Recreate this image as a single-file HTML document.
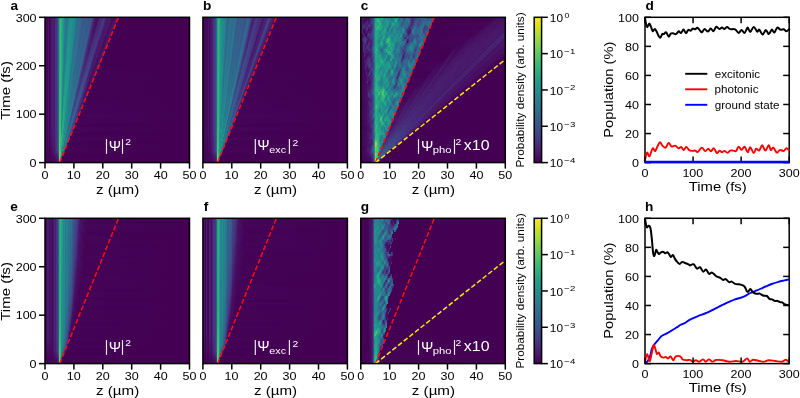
<!DOCTYPE html>
<html><head><meta charset="utf-8"><style>
html,body{margin:0;padding:0;background:#fff;width:800px;height:398px;overflow:hidden}
body{position:relative;font-family:"Liberation Sans",sans-serif}
.hm{position:absolute;overflow:hidden;background:#440154}
.hm i{position:absolute;left:0;width:100%;height:2px;display:block}
svg{position:absolute;left:0;top:0;will-change:transform}
text{font-family:"Liberation Sans",sans-serif}
</style></head><body>

<div class="hm" style="left:45px;top:17.3px;width:144.5px;height:145.3px"><i style="top:0px;background:linear-gradient(90deg,#481567 0.5px,#46075b 1.5px,#450559 2.5px,#481366 3.5px,#440154 4.5px,#471063 5.5px,#482071 7.5px,#481b6d 9.5px,#46317e 10.5px,#453581 11.5px,#414487 12.5px,#32648e 13.5px,#24aa83 14.5px,#33b67a 15.5px,#2db27d 16.5px,#1fa188 17.5px,#2e6e8e 21.5px,#25858e 23.5px,#20918c 25.5px,#24888e 29.5px,#27808e 30.5px,#31678e 32.5px,#306a8e 35.5px,#39558c 38.5px,#375b8d 40.5px,#3b528b 44.5px,#39558c 46.5px,#3f4989 47.5px,#481d6f 49.5px,#460a5d 52.5px,#482374 54.5px,#482a79 57.5px,#453681 58.5px,#443983 59.5px,#481769 62.5px,#481567 63.5px,#481d6f 64.5px,#481467 66.5px,#460b5e 68.5px,#48196b 71.5px,#481c6e 72.5px,#440154 73.5px,#440154 144.5px)"></i><i style="top:2px;background:linear-gradient(90deg,#481567 0.5px,#46075b 1.5px,#450559 2.5px,#481366 3.5px,#440154 4.5px,#471063 5.5px,#482071 7.5px,#481b6d 9.5px,#46317e 10.5px,#453581 11.5px,#414487 12.5px,#32648e 13.5px,#24ab82 14.5px,#34b679 15.5px,#2cb27d 16.5px,#1fa088 17.5px,#2e6e8e 21.5px,#228d8d 24.5px,#20938c 25.5px,#23898e 28.5px,#24878e 29.5px,#31678e 32.5px,#2e6d8e 34.5px,#365c8d 37.5px,#3a548b 38.5px,#375b8d 40.5px,#3a538b 43.5px,#38588c 45.5px,#3c508b 46.5px,#481a6c 49.5px,#460b5f 51.5px,#470c5f 52.5px,#482575 54.5px,#482777 56.5px,#443b83 58.5px,#481a6c 61.5px,#481466 62.5px,#481d6e 64.5px,#460b5e 67.5px,#48196c 71.5px,#440154 72.5px,#440154 144.5px)"></i><i style="top:4px;background:linear-gradient(90deg,#481567 0.5px,#46075b 1.5px,#450559 2.5px,#481366 3.5px,#440154 4.5px,#471063 5.5px,#482071 7.5px,#481b6d 9.5px,#46317e 10.5px,#453581 11.5px,#414487 12.5px,#32648e 13.5px,#25ab82 14.5px,#34b779 15.5px,#2cb17e 16.5px,#1fa088 17.5px,#2e6e8e 21.5px,#228d8d 24.5px,#20938c 25.5px,#23898e 28.5px,#24878e 29.5px,#2f6c8e 31.5px,#31688e 32.5px,#2f6d8e 34.5px,#3a548c 38.5px,#375a8c 40.5px,#3a548b 43.5px,#38578c 45.5px,#3e4b89 46.5px,#481f70 48.5px,#460b5f 51.5px,#482475 53.5px,#482676 55.5px,#443a83 57.5px,#453681 58.5px,#481d6f 60.5px,#481567 61.5px,#481e70 63.5px,#460b5e 66.5px,#48196c 70.5px,#440154 71.5px,#440154 144.5px)"></i><i style="top:6px;background:linear-gradient(90deg,#481567 0.5px,#46075b 1.5px,#450559 2.5px,#481366 3.5px,#440154 4.5px,#471063 5.5px,#482071 7.5px,#481b6d 9.5px,#46317e 10.5px,#453581 11.5px,#414487 12.5px,#32648e 13.5px,#25ab82 14.5px,#34b779 15.5px,#2cb17e 16.5px,#1fa088 17.5px,#2b758e 20.5px,#2d708e 21.5px,#21908c 24.5px,#20948c 25.5px,#23898e 27.5px,#25858e 29.5px,#306a8e 31.5px,#2f6c8e 34.5px,#39568c 37.5px,#37598c 40.5px,#39558c 43.5px,#3a548c 45.5px,#414487 46.5px,#472b7a 47.5px,#481b6d 48.5px,#470d60 50.5px,#470e61 51.5px,#482676 53.5px,#482a79 55.5px,#453681 56.5px,#443983 57.5px,#481769 60.5px,#481567 61.5px,#481d6f 62.5px,#460b5e 66.5px,#48196b 68.5px,#48196b 69.5px,#482072 70.5px,#440154 71.5px,#440154 144.5px)"></i><i style="top:8px;background:linear-gradient(90deg,#481567 0.5px,#46075b 1.5px,#450559 2.5px,#481366 3.5px,#440154 4.5px,#471063 5.5px,#482071 7.5px,#481b6d 9.5px,#46317e 10.5px,#453581 11.5px,#414487 12.5px,#32648e 13.5px,#25ab82 14.5px,#34b779 15.5px,#2cb17e 16.5px,#1fa088 17.5px,#2b758e 20.5px,#2d708e 21.5px,#21908c 24.5px,#20948c 25.5px,#23898e 27.5px,#25858e 29.5px,#2c728e 30.5px,#30698e 31.5px,#2e6f8e 33.5px,#355e8d 36.5px,#39558c 37.5px,#365c8d 39.5px,#3a548b 42.5px,#38598c 44.5px,#3d4c8a 45.5px,#482072 47.5px,#470d60 50.5px,#482676 52.5px,#482676 54.5px,#443a83 56.5px,#481466 60.5px,#481d6e 62.5px,#460b5e 65.5px,#48196b 68.5px,#481c6e 69.5px,#440154 70.5px,#440154 144.5px)"></i><i style="top:10px;background:linear-gradient(90deg,#481567 0.5px,#46075b 1.5px,#450559 2.5px,#481366 3.5px,#440154 4.5px,#471063 5.5px,#482071 7.5px,#481b6d 9.5px,#46317e 10.5px,#453581 11.5px,#414487 12.5px,#32648e 13.5px,#25ac82 14.5px,#35b779 15.5px,#2bb17e 16.5px,#1fa088 17.5px,#2b758e 20.5px,#2d718e 21.5px,#20948c 24.5px,#238a8d 28.5px,#26828e 29.5px,#30698e 31.5px,#2e6e8e 33.5px,#39568c 37.5px,#365c8d 39.5px,#38578c 42.5px,#39568c 44.5px,#404688 45.5px,#472d7b 46.5px,#481d6f 47.5px,#470f62 49.5px,#482979 52.5px,#482a79 54.5px,#453681 55.5px,#443983 56.5px,#481567 59.5px,#481e70 61.5px,#460b5e 64.5px,#470d60 65.5px,#48186a 66.5px,#481c6e 68.5px,#440154 69.5px,#440154 144.5px)"></i><i style="top:12px;background:linear-gradient(90deg,#481567 0.5px,#46075b 1.5px,#450559 2.5px,#481366 3.5px,#440154 4.5px,#471063 5.5px,#482071 7.5px,#481b6d 9.5px,#46317e 10.5px,#453581 11.5px,#414487 12.5px,#32648e 13.5px,#26ac82 14.5px,#35b779 15.5px,#2bb17e 16.5px,#1fa088 17.5px,#2b758e 20.5px,#2b758e 21.5px,#20938c 24.5px,#23898d 28.5px,#2e6e8e 30.5px,#306a8e 31.5px,#2e6e8e 33.5px,#38588c 36.5px,#355e8d 38.5px,#39568c 41.5px,#375b8d 43.5px,#3a528b 44.5px,#433e85 45.5px,#482273 46.5px,#470f62 49.5px,#482777 51.5px,#482878 53.5px,#443b83 55.5px,#481769 58.5px,#481567 59.5px,#481d6f 60.5px,#470c5f 63.5px,#48196c 67.5px,#440154 68.5px,#440154 144.5px)"></i><i style="top:14px;background:linear-gradient(90deg,#481567 0.5px,#46075b 1.5px,#450559 2.5px,#481366 3.5px,#440154 4.5px,#471063 5.5px,#482071 7.5px,#481b6d 9.5px,#46317e 10.5px,#453581 11.5px,#414487 12.5px,#32648e 13.5px,#26ac82 14.5px,#35b779 15.5px,#2ab07f 16.5px,#1fa088 17.5px,#24878e 19.5px,#2c728e 20.5px,#2b758e 21.5px,#20938c 24.5px,#23898d 28.5px,#2f6c8e 30.5px,#2e6e8e 33.5px,#38578c 36.5px,#355e8d 38.5px,#38578c 41.5px,#38588c 43.5px,#3f4888 44.5px,#472f7d 45.5px,#481f71 46.5px,#471164 48.5px,#472a7a 51.5px,#472d7c 53.5px,#443a83 54.5px,#453681 55.5px,#481a6c 57.5px,#481466 58.5px,#481d6e 60.5px,#470c5f 62.5px,#460b5e 63.5px,#48196b 65.5px,#48196b 66.5px,#440154 67.5px,#440154 144.5px)"></i><i style="top:16px;background:linear-gradient(90deg,#481567 0.5px,#46075b 1.5px,#450559 2.5px,#481366 3.5px,#440154 4.5px,#471063 5.5px,#482071 7.5px,#481b6d 9.5px,#46317e 10.5px,#453581 11.5px,#414487 12.5px,#32648e 13.5px,#26ac81 14.5px,#35b779 15.5px,#2ab07f 16.5px,#1f9f88 17.5px,#2c728e 20.5px,#2b758e 21.5px,#21908d 23.5px,#1f968b 24.5px,#24878e 28.5px,#2f6b8e 30.5px,#2d708e 32.5px,#38588c 36.5px,#365c8d 38.5px,#38588c 41.5px,#365c8d 42.5px,#3a548c 43.5px,#424086 44.5px,#482475 45.5px,#471164 48.5px,#482374 49.5px,#472b7a 50.5px,#482a79 52.5px,#453681 53.5px,#443983 54.5px,#481567 57.5px,#481e70 59.5px,#460b5e 62.5px,#48196b 64.5px,#48196b 65.5px,#482072 66.5px,#440154 67.5px,#440154 144.5px)"></i><i style="top:18px;background:linear-gradient(90deg,#481567 0.5px,#46075b 1.5px,#450559 2.5px,#481366 3.5px,#440154 4.5px,#471063 5.5px,#482071 7.5px,#481b6d 9.5px,#46317e 10.5px,#453581 11.5px,#414487 12.5px,#32648e 13.5px,#26ad81 14.5px,#35b778 15.5px,#2ab07f 16.5px,#1f9f88 17.5px,#2c728e 20.5px,#1f968b 24.5px,#25848e 28.5px,#2f6b8e 30.5px,#2d708e 32.5px,#375a8c 35.5px,#34608d 37.5px,#38598c 40.5px,#365b8d 42.5px,#3c4f8a 43.5px,#46317e 44.5px,#482172 45.5px,#471365 47.5px,#472d7b 50.5px,#472e7c 52.5px,#443b83 53.5px,#481769 56.5px,#481567 57.5px,#481d6f 58.5px,#460b5e 61.5px,#470d60 62.5px,#48186a 63.5px,#481c6e 65.5px,#440154 66.5px,#440154 144.5px)"></i><i style="top:20px;background:linear-gradient(90deg,#481567 0.5px,#46075b 1.5px,#450559 2.5px,#481366 3.5px,#440154 4.5px,#471063 5.5px,#482071 7.5px,#481b6d 9.5px,#46317e 10.5px,#453581 11.5px,#414487 12.5px,#32648e 13.5px,#27ad81 14.5px,#36b878 15.5px,#1f9f88 17.5px,#2c728e 20.5px,#20938c 23.5px,#1f968b 24.5px,#25848e 28.5px,#2d708e 29.5px,#2f6b8e 30.5px,#2c728e 31.5px,#2f6b8e 33.5px,#38598c 35.5px,#355f8d 37.5px,#375a8c 40.5px,#355d8d 41.5px,#39568c 42.5px,#482a79 44.5px,#471366 47.5px,#482475 48.5px,#472d7b 49.5px,#472d7c 51.5px,#453681 52.5px,#453681 53.5px,#481466 56.5px,#481b6d 57.5px,#470c5f 60.5px,#481c6e 64.5px,#440154 65.5px,#440154 144.5px)"></i><i style="top:22px;background:linear-gradient(90deg,#481567 0.5px,#46075b 1.5px,#450559 2.5px,#481366 3.5px,#440154 4.5px,#471063 5.5px,#482071 7.5px,#481b6d 9.5px,#46317e 10.5px,#453581 11.5px,#414487 12.5px,#32648e 13.5px,#27ad81 14.5px,#36b878 15.5px,#1f9f88 17.5px,#2c728e 20.5px,#20938c 23.5px,#1f968b 24.5px,#228c8d 26.5px,#228b8d 27.5px,#2e6e8e 29.5px,#2e6f8e 32.5px,#37598c 35.5px,#34618d 36.5px,#37598c 39.5px,#365d8d 41.5px,#3b518b 42.5px,#46337f 43.5px,#482374 44.5px,#481567 46.5px,#481b6d 47.5px,#472d7b 48.5px,#463480 51.5px,#443b83 52.5px,#481567 55.5px,#481d6e 57.5px,#460b5e 60.5px,#48196b 62.5px,#48196c 63.5px,#440154 64.5px,#440154 144.5px)"></i><i style="top:24px;background:linear-gradient(90deg,#481567 0.5px,#46075b 1.5px,#450559 2.5px,#481366 3.5px,#440154 4.5px,#471063 5.5px,#482071 7.5px,#481b6d 9.5px,#46317e 10.5px,#453581 11.5px,#414487 12.5px,#32648d 13.5px,#27ad81 14.5px,#36b878 15.5px,#1f9f88 17.5px,#2c728e 20.5px,#1f968b 23.5px,#238a8d 27.5px,#2e6d8e 29.5px,#2c728e 31.5px,#30688e 33.5px,#365c8d 34.5px,#33618d 36.5px,#375a8c 39.5px,#345f8d 40.5px,#375b8d 41.5px,#472c7b 43.5px,#48196c 45.5px,#48196b 46.5px,#46307e 48.5px,#46327f 50.5px,#443a83 51.5px,#481769 54.5px,#481567 55.5px,#481d6f 56.5px,#460b5e 59.5px,#48196b 61.5px,#48196b 62.5px,#440154 63.5px,#440154 144.5px)"></i><i style="top:26px;background:linear-gradient(90deg,#481567 0.5px,#46075b 1.5px,#450559 2.5px,#481366 3.5px,#440154 4.5px,#471063 5.5px,#482071 7.5px,#481b6d 9.5px,#46317e 10.5px,#453581 11.5px,#414487 12.5px,#33648d 13.5px,#27ae81 14.5px,#36b878 15.5px,#1f9f88 17.5px,#277e8e 19.5px,#2b748e 20.5px,#218f8d 22.5px,#1f968b 23.5px,#23898d 27.5px,#2b768e 28.5px,#2e6d8e 29.5px,#2c728e 31.5px,#375b8d 34.5px,#34618d 36.5px,#375a8c 38.5px,#355f8d 40.5px,#3a538b 41.5px,#482575 43.5px,#481769 45.5px,#472e7c 47.5px,#472f7d 49.5px,#443a83 50.5px,#443983 51.5px,#482677 52.5px,#481466 54.5px,#481b6d 55.5px,#471265 57.5px,#460b5e 58.5px,#482072 62.5px,#440154 63.5px,#440154 144.5px)"></i><i style="top:28px;background:linear-gradient(90deg,#481567 0.5px,#46075b 1.5px,#450559 2.5px,#481366 3.5px,#440154 4.5px,#471063 5.5px,#482071 7.5px,#481b6d 9.5px,#46317e 10.5px,#453581 11.5px,#414487 12.5px,#33648d 13.5px,#28ae80 14.5px,#36b878 15.5px,#1f9e88 17.5px,#277e8e 19.5px,#2b748e 20.5px,#1f988b 23.5px,#24868e 27.5px,#2c728e 28.5px,#2e6e8e 29.5px,#2c748e 30.5px,#2f6c8e 32.5px,#365b8d 34.5px,#33638d 35.5px,#365c8d 38.5px,#365c8d 40.5px,#3d4c8a 41.5px,#472e7c 42.5px,#481b6d 44.5px,#481a6c 45.5px,#46327e 47.5px,#463480 49.5px,#433c84 50.5px,#481567 53.5px,#481d6e 55.5px,#470c5f 57.5px,#481c6e 61.5px,#440154 62.5px,#440154 144.5px)"></i><i style="top:30px;background:linear-gradient(90deg,#481567 0.5px,#46075b 1.5px,#450559 2.5px,#481366 3.5px,#440154 4.5px,#471063 5.5px,#482071 7.5px,#481b6d 9.5px,#46317e 10.5px,#453581 11.5px,#414487 12.5px,#33648d 13.5px,#28ae80 14.5px,#37b878 15.5px,#1f9e89 17.5px,#29798e 19.5px,#2b748e 20.5px,#20938c 22.5px,#1f988b 23.5px,#218e8d 26.5px,#2d708e 28.5px,#2b748e 30.5px,#306a8e 32.5px,#355e8d 33.5px,#33638d 35.5px,#355d8d 38.5px,#34618d 39.5px,#39558c 40.5px,#482777 42.5px,#48196b 44.5px,#47307d 46.5px,#46337f 48.5px,#443b83 49.5px,#453681 50.5px,#482374 51.5px,#481567 53.5px,#481e70 54.5px,#460b5e 57.5px,#481c6e 60.5px,#440154 61.5px,#440154 144.5px)"></i><i style="top:32px;background:linear-gradient(90deg,#481567 0.5px,#46075b 1.5px,#450559 2.5px,#481366 3.5px,#440154 4.5px,#471063 5.5px,#482071 7.5px,#481b6d 9.5px,#46317e 10.5px,#453581 11.5px,#414487 12.5px,#33648d 13.5px,#28ae80 14.5px,#37b878 15.5px,#1f9e89 17.5px,#297a8e 19.5px,#29798e 20.5px,#20938c 22.5px,#1f998a 23.5px,#218e8d 25.5px,#218e8d 26.5px,#2d708e 28.5px,#2b748e 30.5px,#365d8d 33.5px,#33628d 35.5px,#365c8d 37.5px,#34608d 39.5px,#3c4e8a 40.5px,#47307d 41.5px,#481d6f 43.5px,#481c6e 44.5px,#472f7d 45.5px,#433c84 49.5px,#481d6f 51.5px,#481466 52.5px,#481d6f 53.5px,#460b5e 56.5px,#48196b 58.5px,#48196c 59.5px,#440154 60.5px,#440154 144.5px)"></i><i style="top:34px;background:linear-gradient(90deg,#481567 0.5px,#46075b 1.5px,#450559 2.5px,#481366 3.5px,#440154 4.5px,#471063 5.5px,#482071 7.5px,#481b6d 9.5px,#46317e 10.5px,#453581 11.5px,#414487 12.5px,#33648d 13.5px,#28af80 14.5px,#37b878 15.5px,#1e9d89 17.5px,#21908d 18.5px,#297a8e 19.5px,#29798e 20.5px,#1f968b 22.5px,#1f998a 23.5px,#21908d 25.5px,#228c8d 26.5px,#2a788e 27.5px,#2e6f8e 28.5px,#2c738e 30.5px,#365d8d 33.5px,#32658e 34.5px,#345f8d 37.5px,#33628d 38.5px,#375b8d 39.5px,#482979 41.5px,#481a6c 43.5px,#463480 45.5px,#423f85 48.5px,#481567 51.5px,#481d6e 53.5px,#460b5e 55.5px,#48196b 58.5px,#440154 59.5px,#440154 144.5px)"></i><i style="top:36px;background:linear-gradient(90deg,#481567 0.5px,#46075b 1.5px,#450559 2.5px,#481366 3.5px,#440154 4.5px,#471063 5.5px,#482071 7.5px,#481b6d 9.5px,#46317e 10.5px,#453581 11.5px,#414487 12.5px,#33638d 13.5px,#29af80 14.5px,#37b878 15.5px,#1e9d89 17.5px,#2a778e 19.5px,#29798e 20.5px,#1f968b 22.5px,#1f998a 23.5px,#21908c 24.5px,#21918c 25.5px,#23898e 26.5px,#2a788e 27.5px,#2d708e 28.5px,#2b768e 29.5px,#2f6c8e 31.5px,#34608d 32.5px,#32658e 34.5px,#355e8d 36.5px,#33628d 38.5px,#3b508b 39.5px,#46327f 40.5px,#481f71 42.5px,#481e70 43.5px,#46307e 44.5px,#453580 46.5px,#423f85 47.5px,#443a83 48.5px,#482374 49.5px,#481567 51.5px,#481e70 52.5px,#470c5f 54.5px,#470d60 55.5px,#48186a 56.5px,#482072 58.5px,#440154 59.5px,#440154 144.5px)"></i><i style="top:38px;background:linear-gradient(90deg,#481567 0.5px,#46075b 1.5px,#450559 2.5px,#481366 3.5px,#440154 4.5px,#471063 5.5px,#482071 7.5px,#481b6d 9.5px,#46317e 10.5px,#453581 11.5px,#414487 12.5px,#33638d 13.5px,#29af7f 14.5px,#37b877 15.5px,#27ad81 16.5px,#1e9d89 17.5px,#2a778e 19.5px,#277f8e 20.5px,#1f998a 22.5px,#20918c 25.5px,#23898e 26.5px,#2b748e 27.5px,#2c728e 30.5px,#355f8d 32.5px,#33638d 34.5px,#345f8d 36.5px,#32648e 37.5px,#365d8d 38.5px,#472b7a 40.5px,#481c6e 42.5px,#453681 44.5px,#443983 46.5px,#424286 47.5px,#481d6f 49.5px,#481466 50.5px,#481d6f 51.5px,#460b5e 54.5px,#482072 57.5px,#440154 58.5px,#440154 144.5px)"></i><i style="top:40px;background:linear-gradient(90deg,#481567 0.5px,#46075b 1.5px,#450559 2.5px,#481366 3.5px,#440154 4.5px,#471063 5.5px,#482071 7.5px,#481b6d 9.5px,#46317e 10.5px,#453581 11.5px,#414487 12.5px,#33638d 13.5px,#29af7f 14.5px,#37b977 15.5px,#26ad81 16.5px,#1e9d89 17.5px,#2a778e 19.5px,#277f8e 20.5px,#1f998a 22.5px,#20918c 25.5px,#2c728e 27.5px,#2b768e 29.5px,#355f8d 32.5px,#31668e 33.5px,#34618d 36.5px,#32648e 37.5px,#3b528b 38.5px,#463480 39.5px,#482072 41.5px,#482576 42.5px,#453681 43.5px,#443982 45.5px,#414387 46.5px,#453681 47.5px,#482071 48.5px,#481567 49.5px,#481a6c 51.5px,#460b5e 53.5px,#481c6e 56.5px,#440154 57.5px,#440154 144.5px)"></i><i style="top:42px;background:linear-gradient(90deg,#481567 0.5px,#46075b 1.5px,#450559 2.5px,#481366 3.5px,#440154 4.5px,#471063 5.5px,#482071 7.5px,#481b6d 9.5px,#46317e 10.5px,#453581 11.5px,#414487 12.5px,#33638d 13.5px,#2ab07f 14.5px,#37b977 15.5px,#26ac81 16.5px,#1e9d89 17.5px,#2a768e 19.5px,#1e9c8a 22.5px,#21908c 25.5px,#2d718e 27.5px,#2b758e 29.5px,#33628d 31.5px,#31668e 33.5px,#34608d 35.5px,#32658e 36.5px,#33618d 37.5px,#3e4b89 38.5px,#472f7d 39.5px,#482071 41.5px,#443983 43.5px,#453882 44.5px,#424186 46.5px,#482a79 47.5px,#481a6c 48.5px,#481567 49.5px,#481d6e 50.5px,#460b5e 52.5px,#48196b 54.5px,#48196c 55.5px,#440154 56.5px,#440154 144.5px)"></i><i style="top:44px;background:linear-gradient(90deg,#481567 0.5px,#46075b 1.5px,#450559 2.5px,#481366 3.5px,#440154 4.5px,#471063 5.5px,#482071 7.5px,#481b6d 9.5px,#46317e 10.5px,#453581 11.5px,#414487 12.5px,#33638d 13.5px,#2ab07f 14.5px,#38b977 15.5px,#26ac82 16.5px,#1e9b8a 17.5px,#2a768e 19.5px,#1e9c89 22.5px,#20928c 24.5px,#218e8d 25.5px,#297b8e 26.5px,#2c728e 27.5px,#2a798e 28.5px,#34618d 31.5px,#32658e 33.5px,#31668e 36.5px,#375a8c 37.5px,#433c84 38.5px,#482273 40.5px,#482777 41.5px,#453882 42.5px,#443a83 44.5px,#404688 45.5px,#481e70 47.5px,#481466 48.5px,#481d6f 49.5px,#470c5f 51.5px,#470d60 52.5px,#48186a 53.5px,#48196b 54.5px,#440154 55.5px,#440154 144.5px)"></i><i style="top:46px;background:linear-gradient(90deg,#481567 0.5px,#46075b 1.5px,#450559 2.5px,#481366 3.5px,#440154 4.5px,#471063 5.5px,#482071 7.5px,#481b6d 9.5px,#46317e 10.5px,#453581 11.5px,#414487 12.5px,#33638d 13.5px,#2ab07f 14.5px,#38b977 15.5px,#26ac81 16.5px,#1e9b8a 17.5px,#2a778e 19.5px,#1f968b 21.5px,#1e9c89 22.5px,#20948c 23.5px,#228b8d 25.5px,#2a778e 26.5px,#2c738e 29.5px,#33648d 31.5px,#30698e 32.5px,#34618d 34.5px,#31678e 35.5px,#33638d 36.5px,#3d4d8a 37.5px,#46327e 38.5px,#482273 40.5px,#443b84 42.5px,#443b83 43.5px,#404587 44.5px,#423f85 45.5px,#481567 47.5px,#481a6c 49.5px,#460b5e 51.5px,#482576 54.5px,#440154 55.5px,#440154 144.5px)"></i><i style="top:48px;background:linear-gradient(90deg,#481567 0.5px,#46075b 1.5px,#450559 2.5px,#481366 3.5px,#440154 4.5px,#471063 5.5px,#482071 7.5px,#481b6d 9.5px,#46317e 10.5px,#453581 11.5px,#414487 12.5px,#33638d 13.5px,#2bb07e 14.5px,#38b977 15.5px,#26ac81 16.5px,#1e9b8a 17.5px,#29798e 19.5px,#1f9a8a 21.5px,#1e9c89 22.5px,#20938c 23.5px,#20948c 24.5px,#2b748e 26.5px,#2a788e 28.5px,#2c728e 29.5px,#32648e 30.5px,#30688e 32.5px,#33638d 34.5px,#31688e 35.5px,#365c8d 36.5px,#433e85 37.5px,#482475 39.5px,#482979 40.5px,#443a83 41.5px,#404688 44.5px,#481d6e 46.5px,#48186a 47.5px,#481d6e 48.5px,#460b5e 50.5px,#482072 53.5px,#440154 54.5px,#440154 144.5px)"></i><i style="top:50px;background:linear-gradient(90deg,#481567 0.5px,#46075b 1.5px,#450559 2.5px,#481366 3.5px,#440154 4.5px,#471063 5.5px,#482071 7.5px,#481b6d 9.5px,#46317e 10.5px,#453581 11.5px,#414487 12.5px,#33638d 13.5px,#2bb17e 14.5px,#38b977 15.5px,#26ac82 16.5px,#1e9b8a 17.5px,#25838e 18.5px,#29798e 19.5px,#218f8d 20.5px,#1f9a8a 21.5px,#20948c 24.5px,#2c748e 26.5px,#297a8e 27.5px,#2e6e8e 29.5px,#33638d 30.5px,#2f6b8e 31.5px,#33638d 33.5px,#31678e 35.5px,#463480 37.5px,#482475 39.5px,#443983 40.5px,#433c84 42.5px,#3f4989 43.5px,#443b84 44.5px,#482374 45.5px,#481466 46.5px,#481e70 47.5px,#470c5f 49.5px,#481c6e 52.5px,#440154 53.5px,#440154 144.5px)"></i><i style="top:52px;background:linear-gradient(90deg,#481567 0.5px,#46075b 1.5px,#450559 2.5px,#481366 3.5px,#440154 4.5px,#471063 5.5px,#482071 7.5px,#481b6d 9.5px,#46317e 10.5px,#453581 11.5px,#414487 12.5px,#33638d 13.5px,#2cb17e 14.5px,#38b977 15.5px,#25ac82 16.5px,#1f998a 17.5px,#25838e 18.5px,#287d8e 19.5px,#1e9d89 21.5px,#20938c 24.5px,#287d8e 25.5px,#2b748e 26.5px,#297b8e 27.5px,#32668e 30.5px,#2f6b8e 31.5px,#32648e 33.5px,#306a8e 34.5px,#33628d 35.5px,#424186 36.5px,#482777 38.5px,#472b7a 39.5px,#433e85 40.5px,#414387 43.5px,#48186a 45.5px,#481769 47.5px,#470d60 49.5px,#48186a 50.5px,#48196c 51.5px,#440254 52.5px,#440154 144.5px)"></i><i style="top:54px;background:linear-gradient(90deg,#481567 0.5px,#46075b 1.5px,#450559 2.5px,#481366 3.5px,#440154 4.5px,#471063 5.5px,#482071 7.5px,#481b6d 9.5px,#46317e 10.5px,#453581 11.5px,#414487 12.5px,#33638d 13.5px,#2cb17e 14.5px,#38b977 15.5px,#25ab82 16.5px,#1f998a 17.5px,#277f8e 18.5px,#287d8e 19.5px,#20938c 20.5px,#1e9d89 21.5px,#20918c 24.5px,#29798e 25.5px,#297a8e 27.5px,#31668e 29.5px,#30698e 34.5px,#38588c 35.5px,#453681 36.5px,#482677 38.5px,#443b84 39.5px,#424086 41.5px,#3e4b8a 42.5px,#482172 44.5px,#48186b 45.5px,#481d6e 46.5px,#460b5e 48.5px,#48196b 50.5px,#440254 51.5px,#440154 144.5px)"></i><i style="top:56px;background:linear-gradient(90deg,#481567 0.5px,#46075b 1.5px,#450559 2.5px,#481366 3.5px,#440154 4.5px,#471063 5.5px,#482071 7.5px,#481b6d 9.5px,#46317e 10.5px,#453581 11.5px,#414487 12.5px,#33638d 13.5px,#2cb27d 14.5px,#38b977 15.5px,#25ab82 16.5px,#1f998a 17.5px,#277f8e 18.5px,#25838e 19.5px,#1f9f88 21.5px,#218e8d 24.5px,#2a778e 25.5px,#29798e 27.5px,#32658e 29.5px,#2e6d8e 30.5px,#32658e 32.5px,#2f6b8e 33.5px,#32648e 34.5px,#414387 35.5px,#482978 37.5px,#414286 39.5px,#424086 40.5px,#3e4a89 41.5px,#424086 42.5px,#482777 43.5px,#48186b 44.5px,#481e70 45.5px,#460b5e 47.5px,#48196b 49.5px,#440254 50.5px,#440154 144.5px)"></i><i style="top:58px;background:linear-gradient(90deg,#481567 0.5px,#46075b 1.5px,#450559 2.5px,#481366 3.5px,#440154 4.5px,#471063 5.5px,#482071 7.5px,#481b6d 9.5px,#46317e 10.5px,#453581 11.5px,#414487 12.5px,#33638d 13.5px,#2db27d 14.5px,#38b977 15.5px,#25ab82 16.5px,#1f968b 17.5px,#277f8e 18.5px,#25838e 19.5px,#1f968b 20.5px,#1fa088 21.5px,#1f968b 22.5px,#1f978b 23.5px,#2a768e 25.5px,#287c8e 26.5px,#31688e 29.5px,#2e6d8e 30.5px,#31678e 32.5px,#2f6c8e 33.5px,#375a8c 34.5px,#443982 35.5px,#472c7b 37.5px,#433d84 38.5px,#3e4b8a 41.5px,#481d6f 43.5px,#481f71 44.5px,#470c5f 46.5px,#482072 49.5px,#440254 50.5px,#440154 144.5px)"></i><i style="top:60px;background:linear-gradient(90deg,#481567 0.5px,#46075b 1.5px,#450559 2.5px,#481366 3.5px,#440154 4.5px,#471063 5.5px,#482071 7.5px,#481b6d 9.5px,#46317e 10.5px,#453581 11.5px,#414487 12.5px,#33638d 13.5px,#2db27d 14.5px,#38b977 15.5px,#25ab82 16.5px,#1f968b 17.5px,#287c8e 18.5px,#1f9a8a 20.5px,#1f9f88 21.5px,#1f968b 22.5px,#1f968b 23.5px,#27808e 24.5px,#29798e 25.5px,#287d8e 26.5px,#2f6b8e 28.5px,#30698e 33.5px,#453580 35.5px,#472b7a 36.5px,#414487 38.5px,#414387 39.5px,#3c4f8a 40.5px,#482676 42.5px,#470e61 45.5px,#470d60 46.5px,#48196b 47.5px,#481c6e 48.5px,#440254 49.5px,#440154 144.5px)"></i><i style="top:62px;background:linear-gradient(90deg,#481567 0.5px,#46075b 1.5px,#450559 2.5px,#481366 3.5px,#440154 4.5px,#471063 5.5px,#482071 7.5px,#481b6d 9.5px,#46317e 10.5px,#453581 11.5px,#414487 12.5px,#33638d 13.5px,#2eb37d 14.5px,#38b977 15.5px,#25ab82 16.5px,#1f978b 17.5px,#287c8e 18.5px,#1f9a8a 20.5px,#1f9e89 21.5px,#20948c 23.5px,#287c8e 24.5px,#287d8e 26.5px,#31688e 28.5px,#2e6f8e 29.5px,#30688e 31.5px,#2e6e8e 32.5px,#365c8d 33.5px,#443b84 34.5px,#472e7c 36.5px,#414387 37.5px,#3f4989 40.5px,#472f7d 41.5px,#481d6f 42.5px,#482172 43.5px,#471063 44.5px,#460b5e 45.5px,#48186a 46.5px,#48196c 47.5px,#440255 48.5px,#440154 144.5px)"></i><i style="top:64px;background:linear-gradient(90deg,#481567 0.5px,#46075b 1.5px,#450559 2.5px,#481366 3.5px,#440154 4.5px,#471063 5.5px,#482071 7.5px,#481b6d 9.5px,#46317e 10.5px,#453581 11.5px,#414487 12.5px,#33638d 13.5px,#2eb37c 14.5px,#38b977 15.5px,#25ab82 16.5px,#20938c 17.5px,#287c8e 18.5px,#1f9e89 20.5px,#1f998a 22.5px,#20918c 23.5px,#297a8e 24.5px,#287c8e 26.5px,#306a8e 28.5px,#2e6f8e 29.5px,#306a8e 30.5px,#2f6b8e 32.5px,#453782 34.5px,#472e7c 35.5px,#404788 37.5px,#3f4788 38.5px,#3b518b 39.5px,#482273 41.5px,#482474 42.5px,#460b5e 44.5px,#48196b 46.5px,#440255 47.5px,#440154 144.5px)"></i><i style="top:66px;background:linear-gradient(90deg,#481567 0.5px,#46075b 1.5px,#450559 2.5px,#481366 3.5px,#440154 4.5px,#471063 5.5px,#482071 7.5px,#481b6d 9.5px,#46317e 10.5px,#453581 11.5px,#414487 12.5px,#33638d 13.5px,#2fb37c 14.5px,#38b977 15.5px,#24ab82 16.5px,#20938c 17.5px,#287c8e 18.5px,#20938c 19.5px,#1fa188 20.5px,#1f998a 22.5px,#29798e 24.5px,#27808e 25.5px,#2e6d8e 27.5px,#306a8e 30.5px,#2d708e 31.5px,#32648e 32.5px,#424286 33.5px,#463480 34.5px,#46317e 35.5px,#3f4788 36.5px,#3f4788 37.5px,#3b518b 38.5px,#472b7a 40.5px,#481a6c 42.5px,#470c5f 43.5px,#48196b 45.5px,#440255 46.5px,#440154 144.5px)"></i><i style="top:68px;background:linear-gradient(90deg,#481567 0.5px,#46075b 1.5px,#450559 2.5px,#481366 3.5px,#440154 4.5px,#471063 5.5px,#482071 7.5px,#481b6d 9.5px,#46317e 10.5px,#453581 11.5px,#414487 12.5px,#33638d 13.5px,#2fb47c 14.5px,#39b977 15.5px,#24aa83 16.5px,#20938c 17.5px,#277e8e 18.5px,#20a387 20.5px,#1f9a8a 21.5px,#1f9a8a 22.5px,#287c8e 24.5px,#27808e 25.5px,#306a8e 27.5px,#2c728e 28.5px,#2e6d8e 30.5px,#2d6f8e 31.5px,#443a83 33.5px,#47307d 34.5px,#3f4989 36.5px,#3c4e8a 38.5px,#463480 39.5px,#482374 40.5px,#482475 41.5px,#471063 42.5px,#470d60 43.5px,#482072 45.5px,#440255 46.5px,#440154 144.5px)"></i><i style="top:70px;background:linear-gradient(90deg,#481567 0.5px,#46075b 1.5px,#450559 2.5px,#481366 3.5px,#440154 4.5px,#471063 5.5px,#482071 7.5px,#481b6d 9.5px,#46317e 10.5px,#453581 11.5px,#414487 12.5px,#33638d 13.5px,#30b47c 14.5px,#39b977 15.5px,#24aa83 16.5px,#218f8d 17.5px,#277e8e 18.5px,#1f978b 19.5px,#20a486 20.5px,#1f9a8a 21.5px,#1f998a 22.5px,#277f8e 23.5px,#277f8e 25.5px,#2e6d8e 27.5px,#2d718e 30.5px,#31668e 31.5px,#414487 32.5px,#453781 33.5px,#453882 34.5px,#3e4989 35.5px,#3e4a89 36.5px,#39558c 37.5px,#482777 39.5px,#482878 40.5px,#460b5e 42.5px,#48186a 43.5px,#481c6e 44.5px,#440255 45.5px,#440154 144.5px)"></i><i style="top:72px;background:linear-gradient(90deg,#481567 0.5px,#46075b 1.5px,#450559 2.5px,#481366 3.5px,#440154 4.5px,#471063 5.5px,#482071 7.5px,#481b6d 9.5px,#46317e 10.5px,#453581 11.5px,#414487 12.5px,#33638d 13.5px,#30b47b 14.5px,#39b977 15.5px,#24aa83 16.5px,#218f8d 17.5px,#26828e 18.5px,#1e9b8a 19.5px,#20a486 20.5px,#1f978b 22.5px,#287d8e 23.5px,#26828e 24.5px,#287e8e 25.5px,#2d708e 26.5px,#2c728e 30.5px,#433d84 32.5px,#46327f 33.5px,#3f4788 34.5px,#3b528b 36.5px,#3e4b89 37.5px,#47307d 38.5px,#481f70 40.5px,#460b5f 41.5px,#48196c 43.5px,#440255 44.5px,#440154 144.5px)"></i><i style="top:74px;background:linear-gradient(90deg,#481567 0.5px,#46075b 1.5px,#450559 2.5px,#481366 3.5px,#440154 4.5px,#471063 5.5px,#482071 7.5px,#481b6d 9.5px,#46317e 10.5px,#453581 11.5px,#414487 12.5px,#33638d 13.5px,#31b57b 14.5px,#39b976 15.5px,#23a983 16.5px,#238a8d 17.5px,#23888e 18.5px,#1e9b8a 19.5px,#20a386 20.5px,#20948c 22.5px,#287c8e 23.5px,#26838e 24.5px,#287c8e 25.5px,#2e6d8e 26.5px,#2b748e 27.5px,#2e6e8e 28.5px,#2e6d8e 30.5px,#3f4788 31.5px,#443a83 32.5px,#443a83 33.5px,#3d4d8a 34.5px,#39568c 36.5px,#443983 37.5px,#482878 38.5px,#482676 39.5px,#471164 40.5px,#48196b 42.5px,#440255 43.5px,#440154 144.5px)"></i><i style="top:76px;background:linear-gradient(90deg,#481567 0.5px,#46075b 1.5px,#450559 2.5px,#481366 3.5px,#440154 4.5px,#471063 5.5px,#482071 7.5px,#481b6d 9.5px,#46317e 10.5px,#453581 11.5px,#414487 12.5px,#33638d 13.5px,#31b57b 14.5px,#39b976 15.5px,#23a983 16.5px,#238a8d 17.5px,#23888e 18.5px,#1f9e88 19.5px,#1e9d89 21.5px,#277f8e 23.5px,#26828e 24.5px,#2d6f8e 26.5px,#2e6f8e 28.5px,#2b758e 29.5px,#423f86 31.5px,#453581 32.5px,#3f4989 33.5px,#38578c 35.5px,#472c7b 37.5px,#472e7c 38.5px,#48196b 39.5px,#470e61 40.5px,#48196b 41.5px,#440255 42.5px,#440154 144.5px)"></i><i style="top:78px;background:linear-gradient(90deg,#481567 0.5px,#46075b 1.5px,#450559 2.5px,#481366 3.5px,#440154 4.5px,#471063 5.5px,#482071 7.5px,#481b6d 9.5px,#46317e 10.5px,#453581 11.5px,#414487 12.5px,#33638d 13.5px,#32b57a 14.5px,#39ba76 15.5px,#23a983 16.5px,#25858e 17.5px,#218e8d 18.5px,#1fa287 19.5px,#1f9d89 21.5px,#24868e 22.5px,#26818e 24.5px,#2c738e 25.5px,#2c728e 29.5px,#3e4a89 30.5px,#433c84 31.5px,#433d84 32.5px,#3b508b 33.5px,#39558c 35.5px,#453581 36.5px,#482172 38.5px,#471164 39.5px,#482072 41.5px,#440255 42.5px,#440154 144.5px)"></i><i style="top:80px;background:linear-gradient(90deg,#481567 0.5px,#46075b 1.5px,#450559 2.5px,#481366 3.5px,#440154 4.5px,#471063 5.5px,#482071 7.5px,#481b6d 9.5px,#46317e 10.5px,#453581 11.5px,#414487 12.5px,#33638d 13.5px,#32b67a 14.5px,#39ba76 15.5px,#22a784 16.5px,#24858e 17.5px,#21a586 19.5px,#1e9d89 21.5px,#26808e 22.5px,#25858e 23.5px,#277f8e 24.5px,#2d708e 25.5px,#2a768e 26.5px,#2d718e 27.5px,#2a778e 28.5px,#32668e 29.5px,#414287 30.5px,#453882 31.5px,#3c4f8b 32.5px,#3b518b 33.5px,#365d8d 34.5px,#472e7c 36.5px,#472b7a 37.5px,#481568 38.5px,#481c6e 40.5px,#440255 41.5px,#440154 144.5px)"></i><i style="top:82px;background:linear-gradient(90deg,#481567 0.5px,#46075b 1.5px,#450559 2.5px,#481366 3.5px,#440154 4.5px,#471063 5.5px,#482071 7.5px,#481b6d 9.5px,#46317e 10.5px,#453581 11.5px,#414487 12.5px,#33638d 13.5px,#33b67a 14.5px,#39ba76 15.5px,#22a784 16.5px,#26838e 17.5px,#20948c 18.5px,#22a784 19.5px,#1f988b 21.5px,#27808e 22.5px,#24868e 23.5px,#2c728e 25.5px,#2b758e 28.5px,#3b528b 29.5px,#423f85 30.5px,#404588 31.5px,#3a538b 32.5px,#37598c 33.5px,#3d4d8a 34.5px,#46327f 35.5px,#46337f 36.5px,#481d6e 37.5px,#48196c 39.5px,#440255 40.5px,#440154 144.5px)"></i><i style="top:84px;background:linear-gradient(90deg,#481567 0.5px,#46075b 1.5px,#450559 2.5px,#481366 3.5px,#440154 4.5px,#471063 5.5px,#482071 7.5px,#481b6d 9.5px,#46317e 10.5px,#453581 11.5px,#414487 12.5px,#33638d 13.5px,#36b878 14.5px,#39ba76 15.5px,#22a784 16.5px,#26838e 17.5px,#1f988b 18.5px,#22a884 19.5px,#20938c 21.5px,#26828e 22.5px,#25858e 23.5px,#2b768e 24.5px,#29798e 25.5px,#2b748e 26.5px,#2a798e 27.5px,#30688e 28.5px,#404588 29.5px,#433c84 30.5px,#3a548c 31.5px,#3a548b 32.5px,#355d8d 33.5px,#433e85 34.5px,#482475 36.5px,#48186a 37.5px,#48196b 38.5px,#450356 39.5px,#440154 144.5px)"></i><i style="top:86px;background:linear-gradient(90deg,#481567 0.5px,#46075b 1.5px,#450559 2.5px,#481366 3.5px,#440154 4.5px,#471063 5.5px,#482071 7.5px,#481b6d 9.5px,#46317e 10.5px,#453581 11.5px,#414487 12.5px,#33638d 13.5px,#36b878 14.5px,#3aba76 15.5px,#21a586 16.5px,#26828e 17.5px,#1e9c89 18.5px,#22a884 19.5px,#1fa187 20.5px,#238a8d 21.5px,#25838e 23.5px,#2c738e 24.5px,#29798e 25.5px,#2b758e 26.5px,#29798e 27.5px,#39558c 28.5px,#414287 29.5px,#3f4889 30.5px,#34618d 32.5px,#46337f 34.5px,#472d7c 35.5px,#481a6c 36.5px,#481e70 37.5px,#450356 38.5px,#440154 144.5px)"></i><i style="top:88px;background:linear-gradient(90deg,#481567 0.5px,#46075b 1.5px,#450559 2.5px,#481366 3.5px,#440154 4.5px,#471063 5.5px,#482071 7.5px,#481b6d 9.5px,#46317e 10.5px,#453581 11.5px,#414487 12.5px,#33638d 13.5px,#37b877 14.5px,#3aba76 15.5px,#21a586 16.5px,#25848e 17.5px,#1fa088 18.5px,#1fa187 20.5px,#24868e 21.5px,#23898d 22.5px,#2a788e 24.5px,#297a8e 26.5px,#2d708e 27.5px,#3e4989 28.5px,#423f85 29.5px,#39568c 30.5px,#375b8d 31.5px,#38578c 32.5px,#453882 33.5px,#453782 34.5px,#481f70 35.5px,#482072 37.5px,#440255 38.5px,#440154 144.5px)"></i><i style="top:90px;background:linear-gradient(90deg,#481567 0.5px,#46075b 1.5px,#450559 2.5px,#481366 3.5px,#440154 4.5px,#471063 5.5px,#482071 7.5px,#481b6d 9.5px,#46317e 10.5px,#453581 11.5px,#414487 12.5px,#33638d 13.5px,#38b977 14.5px,#3aba76 15.5px,#1fa287 16.5px,#25848e 17.5px,#20a486 18.5px,#1f9f88 20.5px,#25838e 21.5px,#23898e 22.5px,#29798e 23.5px,#287c8e 24.5px,#2a778e 25.5px,#287d8e 26.5px,#38588c 27.5px,#404688 28.5px,#32648e 31.5px,#414487 32.5px,#433c84 33.5px,#482677 34.5px,#482072 36.5px,#440356 37.5px,#440154 144.5px)"></i><i style="top:92px;background:linear-gradient(90deg,#481567 0.5px,#46075b 1.5px,#450559 2.5px,#481366 3.5px,#440154 4.5px,#471063 5.5px,#482071 7.5px,#481b6d 9.5px,#46317e 10.5px,#453581 11.5px,#414487 12.5px,#33638d 13.5px,#39b977 14.5px,#3bba76 15.5px,#1fa287 16.5px,#23898e 17.5px,#22a784 18.5px,#1e9c89 20.5px,#24868e 21.5px,#24878e 22.5px,#2b768e 23.5px,#29798e 25.5px,#2a778e 26.5px,#3d4d8a 27.5px,#414287 28.5px,#375a8d 29.5px,#34618d 30.5px,#443983 32.5px,#482172 34.5px,#482273 35.5px,#450356 36.5px,#440154 144.5px)"></i><i style="top:94px;background:linear-gradient(90deg,#481567 0.5px,#46075b 1.5px,#450559 2.5px,#481366 3.5px,#440154 4.5px,#471063 5.5px,#482071 7.5px,#481b6d 9.5px,#46317e 10.5px,#453580 11.5px,#414487 12.5px,#33638d 13.5px,#3aba76 14.5px,#3bba75 15.5px,#1f9f88 16.5px,#218f8d 17.5px,#24aa83 18.5px,#20a386 19.5px,#20938c 20.5px,#287b8e 23.5px,#27808e 25.5px,#3f4989 27.5px,#38588c 28.5px,#33628d 30.5px,#433e85 31.5px,#443a83 32.5px,#482475 33.5px,#482777 34.5px,#450357 35.5px,#440154 144.5px)"></i><i style="top:96px;background:linear-gradient(90deg,#481567 0.5px,#46075b 1.5px,#450559 2.5px,#481366 3.5px,#440154 4.5px,#471063 5.5px,#482071 7.5px,#481b6d 9.5px,#46317e 10.5px,#453580 11.5px,#414487 12.5px,#33638d 13.5px,#3bba75 14.5px,#3cbb75 15.5px,#1f9f88 16.5px,#1f958c 17.5px,#27ad81 18.5px,#20a486 19.5px,#238a8d 20.5px,#228d8d 21.5px,#277f8e 22.5px,#287d8e 25.5px,#3b508b 26.5px,#3f4989 27.5px,#355e8d 28.5px,#30698e 29.5px,#3e4a89 30.5px,#414287 31.5px,#472a7a 32.5px,#472c7b 33.5px,#450457 34.5px,#440154 144.5px)"></i><i style="top:98px;background:linear-gradient(90deg,#481567 0.5px,#46075b 1.5px,#450559 2.5px,#481366 3.5px,#440154 4.5px,#471063 5.5px,#482071 7.5px,#481b6d 9.5px,#46317e 10.5px,#453580 11.5px,#414487 12.5px,#33638d 13.5px,#3cbb75 14.5px,#3cbb75 15.5px,#1f9a8a 16.5px,#1f9a8a 17.5px,#26ad81 18.5px,#21a685 19.5px,#24878e 20.5px,#228c8d 21.5px,#297a8e 22.5px,#27808e 24.5px,#2f6b8e 25.5px,#3d4c8a 26.5px,#355e8d 27.5px,#32648e 28.5px,#46337f 31.5px,#472e7c 32.5px,#450558 33.5px,#440154 144.5px)"></i><i style="top:100px;background:linear-gradient(90deg,#481567 0.5px,#46075b 1.5px,#450559 2.5px,#481366 3.5px,#440154 4.5px,#471063 5.5px,#482071 7.5px,#481b6d 9.5px,#46317e 10.5px,#453580 11.5px,#414487 12.5px,#33638d 13.5px,#3dbb74 14.5px,#3cbb75 15.5px,#1f968b 16.5px,#23a983 18.5px,#20a486 19.5px,#228d8d 20.5px,#287e8e 23.5px,#26828e 24.5px,#3a548c 25.5px,#3d4c8a 26.5px,#33628d 27.5px,#2f6b8e 28.5px,#404588 29.5px,#433e85 30.5px,#472e7c 31.5px,#472e7c 32.5px,#450356 33.5px,#440154 144.5px)"></i><i style="top:102px;background:linear-gradient(90deg,#481567 0.5px,#46075b 1.5px,#450559 2.5px,#481366 3.5px,#440154 4.5px,#471063 5.5px,#482071 7.5px,#481b6d 9.5px,#46317e 10.5px,#453580 11.5px,#414487 12.5px,#33638d 13.5px,#3ebc74 14.5px,#3dbc74 15.5px,#20918c 16.5px,#20a387 17.5px,#22a884 18.5px,#21918c 20.5px,#25838e 21.5px,#26818e 23.5px,#2e6f8e 24.5px,#3c4f8a 25.5px,#33638d 26.5px,#306a8e 27.5px,#3a538b 28.5px,#3f4989 29.5px,#472f7d 30.5px,#47307d 31.5px,#450457 32.5px,#440154 144.5px)"></i><i style="top:104px;background:linear-gradient(90deg,#481567 0.5px,#46075b 1.5px,#450559 2.5px,#481366 3.5px,#440154 4.5px,#471063 5.5px,#482071 7.5px,#481b6d 9.5px,#46317e 10.5px,#453580 11.5px,#414487 12.5px,#33638d 13.5px,#3fbd73 14.5px,#3ebc74 15.5px,#20918c 16.5px,#24aa83 17.5px,#22a884 18.5px,#218f8d 19.5px,#20918c 20.5px,#287e8e 21.5px,#24878e 23.5px,#38588c 24.5px,#3a548c 25.5px,#32658e 26.5px,#33628d 27.5px,#453681 29.5px,#453681 30.5px,#450458 31.5px,#440154 144.5px)"></i><i style="top:106px;background:linear-gradient(90deg,#481567 0.5px,#46075b 1.5px,#450559 2.5px,#481366 3.5px,#440154 4.5px,#471063 5.5px,#482071 7.5px,#481b6d 9.5px,#46317e 10.5px,#453580 11.5px,#414487 12.5px,#33638d 13.5px,#41bd72 14.5px,#3ebc73 15.5px,#218e8d 16.5px,#27ad81 17.5px,#24aa83 18.5px,#228c8d 19.5px,#218f8d 20.5px,#2a788e 23.5px,#3a538b 24.5px,#31688e 25.5px,#2c738e 26.5px,#3d4c8a 27.5px,#443a83 29.5px,#450559 30.5px,#440154 51.5px,#440154 144.5px)"></i><i style="top:108px;background:linear-gradient(90deg,#481567 0.5px,#46075b 1.5px,#450559 2.5px,#481366 3.5px,#440154 4.5px,#471063 5.5px,#482071 7.5px,#481b6d 9.5px,#46317e 10.5px,#453580 11.5px,#414487 12.5px,#33638d 13.5px,#44bf71 14.5px,#3fbd73 15.5px,#228d8d 16.5px,#2db27d 17.5px,#25ab82 18.5px,#20928c 19.5px,#24888e 20.5px,#238a8d 22.5px,#355e8d 23.5px,#365d8d 24.5px,#2f6b8e 25.5px,#3c4f8a 27.5px,#443983 28.5px,#46075b 29.5px,#440154 36.5px,#440154 144.5px)"></i><i style="top:110px;background:linear-gradient(90deg,#481567 0.5px,#46075b 1.5px,#450559 2.5px,#481366 3.5px,#440154 4.5px,#471063 5.5px,#482071 7.5px,#481b6d 9.5px,#46317e 10.5px,#453580 11.5px,#414487 12.5px,#33638d 13.5px,#45bf70 14.5px,#40bd73 15.5px,#20938c 16.5px,#2eb37d 17.5px,#21a685 18.5px,#1f968b 19.5px,#26828e 20.5px,#26828e 22.5px,#38578c 23.5px,#2f6c8e 24.5px,#2e6e8e 25.5px,#443b84 27.5px,#433e85 28.5px,#450457 29.5px,#440154 144.5px)"></i><i style="top:112px;background:linear-gradient(90deg,#481567 0.5px,#46075b 1.5px,#450559 2.5px,#481366 3.5px,#440154 4.5px,#471063 5.5px,#482071 7.5px,#481b6d 9.5px,#46317e 10.5px,#453580 11.5px,#414487 12.5px,#33638d 13.5px,#47c06f 14.5px,#41bd72 15.5px,#1f998a 16.5px,#2ab07f 17.5px,#1f988b 18.5px,#228c8d 21.5px,#33638d 22.5px,#31668e 23.5px,#2a788e 24.5px,#3a558c 25.5px,#404587 26.5px,#424186 27.5px,#450558 28.5px,#440154 144.5px)"></i><i style="top:114px;background:linear-gradient(90deg,#481567 0.5px,#46075b 1.5px,#450559 2.5px,#481366 3.5px,#440154 4.5px,#471063 5.5px,#482071 7.5px,#481b6d 9.5px,#46317e 10.5px,#453580 11.5px,#414487 12.5px,#33638d 13.5px,#49c16e 14.5px,#41bd72 15.5px,#1f9e89 16.5px,#27ae80 17.5px,#20928c 18.5px,#238a8d 21.5px,#365c8d 22.5px,#2d718e 23.5px,#31668e 24.5px,#3b528b 25.5px,#3f4888 26.5px,#450659 27.5px,#440154 40.5px,#440154 144.5px)"></i><i style="top:116px;background:linear-gradient(90deg,#481467 0.5px,#46075a 1.5px,#450559 2.5px,#471365 3.5px,#440154 4.5px,#471063 5.5px,#481f71 7.5px,#481b6d 9.5px,#46307e 10.5px,#453580 11.5px,#414487 12.5px,#33638d 13.5px,#4bc26c 14.5px,#41be72 15.5px,#22a884 16.5px,#2ab07f 17.5px,#1f9a8a 18.5px,#23888e 19.5px,#228c8d 20.5px,#2f6b8e 21.5px,#2e6f8e 22.5px,#277e8e 23.5px,#355e8d 24.5px,#3f4788 25.5px,#46085b 26.5px,#440154 31.5px,#440154 144.5px)"></i><i style="top:118px;background:linear-gradient(90deg,#481366 0.5px,#46075a 1.5px,#450558 2.5px,#471264 3.5px,#440154 4.5px,#470f62 5.5px,#481e70 7.5px,#481a6c 9.5px,#472f7d 10.5px,#453580 11.5px,#414487 12.5px,#33638d 13.5px,#4ec36b 14.5px,#41bd72 15.5px,#29af80 16.5px,#2cb17e 17.5px,#1e9c89 18.5px,#20938c 19.5px,#20948c 20.5px,#34608d 21.5px,#2a798e 22.5px,#3e4b89 24.5px,#460b5e 25.5px,#440255 27.5px,#440154 144.5px)"></i><i style="top:120px;background:linear-gradient(90deg,#471264 0.5px,#45065a 1.5px,#450558 2.5px,#471163 3.5px,#440154 4.5px,#481467 6.5px,#481e6f 8.5px,#481a6c 9.5px,#472e7c 10.5px,#463480 11.5px,#414487 12.5px,#33638d 13.5px,#51c469 14.5px,#32b57a 16.5px,#20a486 17.5px,#21918c 19.5px,#2b768e 20.5px,#29798e 21.5px,#2c738e 22.5px,#38588c 23.5px,#3b528b 24.5px,#450457 25.5px,#440154 144.5px)"></i><i style="top:122px;background:linear-gradient(90deg,#471063 0.5px,#450659 1.5px,#450558 2.5px,#470f62 3.5px,#440154 4.5px,#481366 6.5px,#481d6e 8.5px,#481a6c 9.5px,#472d7c 10.5px,#463480 11.5px,#414487 12.5px,#33638d 13.5px,#53c568 14.5px,#3ebc74 15.5px,#3cbb75 16.5px,#1f998a 17.5px,#218f8d 18.5px,#1e9b8a 19.5px,#31678e 20.5px,#24878e 21.5px,#30698e 22.5px,#38578c 23.5px,#450558 24.5px,#440154 71.5px,#440154 144.5px)"></i><i style="top:124px;background:linear-gradient(90deg,#470f62 0.5px,#450559 1.5px,#450458 2.5px,#470e61 3.5px,#440154 4.5px,#481a6c 7.5px,#481a6c 9.5px,#472c7b 10.5px,#463480 11.5px,#414487 12.5px,#33638d 13.5px,#57c666 14.5px,#37b977 15.5px,#34b779 16.5px,#1fa187 17.5px,#1f968b 18.5px,#277f8e 19.5px,#277e8e 20.5px,#38578c 22.5px,#45065a 23.5px,#440154 29.5px,#440154 144.5px)"></i><i style="top:126px;background:linear-gradient(90deg,#470e61 0.5px,#450458 2.5px,#470d60 3.5px,#440154 4.5px,#48196b 7.5px,#481a6c 9.5px,#472b7a 10.5px,#46337f 11.5px,#414487 12.5px,#33638d 13.5px,#5ac864 14.5px,#30b47b 15.5px,#31b57b 16.5px,#1f9f88 17.5px,#1f968b 18.5px,#31688e 19.5px,#26818e 20.5px,#39578c 21.5px,#46095d 22.5px,#440154 24.5px,#440154 144.5px)"></i><i style="top:128px;background:linear-gradient(90deg,#470c5f 0.5px,#450457 2.5px,#470c5f 3.5px,#440154 4.5px,#48176a 7.5px,#481a6c 9.5px,#472a7a 10.5px,#46337f 11.5px,#414487 12.5px,#33638d 13.5px,#5ec962 14.5px,#2db27d 15.5px,#30b47b 16.5px,#20918c 17.5px,#27808e 19.5px,#31678e 20.5px,#470e61 21.5px,#440255 22.5px,#440154 144.5px)"></i><i style="top:130px;background:linear-gradient(90deg,#460b5e 0.5px,#450457 2.5px,#460b5e 3.5px,#440154 4.5px,#481668 7.5px,#48196c 9.5px,#46337f 11.5px,#414487 12.5px,#33638d 13.5px,#61ca60 14.5px,#30b47b 15.5px,#1e9d89 16.5px,#1f978b 17.5px,#306a8e 18.5px,#306a8e 19.5px,#355d8d 20.5px,#450356 21.5px,#440154 144.5px)"></i><i style="top:132px;background:linear-gradient(90deg,#460a5d 0.5px,#450457 2.5px,#460a5d 3.5px,#440154 4.5px,#48186a 8.5px,#48196b 9.5px,#414487 12.5px,#33638d 13.5px,#65cb5e 14.5px,#42be71 15.5px,#20a486 16.5px,#228d8d 18.5px,#365d8d 19.5px,#450356 20.5px,#440154 144.5px)"></i><i style="top:134px;background:linear-gradient(90deg,#46085c 0.5px,#450357 2.5px,#46085c 3.5px,#440154 4.5px,#481467 8.5px,#481668 9.5px,#443b83 12.5px,#38588c 13.5px,#6acd5b 14.5px,#56c666 15.5px,#1f978b 16.5px,#2c728e 17.5px,#355e8d 18.5px,#450457 19.5px,#440154 144.5px)"></i><i style="top:136px;background:linear-gradient(90deg,#46075a 0.5px,#450356 2.5px,#46075a 3.5px,#440154 4.5px,#471265 9.5px,#46307e 12.5px,#3e4c8a 13.5px,#71cf57 14.5px,#51c569 15.5px,#1fa088 16.5px,#2d6f8e 17.5px,#450659 18.5px,#440154 23.5px,#440154 144.5px)"></i><i style="top:138px;background:linear-gradient(90deg,#450559 0.5px,#440154 4.5px,#470e61 9.5px,#482676 12.5px,#433e85 13.5px,#77d153 14.5px,#34b779 15.5px,#25848e 16.5px,#460a5d 17.5px,#440154 18.5px,#440154 144.5px)"></i><i style="top:140px;background:linear-gradient(90deg,#450457 0.5px,#450457 5.5px,#460a5d 9.5px,#481b6d 12.5px,#47307d 13.5px,#7dd24f 14.5px,#2fb47c 15.5px,#481f70 16.5px,#440154 17.5px,#440154 144.5px)"></i><i style="top:142px;background:linear-gradient(90deg,#450356 0.5px,#46085b 9.5px,#48176a 12.5px,#472b7a 13.5px,#86d549 14.5px,#1f968b 15.5px,#440255 16.5px,#440154 144.5px)"></i><i style="top:144px;background:linear-gradient(90deg,#440254 0.5px,#46085b 9.5px,#48176a 12.5px,#472b7a 13.5px,#93d741 14.5px,#39558c 15.5px,#440255 16.5px,#440154 144.5px)"></i></div>
<div class="hm" style="left:202.9px;top:17.3px;width:144.5px;height:145.3px"><i style="top:0px;background:linear-gradient(90deg,#481466 0.5px,#440256 1.5px,#470f62 2.5px,#46085b 3.5px,#460a5d 4.5px,#481568 5.5px,#46075b 6.5px,#482273 9.5px,#46327f 10.5px,#414487 12.5px,#33648d 13.5px,#1fa187 14.5px,#2db27d 15.5px,#27ae80 16.5px,#1f988b 17.5px,#24868e 20.5px,#287d8e 22.5px,#32648e 24.5px,#33638d 25.5px,#2c718e 27.5px,#30698e 30.5px,#2c738e 32.5px,#39578c 34.5px,#3a548b 35.5px,#365c8d 36.5px,#3a548b 38.5px,#365c8d 40.5px,#3d4e8a 42.5px,#32668e 45.5px,#3a548c 47.5px,#482878 49.5px,#481b6d 50.5px,#482374 51.5px,#46337f 52.5px,#443a83 53.5px,#472c7b 56.5px,#472c7b 58.5px,#481366 60.5px,#482475 62.5px,#482072 63.5px,#404588 66.5px,#443b84 67.5px,#482777 68.5px,#481769 71.5px,#440154 73.5px,#440154 144.5px)"></i><i style="top:2px;background:linear-gradient(90deg,#481466 0.5px,#440256 1.5px,#470f62 2.5px,#46085b 3.5px,#460a5d 4.5px,#481568 5.5px,#46075b 6.5px,#482273 9.5px,#46327f 10.5px,#414487 12.5px,#33638d 13.5px,#1fa287 14.5px,#2db27d 15.5px,#27ad81 16.5px,#1f988b 17.5px,#24868e 20.5px,#287d8e 22.5px,#33638d 24.5px,#2c718e 27.5px,#30698e 29.5px,#2c738e 32.5px,#3a548b 34.5px,#355d8d 36.5px,#3a558c 38.5px,#375b8d 40.5px,#3b518b 41.5px,#3c508b 42.5px,#31668e 44.5px,#375a8d 46.5px,#453882 48.5px,#482273 49.5px,#481c6e 50.5px,#453782 52.5px,#443983 53.5px,#472c7a 55.5px,#472e7c 57.5px,#481668 59.5px,#481568 60.5px,#482273 61.5px,#482474 63.5px,#443983 64.5px,#404588 65.5px,#424186 66.5px,#482172 68.5px,#481a6c 70.5px,#440154 72.5px,#440154 144.5px)"></i><i style="top:4px;background:linear-gradient(90deg,#481466 0.5px,#440256 1.5px,#470f62 2.5px,#46085b 3.5px,#460a5d 4.5px,#481568 5.5px,#46075b 6.5px,#482273 9.5px,#46327f 10.5px,#414487 12.5px,#33638d 13.5px,#1fa287 14.5px,#2db27d 15.5px,#27ad81 16.5px,#1f988b 17.5px,#287d8e 22.5px,#33638d 24.5px,#2d718e 27.5px,#30698e 29.5px,#2d718e 32.5px,#355e8d 33.5px,#3a538b 34.5px,#355d8d 36.5px,#38578c 38.5px,#355d8d 39.5px,#3c4f8a 41.5px,#3a538b 42.5px,#31678e 44.5px,#39568c 46.5px,#482979 48.5px,#481d6e 49.5px,#482475 50.5px,#463480 51.5px,#443b84 52.5px,#472e7c 54.5px,#482979 57.5px,#471365 59.5px,#482474 61.5px,#482072 62.5px,#414487 64.5px,#424186 65.5px,#482172 67.5px,#481a6c 69.5px,#440154 71.5px,#440154 144.5px)"></i><i style="top:6px;background:linear-gradient(90deg,#481466 0.5px,#440256 1.5px,#470f62 2.5px,#46085b 3.5px,#460a5d 4.5px,#481568 5.5px,#46075b 6.5px,#482273 9.5px,#46327f 10.5px,#414487 12.5px,#33638d 13.5px,#1fa287 14.5px,#2db27d 15.5px,#26ad81 16.5px,#1f988b 17.5px,#24878e 20.5px,#297a8e 22.5px,#2f6b8e 23.5px,#33638d 24.5px,#2c738e 26.5px,#306a8e 29.5px,#2b748e 31.5px,#2f6c8e 32.5px,#38598c 33.5px,#39568c 34.5px,#355e8d 35.5px,#39558c 37.5px,#355e8d 39.5px,#3c4f8a 41.5px,#32658e 43.5px,#31678e 44.5px,#3c508b 46.5px,#482374 48.5px,#481d6f 49.5px,#443982 51.5px,#443a83 52.5px,#472e7c 54.5px,#472c7b 56.5px,#481366 58.5px,#482475 60.5px,#482072 61.5px,#482a79 62.5px,#423f85 63.5px,#414487 64.5px,#482374 66.5px,#481d6f 68.5px,#450559 70.5px,#440154 77.5px,#440154 144.5px)"></i><i style="top:8px;background:linear-gradient(90deg,#481466 0.5px,#440256 1.5px,#470f62 2.5px,#46085b 3.5px,#460a5d 4.5px,#481568 5.5px,#46075b 6.5px,#482273 9.5px,#46327f 10.5px,#414487 12.5px,#33638d 13.5px,#1fa287 14.5px,#2db27d 15.5px,#26ac81 16.5px,#1f988b 17.5px,#24878e 20.5px,#297a8e 22.5px,#2f6b8e 23.5px,#33638d 24.5px,#2c738e 26.5px,#306a8e 29.5px,#2b758e 31.5px,#39568c 33.5px,#355f8d 35.5px,#39568c 37.5px,#365c8d 39.5px,#3b528b 40.5px,#3b518b 41.5px,#31678e 43.5px,#33648d 44.5px,#38578c 45.5px,#472b7a 47.5px,#481e70 48.5px,#482676 49.5px,#453681 50.5px,#433d84 51.5px,#472d7c 54.5px,#482979 56.5px,#481668 57.5px,#481568 58.5px,#482273 59.5px,#482474 61.5px,#443983 62.5px,#404588 63.5px,#443b84 64.5px,#482777 65.5px,#481769 68.5px,#440154 70.5px,#440154 144.5px)"></i><i style="top:10px;background:linear-gradient(90deg,#481466 0.5px,#440256 1.5px,#470f62 2.5px,#46085b 3.5px,#460a5d 4.5px,#481568 5.5px,#46075b 6.5px,#482273 9.5px,#46327f 10.5px,#414487 12.5px,#33638d 13.5px,#20a387 14.5px,#2eb37d 15.5px,#26ac82 16.5px,#1f988b 17.5px,#24878e 20.5px,#297b8e 22.5px,#2f6b8e 23.5px,#32668e 24.5px,#2c748e 26.5px,#2f6b8e 29.5px,#2b748e 31.5px,#34608d 32.5px,#39558c 33.5px,#355f8d 35.5px,#38588c 37.5px,#355f8d 38.5px,#3b508b 40.5px,#31668e 42.5px,#30688e 43.5px,#3b528b 45.5px,#482576 47.5px,#481f71 48.5px,#46327f 49.5px,#433e85 50.5px,#472f7d 53.5px,#472c7b 55.5px,#481366 57.5px,#482474 59.5px,#482072 60.5px,#414487 62.5px,#424186 63.5px,#482172 65.5px,#481769 67.5px,#440154 69.5px,#440154 144.5px)"></i><i style="top:12px;background:linear-gradient(90deg,#481466 0.5px,#440256 1.5px,#470f62 2.5px,#46085b 3.5px,#460a5d 4.5px,#481568 5.5px,#46075b 6.5px,#482273 9.5px,#46327f 10.5px,#414487 12.5px,#33638d 13.5px,#20a387 14.5px,#2eb37d 15.5px,#25ac82 16.5px,#1f978b 17.5px,#26828e 21.5px,#31678e 23.5px,#32668e 24.5px,#2c748e 26.5px,#2f6b8e 28.5px,#2c728e 31.5px,#345f8d 32.5px,#38588c 33.5px,#345f8d 34.5px,#38578c 36.5px,#355f8d 38.5px,#3a548c 39.5px,#3a538b 40.5px,#30698e 42.5px,#365d8d 44.5px,#3e4b89 45.5px,#472d7b 46.5px,#482071 47.5px,#482777 48.5px,#453782 49.5px,#433e85 50.5px,#472f7d 53.5px,#482576 55.5px,#481668 56.5px,#481568 57.5px,#482475 58.5px,#482072 59.5px,#482a79 60.5px,#423f85 61.5px,#414487 62.5px,#482172 64.5px,#481a6c 66.5px,#440154 68.5px,#440154 144.5px)"></i><i style="top:14px;background:linear-gradient(90deg,#481466 0.5px,#440256 1.5px,#470f62 2.5px,#46085b 3.5px,#460a5d 4.5px,#481568 5.5px,#46075b 6.5px,#482273 9.5px,#46327f 10.5px,#414487 12.5px,#33638d 13.5px,#20a386 14.5px,#2eb37d 15.5px,#25ab82 16.5px,#1f978b 17.5px,#26828e 21.5px,#31678e 23.5px,#32668e 24.5px,#2c738e 25.5px,#2f6b8e 28.5px,#2b768e 30.5px,#2e6e8e 31.5px,#375a8c 32.5px,#38578c 33.5px,#34618d 34.5px,#38588c 36.5px,#355e8d 38.5px,#3b528b 39.5px,#39568c 40.5px,#306a8e 42.5px,#3a538b 44.5px,#482777 46.5px,#482172 47.5px,#423f85 49.5px,#482979 54.5px,#471365 56.5px,#482273 57.5px,#482474 59.5px,#443983 60.5px,#404588 61.5px,#482374 63.5px,#481d6f 65.5px,#481366 66.5px,#440154 67.5px,#440154 144.5px)"></i><i style="top:16px;background:linear-gradient(90deg,#481466 0.5px,#440256 1.5px,#470f62 2.5px,#46085b 3.5px,#460a5d 4.5px,#481568 5.5px,#46075b 6.5px,#482273 9.5px,#46327f 10.5px,#414487 12.5px,#33638d 13.5px,#20a386 14.5px,#2eb37c 15.5px,#25ab82 16.5px,#1f978b 17.5px,#26838e 21.5px,#32668e 23.5px,#2c738e 25.5px,#2f6c8e 28.5px,#2a768e 30.5px,#38578c 32.5px,#34618d 34.5px,#375a8c 36.5px,#34608d 37.5px,#3b528b 39.5px,#31688e 41.5px,#30688e 42.5px,#3d4d8a 44.5px,#472f7c 45.5px,#482273 46.5px,#482979 47.5px,#443982 48.5px,#423f86 49.5px,#46317e 52.5px,#482071 54.5px,#481366 55.5px,#482474 57.5px,#482072 58.5px,#414487 60.5px,#443b84 61.5px,#482777 62.5px,#481366 65.5px,#450559 66.5px,#440154 73.5px,#440154 144.5px)"></i><i style="top:18px;background:linear-gradient(90deg,#481466 0.5px,#440256 1.5px,#470f62 2.5px,#46085b 3.5px,#460a5d 4.5px,#481568 5.5px,#46075b 6.5px,#482273 9.5px,#46327f 10.5px,#414487 12.5px,#33638d 13.5px,#20a486 14.5px,#2eb37c 15.5px,#24ab82 16.5px,#1f978b 17.5px,#26818e 21.5px,#32668e 23.5px,#30698e 24.5px,#2b758e 25.5px,#2e6d8e 28.5px,#2a768e 30.5px,#33628d 31.5px,#38578c 32.5px,#345f8d 34.5px,#37598c 35.5px,#34608d 37.5px,#39568c 38.5px,#3a548c 39.5px,#32668e 40.5px,#2f6b8e 41.5px,#375a8c 43.5px,#482978 45.5px,#482273 46.5px,#424086 48.5px,#47307d 52.5px,#481668 54.5px,#481568 55.5px,#482475 56.5px,#482072 57.5px,#482a79 58.5px,#414487 59.5px,#424186 60.5px,#482172 62.5px,#481769 64.5px,#440154 66.5px,#440154 144.5px)"></i><i style="top:20px;background:linear-gradient(90deg,#481466 0.5px,#440256 1.5px,#470f62 2.5px,#46085b 3.5px,#460a5d 4.5px,#481568 5.5px,#46075b 6.5px,#482273 9.5px,#46327f 10.5px,#414487 12.5px,#33638d 13.5px,#20a486 14.5px,#2fb37c 15.5px,#24aa83 16.5px,#1f978b 17.5px,#26818e 21.5px,#31668e 23.5px,#2b758e 25.5px,#2e6d8e 28.5px,#2b768e 29.5px,#2b748e 30.5px,#365c8d 31.5px,#37598c 32.5px,#34618d 33.5px,#375a8c 35.5px,#34608d 36.5px,#3a548b 38.5px,#30698e 40.5px,#2f6b8e 41.5px,#3c4e8a 43.5px,#482474 45.5px,#472b7a 46.5px,#443a83 47.5px,#424186 48.5px,#472c7b 52.5px,#481b6d 53.5px,#471365 54.5px,#481e70 55.5px,#482474 57.5px,#423f85 58.5px,#414487 59.5px,#482172 61.5px,#481a6c 63.5px,#460a5d 64.5px,#440154 65.5px,#440154 144.5px)"></i><i style="top:22px;background:linear-gradient(90deg,#481466 0.5px,#440256 1.5px,#470f62 2.5px,#46085b 3.5px,#460a5d 4.5px,#481568 5.5px,#46075b 6.5px,#482273 9.5px,#46327f 10.5px,#414487 12.5px,#33638d 13.5px,#20a486 14.5px,#2fb37c 15.5px,#24aa83 16.5px,#1f978b 17.5px,#26818e 21.5px,#2e6e8e 22.5px,#31668e 23.5px,#2b768e 25.5px,#2d6f8e 28.5px,#2a788e 29.5px,#2d708e 30.5px,#375a8c 31.5px,#33628d 33.5px,#365c8d 35.5px,#33638d 36.5px,#3a548b 38.5px,#2f6c8e 40.5px,#31688e 41.5px,#365b8d 42.5px,#472a7a 44.5px,#482475 45.5px,#414286 47.5px,#47307d 51.5px,#482576 52.5px,#481366 53.5px,#482474 55.5px,#482072 56.5px,#443983 57.5px,#404588 58.5px,#443b84 59.5px,#482374 60.5px,#481a6c 62.5px,#440154 64.5px,#440154 144.5px)"></i><i style="top:24px;background:linear-gradient(90deg,#481466 0.5px,#440256 1.5px,#470f62 2.5px,#46085b 3.5px,#460a5d 4.5px,#481568 5.5px,#46075b 6.5px,#482273 9.5px,#46327f 10.5px,#414487 12.5px,#33638d 13.5px,#20a486 14.5px,#2fb37c 15.5px,#23a983 16.5px,#1f978b 17.5px,#287e8e 21.5px,#2e6e8e 22.5px,#30688e 23.5px,#2b768e 25.5px,#2e6e8e 27.5px,#2a788e 29.5px,#37598c 31.5px,#33628d 33.5px,#375b8d 34.5px,#34618d 36.5px,#38578c 37.5px,#375a8c 38.5px,#2f6c8e 40.5px,#32658e 41.5px,#443882 43.5px,#482576 44.5px,#472c7b 45.5px,#424186 46.5px,#414287 47.5px,#453581 49.5px,#482a79 51.5px,#481668 52.5px,#481568 53.5px,#482475 54.5px,#482072 55.5px,#482a79 56.5px,#414487 57.5px,#424186 58.5px,#482777 59.5px,#481366 62.5px,#440154 63.5px,#440154 144.5px)"></i><i style="top:26px;background:linear-gradient(90deg,#481466 0.5px,#440256 1.5px,#470f62 2.5px,#46085b 3.5px,#460a5d 4.5px,#481568 5.5px,#46075b 6.5px,#482273 9.5px,#46327f 10.5px,#414487 12.5px,#33638d 13.5px,#20a586 14.5px,#2fb37c 15.5px,#1f978b 17.5px,#277e8e 21.5px,#306a8e 22.5px,#30688e 23.5px,#2b758e 24.5px,#2e6e8e 27.5px,#2a788e 29.5px,#33638d 30.5px,#37598c 31.5px,#33638d 32.5px,#365b8d 34.5px,#32648e 35.5px,#39568c 37.5px,#2e6d8e 39.5px,#2f6b8e 40.5px,#3f4989 42.5px,#472c7b 43.5px,#482676 44.5px,#404588 46.5px,#47307d 50.5px,#471365 52.5px,#481e70 53.5px,#482474 55.5px,#423f85 56.5px,#414487 57.5px,#472d7b 58.5px,#482071 59.5px,#481e70 60.5px,#450559 62.5px,#440154 69.5px,#440154 144.5px)"></i><i style="top:28px;background:linear-gradient(90deg,#481466 0.5px,#440256 1.5px,#470f62 2.5px,#46085b 3.5px,#460a5d 4.5px,#481568 5.5px,#46075b 6.5px,#482273 9.5px,#46327f 10.5px,#414487 12.5px,#33638d 13.5px,#21a586 14.5px,#2fb47c 15.5px,#23a984 16.5px,#1f978b 17.5px,#277e8e 21.5px,#306a8e 22.5px,#2b758e 25.5px,#2d708e 27.5px,#2a788e 28.5px,#2b768e 29.5px,#355e8d 30.5px,#365b8d 31.5px,#32648e 32.5px,#355d8d 34.5px,#32648e 35.5px,#38588c 37.5px,#30698e 38.5px,#2e6e8e 39.5px,#38588c 41.5px,#443a83 42.5px,#482777 43.5px,#472e7c 44.5px,#414287 45.5px,#414487 46.5px,#453882 48.5px,#453580 49.5px,#481668 51.5px,#482474 53.5px,#482072 54.5px,#443983 55.5px,#404588 56.5px,#482172 58.5px,#481769 60.5px,#440154 62.5px,#440154 144.5px)"></i><i style="top:30px;background:linear-gradient(90deg,#481466 0.5px,#440256 1.5px,#470f62 2.5px,#46085b 3.5px,#460a5d 4.5px,#481568 5.5px,#46075b 6.5px,#482273 9.5px,#46327f 10.5px,#414487 12.5px,#33638d 13.5px,#21a585 14.5px,#2fb47c 15.5px,#23a884 16.5px,#1f978b 17.5px,#24878e 20.5px,#30698e 22.5px,#2f6c8e 23.5px,#2a788e 24.5px,#2e6f8e 26.5px,#297a8e 28.5px,#2c728e 29.5px,#365c8d 30.5px,#32648e 32.5px,#365d8d 33.5px,#32648e 34.5px,#33638d 35.5px,#38578c 36.5px,#2f6c8e 38.5px,#2e6d8e 39.5px,#3e4b89 41.5px,#472e7c 42.5px,#482878 43.5px,#404688 45.5px,#443882 47.5px,#46317e 49.5px,#481b6d 50.5px,#481568 51.5px,#482273 52.5px,#482072 53.5px,#414487 55.5px,#443b84 56.5px,#482374 57.5px,#481a6c 59.5px,#460a5d 60.5px,#440154 61.5px,#440154 144.5px)"></i><i style="top:32px;background:linear-gradient(90deg,#481466 0.5px,#440256 1.5px,#470f62 2.5px,#46085b 3.5px,#460a5d 4.5px,#481568 5.5px,#46075b 6.5px,#482273 9.5px,#46327f 10.5px,#414487 12.5px,#33638d 13.5px,#21a685 14.5px,#2fb47c 15.5px,#22a884 16.5px,#1f978b 17.5px,#24868e 20.5px,#30698e 22.5px,#2a798e 24.5px,#2d708e 26.5px,#297a8e 28.5px,#365b8d 30.5px,#32658e 31.5px,#355d8d 33.5px,#32668e 34.5px,#38578c 36.5px,#2d708e 38.5px,#2f6a8e 39.5px,#37598c 40.5px,#433c84 41.5px,#482979 42.5px,#47307d 43.5px,#414487 44.5px,#414487 45.5px,#443982 47.5px,#453581 48.5px,#481366 50.5px,#482a79 53.5px,#423f85 54.5px,#424186 55.5px,#482777 56.5px,#481d6f 58.5px,#440154 60.5px,#440154 144.5px)"></i><i style="top:34px;background:linear-gradient(90deg,#481466 0.5px,#440256 1.5px,#470f62 2.5px,#46085b 3.5px,#460a5d 4.5px,#481568 5.5px,#46075b 6.5px,#482273 9.5px,#46327f 10.5px,#414487 12.5px,#33638d 13.5px,#21a685 14.5px,#30b47c 15.5px,#22a784 16.5px,#1f978b 17.5px,#24868e 20.5px,#30698e 22.5px,#2a798e 24.5px,#2d718e 26.5px,#297a8e 28.5px,#32658e 29.5px,#355d8d 30.5px,#31668e 31.5px,#345f8d 33.5px,#32668e 34.5px,#375b8d 35.5px,#365d8d 36.5px,#2e6e8e 37.5px,#2d6f8e 38.5px,#32648e 39.5px,#3d4c8a 40.5px,#47307d 41.5px,#472e7c 42.5px,#3f4889 44.5px,#472f7d 48.5px,#481769 49.5px,#482474 51.5px,#482072 52.5px,#443983 53.5px,#414487 54.5px,#472d7b 55.5px,#482071 56.5px,#481e70 57.5px,#440154 59.5px,#440154 144.5px)"></i><i style="top:36px;background:linear-gradient(90deg,#481466 0.5px,#440256 1.5px,#470f62 2.5px,#46085b 3.5px,#460a5d 4.5px,#481568 5.5px,#46075b 6.5px,#482273 9.5px,#46327f 10.5px,#414487 12.5px,#33638d 13.5px,#21a685 14.5px,#30b47c 15.5px,#22a784 16.5px,#218f8d 18.5px,#24868e 20.5px,#30698e 22.5px,#2a788e 24.5px,#2c728e 26.5px,#2a788e 28.5px,#34608d 29.5px,#31668e 31.5px,#355e8d 32.5px,#32668e 33.5px,#37598c 35.5px,#2d708e 37.5px,#2f6c8e 38.5px,#365b8d 39.5px,#433e85 40.5px,#472b7a 41.5px,#46327e 42.5px,#404688 43.5px,#404588 44.5px,#453580 47.5px,#481f70 48.5px,#481568 49.5px,#482273 50.5px,#482072 51.5px,#404588 53.5px,#482172 55.5px,#481769 57.5px,#450559 58.5px,#440154 66.5px,#440154 144.5px)"></i><i style="top:38px;background:linear-gradient(90deg,#481466 0.5px,#440256 1.5px,#470f62 2.5px,#46085b 3.5px,#460a5d 4.5px,#481568 5.5px,#46075b 6.5px,#482273 9.5px,#46327f 10.5px,#414487 12.5px,#33638d 13.5px,#21a685 14.5px,#30b47c 15.5px,#22a785 16.5px,#218f8d 18.5px,#25848e 20.5px,#2d718e 21.5px,#2f6c8e 22.5px,#2a788e 23.5px,#2c728e 26.5px,#297a8e 27.5px,#2c748e 28.5px,#355e8d 29.5px,#32658e 31.5px,#355f8d 32.5px,#31678e 33.5px,#365b8d 35.5px,#2f6c8e 36.5px,#2d718e 37.5px,#31668e 38.5px,#3c4e8a 39.5px,#46327f 40.5px,#472f7d 41.5px,#3e4989 43.5px,#443a83 46.5px,#472c7b 47.5px,#481568 48.5px,#482a79 51.5px,#414487 52.5px,#443b84 53.5px,#482374 54.5px,#481769 56.5px,#450559 57.5px,#440154 65.5px,#440154 144.5px)"></i><i style="top:40px;background:linear-gradient(90deg,#481466 0.5px,#440256 1.5px,#470f62 2.5px,#46085b 3.5px,#460a5d 4.5px,#481568 5.5px,#46075b 6.5px,#482273 9.5px,#46327f 10.5px,#414487 12.5px,#33638d 13.5px,#22a785 14.5px,#30b47b 15.5px,#21a685 16.5px,#218f8d 18.5px,#25848e 20.5px,#2d718e 21.5px,#2f6b8e 22.5px,#2a788e 23.5px,#2c738e 26.5px,#287c8e 27.5px,#355d8d 29.5px,#31678e 30.5px,#34618d 32.5px,#31678e 33.5px,#365c8d 34.5px,#355f8d 35.5px,#2d6f8e 36.5px,#2e6e8e 37.5px,#365d8d 38.5px,#424086 39.5px,#472d7c 40.5px,#3e4b89 42.5px,#46337f 46.5px,#481b6d 47.5px,#481a6c 48.5px,#482474 49.5px,#482474 50.5px,#423f85 51.5px,#424186 52.5px,#482777 53.5px,#481a6c 55.5px,#460a5d 56.5px,#440154 57.5px,#440154 144.5px)"></i><i style="top:42px;background:linear-gradient(90deg,#481466 0.5px,#440256 1.5px,#470f62 2.5px,#46085b 3.5px,#460a5d 4.5px,#481568 5.5px,#46075b 6.5px,#482273 9.5px,#46327f 10.5px,#414487 12.5px,#33638d 13.5px,#22a784 14.5px,#30b47b 15.5px,#21a685 16.5px,#218f8d 18.5px,#26818e 20.5px,#2e6e8e 21.5px,#2d6f8e 22.5px,#297a8e 23.5px,#2c728e 25.5px,#287c8e 27.5px,#31688e 28.5px,#33638d 29.5px,#30688e 30.5px,#34608d 31.5px,#31678e 32.5px,#365b8d 34.5px,#2c738e 36.5px,#2f6b8e 37.5px,#39578c 38.5px,#443983 39.5px,#46317e 40.5px,#404588 41.5px,#3e4b89 42.5px,#433e85 44.5px,#443b83 45.5px,#481669 47.5px,#482273 48.5px,#482072 49.5px,#443983 50.5px,#414487 51.5px,#472d7b 52.5px,#482071 53.5px,#481d6f 54.5px,#440154 56.5px,#440154 144.5px)"></i><i style="top:44px;background:linear-gradient(90deg,#481466 0.5px,#440256 1.5px,#470f62 2.5px,#46085b 3.5px,#460a5d 4.5px,#481568 5.5px,#46075b 6.5px,#482273 9.5px,#46327f 10.5px,#414487 12.5px,#33638d 13.5px,#22a784 14.5px,#30b47b 15.5px,#21a685 16.5px,#218f8d 18.5px,#26818e 20.5px,#2e6e8e 21.5px,#287b8e 23.5px,#2c738e 25.5px,#297a8e 27.5px,#34608d 28.5px,#31678e 30.5px,#34618d 31.5px,#30698e 32.5px,#34618d 33.5px,#34618d 34.5px,#2d718e 35.5px,#2c718e 36.5px,#33638d 37.5px,#472f7d 39.5px,#3d4c8a 41.5px,#433e85 44.5px,#46307e 45.5px,#481a6c 46.5px,#482a79 49.5px,#414487 50.5px,#482172 52.5px,#481e70 53.5px,#440154 55.5px,#440154 144.5px)"></i><i style="top:46px;background:linear-gradient(90deg,#481466 0.5px,#440256 1.5px,#470f62 2.5px,#46085b 3.5px,#460a5d 4.5px,#481568 5.5px,#46075b 6.5px,#482273 9.5px,#46327f 10.5px,#414487 12.5px,#33638d 13.5px,#22a884 14.5px,#30b47b 15.5px,#21a585 16.5px,#218f8d 18.5px,#228c8d 19.5px,#2f6c8e 21.5px,#287b8e 23.5px,#2b748e 25.5px,#287c8e 26.5px,#2b768e 27.5px,#34608d 28.5px,#30698e 29.5px,#30688e 32.5px,#365d8d 33.5px,#2b758e 35.5px,#2e6d8e 36.5px,#38598c 37.5px,#443b84 38.5px,#463380 39.5px,#3f4788 40.5px,#3d4d8a 41.5px,#414387 42.5px,#443a83 44.5px,#482475 45.5px,#481a6c 46.5px,#482474 47.5px,#482474 48.5px,#423f85 49.5px,#424186 50.5px,#482374 51.5px,#481769 53.5px,#440255 54.5px,#440154 144.5px)"></i><i style="top:48px;background:linear-gradient(90deg,#481466 0.5px,#440256 1.5px,#470f62 2.5px,#46085b 3.5px,#460a5d 4.5px,#481568 5.5px,#46075b 6.5px,#482273 9.5px,#46327f 10.5px,#414487 12.5px,#33638d 13.5px,#22a884 14.5px,#30b47b 15.5px,#21a586 16.5px,#218f8d 18.5px,#228b8d 19.5px,#2f6d8e 21.5px,#297b8e 23.5px,#2b748e 24.5px,#277e8e 26.5px,#306a8e 27.5px,#33628d 28.5px,#306a8e 29.5px,#33638d 30.5px,#30698e 31.5px,#355f8d 33.5px,#2d6f8e 34.5px,#2b748e 35.5px,#32658e 36.5px,#46327f 38.5px,#3c4e8a 40.5px,#424086 43.5px,#481b6d 45.5px,#482475 46.5px,#482072 47.5px,#443983 48.5px,#414487 49.5px,#482777 50.5px,#481a6c 52.5px,#450559 53.5px,#440154 63.5px,#440154 144.5px)"></i><i style="top:50px;background:linear-gradient(90deg,#481466 0.5px,#440256 1.5px,#470f62 2.5px,#46085b 3.5px,#460a5d 4.5px,#481568 5.5px,#46075b 6.5px,#482273 9.5px,#46327f 10.5px,#414487 12.5px,#33638d 13.5px,#23a884 14.5px,#30b47b 15.5px,#20a586 16.5px,#218f8d 18.5px,#228c8d 19.5px,#2f6d8e 21.5px,#297b8e 22.5px,#2b748e 24.5px,#277f8e 26.5px,#32658e 27.5px,#30698e 29.5px,#33638d 30.5px,#2f6c8e 31.5px,#34608d 32.5px,#33628d 33.5px,#2b758e 34.5px,#2d718e 35.5px,#433d85 37.5px,#453581 38.5px,#3f4989 39.5px,#3d4d8a 40.5px,#443982 43.5px,#482172 44.5px,#482273 46.5px,#404588 48.5px,#482071 50.5px,#481d6f 51.5px,#460a5d 52.5px,#440154 53.5px,#440154 144.5px)"></i><i style="top:52px;background:linear-gradient(90deg,#481466 0.5px,#440256 1.5px,#470f62 2.5px,#46085b 3.5px,#460a5d 4.5px,#481568 5.5px,#46075b 6.5px,#482273 9.5px,#46327f 10.5px,#414487 12.5px,#33638d 13.5px,#23a984 14.5px,#30b47b 15.5px,#20a486 16.5px,#218f8d 18.5px,#238a8d 19.5px,#2e6f8e 21.5px,#297b8e 22.5px,#2b758e 24.5px,#287d8e 26.5px,#33628d 27.5px,#2f6b8e 28.5px,#306a8e 31.5px,#355f8d 32.5px,#2b768e 34.5px,#2f6b8e 35.5px,#463480 37.5px,#3c508b 39.5px,#424086 42.5px,#482978 43.5px,#481e70 44.5px,#482777 45.5px,#482474 46.5px,#414487 47.5px,#443b84 48.5px,#482172 49.5px,#481e70 50.5px,#440254 52.5px,#440154 144.5px)"></i><i style="top:54px;background:linear-gradient(90deg,#481466 0.5px,#440256 1.5px,#470f62 2.5px,#46085b 3.5px,#460a5d 4.5px,#481568 5.5px,#46075b 6.5px,#482273 9.5px,#46327f 10.5px,#414487 12.5px,#33638d 13.5px,#23a983 14.5px,#31b47b 15.5px,#20a486 16.5px,#21908d 18.5px,#238a8d 19.5px,#2b758e 20.5px,#2e6f8e 21.5px,#287d8e 22.5px,#2b768e 24.5px,#277e8e 25.5px,#33628d 27.5px,#2f6c8e 28.5px,#32658e 29.5px,#2f6b8e 30.5px,#34618d 32.5px,#2b758e 33.5px,#2c738e 34.5px,#33628d 35.5px,#423f86 36.5px,#453882 37.5px,#3e4b89 38.5px,#3c4f8a 39.5px,#414487 41.5px,#453681 42.5px,#481f71 43.5px,#482978 44.5px,#482172 45.5px,#443983 46.5px,#424186 47.5px,#482374 48.5px,#481f71 49.5px,#440254 51.5px,#440154 144.5px)"></i><i style="top:56px;background:linear-gradient(90deg,#481466 0.5px,#440256 1.5px,#470f62 2.5px,#46085b 3.5px,#460a5d 4.5px,#481568 5.5px,#46075b 6.5px,#482273 9.5px,#46327f 10.5px,#414487 12.5px,#33638d 13.5px,#23a983 14.5px,#31b57b 15.5px,#20a486 16.5px,#21908c 18.5px,#23888e 19.5px,#2b758e 20.5px,#2c728e 21.5px,#277e8e 22.5px,#2a778e 24.5px,#26818e 25.5px,#2f6c8e 26.5px,#31678e 27.5px,#2f6c8e 28.5px,#32658e 29.5px,#2e6e8e 30.5px,#34618d 31.5px,#2a788e 33.5px,#2e6d8e 34.5px,#453781 36.5px,#3a538b 38.5px,#424086 41.5px,#482676 42.5px,#482676 44.5px,#414487 46.5px,#472d7b 47.5px,#481769 49.5px,#440254 50.5px,#440154 144.5px)"></i><i style="top:58px;background:linear-gradient(90deg,#481466 0.5px,#440256 1.5px,#470f62 2.5px,#46085b 3.5px,#460a5d 4.5px,#481568 5.5px,#46075b 6.5px,#482273 9.5px,#46327f 10.5px,#414487 12.5px,#33638d 13.5px,#24aa83 14.5px,#31b57b 15.5px,#20a486 16.5px,#1f968b 17.5px,#23898e 19.5px,#2d718e 20.5px,#277e8e 22.5px,#2a778e 23.5px,#26818e 25.5px,#31678e 26.5px,#306a8e 30.5px,#34618d 31.5px,#2c738e 32.5px,#2a778e 33.5px,#32648e 34.5px,#414286 35.5px,#443a83 36.5px,#3b518b 37.5px,#3b508b 38.5px,#404688 40.5px,#482374 42.5px,#472b7a 43.5px,#472b7a 44.5px,#414487 45.5px,#482071 47.5px,#481a6c 48.5px,#450559 49.5px,#440154 63.5px,#440154 144.5px)"></i><i style="top:60px;background:linear-gradient(90deg,#481466 0.5px,#440256 1.5px,#470f62 2.5px,#46085b 3.5px,#460a5d 4.5px,#481568 5.5px,#46075b 6.5px,#482273 9.5px,#46327f 10.5px,#414487 12.5px,#33638d 13.5px,#24aa83 14.5px,#31b57b 15.5px,#20a486 16.5px,#1f968b 17.5px,#24868e 19.5px,#2d708e 20.5px,#297b8e 21.5px,#2a788e 23.5px,#277e8e 24.5px,#297b8e 25.5px,#32658e 26.5px,#2e6f8e 27.5px,#31688e 28.5px,#2e6d8e 29.5px,#31668e 31.5px,#29798e 32.5px,#2c728e 33.5px,#443983 35.5px,#39558c 37.5px,#423f85 40.5px,#482575 41.5px,#472d7c 42.5px,#482576 43.5px,#423f85 44.5px,#443b84 45.5px,#482172 46.5px,#481d6f 47.5px,#460a5d 48.5px,#440254 49.5px,#440154 144.5px)"></i><i style="top:62px;background:linear-gradient(90deg,#481466 0.5px,#440256 1.5px,#470f62 2.5px,#46085b 3.5px,#460a5d 4.5px,#481568 5.5px,#46075b 6.5px,#482273 9.5px,#46327f 10.5px,#414487 12.5px,#33638d 13.5px,#24aa83 14.5px,#31b57b 15.5px,#20a386 16.5px,#1f968b 17.5px,#24868e 19.5px,#2d708e 20.5px,#277e8e 21.5px,#2a798e 23.5px,#26818e 24.5px,#31678e 26.5px,#2e6f8e 27.5px,#31688e 28.5px,#2d708e 29.5px,#33638d 30.5px,#297a8e 32.5px,#31668e 33.5px,#414487 34.5px,#433c84 35.5px,#3a538b 36.5px,#404788 39.5px,#472f7d 40.5px,#482878 41.5px,#463380 43.5px,#424186 44.5px,#482374 45.5px,#481e70 46.5px,#440255 48.5px,#440154 144.5px)"></i><i style="top:64px;background:linear-gradient(90deg,#481466 0.5px,#440256 1.5px,#470f62 2.5px,#46085b 3.5px,#460a5d 4.5px,#481568 5.5px,#46075b 6.5px,#482273 9.5px,#46327f 10.5px,#414487 12.5px,#33638d 13.5px,#25ab82 14.5px,#31b57b 15.5px,#20a387 16.5px,#1f958b 17.5px,#20918c 18.5px,#2d708e 20.5px,#277e8e 21.5px,#297a8e 23.5px,#25838e 24.5px,#2e6f8e 25.5px,#2f6c8e 27.5px,#2f6c8e 29.5px,#32658e 30.5px,#287b8e 31.5px,#2b748e 32.5px,#443b84 34.5px,#39578c 36.5px,#3d4c8a 37.5px,#3e4b89 38.5px,#433c84 39.5px,#482676 40.5px,#47307d 41.5px,#472f7d 42.5px,#404588 43.5px,#472d7b 44.5px,#481366 46.5px,#440255 47.5px,#440154 144.5px)"></i><i style="top:66px;background:linear-gradient(90deg,#481466 0.5px,#440256 1.5px,#470f62 2.5px,#46085b 3.5px,#460a5d 4.5px,#481568 5.5px,#46075b 6.5px,#482273 9.5px,#46327f 10.5px,#414487 12.5px,#33638d 13.5px,#25ab82 14.5px,#31b57b 15.5px,#20a386 16.5px,#1f958b 17.5px,#20918c 18.5px,#287d8e 19.5px,#2c738e 20.5px,#26818e 21.5px,#297a8e 22.5px,#25848e 24.5px,#31688e 25.5px,#2d708e 26.5px,#306a8e 27.5px,#2c728e 28.5px,#31678e 29.5px,#2e6d8e 30.5px,#287c8e 31.5px,#2e6d8e 32.5px,#3d4c8a 33.5px,#433e85 34.5px,#39558c 35.5px,#404688 38.5px,#482a79 39.5px,#46327f 40.5px,#482a79 41.5px,#404688 42.5px,#482071 44.5px,#481769 45.5px,#440255 46.5px,#440154 144.5px)"></i><i style="top:68px;background:linear-gradient(90deg,#481466 0.5px,#440256 1.5px,#470f62 2.5px,#46085b 3.5px,#460a5d 4.5px,#481568 5.5px,#46075b 6.5px,#482273 9.5px,#46327f 10.5px,#414487 12.5px,#33638d 13.5px,#25ac82 14.5px,#31b57b 15.5px,#20a387 16.5px,#1f958b 17.5px,#21908c 18.5px,#287d8e 19.5px,#2a768e 20.5px,#26828e 21.5px,#297a8e 22.5px,#287e8e 24.5px,#31678e 25.5px,#2d718e 26.5px,#306a8e 27.5px,#2d718e 28.5px,#32658e 29.5px,#297b8e 30.5px,#29798e 31.5px,#433e85 33.5px,#38588c 35.5px,#3c4e8a 36.5px,#3d4c8a 37.5px,#463480 38.5px,#472d7c 40.5px,#423f85 41.5px,#424186 42.5px,#482172 43.5px,#481d6f 44.5px,#450559 45.5px,#440154 73.5px,#440154 144.5px)"></i><i style="top:70px;background:linear-gradient(90deg,#481466 0.5px,#440256 1.5px,#470f62 2.5px,#46085b 3.5px,#460a5d 4.5px,#481568 5.5px,#46075b 6.5px,#482273 9.5px,#46327f 10.5px,#414487 12.5px,#33638d 13.5px,#26ac82 14.5px,#31b57b 15.5px,#20a387 16.5px,#1f958b 17.5px,#21908c 18.5px,#29798e 19.5px,#26828e 21.5px,#297b8e 22.5px,#25848e 23.5px,#2f6c8e 25.5px,#2f6b8e 29.5px,#277e8e 30.5px,#2d6f8e 31.5px,#3c4f8a 32.5px,#424186 33.5px,#375a8d 34.5px,#404588 37.5px,#472b7a 38.5px,#463480 39.5px,#463480 40.5px,#3f4888 41.5px,#482374 42.5px,#481e70 43.5px,#460a5d 44.5px,#440254 46.5px,#440154 144.5px)"></i><i style="top:72px;background:linear-gradient(90deg,#481466 0.5px,#440256 1.5px,#470f62 2.5px,#46085b 3.5px,#460a5d 4.5px,#481568 5.5px,#46075b 6.5px,#482273 9.5px,#46327f 10.5px,#414487 12.5px,#33638d 13.5px,#26ac81 14.5px,#31b57b 15.5px,#20a387 16.5px,#218f8d 18.5px,#2b768e 19.5px,#26818e 21.5px,#287c8e 22.5px,#24868e 23.5px,#2e6d8e 24.5px,#2f6d8e 26.5px,#2b748e 27.5px,#31688e 28.5px,#29798e 29.5px,#287d8e 30.5px,#32658e 31.5px,#424086 32.5px,#37598c 34.5px,#3d4d8a 36.5px,#46317e 37.5px,#453781 38.5px,#46327e 39.5px,#3e4a89 40.5px,#472d7c 41.5px,#440255 44.5px,#440154 144.5px)"></i><i style="top:74px;background:linear-gradient(90deg,#481466 0.5px,#440256 1.5px,#470f62 2.5px,#46085b 3.5px,#460a5d 4.5px,#481568 5.5px,#46075b 6.5px,#482273 9.5px,#46327f 10.5px,#414487 12.5px,#33638d 13.5px,#27ad81 14.5px,#31b57b 15.5px,#20a387 16.5px,#228d8d 18.5px,#2b768e 19.5px,#277f8e 20.5px,#287d8e 22.5px,#24878e 23.5px,#306a8e 24.5px,#2b748e 25.5px,#2f6d8e 26.5px,#2c738e 27.5px,#306a8e 28.5px,#277f8e 29.5px,#2b758e 30.5px,#3b518b 31.5px,#414387 32.5px,#365c8d 33.5px,#3b518b 35.5px,#46327f 37.5px,#46327f 38.5px,#3e4a89 39.5px,#453882 40.5px,#482071 41.5px,#481769 42.5px,#440255 43.5px,#440154 144.5px)"></i><i style="top:76px;background:linear-gradient(90deg,#481466 0.5px,#440256 1.5px,#470f62 2.5px,#46085b 3.5px,#460a5d 4.5px,#481568 5.5px,#46075b 6.5px,#482273 9.5px,#46327f 10.5px,#414487 12.5px,#33638d 13.5px,#27ad81 14.5px,#31b57b 15.5px,#20a387 16.5px,#228d8d 18.5px,#2b748e 19.5px,#26828e 20.5px,#287d8e 21.5px,#26818e 23.5px,#2f6c8e 24.5px,#2c728e 26.5px,#2c728e 28.5px,#277f8e 29.5px,#31678e 30.5px,#414387 31.5px,#365b8d 33.5px,#3d4d8a 35.5px,#46307e 36.5px,#3f4889 39.5px,#482172 40.5px,#481a6c 41.5px,#440255 42.5px,#440154 144.5px)"></i><i style="top:78px;background:linear-gradient(90deg,#481466 0.5px,#440256 1.5px,#470f62 2.5px,#46085b 3.5px,#460a5d 4.5px,#481568 5.5px,#46075b 6.5px,#482273 9.5px,#46327f 10.5px,#414487 12.5px,#33638d 13.5px,#27ae80 14.5px,#31b57b 15.5px,#20a387 16.5px,#238b8d 18.5px,#2b758e 19.5px,#24868e 20.5px,#287d8e 21.5px,#25848e 22.5px,#2d6f8e 25.5px,#2a768e 26.5px,#2f6b8e 27.5px,#277f8e 28.5px,#297a8e 29.5px,#3a548c 30.5px,#404688 31.5px,#355e8d 32.5px,#3a538b 34.5px,#443b84 35.5px,#453681 37.5px,#3c508b 38.5px,#482777 39.5px,#481d6f 40.5px,#450559 41.5px,#440154 75.5px,#440154 144.5px)"></i><i style="top:80px;background:linear-gradient(90deg,#481466 0.5px,#440256 1.5px,#470f62 2.5px,#46085b 3.5px,#460a5d 4.5px,#481568 5.5px,#46075b 6.5px,#482273 9.5px,#46327f 10.5px,#414487 12.5px,#33638d 13.5px,#28ae80 14.5px,#32b57b 15.5px,#20a387 16.5px,#24878e 18.5px,#2a778e 19.5px,#24858e 20.5px,#277e8e 21.5px,#238a8d 22.5px,#2d708e 23.5px,#2a778e 24.5px,#2d6f8e 25.5px,#2c748e 26.5px,#2d708e 27.5px,#26838e 28.5px,#2e6f8e 29.5px,#404688 30.5px,#39558c 31.5px,#365c8d 32.5px,#3f4989 34.5px,#463480 35.5px,#453782 36.5px,#3d4e8a 37.5px,#482071 39.5px,#460a5d 40.5px,#440255 42.5px,#440154 144.5px)"></i><i style="top:82px;background:linear-gradient(90deg,#481466 0.5px,#440256 1.5px,#470f62 2.5px,#46085b 3.5px,#460a5d 4.5px,#481568 5.5px,#46075b 6.5px,#482273 9.5px,#46327f 10.5px,#414487 12.5px,#33638d 13.5px,#29af80 14.5px,#32b57a 15.5px,#20a287 16.5px,#297b8e 19.5px,#25848e 20.5px,#26818e 21.5px,#238a8d 22.5px,#2e6d8e 23.5px,#2b768e 24.5px,#2e6e8e 26.5px,#277e8e 27.5px,#287d8e 28.5px,#365d8d 29.5px,#3f4989 30.5px,#33628d 31.5px,#3a548c 33.5px,#453681 34.5px,#404788 37.5px,#482475 38.5px,#470f61 39.5px,#440255 40.5px,#440154 144.5px)"></i><i style="top:84px;background:linear-gradient(90deg,#481466 0.5px,#440256 1.5px,#470f62 2.5px,#46085b 3.5px,#460a5d 4.5px,#481568 5.5px,#46075b 6.5px,#482273 9.5px,#46327f 10.5px,#414487 12.5px,#33638d 13.5px,#29af80 14.5px,#32b57a 15.5px,#1fa287 16.5px,#1f978b 17.5px,#26828e 18.5px,#25848e 22.5px,#2c728e 23.5px,#297a8e 25.5px,#2d6f8e 26.5px,#25858e 27.5px,#2c718e 28.5px,#3f4989 29.5px,#365d8d 30.5px,#38588c 32.5px,#404688 33.5px,#443b84 35.5px,#3a538b 36.5px,#482979 37.5px,#450356 39.5px,#440154 144.5px)"></i><i style="top:86px;background:linear-gradient(90deg,#481466 0.5px,#440256 1.5px,#470f62 2.5px,#46085b 3.5px,#460a5d 4.5px,#481568 5.5px,#46075b 6.5px,#482273 9.5px,#46327f 10.5px,#414487 12.5px,#33638d 13.5px,#29af7f 14.5px,#32b57a 15.5px,#1fa287 16.5px,#1f978b 17.5px,#277e8e 18.5px,#24888e 21.5px,#2a788e 22.5px,#2c728e 24.5px,#26828e 27.5px,#34608d 28.5px,#3e4b8a 29.5px,#32648e 30.5px,#3b528b 32.5px,#443a83 33.5px,#433c84 34.5px,#39568c 35.5px,#463480 36.5px,#481f71 37.5px,#450356 38.5px,#440154 144.5px)"></i><i style="top:88px;background:linear-gradient(90deg,#481466 0.5px,#440256 1.5px,#470f62 2.5px,#46085b 3.5px,#460a5d 4.5px,#481568 5.5px,#46075b 6.5px,#482273 9.5px,#46327f 10.5px,#414487 12.5px,#33638d 13.5px,#2ab07f 14.5px,#32b57a 15.5px,#1fa287 16.5px,#1f968b 17.5px,#297b8e 18.5px,#23898e 19.5px,#26818e 20.5px,#238b8d 21.5px,#2d718e 22.5px,#297a8e 23.5px,#297a8e 24.5px,#2d708e 25.5px,#24878e 26.5px,#2a798e 27.5px,#3c4f8a 28.5px,#345f8d 29.5px,#375b8d 31.5px,#433f85 32.5px,#3c508b 34.5px,#482777 36.5px,#450559 37.5px,#440154 73.5px,#440154 144.5px)"></i><i style="top:90px;background:linear-gradient(90deg,#481466 0.5px,#440256 1.5px,#470f62 2.5px,#46085b 3.5px,#460a5d 4.5px,#481568 5.5px,#46075b 6.5px,#482273 9.5px,#46327f 10.5px,#414487 12.5px,#33638d 13.5px,#2bb07f 14.5px,#32b67a 15.5px,#1fa187 16.5px,#1f978b 17.5px,#29798e 18.5px,#238a8d 19.5px,#25838e 20.5px,#228e8d 21.5px,#2c738e 22.5px,#287c8e 24.5px,#2b758e 25.5px,#24878e 26.5px,#33638d 27.5px,#3c4e8a 28.5px,#31678e 29.5px,#414387 32.5px,#3c4f8a 34.5px,#472d7b 35.5px,#470f62 36.5px,#440356 37.5px,#440154 144.5px)"></i><i style="top:92px;background:linear-gradient(90deg,#481466 0.5px,#440256 1.5px,#470f62 2.5px,#46085b 3.5px,#460a5d 4.5px,#481568 5.5px,#46075b 6.5px,#482273 9.5px,#46327f 10.5px,#414487 12.5px,#33638d 13.5px,#2bb17e 14.5px,#32b67a 15.5px,#1fa188 16.5px,#1f958b 17.5px,#297a8e 18.5px,#238a8d 19.5px,#25848e 20.5px,#24878e 21.5px,#29798e 22.5px,#2a768e 24.5px,#25838e 25.5px,#277f8e 26.5px,#3b528b 27.5px,#33628d 28.5px,#365c8d 30.5px,#433e85 31.5px,#414287 32.5px,#365c8d 33.5px,#46327f 34.5px,#450356 36.5px,#440154 144.5px)"></i><i style="top:94px;background:linear-gradient(90deg,#481466 0.5px,#440256 1.5px,#470f62 2.5px,#46085b 3.5px,#460a5d 4.5px,#481568 5.5px,#46075b 6.5px,#482273 9.5px,#46327f 10.5px,#414487 12.5px,#33638d 13.5px,#2cb17e 14.5px,#33b67a 15.5px,#1fa088 16.5px,#20938c 17.5px,#287c8e 18.5px,#24878e 19.5px,#23888e 20.5px,#287c8e 21.5px,#287d8e 23.5px,#2c738e 24.5px,#228b8d 25.5px,#3b518b 27.5px,#31688e 28.5px,#34608d 29.5px,#3f4989 30.5px,#3e4a89 31.5px,#375b8d 32.5px,#482475 34.5px,#450357 35.5px,#440154 144.5px)"></i><i style="top:96px;background:linear-gradient(90deg,#481466 0.5px,#440256 1.5px,#470f62 2.5px,#46085b 3.5px,#460a5d 4.5px,#481568 5.5px,#46075b 6.5px,#482273 9.5px,#46327f 10.5px,#414487 12.5px,#33638d 13.5px,#2db27d 14.5px,#33b67a 15.5px,#1fa088 16.5px,#25848e 18.5px,#218f8d 20.5px,#2b748e 21.5px,#25858e 25.5px,#39558c 26.5px,#30698e 27.5px,#375a8c 29.5px,#3e4a89 30.5px,#3d4d8a 32.5px,#472f7c 33.5px,#450457 34.5px,#440154 144.5px)"></i><i style="top:98px;background:linear-gradient(90deg,#481466 0.5px,#440256 1.5px,#470f62 2.5px,#46085b 3.5px,#460a5d 4.5px,#481568 5.5px,#46075b 6.5px,#482273 9.5px,#46327f 10.5px,#414487 12.5px,#33638d 13.5px,#2eb37d 14.5px,#33b67a 15.5px,#1fa088 16.5px,#228d8d 17.5px,#24868e 19.5px,#20928c 20.5px,#29798e 21.5px,#2a778e 23.5px,#228d8d 24.5px,#39558c 26.5px,#30698e 27.5px,#33638d 28.5px,#404588 29.5px,#3f4889 30.5px,#365d8d 31.5px,#453681 32.5px,#450558 33.5px,#440154 144.5px)"></i><i style="top:100px;background:linear-gradient(90deg,#481466 0.5px,#440256 1.5px,#470f62 2.5px,#46085b 3.5px,#460a5d 4.5px,#481568 5.5px,#46075b 6.5px,#482273 9.5px,#46327f 10.5px,#414487 12.5px,#33638d 13.5px,#2fb37c 14.5px,#33b67a 15.5px,#1fa088 16.5px,#23888e 17.5px,#218e8d 18.5px,#287c8e 23.5px,#228b8d 24.5px,#38588c 25.5px,#2f6c8e 26.5px,#32668e 27.5px,#3a558c 28.5px,#3c508b 29.5px,#33648d 30.5px,#443b83 31.5px,#450356 33.5px,#440154 144.5px)"></i><i style="top:102px;background:linear-gradient(90deg,#481466 0.5px,#440256 1.5px,#470f62 2.5px,#46085b 3.5px,#460a5d 4.5px,#481568 5.5px,#46075b 6.5px,#482273 9.5px,#46327f 10.5px,#414487 12.5px,#33638d 13.5px,#30b47b 14.5px,#33b679 15.5px,#1fa088 16.5px,#25848e 17.5px,#218f8d 18.5px,#238b8d 19.5px,#297b8e 20.5px,#27808e 22.5px,#218e8d 23.5px,#365d8d 25.5px,#2f6a8e 26.5px,#32658e 27.5px,#3d4c8a 28.5px,#38588c 29.5px,#404688 30.5px,#472a79 31.5px,#450457 32.5px,#440154 144.5px)"></i><i style="top:104px;background:linear-gradient(90deg,#481466 0.5px,#440256 1.5px,#470f62 2.5px,#46085b 3.5px,#460a5d 4.5px,#481568 5.5px,#46075b 6.5px,#482273 9.5px,#46327f 10.5px,#414487 12.5px,#33638d 13.5px,#31b57b 14.5px,#34b779 15.5px,#1fa088 16.5px,#277f8e 17.5px,#218e8d 18.5px,#20938c 19.5px,#297b8e 20.5px,#297a8e 22.5px,#21908c 23.5px,#365c8d 24.5px,#2c728e 25.5px,#30698e 26.5px,#3d4c8a 27.5px,#38578c 29.5px,#453681 30.5px,#450458 31.5px,#440154 144.5px)"></i><i style="top:106px;background:linear-gradient(90deg,#481466 0.5px,#440256 1.5px,#470f62 2.5px,#46085b 3.5px,#460a5d 4.5px,#481568 5.5px,#46075b 6.5px,#482273 9.5px,#46327f 10.5px,#414487 12.5px,#33638d 13.5px,#33b67a 14.5px,#34b779 15.5px,#1fa088 16.5px,#27808e 17.5px,#1f968b 19.5px,#25848e 20.5px,#23898e 22.5px,#26818e 23.5px,#34608d 24.5px,#2f6c8e 25.5px,#39578c 27.5px,#30698e 28.5px,#423f85 29.5px,#450559 30.5px,#440154 51.5px,#440154 144.5px)"></i><i style="top:108px;background:linear-gradient(90deg,#481466 0.5px,#440256 1.5px,#470f62 2.5px,#46085b 3.5px,#460a5d 4.5px,#481568 5.5px,#46075b 6.5px,#482273 9.5px,#46327f 10.5px,#414487 12.5px,#33638d 13.5px,#34b679 14.5px,#35b779 15.5px,#1fa088 16.5px,#24868e 17.5px,#238a8d 19.5px,#26818e 21.5px,#1f958b 22.5px,#32648e 23.5px,#2a768e 24.5px,#2e6d8e 25.5px,#3a548b 26.5px,#32658e 27.5px,#404588 28.5px,#46075b 29.5px,#440154 36.5px,#440154 144.5px)"></i><i style="top:110px;background:linear-gradient(90deg,#481466 0.5px,#440256 1.5px,#470f62 2.5px,#46085b 3.5px,#460a5d 4.5px,#481568 5.5px,#46075b 6.5px,#482273 9.5px,#46327f 10.5px,#414487 12.5px,#33638d 13.5px,#35b779 14.5px,#35b779 15.5px,#1f9f88 16.5px,#218e8d 17.5px,#218e8d 18.5px,#287d8e 19.5px,#23898e 22.5px,#32648e 23.5px,#2d6f8e 24.5px,#38578c 25.5px,#38588c 26.5px,#3b518b 27.5px,#472d7b 28.5px,#450457 29.5px,#440154 144.5px)"></i><i style="top:112px;background:linear-gradient(90deg,#481466 0.5px,#440256 1.5px,#470f62 2.5px,#46085b 3.5px,#460a5d 4.5px,#481568 5.5px,#46075b 6.5px,#482273 9.5px,#46327f 10.5px,#414487 12.5px,#33638d 13.5px,#37b878 14.5px,#36b878 15.5px,#1e9d89 16.5px,#20948c 17.5px,#1f958b 18.5px,#24868e 19.5px,#1f988b 21.5px,#30698e 22.5px,#297a8e 23.5px,#355e8d 25.5px,#31688e 26.5px,#443a83 27.5px,#450558 28.5px,#440154 144.5px)"></i><i style="top:114px;background:linear-gradient(90deg,#481466 0.5px,#440256 1.5px,#470f62 2.5px,#46085b 3.5px,#460a5d 4.5px,#481568 5.5px,#46075b 6.5px,#482273 9.5px,#46327f 10.5px,#414487 12.5px,#33638d 13.5px,#39b977 14.5px,#37b878 15.5px,#1f9a8a 16.5px,#1f958b 17.5px,#1e9c89 18.5px,#23898d 19.5px,#26838e 20.5px,#20918c 21.5px,#30698e 22.5px,#2b748e 23.5px,#37598c 24.5px,#2b748e 25.5px,#3f4989 26.5px,#450659 27.5px,#440154 40.5px,#440154 144.5px)"></i><i style="top:116px;background:linear-gradient(90deg,#481366 0.5px,#440256 1.5px,#470f61 2.5px,#46085b 3.5px,#46095d 4.5px,#481567 5.5px,#46075b 6.5px,#482173 9.5px,#46327e 10.5px,#414487 12.5px,#33638d 13.5px,#3bba75 14.5px,#37b977 15.5px,#20918c 16.5px,#23898e 19.5px,#20928c 20.5px,#2c738e 21.5px,#287d8e 22.5px,#31688e 23.5px,#32658e 24.5px,#3b528b 25.5px,#46085b 26.5px,#440154 31.5px,#440154 144.5px)"></i><i style="top:118px;background:linear-gradient(90deg,#471265 0.5px,#440256 1.5px,#470e61 2.5px,#46095c 4.5px,#481467 5.5px,#46075b 6.5px,#482172 9.5px,#46317e 10.5px,#414487 12.5px,#33638d 13.5px,#3cbb75 14.5px,#38b977 15.5px,#238a8d 16.5px,#20928c 17.5px,#25858e 18.5px,#1e9c89 20.5px,#2c738e 21.5px,#297a8e 22.5px,#31678e 23.5px,#355f8d 24.5px,#460b5e 25.5px,#440255 27.5px,#440154 144.5px)"></i><i style="top:120px;background:linear-gradient(90deg,#471163 0.5px,#440256 1.5px,#470d60 2.5px,#46095c 4.5px,#481366 5.5px,#46075b 6.5px,#482071 9.5px,#453882 11.5px,#414487 12.5px,#33638d 13.5px,#3fbd73 14.5px,#38b977 15.5px,#23898e 16.5px,#1f998a 17.5px,#277e8e 20.5px,#277f8e 21.5px,#33628d 22.5px,#287d8e 23.5px,#424186 24.5px,#450457 25.5px,#440154 144.5px)"></i><i style="top:122px;background:linear-gradient(90deg,#471062 0.5px,#440255 1.5px,#470c5f 2.5px,#46085c 4.5px,#471265 5.5px,#46075b 6.5px,#481f71 9.5px,#453782 11.5px,#414487 12.5px,#33638d 13.5px,#42be72 14.5px,#38b977 15.5px,#20928c 16.5px,#20a287 17.5px,#218f8d 18.5px,#20a586 19.5px,#2a788e 20.5px,#287d8e 21.5px,#2b758e 22.5px,#3a548b 23.5px,#450558 24.5px,#440154 71.5px,#440154 144.5px)"></i><i style="top:124px;background:linear-gradient(90deg,#470e61 0.5px,#440255 1.5px,#460b5e 2.5px,#46085b 4.5px,#471164 5.5px,#46075b 6.5px,#481f70 9.5px,#414487 12.5px,#33638d 13.5px,#44bf70 14.5px,#37b877 15.5px,#1e9b8a 16.5px,#228b8d 17.5px,#21908c 18.5px,#26818e 20.5px,#355f8d 22.5px,#45065a 23.5px,#440154 29.5px,#440154 144.5px)"></i><i style="top:126px;background:linear-gradient(90deg,#470d60 0.5px,#440255 1.5px,#460a5d 2.5px,#46075b 4.5px,#471063 5.5px,#46085b 6.5px,#481e70 9.5px,#414487 12.5px,#33638d 13.5px,#48c16e 14.5px,#38b977 15.5px,#1f998a 16.5px,#20938c 17.5px,#1f9f88 18.5px,#277f8e 19.5px,#2f6b8e 20.5px,#2e6e8e 21.5px,#46095d 22.5px,#440154 24.5px,#440154 144.5px)"></i><i style="top:128px;background:linear-gradient(90deg,#460c5f 0.5px,#440255 1.5px,#46095d 2.5px,#46075b 4.5px,#470f62 5.5px,#46085b 6.5px,#481e6f 9.5px,#414487 12.5px,#33638d 13.5px,#4bc26c 14.5px,#38b977 15.5px,#1f988b 16.5px,#218f8d 18.5px,#26828e 19.5px,#26818e 20.5px,#470e61 21.5px,#440255 22.5px,#440154 144.5px)"></i><i style="top:130px;background:linear-gradient(90deg,#460a5e 0.5px,#440255 1.5px,#46085c 2.5px,#46075a 4.5px,#470e61 5.5px,#46085b 6.5px,#481d6f 9.5px,#414487 12.5px,#33638d 13.5px,#50c46a 14.5px,#21a685 16.5px,#218f8d 17.5px,#25848e 18.5px,#2c728e 19.5px,#404688 20.5px,#450356 21.5px,#440154 144.5px)"></i><i style="top:132px;background:linear-gradient(90deg,#46095c 0.5px,#440255 1.5px,#450559 3.5px,#470d60 5.5px,#46085b 6.5px,#481c6e 9.5px,#414487 12.5px,#33638d 13.5px,#55c667 14.5px,#2bb17e 15.5px,#228e8d 16.5px,#1f9f88 17.5px,#34608d 19.5px,#450356 20.5px,#440154 144.5px)"></i><i style="top:134px;background:linear-gradient(90deg,#46085b 0.5px,#440255 1.5px,#460b5e 5.5px,#460b5e 7.5px,#472d7b 11.5px,#443b83 12.5px,#38588c 13.5px,#5bc864 14.5px,#26ac81 15.5px,#1f978b 16.5px,#287d8e 18.5px,#450457 19.5px,#440154 144.5px)"></i><i style="top:136px;background:linear-gradient(90deg,#45065a 0.5px,#440255 1.5px,#46085c 7.5px,#482576 11.5px,#46307e 12.5px,#3e4b8a 13.5px,#63cb5f 14.5px,#31b57b 15.5px,#25ab82 16.5px,#2b768e 17.5px,#450659 18.5px,#440154 23.5px,#440154 144.5px)"></i><i style="top:138px;background:linear-gradient(90deg,#450558 0.5px,#450457 4.5px,#460b5e 8.5px,#482676 12.5px,#433e85 13.5px,#6ece59 14.5px,#3aba76 15.5px,#23898d 16.5px,#460a5d 17.5px,#440154 18.5px,#440154 144.5px)"></i><i style="top:140px;background:linear-gradient(90deg,#450457 0.5px,#46085b 8.5px,#481b6d 12.5px,#47307d 13.5px,#79d152 14.5px,#2db27d 15.5px,#481f70 16.5px,#440154 17.5px,#440154 144.5px)"></i><i style="top:142px;background:linear-gradient(90deg,#450356 0.5px,#46095c 9.5px,#48176a 12.5px,#472b7a 13.5px,#7ad251 14.5px,#1f998a 15.5px,#440255 16.5px,#440154 144.5px)"></i><i style="top:144px;background:linear-gradient(90deg,#440254 0.5px,#46085b 9.5px,#48176a 12.5px,#472b7a 13.5px,#85d44a 14.5px,#3a538b 15.5px,#440255 16.5px,#440154 144.5px)"></i></div>
<div class="hm" style="left:360.8px;top:17.3px;width:144.5px;height:145.3px"><i style="top:0px;background:linear-gradient(90deg,#482a79 0.5px,#481769 2.5px,#481e6f 3.5px,#470e61 5.5px,#450356 6.5px,#46075b 7.5px,#482878 9.5px,#482475 10.5px,#443b84 11.5px,#3e4b89 12.5px,#2a778e 13.5px,#21a585 14.5px,#22a884 15.5px,#1fa287 16.5px,#24aa83 17.5px,#20a486 19.5px,#30b47b 20.5px,#1e9b8a 21.5px,#1f9e89 22.5px,#218e8d 24.5px,#1f958b 25.5px,#26818e 27.5px,#20918c 28.5px,#25848e 29.5px,#31668e 30.5px,#20928c 32.5px,#218e8d 33.5px,#20928c 34.5px,#21a685 35.5px,#21a585 36.5px,#29798e 37.5px,#32658e 38.5px,#2b748e 39.5px,#31688e 41.5px,#404487 43.5px,#32658e 44.5px,#297b8e 45.5px,#2b768e 46.5px,#3a548c 48.5px,#355f8d 49.5px,#453782 50.5px,#48186a 51.5px,#453581 52.5px,#414487 53.5px,#443c84 54.5px,#433e85 55.5px,#39568c 56.5px,#3a538b 57.5px,#32658e 58.5px,#306a8e 64.5px,#433c84 66.5px,#3a548c 67.5px,#3a538b 68.5px,#3f4889 69.5px,#38588c 70.5px,#38578c 72.5px,#440154 73.5px,#440154 132.5px,#460a5d 135.5px,#470d60 143.5px,#471163 144.5px)"></i><i style="top:2px;background:linear-gradient(90deg,#482374 0.5px,#470e61 1.5px,#481769 2.5px,#450559 3.5px,#46095c 5.5px,#481568 6.5px,#470e61 7.5px,#481e6f 9.5px,#443b84 11.5px,#3d4e8a 12.5px,#2d718e 13.5px,#20a386 14.5px,#22a884 15.5px,#48c16e 16.5px,#34b779 17.5px,#1fa187 18.5px,#21a586 19.5px,#1f968b 20.5px,#21a785 21.5px,#23888e 22.5px,#277e8e 23.5px,#1f9e89 24.5px,#1f998a 25.5px,#23898d 26.5px,#20918c 27.5px,#228b8d 28.5px,#297a8e 29.5px,#26818e 30.5px,#2b768e 31.5px,#297a8e 32.5px,#1f958b 33.5px,#2bb17e 34.5px,#22a884 35.5px,#228d8d 36.5px,#2d718e 37.5px,#34608d 38.5px,#30698e 39.5px,#277f8e 40.5px,#2c728e 41.5px,#3c508b 42.5px,#355f8d 44.5px,#297a8e 46.5px,#29798e 47.5px,#2d718e 48.5px,#433d84 49.5px,#472d7c 50.5px,#453882 51.5px,#472e7c 52.5px,#3e4a89 54.5px,#3f4989 55.5px,#3c508b 56.5px,#33618d 57.5px,#404588 58.5px,#3e4a89 59.5px,#365b8d 60.5px,#38578c 62.5px,#33628d 63.5px,#33638d 65.5px,#3b518b 67.5px,#33638d 69.5px,#39568c 70.5px,#355e8d 71.5px,#440154 72.5px,#440255 130.5px,#460c5f 134.5px,#471063 142.5px,#48186a 144.5px)"></i><i style="top:4px;background:linear-gradient(90deg,#482576 0.5px,#482071 1.5px,#450457 2.5px,#450559 3.5px,#482475 5.5px,#482777 6.5px,#470e61 8.5px,#482a79 9.5px,#433f85 10.5px,#414287 11.5px,#3b528b 12.5px,#2b748e 13.5px,#20a486 14.5px,#2cb17e 17.5px,#36b878 18.5px,#1f9e89 19.5px,#1f9f88 20.5px,#23888e 21.5px,#26828e 22.5px,#218f8d 23.5px,#228c8d 24.5px,#20a586 26.5px,#20938c 27.5px,#287d8e 28.5px,#20938c 31.5px,#23888e 32.5px,#1fa287 34.5px,#1fa187 35.5px,#25848e 36.5px,#2c748e 37.5px,#27808e 38.5px,#2b748e 39.5px,#2c728e 40.5px,#3a538b 41.5px,#3c4f8a 42.5px,#287d8e 44.5px,#32648e 45.5px,#31678e 46.5px,#277e8e 47.5px,#3e4a89 49.5px,#472c7b 50.5px,#481668 51.5px,#47307d 52.5px,#3e4c8a 53.5px,#355f8d 56.5px,#404688 57.5px,#3c508b 60.5px,#2e6f8e 62.5px,#32648e 63.5px,#31678e 65.5px,#33638d 66.5px,#297a8e 68.5px,#375a8c 70.5px,#440154 71.5px,#450457 128.5px,#470e61 132.5px,#471063 140.5px,#481769 143.5px,#471366 144.5px)"></i><i style="top:6px;background:linear-gradient(90deg,#482878 0.5px,#481668 1.5px,#481d6e 2.5px,#481b6d 3.5px,#482878 4.5px,#481f71 7.5px,#472e7c 8.5px,#472c7b 9.5px,#3b508b 12.5px,#2a778e 13.5px,#28ae80 14.5px,#20a586 17.5px,#38b977 19.5px,#1f978b 20.5px,#228c8d 21.5px,#1f978b 22.5px,#218e8d 24.5px,#1f9d89 25.5px,#1f9f88 26.5px,#21908c 27.5px,#228b8d 28.5px,#2a778e 29.5px,#24868e 30.5px,#21a685 31.5px,#29af80 32.5px,#1f958b 33.5px,#238a8d 37.5px,#2c748e 38.5px,#297b8e 39.5px,#3d4d8a 40.5px,#365d8d 41.5px,#38588c 42.5px,#2a778e 44.5px,#34618d 46.5px,#365d8d 47.5px,#32648e 48.5px,#404688 49.5px,#482575 50.5px,#482978 51.5px,#3d4d8a 53.5px,#2f6a8e 54.5px,#32648e 55.5px,#443c84 56.5px,#355d8d 58.5px,#3b528b 59.5px,#30698e 61.5px,#2d708e 63.5px,#31678e 64.5px,#2e6f8e 66.5px,#306a8e 67.5px,#2b758e 69.5px,#33638d 70.5px,#440154 71.5px,#450558 125.5px,#471164 132.5px,#471164 138.5px,#48186a 141.5px,#481668 143.5px,#481a6c 144.5px)"></i><i style="top:8px;background:linear-gradient(90deg,#481b6d 0.5px,#453781 3.5px,#482374 4.5px,#481e70 6.5px,#453882 7.5px,#433d84 8.5px,#482576 9.5px,#482273 10.5px,#472f7d 11.5px,#3a538b 12.5px,#27808e 13.5px,#22a784 14.5px,#28ae80 15.5px,#26ac81 16.5px,#2fb37c 17.5px,#1e9c89 21.5px,#218f8d 23.5px,#1f9d89 24.5px,#21908c 27.5px,#2e6e8e 28.5px,#2c728e 29.5px,#1e9c89 30.5px,#1f9d89 31.5px,#238a8d 32.5px,#20918c 33.5px,#25838e 34.5px,#1f968b 36.5px,#287c8e 37.5px,#2a788e 38.5px,#365c8d 39.5px,#2d718e 40.5px,#32648d 41.5px,#2e6e8e 42.5px,#32658e 44.5px,#2b768e 45.5px,#433d85 48.5px,#472f7d 50.5px,#433c84 51.5px,#31678e 53.5px,#33628d 55.5px,#3f4889 57.5px,#30698e 59.5px,#32648e 60.5px,#2a778e 61.5px,#2f6c8e 62.5px,#3d4c8a 63.5px,#404788 64.5px,#3b508b 65.5px,#31668e 66.5px,#2d708e 67.5px,#30698e 69.5px,#440154 70.5px,#440356 122.5px,#471265 130.5px,#471163 136.5px,#48196b 139.5px,#481466 140.5px,#481b6d 144.5px)"></i><i style="top:10px;background:linear-gradient(90deg,#481b6d 0.5px,#482475 1.5px,#482071 4.5px,#482676 5.5px,#453882 6.5px,#481b6d 7.5px,#481467 8.5px,#482273 10.5px,#46317e 11.5px,#3c4e8a 12.5px,#297a8e 13.5px,#21a685 14.5px,#23a983 15.5px,#40bd72 16.5px,#2fb47c 17.5px,#2eb37c 18.5px,#20a486 19.5px,#21a685 20.5px,#24878e 22.5px,#1fa287 24.5px,#26818e 26.5px,#277f8e 27.5px,#2d718e 28.5px,#238b8d 29.5px,#1f968b 30.5px,#277e8e 31.5px,#24868e 33.5px,#24868e 35.5px,#2a778e 36.5px,#2a778e 38.5px,#277f8e 39.5px,#2a788e 40.5px,#26818e 42.5px,#2b748e 43.5px,#38588c 44.5px,#33638d 46.5px,#433d85 47.5px,#481b6d 48.5px,#453781 49.5px,#3c4e8a 50.5px,#404688 51.5px,#2c738e 53.5px,#297a8e 54.5px,#365b8d 55.5px,#34608d 58.5px,#2e6d8e 59.5px,#2d708e 61.5px,#433c84 63.5px,#433f85 65.5px,#404588 66.5px,#33638d 67.5px,#2c738e 68.5px,#440154 69.5px,#440255 120.5px,#460a5d 122.5px,#481467 129.5px,#471164 134.5px,#48196c 137.5px,#481568 139.5px,#48196b 143.5px,#481466 144.5px)"></i><i style="top:12px;background:linear-gradient(90deg,#482878 0.5px,#482273 1.5px,#470e61 2.5px,#450559 3.5px,#46337f 5.5px,#470f62 7.5px,#460b5e 8.5px,#482575 10.5px,#443b83 11.5px,#355f8d 12.5px,#2d6f8e 13.5px,#20a486 14.5px,#34b679 15.5px,#22a884 16.5px,#1f9e89 18.5px,#27ad81 19.5px,#20928c 20.5px,#1f968b 22.5px,#1fa088 23.5px,#27ad81 24.5px,#1f948c 25.5px,#30698e 26.5px,#355f8d 27.5px,#1f998a 28.5px,#1f978b 29.5px,#31678e 30.5px,#2c728e 31.5px,#20938c 32.5px,#1e9c8a 33.5px,#20948c 34.5px,#29798e 35.5px,#2e6f8e 36.5px,#25838e 38.5px,#2a788e 39.5px,#2a788e 40.5px,#1f948c 41.5px,#1f9f88 42.5px,#29798e 43.5px,#3a548c 44.5px,#472b7a 46.5px,#482474 47.5px,#47307d 48.5px,#481b6d 49.5px,#404487 50.5px,#2b758e 51.5px,#287d8e 53.5px,#345f8d 54.5px,#33628d 56.5px,#2e6e8e 57.5px,#32648e 58.5px,#30698e 59.5px,#26828e 60.5px,#38578c 61.5px,#414287 62.5px,#414387 64.5px,#38588c 67.5px,#440154 68.5px,#450457 116.5px,#450356 118.5px,#460b5e 121.5px,#481366 125.5px,#481466 133.5px,#481a6c 135.5px,#481568 137.5px,#481a6c 141.5px,#481466 143.5px,#481b6d 144.5px)"></i><i style="top:14px;background:linear-gradient(90deg,#472b7a 0.5px,#482777 1.5px,#450458 2.5px,#450559 3.5px,#481668 4.5px,#481466 7.5px,#482878 8.5px,#481a6c 9.5px,#482777 10.5px,#3f4989 11.5px,#375a8c 12.5px,#2a788e 13.5px,#21a785 14.5px,#20a586 16.5px,#20938c 18.5px,#277f8e 19.5px,#1e9c89 20.5px,#1e9b8a 21.5px,#20a386 23.5px,#287e8e 26.5px,#25858e 29.5px,#2b758e 30.5px,#287d8e 31.5px,#218f8d 32.5px,#218f8d 34.5px,#2b758e 36.5px,#25858e 37.5px,#23888e 38.5px,#2a778e 40.5px,#238b8d 42.5px,#34608d 44.5px,#424186 45.5px,#472a7a 46.5px,#482374 47.5px,#470e61 48.5px,#482072 49.5px,#3c4e8a 50.5px,#287c8e 51.5px,#238a8d 52.5px,#31688e 53.5px,#34618d 55.5px,#2c728e 56.5px,#2f6b8e 57.5px,#365c8d 58.5px,#2c738e 59.5px,#2a778e 60.5px,#32668e 61.5px,#414286 62.5px,#414387 63.5px,#355e8d 64.5px,#34618d 66.5px,#440154 67.5px,#450457 114.5px,#45065a 117.5px,#470d60 118.5px,#481567 127.5px,#481366 131.5px,#481b6d 133.5px,#481567 135.5px,#481a6c 139.5px,#481467 141.5px,#482676 144.5px)"></i><i style="top:16px;background:linear-gradient(90deg,#450457 0.5px,#481a6c 1.5px,#481f71 2.5px,#46075b 4.5px,#46085c 5.5px,#481e70 6.5px,#414487 7.5px,#472a79 8.5px,#482475 9.5px,#433e85 10.5px,#39558c 12.5px,#26838e 13.5px,#22a884 14.5px,#20a386 17.5px,#21908d 18.5px,#20938c 19.5px,#228d8d 20.5px,#1fa287 21.5px,#20918c 24.5px,#26828e 25.5px,#228c8d 26.5px,#228d8d 27.5px,#287d8e 28.5px,#277e8e 29.5px,#1f998a 30.5px,#24868e 32.5px,#23888e 33.5px,#297a8e 34.5px,#26818e 35.5px,#1f998a 36.5px,#25848e 37.5px,#26818e 38.5px,#218f8d 39.5px,#238b8d 40.5px,#32658e 42.5px,#365c8d 43.5px,#2d718e 44.5px,#39558c 45.5px,#46317e 46.5px,#482374 47.5px,#482374 48.5px,#404688 49.5px,#32648e 51.5px,#2f6c8e 53.5px,#355e8d 54.5px,#37598c 57.5px,#2c738e 58.5px,#287c8e 59.5px,#32648e 60.5px,#32658e 62.5px,#3b518b 63.5px,#3c4f8a 64.5px,#34608d 65.5px,#33628d 66.5px,#440154 67.5px,#450356 112.5px,#46085b 114.5px,#45065a 115.5px,#470e61 117.5px,#481769 124.5px,#481466 129.5px,#48196c 132.5px,#481567 133.5px,#481a6c 137.5px,#481366 139.5px,#482676 142.5px,#481e70 144.5px)"></i><i style="top:18px;background:linear-gradient(90deg,#450356 0.5px,#45065a 1.5px,#481d6f 2.5px,#482676 3.5px,#460b5e 4.5px,#46095d 5.5px,#472e7c 6.5px,#453580 7.5px,#472c7a 8.5px,#433c84 9.5px,#433d85 11.5px,#27808e 13.5px,#21a685 14.5px,#20a386 16.5px,#1f998a 17.5px,#21a685 18.5px,#228b8d 19.5px,#228b8d 20.5px,#1fa287 23.5px,#24868e 24.5px,#297a8e 25.5px,#218f8d 26.5px,#1e9b8a 27.5px,#20918c 30.5px,#1f968b 31.5px,#277e8e 33.5px,#1f978b 35.5px,#20938c 36.5px,#2a768e 38.5px,#20918c 39.5px,#1fa187 40.5px,#2b748e 41.5px,#433e85 42.5px,#375a8c 43.5px,#453580 47.5px,#39558c 48.5px,#3d4d8a 49.5px,#39558c 50.5px,#3d4d8a 51.5px,#365c8d 53.5px,#3a538b 54.5px,#39568c 55.5px,#3e4b8a 56.5px,#3c4e8a 57.5px,#2e6e8e 58.5px,#30698e 59.5px,#2b758e 60.5px,#39558c 64.5px,#37598c 65.5px,#440154 66.5px,#450356 110.5px,#470c5f 112.5px,#46075b 113.5px,#471063 115.5px,#481668 124.5px,#481366 127.5px,#481a6c 130.5px,#481568 131.5px,#481b6d 135.5px,#481366 137.5px,#482676 140.5px,#482071 143.5px,#482576 144.5px)"></i><i style="top:20px;background:linear-gradient(90deg,#450356 0.5px,#48196b 1.5px,#463480 3.5px,#46327f 4.5px,#482273 5.5px,#481567 7.5px,#472d7c 8.5px,#46317e 10.5px,#38578c 12.5px,#2a768e 13.5px,#21a585 14.5px,#23a884 15.5px,#1f998a 17.5px,#23898d 18.5px,#228c8d 19.5px,#26828e 20.5px,#1f9a8a 21.5px,#27ad81 22.5px,#1f9a8a 23.5px,#24878e 24.5px,#23898d 25.5px,#1f998a 26.5px,#28ae80 27.5px,#27ae81 28.5px,#1e9c89 29.5px,#24878e 30.5px,#297b8e 31.5px,#1e9c89 33.5px,#1f988b 34.5px,#23888e 35.5px,#20928c 38.5px,#26828e 39.5px,#26828e 40.5px,#33618d 41.5px,#355e8d 42.5px,#453580 43.5px,#482575 44.5px,#404588 45.5px,#39558c 46.5px,#3e4b89 47.5px,#453882 48.5px,#375a8c 49.5px,#414287 51.5px,#365d8d 53.5px,#34618d 54.5px,#38588c 56.5px,#32648d 57.5px,#365c8d 58.5px,#2c738e 59.5px,#2d718e 61.5px,#33638d 62.5px,#32658e 63.5px,#2b758e 64.5px,#440154 65.5px,#450457 108.5px,#470d60 110.5px,#46095d 112.5px,#471164 114.5px,#481769 122.5px,#481366 125.5px,#481b6d 128.5px,#48186a 130.5px,#481b6d 133.5px,#481366 135.5px,#482676 138.5px,#481f71 141.5px,#482676 142.5px,#481366 144.5px)"></i><i style="top:22px;background:linear-gradient(90deg,#450356 0.5px,#481f71 1.5px,#433d84 2.5px,#463480 3.5px,#433d85 5.5px,#481b6d 6.5px,#471365 7.5px,#481769 8.5px,#472d7b 10.5px,#443a83 11.5px,#3a538b 12.5px,#29798e 13.5px,#21a685 14.5px,#22a884 15.5px,#1f9f88 16.5px,#23898d 17.5px,#25848e 19.5px,#1f9e89 20.5px,#1fa187 21.5px,#25858e 23.5px,#21908d 24.5px,#21a685 25.5px,#48c16e 26.5px,#3aba76 27.5px,#34b779 28.5px,#1fa088 29.5px,#25848e 30.5px,#24868e 32.5px,#1f9a8a 33.5px,#26818e 37.5px,#24868e 38.5px,#20938c 39.5px,#2c738e 40.5px,#30698e 41.5px,#3b518b 42.5px,#3a548b 43.5px,#33628d 44.5px,#433e85 45.5px,#482273 46.5px,#482374 47.5px,#3d4e8a 48.5px,#3a538b 49.5px,#424186 50.5px,#414387 51.5px,#2f6c8e 52.5px,#287c8e 53.5px,#2c748e 54.5px,#355f8d 55.5px,#365c8d 56.5px,#31688e 57.5px,#34608d 59.5px,#2f6b8e 60.5px,#32658e 61.5px,#2b758e 63.5px,#440254 64.5px,#450458 105.5px,#470e61 109.5px,#470f61 111.5px,#48186a 119.5px,#481668 124.5px,#481b6d 126.5px,#48186a 128.5px,#48176a 132.5px,#481366 133.5px,#482676 136.5px,#481f71 139.5px,#482576 140.5px,#471164 142.5px,#481567 144.5px)"></i><i style="top:24px;background:linear-gradient(90deg,#450356 0.5px,#470f62 1.5px,#482878 2.5px,#433e85 4.5px,#481c6e 5.5px,#48196b 6.5px,#482475 8.5px,#482172 10.5px,#46327f 11.5px,#39558c 12.5px,#287c8e 13.5px,#21a685 14.5px,#22a884 15.5px,#1f988b 16.5px,#25858e 18.5px,#1f958b 19.5px,#31b47b 20.5px,#24aa83 21.5px,#2a778e 22.5px,#238a8d 24.5px,#29af80 25.5px,#43be71 26.5px,#39b977 27.5px,#20a486 28.5px,#1f9f88 30.5px,#21908c 31.5px,#1e9d89 32.5px,#287c8e 34.5px,#26828e 35.5px,#2b768e 37.5px,#238a8d 38.5px,#287c8e 39.5px,#2b758e 42.5px,#287c8e 43.5px,#31668e 44.5px,#472f7d 45.5px,#46075a 46.5px,#482878 47.5px,#39568c 48.5px,#375a8c 49.5px,#39558c 50.5px,#2b758e 52.5px,#228c8d 53.5px,#26828e 54.5px,#2f6b8e 55.5px,#33628d 56.5px,#3d4d8a 57.5px,#2d708e 59.5px,#287c8e 61.5px,#355e8d 62.5px,#440254 63.5px,#450457 103.5px,#471063 107.5px,#470d60 109.5px,#471265 111.5px,#48186a 118.5px,#481568 122.5px,#481c6e 124.5px,#481769 126.5px,#481b6d 129.5px,#481366 131.5px,#482676 134.5px,#481f71 137.5px,#482576 138.5px,#471164 140.5px,#48176a 144.5px)"></i><i style="top:26px;background:linear-gradient(90deg,#450457 0.5px,#450558 1.5px,#482071 2.5px,#46317e 3.5px,#472b7a 4.5px,#470d60 6.5px,#46317e 7.5px,#463480 8.5px,#481b6d 9.5px,#472e7c 11.5px,#39568c 12.5px,#277f8e 13.5px,#20a486 14.5px,#22a884 15.5px,#1fa287 16.5px,#218e8d 17.5px,#1f958b 18.5px,#26ac82 19.5px,#25ab82 20.5px,#1e9d89 21.5px,#277e8e 23.5px,#26818e 24.5px,#1f998a 26.5px,#1f9f88 27.5px,#39b976 28.5px,#26ad81 29.5px,#1f988b 30.5px,#20a586 32.5px,#21908c 33.5px,#2b758e 34.5px,#31678e 35.5px,#287e8e 37.5px,#2b758e 38.5px,#23888e 39.5px,#2e6d8e 41.5px,#277e8e 42.5px,#2d6f8e 43.5px,#433f85 44.5px,#463480 45.5px,#37598c 47.5px,#365b8d 48.5px,#297b8e 50.5px,#2a788e 53.5px,#2e6e8e 55.5px,#345f8d 56.5px,#31678e 57.5px,#287c8e 58.5px,#25848e 59.5px,#287d8e 60.5px,#31678e 61.5px,#32648e 62.5px,#440254 63.5px,#450356 101.5px,#471163 106.5px,#470d60 107.5px,#48196c 113.5px,#481568 120.5px,#481c6e 122.5px,#481769 124.5px,#481c6d 127.5px,#481366 129.5px,#482576 132.5px,#481e70 134.5px,#482576 136.5px,#471163 138.5px,#48186a 143.5px,#481668 144.5px)"></i><i style="top:28px;background:linear-gradient(90deg,#450458 0.5px,#450659 1.5px,#46327f 2.5px,#481466 4.5px,#482374 5.5px,#443b83 6.5px,#46327f 7.5px,#48196b 8.5px,#482575 10.5px,#424086 11.5px,#297b8e 13.5px,#22a785 14.5px,#22a785 16.5px,#1fa088 17.5px,#218e8d 18.5px,#21a685 20.5px,#218e8d 21.5px,#2d708e 24.5px,#2a798e 25.5px,#20948c 26.5px,#25ab82 27.5px,#2eb37c 28.5px,#24aa83 29.5px,#1f978b 30.5px,#1fa187 31.5px,#1f9e89 32.5px,#25848e 33.5px,#2b748e 34.5px,#2f6c8e 36.5px,#277f8e 37.5px,#25858e 38.5px,#2e6e8e 39.5px,#2f6b8e 41.5px,#414387 43.5px,#33628d 47.5px,#26818e 48.5px,#287c8e 49.5px,#23898d 50.5px,#287c8e 52.5px,#39568c 55.5px,#39558c 56.5px,#2b768e 57.5px,#238b8d 58.5px,#228b8d 59.5px,#365b8d 60.5px,#3f4989 61.5px,#440254 62.5px,#440254 95.5px,#46085c 96.5px,#440255 99.5px,#471365 104.5px,#471164 106.5px,#481a6c 114.5px,#481567 118.5px,#481c6e 120.5px,#481668 122.5px,#481c6d 125.5px,#481366 127.5px,#482576 130.5px,#481e70 132.5px,#482575 134.5px,#471063 136.5px,#48186a 141.5px,#470d60 143.5px,#470f62 144.5px)"></i><i style="top:30px;background:linear-gradient(90deg,#450558 0.5px,#450659 1.5px,#453882 2.5px,#48196b 4.5px,#472d7b 5.5px,#46337f 6.5px,#472b7a 8.5px,#481c6e 9.5px,#472e7c 10.5px,#3d4c8a 11.5px,#24878e 13.5px,#28ae80 14.5px,#23a884 16.5px,#20938c 17.5px,#277f8e 18.5px,#277f8e 20.5px,#24868e 21.5px,#2e6d8e 22.5px,#2a788e 23.5px,#238b8d 24.5px,#218f8d 25.5px,#1fa088 26.5px,#21a585 27.5px,#20948c 28.5px,#1e9c89 29.5px,#29af80 30.5px,#20948c 31.5px,#238b8d 33.5px,#31678e 35.5px,#24868e 36.5px,#26818e 37.5px,#39558c 40.5px,#38588c 42.5px,#404688 43.5px,#404688 44.5px,#375a8c 45.5px,#33638d 46.5px,#287b8e 47.5px,#297a8e 48.5px,#1f958b 49.5px,#287d8e 50.5px,#24878e 51.5px,#297a8e 52.5px,#365c8d 53.5px,#3c4f8b 55.5px,#2e6d8e 58.5px,#355d8d 60.5px,#440255 61.5px,#440255 93.5px,#470c5f 94.5px,#440255 97.5px,#471365 103.5px,#470f62 104.5px,#481568 106.5px,#48196b 113.5px,#48186a 117.5px,#481b6d 119.5px,#481669 120.5px,#48196c 124.5px,#481366 125.5px,#482576 128.5px,#481e6f 130.5px,#482474 132.5px,#471062 134.5px,#48176a 139.5px,#470d60 141.5px,#470d60 144.5px)"></i><i style="top:32px;background:linear-gradient(90deg,#450558 0.5px,#450659 1.5px,#482979 2.5px,#482576 4.5px,#481b6d 5.5px,#481d6f 6.5px,#453580 7.5px,#472d7b 9.5px,#46327f 10.5px,#3e4a89 11.5px,#2f6c8e 12.5px,#24868e 13.5px,#23a884 14.5px,#36b878 15.5px,#20a586 16.5px,#20938c 17.5px,#238b8d 18.5px,#32658e 19.5px,#355f8d 21.5px,#26828e 22.5px,#1f958b 23.5px,#1f978b 24.5px,#33b67a 25.5px,#21a685 26.5px,#20938c 27.5px,#1f978b 28.5px,#24a983 29.5px,#20938c 32.5px,#2d6f8e 33.5px,#31688e 34.5px,#23898d 35.5px,#25858e 37.5px,#287b8e 38.5px,#355f8d 39.5px,#3a538b 40.5px,#3b518b 41.5px,#443b83 42.5px,#3f4889 43.5px,#3a538b 45.5px,#2b758e 46.5px,#2c738e 47.5px,#238b8d 50.5px,#3a548c 53.5px,#463480 54.5px,#2f6c8e 56.5px,#2e6e8e 57.5px,#3c508b 58.5px,#3a538b 59.5px,#440255 60.5px,#440255 91.5px,#470f62 93.5px,#450457 95.5px,#481467 101.5px,#481366 103.5px,#481a6c 111.5px,#481769 115.5px,#481c6e 117.5px,#481769 118.5px,#48196c 122.5px,#481366 123.5px,#482576 126.5px,#481e6f 128.5px,#482374 130.5px,#481568 131.5px,#470f62 132.5px,#481769 136.5px,#470c5f 139.5px,#470e61 141.5px,#471063 144.5px)"></i><i style="top:34px;background:linear-gradient(90deg,#450457 0.5px,#450558 1.5px,#481a6c 2.5px,#482273 3.5px,#481a6c 8.5px,#424186 11.5px,#355e8d 12.5px,#24868e 13.5px,#31b57b 14.5px,#23a884 15.5px,#1f9f88 17.5px,#25848e 18.5px,#24878e 19.5px,#2f6b8e 20.5px,#355e8d 21.5px,#26818e 22.5px,#1fa187 26.5px,#37b977 27.5px,#38b977 28.5px,#1f988b 29.5px,#21a586 30.5px,#1f978b 31.5px,#2e6e8e 32.5px,#2d708e 33.5px,#297b8e 34.5px,#2a768e 35.5px,#26828e 36.5px,#26818e 37.5px,#2b768e 38.5px,#38598c 39.5px,#355f8d 40.5px,#443982 42.5px,#482878 43.5px,#433e85 44.5px,#31678e 45.5px,#2e6d8e 46.5px,#33638d 48.5px,#27808e 50.5px,#33638d 51.5px,#32658e 52.5px,#3d4d8a 53.5px,#3c4e8a 54.5px,#34608d 55.5px,#32658e 57.5px,#2b758e 58.5px,#440255 59.5px,#440154 89.5px,#471063 91.5px,#471062 92.5px,#450558 94.5px,#481467 99.5px,#471264 101.5px,#481a6c 107.5px,#481669 113.5px,#481c6e 115.5px,#48196b 117.5px,#481a6c 120.5px,#481668 122.5px,#482576 124.5px,#481e6f 126.5px,#482374 128.5px,#481568 129.5px,#471062 130.5px,#481769 134.5px,#470d60 137.5px,#471063 142.5px,#46095c 144.5px)"></i><i style="top:36px;background:linear-gradient(90deg,#450457 0.5px,#450659 2.5px,#482374 3.5px,#470d60 6.5px,#471063 7.5px,#481d6f 8.5px,#481f70 10.5px,#423f85 11.5px,#34618d 12.5px,#2a778e 13.5px,#21a685 14.5px,#32b57a 15.5px,#21a685 16.5px,#1f968b 17.5px,#1e9b8a 18.5px,#25858e 20.5px,#25838e 21.5px,#2c738e 22.5px,#24878e 24.5px,#297a8e 25.5px,#20928c 26.5px,#22a784 27.5px,#1fa187 28.5px,#32b57b 29.5px,#1f988b 30.5px,#23898d 31.5px,#25848e 32.5px,#2a768e 33.5px,#2d718e 34.5px,#297a8e 35.5px,#2e6e8e 36.5px,#2d708e 37.5px,#355f8d 38.5px,#30698e 39.5px,#3d4d8a 40.5px,#3c4f8a 41.5px,#433e85 42.5px,#482475 43.5px,#3c4f8a 44.5px,#355e8d 45.5px,#3e4b8a 46.5px,#365c8d 47.5px,#32648e 50.5px,#33628d 51.5px,#3d4d8a 52.5px,#3d4c8a 53.5px,#2e6d8e 56.5px,#2d708e 57.5px,#31688e 58.5px,#440255 59.5px,#440154 88.5px,#471365 90.5px,#45065a 92.5px,#481668 98.5px,#471164 99.5px,#481a6c 106.5px,#481668 111.5px,#481d6f 113.5px,#48196b 115.5px,#481b6d 118.5px,#481466 119.5px,#481668 120.5px,#482576 122.5px,#481d6f 124.5px,#482374 126.5px,#481567 127.5px,#470f62 128.5px,#481769 132.5px,#470f61 135.5px,#470f62 140.5px,#460a5d 142.5px,#470d60 143.5px,#440154 144.5px)"></i><i style="top:38px;background:linear-gradient(90deg,#450558 0.5px,#46075a 2.5px,#482777 3.5px,#46075b 5.5px,#471164 6.5px,#482475 7.5px,#48176a 8.5px,#481c6e 9.5px,#414287 11.5px,#3b518b 12.5px,#2c718e 13.5px,#20a486 14.5px,#23a884 15.5px,#1fa188 17.5px,#28ae80 18.5px,#1f9d89 19.5px,#24878e 20.5px,#297a8e 21.5px,#24878e 22.5px,#287d8e 23.5px,#25838e 24.5px,#21a585 25.5px,#25858e 26.5px,#2f6b8e 27.5px,#26828e 28.5px,#24878e 29.5px,#1fa287 30.5px,#22a784 31.5px,#1f948c 32.5px,#2a788e 33.5px,#2e6d8e 34.5px,#277e8e 36.5px,#31688e 37.5px,#31668e 39.5px,#2f6c8e 40.5px,#443983 41.5px,#471264 42.5px,#433c84 43.5px,#38588c 44.5px,#3d4d8a 45.5px,#3e4a89 47.5px,#33638d 49.5px,#31688e 50.5px,#32648e 51.5px,#472f7d 52.5px,#33618d 54.5px,#33638d 55.5px,#29798e 56.5px,#2b768e 57.5px,#440255 58.5px,#440154 86.5px,#471264 88.5px,#471265 89.5px,#46075a 91.5px,#481567 97.5px,#481a6c 106.5px,#48186b 110.5px,#481a6c 112.5px,#481b6d 116.5px,#481466 117.5px,#481668 118.5px,#482576 120.5px,#481d6f 122.5px,#482374 123.5px,#482072 124.5px,#470f62 126.5px,#481769 130.5px,#470c5f 132.5px,#470d60 138.5px,#46085c 139.5px,#460b5e 141.5px,#440154 142.5px,#440154 144.5px)"></i><i style="top:40px;background:linear-gradient(90deg,#450558 0.5px,#46075b 2.5px,#481f71 3.5px,#45065a 4.5px,#46095c 5.5px,#482273 6.5px,#46307d 7.5px,#482273 9.5px,#453782 11.5px,#3b518b 12.5px,#2b758e 13.5px,#20a387 14.5px,#23a884 15.5px,#1f9a8a 18.5px,#23a884 19.5px,#228c8d 21.5px,#25858e 23.5px,#1fa287 24.5px,#20918c 25.5px,#2c748e 26.5px,#2c718e 28.5px,#1f9f88 30.5px,#20a387 31.5px,#21908d 32.5px,#24868e 33.5px,#2c748e 34.5px,#2c748e 35.5px,#287c8e 36.5px,#297a8e 37.5px,#2e6d8e 38.5px,#2c728e 39.5px,#38578c 40.5px,#481c6e 41.5px,#482978 42.5px,#3d4d8a 43.5px,#424186 44.5px,#355e8d 45.5px,#306a8e 46.5px,#404688 47.5px,#3e4a89 48.5px,#2d718e 49.5px,#2a778e 50.5px,#3e4989 51.5px,#3a548c 53.5px,#355e8d 54.5px,#2a778e 55.5px,#2c738e 56.5px,#440255 57.5px,#440255 85.5px,#481567 87.5px,#46085c 90.5px,#48186a 95.5px,#471365 96.5px,#481c6d 103.5px,#481668 107.5px,#481d6f 109.5px,#48186a 111.5px,#481b6d 114.5px,#481466 115.5px,#481668 116.5px,#482576 118.5px,#481d6f 120.5px,#482374 121.5px,#482072 122.5px,#471265 123.5px,#481769 128.5px,#470c5f 130.5px,#470e61 132.5px,#471063 135.5px,#46095c 137.5px,#470e60 138.5px,#440154 139.5px,#440154 144.5px)"></i><i style="top:42px;background:linear-gradient(90deg,#450458 0.5px,#46075a 3.5px,#481a6c 4.5px,#482475 6.5px,#414286 8.5px,#481b6d 10.5px,#463380 11.5px,#39568c 12.5px,#2c728e 13.5px,#20a586 14.5px,#23a884 15.5px,#1f988b 17.5px,#21a685 18.5px,#27ad81 20.5px,#1fa088 21.5px,#21908d 22.5px,#1e9d89 23.5px,#1f968b 24.5px,#2a788e 25.5px,#29798e 26.5px,#2f6b8e 27.5px,#287c8e 28.5px,#28ae80 29.5px,#1fa188 30.5px,#2e6f8e 31.5px,#2c728e 32.5px,#26828e 33.5px,#23898e 34.5px,#287c8e 35.5px,#2c718e 37.5px,#2a768e 38.5px,#306a8e 39.5px,#453882 40.5px,#472e7c 41.5px,#3d4d8a 42.5px,#39568c 43.5px,#2c748e 44.5px,#30698e 45.5px,#3a558c 46.5px,#30698e 47.5px,#2b748e 48.5px,#3d4e8a 50.5px,#2a768e 52.5px,#355f8d 54.5px,#2f6a8e 55.5px,#440255 56.5px,#440154 83.5px,#481668 86.5px,#460a5d 88.5px,#48186a 93.5px,#481669 95.5px,#481c6e 102.5px,#48186a 106.5px,#481c6e 108.5px,#481769 109.5px,#481c6e 112.5px,#481466 114.5px,#482576 116.5px,#481d6f 118.5px,#482374 119.5px,#482072 120.5px,#471265 121.5px,#481669 126.5px,#470d60 128.5px,#470f62 133.5px,#460a5d 135.5px,#470c5f 136.5px,#440154 137.5px,#440154 144.5px)"></i><i style="top:44px;background:linear-gradient(90deg,#450457 0.5px,#450659 2.5px,#481769 3.5px,#481f71 5.5px,#433d84 7.5px,#424086 8.5px,#482273 9.5px,#482878 10.5px,#423f85 11.5px,#3c4f8a 12.5px,#2e6d8e 13.5px,#20a387 14.5px,#23a884 15.5px,#1f9f88 16.5px,#21a685 18.5px,#1f9f88 19.5px,#2fb47c 20.5px,#30b47b 21.5px,#1e9b8a 22.5px,#238a8d 24.5px,#23898d 25.5px,#20928c 26.5px,#218f8d 28.5px,#277f8e 29.5px,#24878e 31.5px,#2e6d8e 32.5px,#2c728e 33.5px,#228b8d 34.5px,#218f8d 35.5px,#2b758e 36.5px,#31678e 37.5px,#2d6f8e 38.5px,#32648e 39.5px,#424186 40.5px,#2e6d8e 43.5px,#32658e 45.5px,#2f6b8e 46.5px,#277e8e 47.5px,#287c8e 48.5px,#355e8d 49.5px,#38598c 50.5px,#287c8e 51.5px,#287e8e 52.5px,#2e6d8e 54.5px,#440255 55.5px,#450457 82.5px,#481668 84.5px,#460a5e 87.5px,#48186a 92.5px,#481467 93.5px,#48196b 95.5px,#481b6d 101.5px,#48176a 104.5px,#481d6f 106.5px,#481769 107.5px,#481c6e 110.5px,#481466 112.5px,#482576 114.5px,#481d6f 116.5px,#482374 117.5px,#482071 118.5px,#471063 119.5px,#481669 124.5px,#470d60 125.5px,#470d60 131.5px,#46085c 132.5px,#470d60 133.5px,#440154 134.5px,#440154 144.5px)"></i><i style="top:46px;background:linear-gradient(90deg,#450457 0.5px,#460a5d 3.5px,#481c6e 4.5px,#481f70 5.5px,#472f7d 6.5px,#472e7c 7.5px,#404688 9.5px,#453581 10.5px,#46337f 11.5px,#31668e 13.5px,#1f9f88 14.5px,#23a884 15.5px,#25ab82 17.5px,#1f988b 18.5px,#20a486 19.5px,#20a387 22.5px,#228d8d 24.5px,#1fa187 26.5px,#1f9f88 27.5px,#26838e 29.5px,#228d8d 31.5px,#2c738e 33.5px,#228c8d 34.5px,#1e9b8a 35.5px,#2f6b8e 36.5px,#355e8d 37.5px,#2a788e 38.5px,#31678e 39.5px,#32648e 40.5px,#38578c 41.5px,#38578c 42.5px,#2f6c8e 43.5px,#365b8d 45.5px,#2a788e 46.5px,#25858e 47.5px,#297b8e 48.5px,#297b8e 49.5px,#25858e 50.5px,#2e6f8e 51.5px,#2b758e 52.5px,#375a8c 54.5px,#440255 55.5px,#450558 76.5px,#46075b 81.5px,#48196b 83.5px,#460c5f 85.5px,#481a6c 90.5px,#48186a 92.5px,#481d6f 98.5px,#481769 102.5px,#481d6f 104.5px,#48176a 105.5px,#481c6e 108.5px,#481467 110.5px,#482576 112.5px,#481d6f 114.5px,#482374 115.5px,#471063 117.5px,#481568 122.5px,#470d60 123.5px,#471063 128.5px,#46095c 130.5px,#470e61 131.5px,#440154 132.5px,#440154 144.5px)"></i><i style="top:48px;background:linear-gradient(90deg,#450457 0.5px,#460a5d 3.5px,#482677 4.5px,#481d6f 6.5px,#463580 7.5px,#3f4788 8.5px,#423f85 9.5px,#472e7c 10.5px,#472d7c 11.5px,#404588 12.5px,#2f6b8e 13.5px,#1fa187 14.5px,#23a984 15.5px,#32b57a 16.5px,#21a785 17.5px,#22a785 19.5px,#21908c 20.5px,#228c8d 21.5px,#1f9a8a 22.5px,#1f988b 27.5px,#20a486 28.5px,#21a585 29.5px,#26818e 30.5px,#2e6e8e 31.5px,#2a778e 32.5px,#20918c 33.5px,#1f968b 34.5px,#2b758e 35.5px,#355e8d 36.5px,#2e6e8e 38.5px,#287e8e 39.5px,#33618d 40.5px,#39558c 41.5px,#2e6e8e 42.5px,#2f6b8e 45.5px,#32658e 46.5px,#1f978b 49.5px,#277f8e 50.5px,#2c728e 52.5px,#39568c 53.5px,#440255 54.5px,#450458 74.5px,#46085c 77.5px,#450559 79.5px,#48186a 82.5px,#470d60 84.5px,#48196b 89.5px,#481669 90.5px,#481d6f 95.5px,#481669 100.5px,#481e6f 102.5px,#48196b 104.5px,#48186a 107.5px,#481467 108.5px,#482576 110.5px,#481d6f 112.5px,#482475 113.5px,#471063 115.5px,#481769 119.5px,#460c5f 121.5px,#470e60 123.5px,#470f62 126.5px,#46095c 127.5px,#470c5f 129.5px,#440154 130.5px,#440154 144.5px)"></i><i style="top:50px;background:linear-gradient(90deg,#450457 0.5px,#460a5d 3.5px,#472b7a 4.5px,#471063 5.5px,#470e61 6.5px,#482878 7.5px,#463580 10.5px,#414387 11.5px,#3f4788 12.5px,#306a8e 13.5px,#21a685 14.5px,#31b57b 15.5px,#21a685 16.5px,#20a387 18.5px,#25858e 19.5px,#25848e 20.5px,#20938c 21.5px,#228d8d 22.5px,#1f988b 24.5px,#1f978b 25.5px,#1fa187 26.5px,#20928c 29.5px,#2b758e 30.5px,#33628d 31.5px,#1e9c89 33.5px,#2a768e 34.5px,#3c4f8b 35.5px,#3a548b 36.5px,#32658e 37.5px,#32648e 38.5px,#3c508b 39.5px,#2e6d8e 40.5px,#26828e 42.5px,#25858e 43.5px,#33638d 44.5px,#3a538b 46.5px,#38588c 47.5px,#228b8d 48.5px,#2e6f8e 50.5px,#2b748e 51.5px,#34608d 52.5px,#440255 53.5px,#450559 72.5px,#460a5d 76.5px,#46075b 78.5px,#481a6c 80.5px,#470e61 83.5px,#481b6d 87.5px,#481668 88.5px,#481d6f 95.5px,#481669 98.5px,#481e6f 100.5px,#48186a 105.5px,#481467 106.5px,#482575 108.5px,#481d6f 110.5px,#482475 111.5px,#470f62 113.5px,#481769 117.5px,#460c5f 119.5px,#471163 120.5px,#46085c 125.5px,#470d60 126.5px,#440154 127.5px,#440154 144.5px)"></i><i style="top:52px;background:linear-gradient(90deg,#450458 0.5px,#460a5d 3.5px,#481a6c 4.5px,#470d60 6.5px,#481668 8.5px,#46317e 9.5px,#3f4889 10.5px,#3f4788 11.5px,#3a538b 12.5px,#2d718e 13.5px,#21a585 14.5px,#22a884 16.5px,#1fa088 17.5px,#24878e 18.5px,#228b8d 20.5px,#1f968b 21.5px,#228c8d 23.5px,#1f948c 24.5px,#22a785 25.5px,#26828e 27.5px,#2d708e 28.5px,#29798e 29.5px,#1f998a 30.5px,#1f9f88 31.5px,#30698e 33.5px,#2e6d8e 34.5px,#3b528b 35.5px,#2f6b8e 37.5px,#3c508b 38.5px,#424086 39.5px,#39568c 40.5px,#228c8d 41.5px,#20948c 42.5px,#2c728e 43.5px,#2e6d8e 44.5px,#38578c 45.5px,#3e4b89 46.5px,#32658e 47.5px,#2b758e 50.5px,#355e8d 51.5px,#440255 52.5px,#450457 70.5px,#470c5f 74.5px,#46075a 76.5px,#481b6d 79.5px,#470e61 81.5px,#48196b 86.5px,#481e6f 93.5px,#48196b 97.5px,#481a6d 99.5px,#48186a 103.5px,#481366 104.5px,#482575 106.5px,#481d6f 108.5px,#482475 109.5px,#470f62 111.5px,#481769 115.5px,#470d60 117.5px,#471062 121.5px,#470e61 124.5px,#440154 125.5px,#440154 144.5px)"></i><i style="top:54px;background:linear-gradient(90deg,#450457 0.5px,#46085b 4.5px,#482979 5.5px,#470d60 6.5px,#470c5f 7.5px,#472b7a 8.5px,#433c84 9.5px,#482777 10.5px,#433c84 11.5px,#31678e 12.5px,#287b8e 13.5px,#20a386 14.5px,#23a983 15.5px,#21a685 16.5px,#218e8d 18.5px,#1f9e89 19.5px,#20a387 20.5px,#238b8d 21.5px,#25838e 22.5px,#1f9f88 24.5px,#1fa287 25.5px,#2f6d8e 27.5px,#33628d 28.5px,#25838e 29.5px,#2cb17e 30.5px,#25ab82 31.5px,#25858e 32.5px,#30698e 33.5px,#32648e 34.5px,#2b758e 35.5px,#2e6d8e 36.5px,#423f85 37.5px,#46317e 38.5px,#39568c 39.5px,#2b768e 40.5px,#277f8e 41.5px,#287c8e 42.5px,#228d8d 43.5px,#2b768e 44.5px,#30688e 45.5px,#2c738e 46.5px,#31668e 47.5px,#2c748e 49.5px,#355f8d 50.5px,#440256 51.5px,#440154 68.5px,#470e61 72.5px,#46095c 75.5px,#481a6c 77.5px,#471062 80.5px,#481c6e 84.5px,#481769 85.5px,#481a6c 87.5px,#481d6f 92.5px,#48186a 95.5px,#481c6e 97.5px,#48186a 98.5px,#481c6e 100.5px,#481366 102.5px,#482575 104.5px,#481d6f 106.5px,#482475 107.5px,#470f62 109.5px,#481669 113.5px,#470d60 114.5px,#471062 119.5px,#46095c 120.5px,#460a5e 122.5px,#440154 123.5px,#440154 144.5px)"></i><i style="top:56px;background:linear-gradient(90deg,#450356 0.5px,#460a5d 4.5px,#481d6f 5.5px,#470e60 6.5px,#482475 7.5px,#414387 8.5px,#482676 9.5px,#48176a 10.5px,#453781 11.5px,#33628d 12.5px,#26808e 13.5px,#22a884 14.5px,#20a386 16.5px,#1f998a 17.5px,#1f988b 18.5px,#1fa287 19.5px,#1f9e89 20.5px,#238a8d 21.5px,#218f8d 22.5px,#20a387 23.5px,#1fa287 24.5px,#25858e 25.5px,#2a788e 26.5px,#2c738e 27.5px,#24868e 28.5px,#238a8d 29.5px,#1f9e89 30.5px,#1e9c89 31.5px,#287e8e 32.5px,#2d718e 33.5px,#2e6e8e 34.5px,#277f8e 35.5px,#375a8d 36.5px,#482676 37.5px,#46317e 38.5px,#32648e 39.5px,#2a778e 40.5px,#2b768e 41.5px,#20928c 42.5px,#218f8d 43.5px,#2e6e8e 45.5px,#2a788e 47.5px,#31678e 49.5px,#450356 50.5px,#440256 67.5px,#470c5f 69.5px,#470e60 72.5px,#470c5f 74.5px,#481d6f 76.5px,#471062 78.5px,#481a6c 83.5px,#481e70 90.5px,#48186a 93.5px,#481e6f 95.5px,#48186a 96.5px,#481c6e 98.5px,#481366 100.5px,#482575 102.5px,#481d6f 104.5px,#482475 105.5px,#470f62 107.5px,#481669 110.5px,#470c5f 112.5px,#471063 116.5px,#46095c 118.5px,#470e61 119.5px,#440154 120.5px,#440154 144.5px)"></i><i style="top:58px;background:linear-gradient(90deg,#450356 0.5px,#460a5d 3.5px,#46095d 5.5px,#482374 6.5px,#453581 7.5px,#48186a 8.5px,#472c7b 10.5px,#443a83 11.5px,#3b518b 12.5px,#287d8e 13.5px,#30b47c 14.5px,#1fa088 17.5px,#23a983 18.5px,#1f9f88 19.5px,#24888e 20.5px,#21a785 23.5px,#1e9b8a 24.5px,#277f8e 25.5px,#2d708e 26.5px,#24888e 27.5px,#2c728e 34.5px,#34618d 35.5px,#443a83 36.5px,#46337f 37.5px,#38588c 38.5px,#2d6f8e 39.5px,#26818e 42.5px,#20928c 43.5px,#23898e 44.5px,#2e6d8e 45.5px,#355f8d 46.5px,#31678e 47.5px,#32658e 49.5px,#450356 50.5px,#440154 65.5px,#470e61 68.5px,#460a5e 72.5px,#481c6e 75.5px,#471164 77.5px,#481d6f 81.5px,#48186a 82.5px,#481e6f 83.5px,#481d6e 89.5px,#481a6c 92.5px,#481e70 93.5px,#48186a 94.5px,#481a6c 97.5px,#481466 98.5px,#482575 100.5px,#481d6f 102.5px,#482475 103.5px,#481567 104.5px,#471063 105.5px,#481769 108.5px,#470c5f 110.5px,#471164 111.5px,#470f62 113.5px,#470d60 117.5px,#440154 118.5px,#440154 144.5px)"></i><i style="top:60px;background:linear-gradient(90deg,#450356 0.5px,#460a5d 3.5px,#450659 4.5px,#460a5d 5.5px,#481c6e 6.5px,#471164 7.5px,#48186b 8.5px,#482878 9.5px,#47307d 11.5px,#39558c 12.5px,#287d8e 13.5px,#22a785 14.5px,#2ab07f 17.5px,#24aa83 18.5px,#20928c 19.5px,#23888e 20.5px,#24888e 21.5px,#1f988b 22.5px,#1e9b8a 24.5px,#26838e 25.5px,#1f978b 26.5px,#228c8d 27.5px,#2d6f8e 28.5px,#2f6b8e 31.5px,#277f8e 32.5px,#26828e 33.5px,#2c738e 34.5px,#443a83 35.5px,#482072 36.5px,#39568c 37.5px,#238b8d 38.5px,#23888e 39.5px,#29798e 40.5px,#29798e 41.5px,#26818e 42.5px,#2c718e 44.5px,#287e8e 45.5px,#3a548b 48.5px,#450356 49.5px,#440255 64.5px,#471163 67.5px,#470c5f 71.5px,#481e70 73.5px,#471264 75.5px,#481d6e 79.5px,#481c6e 83.5px,#481d6f 87.5px,#481a6c 90.5px,#481e70 91.5px,#481c6e 93.5px,#481c6d 95.5px,#481466 96.5px,#482575 98.5px,#481d6f 100.5px,#482575 101.5px,#481567 102.5px,#471063 103.5px,#481769 106.5px,#470d60 108.5px,#471063 112.5px,#46095d 113.5px,#470e61 114.5px,#440154 115.5px,#440154 144.5px)"></i><i style="top:62px;background:linear-gradient(90deg,#450356 0.5px,#46075b 4.5px,#48186a 6.5px,#481f71 10.5px,#433d84 11.5px,#2b758e 13.5px,#23a884 14.5px,#36b878 15.5px,#25ab82 16.5px,#22a884 17.5px,#21908c 19.5px,#277f8e 20.5px,#287c8e 21.5px,#1f998a 22.5px,#20918c 24.5px,#22a884 25.5px,#1fa187 26.5px,#2a788e 27.5px,#306a8e 28.5px,#2b758e 30.5px,#228d8d 31.5px,#1f958b 32.5px,#355d8d 34.5px,#404588 36.5px,#31688e 37.5px,#287d8e 38.5px,#23898e 39.5px,#1f958b 41.5px,#355e8d 43.5px,#306a8e 44.5px,#31678e 45.5px,#297a8e 46.5px,#2d6f8e 47.5px,#450356 48.5px,#45065a 61.5px,#450458 63.5px,#471163 65.5px,#471164 68.5px,#470f62 70.5px,#481f70 72.5px,#471265 74.5px,#481d6f 78.5px,#481e70 85.5px,#48196b 88.5px,#481f70 89.5px,#481c6e 91.5px,#481c6e 93.5px,#481466 94.5px,#482576 96.5px,#481d6f 98.5px,#482575 99.5px,#481567 100.5px,#471164 101.5px,#481769 104.5px,#470f61 106.5px,#470f62 110.5px,#46095c 111.5px,#470f62 112.5px,#440154 113.5px,#440154 144.5px)"></i><i style="top:64px;background:linear-gradient(90deg,#450457 0.5px,#46085b 4.5px,#472d7c 6.5px,#471063 7.5px,#460b5e 8.5px,#481568 9.5px,#443c84 11.5px,#34608d 12.5px,#277e8e 13.5px,#24ab82 14.5px,#21a685 16.5px,#228d8d 18.5px,#287b8e 20.5px,#1e9c89 23.5px,#218e8d 27.5px,#2b748e 29.5px,#297b8e 30.5px,#1f948c 31.5px,#1f948c 32.5px,#26828e 33.5px,#433d84 35.5px,#30688e 36.5px,#2d708e 37.5px,#2d6f8e 38.5px,#238a8d 39.5px,#1f998a 40.5px,#287c8e 41.5px,#2c738e 43.5px,#365d8d 44.5px,#2d708e 45.5px,#2b758e 46.5px,#450356 47.5px,#46085b 60.5px,#450356 61.5px,#471264 64.5px,#470e60 68.5px,#481e70 70.5px,#481466 72.5px,#481e6f 76.5px,#481d6f 80.5px,#481d6f 84.5px,#48196b 86.5px,#481c6d 88.5px,#481d6e 91.5px,#481466 92.5px,#482576 94.5px,#481f70 96.5px,#482374 97.5px,#471265 98.5px,#481769 102.5px,#470e61 103.5px,#471163 107.5px,#470c5f 110.5px,#440154 111.5px,#440154 144.5px)"></i><i style="top:66px;background:linear-gradient(90deg,#450457 0.5px,#460b5e 5.5px,#48186a 6.5px,#460b5f 7.5px,#460b5e 8.5px,#472f7d 10.5px,#453882 11.5px,#345f8d 12.5px,#24878e 13.5px,#22a884 14.5px,#2bb07e 15.5px,#21a785 16.5px,#218f8d 17.5px,#238b8d 18.5px,#297b8e 19.5px,#25848e 20.5px,#25838e 21.5px,#20938c 22.5px,#1f968b 23.5px,#238a8d 25.5px,#1f9a8a 27.5px,#23888e 28.5px,#306a8e 29.5px,#287c8e 31.5px,#228c8d 33.5px,#3d4c8a 34.5px,#482777 35.5px,#32648e 36.5px,#24868e 37.5px,#27808e 38.5px,#25858e 40.5px,#297b8e 42.5px,#26818e 43.5px,#30698e 45.5px,#450357 46.5px,#450356 57.5px,#46085c 59.5px,#450458 60.5px,#471365 62.5px,#481466 65.5px,#470f62 67.5px,#482172 69.5px,#481366 71.5px,#481e6f 75.5px,#481e6f 82.5px,#48186b 84.5px,#481d6f 86.5px,#48196b 87.5px,#481d6f 89.5px,#481567 90.5px,#482576 92.5px,#481f71 94.5px,#482374 95.5px,#471265 96.5px,#481668 100.5px,#470d60 101.5px,#471164 102.5px,#471163 105.5px,#460a5d 106.5px,#470e61 107.5px,#440154 108.5px,#440154 144.5px)"></i><i style="top:68px;background:linear-gradient(90deg,#450457 0.5px,#471063 7.5px,#482777 10.5px,#433d84 11.5px,#297a8e 13.5px,#23a884 14.5px,#33b679 15.5px,#23a983 16.5px,#20938c 19.5px,#287d8e 20.5px,#20918c 21.5px,#1f998a 22.5px,#24868e 23.5px,#23898e 24.5px,#1e9d89 25.5px,#1f9e89 26.5px,#2e6e8e 28.5px,#277f8e 29.5px,#26828e 30.5px,#2f6b8e 31.5px,#31688e 32.5px,#404588 33.5px,#46327f 34.5px,#355e8d 35.5px,#32648e 36.5px,#25858e 38.5px,#31678e 39.5px,#2d718e 40.5px,#228b8d 41.5px,#25858e 42.5px,#2a778e 43.5px,#25848e 45.5px,#450457 46.5px,#450559 56.5px,#460b5e 58.5px,#45065a 59.5px,#481568 62.5px,#471265 66.5px,#481e6f 67.5px,#482071 68.5px,#481568 69.5px,#481f71 73.5px,#481a6c 74.5px,#482071 75.5px,#481f70 80.5px,#48186b 82.5px,#481f71 84.5px,#48196b 85.5px,#481d6f 87.5px,#481568 88.5px,#48196b 89.5px,#482676 90.5px,#481f71 92.5px,#482374 93.5px,#471163 94.5px,#481769 97.5px,#470d60 99.5px,#471062 103.5px,#460b5e 104.5px,#470f62 105.5px,#440154 106.5px,#440154 144.5px)"></i><i style="top:70px;background:linear-gradient(90deg,#450356 0.5px,#471062 5.5px,#48196b 8.5px,#433e85 11.5px,#26808e 13.5px,#31b57b 14.5px,#24aa83 16.5px,#2aaf7f 17.5px,#1f948c 19.5px,#1f9a8a 20.5px,#26ac82 21.5px,#1f958b 23.5px,#25848e 24.5px,#218f8d 25.5px,#2b768e 27.5px,#228d8d 28.5px,#24868e 29.5px,#2e6d8e 30.5px,#31688e 31.5px,#37598c 32.5px,#433e85 33.5px,#33638d 35.5px,#365c8d 36.5px,#2d718e 39.5px,#2d708e 40.5px,#238a8d 41.5px,#238b8d 42.5px,#2d718e 43.5px,#287c8e 44.5px,#450457 45.5px,#450457 53.5px,#460b5e 54.5px,#46085b 55.5px,#460b5e 57.5px,#46095c 58.5px,#48176a 61.5px,#471063 64.5px,#482273 66.5px,#481567 68.5px,#482273 76.5px,#481b6d 81.5px,#482071 82.5px,#48196b 83.5px,#481d6f 85.5px,#481668 86.5px,#48196b 87.5px,#482676 88.5px,#482172 91.5px,#471163 92.5px,#48176a 95.5px,#470f62 99.5px,#470e61 102.5px,#440154 103.5px,#440154 144.5px)"></i><i style="top:72px;background:linear-gradient(90deg,#450457 0.5px,#470d60 5.5px,#481b6d 6.5px,#48196b 8.5px,#472f7d 9.5px,#433e85 10.5px,#404688 11.5px,#32658e 12.5px,#21918c 13.5px,#2eb37d 14.5px,#37b977 15.5px,#31b57b 16.5px,#22a784 17.5px,#1e9d89 18.5px,#21a685 19.5px,#2cb17e 20.5px,#2cb17e 21.5px,#46c06f 22.5px,#2db27d 23.5px,#1f968b 24.5px,#297b8e 25.5px,#2e6e8e 26.5px,#218f8d 27.5px,#1f988b 28.5px,#30698e 30.5px,#30698e 31.5px,#2c738e 32.5px,#2e6d8e 33.5px,#2d6f8e 34.5px,#34618d 35.5px,#31678e 36.5px,#355e8d 37.5px,#2c728e 38.5px,#297a8e 39.5px,#277f8e 41.5px,#24878e 42.5px,#24868e 43.5px,#450458 44.5px,#46075a 52.5px,#470f62 55.5px,#460c5f 57.5px,#481567 58.5px,#481769 61.5px,#471365 63.5px,#482374 65.5px,#48186a 66.5px,#482172 70.5px,#481b6d 71.5px,#482172 75.5px,#481b6d 79.5px,#482071 80.5px,#481a6c 81.5px,#481e6f 83.5px,#48176a 84.5px,#48196c 85.5px,#482676 86.5px,#482172 89.5px,#471063 90.5px,#48186a 93.5px,#471063 94.5px,#471164 98.5px,#460a5e 99.5px,#471063 100.5px,#440154 101.5px,#440154 144.5px)"></i><i style="top:74px;background:linear-gradient(90deg,#450458 0.5px,#471164 6.5px,#482777 7.5px,#472c7b 9.5px,#3c508b 11.5px,#2c738e 12.5px,#228c8d 13.5px,#23a983 14.5px,#27ad81 16.5px,#32b67a 17.5px,#2db27d 20.5px,#4ec36b 21.5px,#44bf70 22.5px,#23a884 23.5px,#1f9a8a 26.5px,#228c8d 27.5px,#2b768e 28.5px,#24878e 29.5px,#228d8d 31.5px,#2c728e 32.5px,#2f6c8e 33.5px,#228c8d 35.5px,#26828e 36.5px,#25838e 37.5px,#2c728e 39.5px,#24878e 40.5px,#2e6f8e 42.5px,#450458 43.5px,#450458 50.5px,#470e61 52.5px,#471164 54.5px,#460b5e 55.5px,#48186a 58.5px,#481668 62.5px,#482273 63.5px,#481769 65.5px,#482172 74.5px,#481a6c 77.5px,#481f71 78.5px,#481e70 81.5px,#48186a 82.5px,#481a6c 83.5px,#482677 84.5px,#481e6f 87.5px,#471063 88.5px,#48186a 91.5px,#470f61 92.5px,#471063 96.5px,#460b5f 97.5px,#470f62 98.5px,#440154 99.5px,#440154 144.5px)"></i><i style="top:76px;background:linear-gradient(90deg,#450457 0.5px,#471365 6.5px,#443b84 7.5px,#472a79 8.5px,#472e7c 9.5px,#424286 10.5px,#3e4b8a 11.5px,#24868e 13.5px,#24aa83 14.5px,#24aa83 16.5px,#40bd73 17.5px,#4fc36a 18.5px,#1e9d89 19.5px,#21a685 20.5px,#73d055 21.5px,#3dbc74 22.5px,#25ab82 23.5px,#24aa83 24.5px,#2fb37c 25.5px,#1f988b 26.5px,#277f8e 27.5px,#228d8d 28.5px,#24878e 29.5px,#1e9d89 31.5px,#2c738e 32.5px,#297a8e 33.5px,#20a486 34.5px,#20a486 35.5px,#21918c 36.5px,#287c8e 38.5px,#24888e 39.5px,#34618d 41.5px,#450558 42.5px,#46075a 49.5px,#471265 53.5px,#460c5f 54.5px,#481a6c 57.5px,#481366 60.5px,#482575 62.5px,#48186a 64.5px,#482273 67.5px,#482071 70.5px,#482172 73.5px,#481a6c 75.5px,#481e70 79.5px,#48186a 81.5px,#482777 82.5px,#481e70 85.5px,#471163 86.5px,#48186a 88.5px,#481769 89.5px,#470e61 90.5px,#471264 93.5px,#470f61 95.5px,#440154 96.5px,#440154 144.5px)"></i><i style="top:78px;background:linear-gradient(90deg,#450457 0.5px,#470d60 5.5px,#481567 6.5px,#433c84 7.5px,#47307d 8.5px,#443983 9.5px,#453681 11.5px,#3a548b 12.5px,#23888e 13.5px,#27ae80 14.5px,#27ad81 16.5px,#31b57b 17.5px,#20918c 18.5px,#21908d 19.5px,#38b977 20.5px,#35b779 21.5px,#43be71 22.5px,#37b878 23.5px,#24aa83 24.5px,#23888e 25.5px,#1e9c89 27.5px,#25848e 29.5px,#218e8d 30.5px,#2a788e 31.5px,#218e8d 32.5px,#28ae80 33.5px,#1f9a8a 34.5px,#228c8d 35.5px,#228e8d 36.5px,#2e6e8e 37.5px,#25848e 39.5px,#31668e 41.5px,#450559 42.5px,#46095d 48.5px,#471365 52.5px,#470d60 53.5px,#481c6e 56.5px,#481668 59.5px,#482474 61.5px,#48186b 62.5px,#482273 67.5px,#481f70 72.5px,#481a6c 73.5px,#481f70 77.5px,#48186a 79.5px,#482676 80.5px,#481e70 83.5px,#471264 84.5px,#48186a 86.5px,#470f62 88.5px,#471265 91.5px,#460b5f 92.5px,#471164 93.5px,#440154 94.5px,#440154 144.5px)"></i><i style="top:80px;background:linear-gradient(90deg,#450558 0.5px,#470e61 5.5px,#471365 7.5px,#482777 8.5px,#482677 9.5px,#453681 10.5px,#463580 11.5px,#3b518b 12.5px,#2a778e 13.5px,#24aa83 14.5px,#3cbb75 15.5px,#22a884 16.5px,#1f958b 17.5px,#1f998a 18.5px,#23a983 19.5px,#38b977 22.5px,#2cb27e 23.5px,#228c8d 24.5px,#2c738e 25.5px,#1e9d89 26.5px,#2bb07f 27.5px,#20918c 28.5px,#297b8e 29.5px,#2b748e 31.5px,#24868e 32.5px,#287c8e 33.5px,#29798e 35.5px,#30698e 36.5px,#29798e 37.5px,#2f6b8e 39.5px,#297a8e 40.5px,#450659 41.5px,#450457 46.5px,#471164 48.5px,#470f62 52.5px,#481b6d 54.5px,#48196b 58.5px,#482676 59.5px,#48196b 61.5px,#482374 64.5px,#482172 70.5px,#481d6f 72.5px,#482172 73.5px,#481c6e 74.5px,#481d6f 76.5px,#48196b 77.5px,#482676 78.5px,#482374 80.5px,#471265 82.5px,#48196b 84.5px,#471062 87.5px,#470e61 90.5px,#440154 91.5px,#440154 144.5px)"></i><i style="top:82px;background:linear-gradient(90deg,#450457 0.5px,#481568 8.5px,#453681 11.5px,#3e4c8a 12.5px,#297a8e 13.5px,#21a685 14.5px,#25ab82 15.5px,#1fa088 18.5px,#2eb37d 21.5px,#2aaf7f 22.5px,#1f9e89 23.5px,#287b8e 24.5px,#20938c 25.5px,#1f998a 27.5px,#20928c 28.5px,#277f8e 29.5px,#2b768e 30.5px,#2a798e 31.5px,#34608d 32.5px,#3a558c 33.5px,#29798e 35.5px,#2c738e 36.5px,#26828e 38.5px,#2f6b8e 39.5px,#45065a 40.5px,#45065a 45.5px,#481366 47.5px,#471164 51.5px,#481b6d 52.5px,#481b6d 55.5px,#481669 56.5px,#482777 58.5px,#481b6d 59.5px,#482273 62.5px,#481e70 63.5px,#482374 67.5px,#481d6f 70.5px,#482273 71.5px,#481b6d 72.5px,#481d6f 74.5px,#48196b 75.5px,#482777 76.5px,#482576 78.5px,#481466 80.5px,#481a6c 82.5px,#471265 83.5px,#471164 88.5px,#440154 89.5px,#440154 144.5px)"></i><i style="top:84px;background:linear-gradient(90deg,#450356 0.5px,#470f62 6.5px,#482677 7.5px,#472d7c 8.5px,#48196b 9.5px,#46317e 10.5px,#3e4b8a 12.5px,#2b748e 13.5px,#21a685 14.5px,#25ac82 15.5px,#25ab82 17.5px,#1f998a 19.5px,#1f9f88 21.5px,#22a884 22.5px,#1f9d89 23.5px,#25ab82 24.5px,#1f948c 25.5px,#26828e 26.5px,#277f8e 27.5px,#20a486 29.5px,#2e6d8e 30.5px,#365c8d 31.5px,#38588c 32.5px,#355e8d 33.5px,#287c8e 34.5px,#218f8d 36.5px,#24878e 37.5px,#2e6e8e 38.5px,#46075a 39.5px,#46085c 44.5px,#481668 46.5px,#481466 50.5px,#481d6f 51.5px,#48196b 55.5px,#482475 56.5px,#481b6d 58.5px,#482374 62.5px,#481f70 67.5px,#482273 69.5px,#481c6e 70.5px,#481f71 72.5px,#48186a 73.5px,#482777 74.5px,#482676 76.5px,#48186a 77.5px,#481a6c 80.5px,#471063 81.5px,#481466 84.5px,#470d60 85.5px,#471264 86.5px,#440154 87.5px,#440154 144.5px)"></i><i style="top:86px;background:linear-gradient(90deg,#450458 0.5px,#46075a 4.5px,#48186a 7.5px,#47307d 8.5px,#46327f 10.5px,#443a83 11.5px,#3d4e8a 12.5px,#297b8e 13.5px,#24aa83 14.5px,#23a983 18.5px,#218f8d 19.5px,#1f968b 21.5px,#218f8d 22.5px,#23a984 23.5px,#22a785 24.5px,#1f998a 25.5px,#25858e 26.5px,#287c8e 27.5px,#20918c 28.5px,#297a8e 30.5px,#33638d 31.5px,#31668e 32.5px,#2c738e 33.5px,#2b748e 34.5px,#228e8d 35.5px,#1e9b8a 36.5px,#27808e 37.5px,#46075b 38.5px,#460a5e 43.5px,#48186a 45.5px,#481366 48.5px,#482071 51.5px,#48196b 53.5px,#482979 55.5px,#481e6f 56.5px,#482575 59.5px,#482071 60.5px,#482575 64.5px,#481d6e 66.5px,#482071 70.5px,#48196b 71.5px,#482878 72.5px,#482677 74.5px,#481668 75.5px,#481a6c 78.5px,#471063 79.5px,#471062 83.5px,#440154 84.5px,#440154 144.5px)"></i><i style="top:88px;background:linear-gradient(90deg,#450558 0.5px,#460b5e 5.5px,#482474 8.5px,#46337f 9.5px,#443b84 11.5px,#3d4e8a 12.5px,#25838e 13.5px,#2bb17e 14.5px,#4ec36b 15.5px,#26ac81 16.5px,#27ad81 17.5px,#1e9b8a 18.5px,#1f958b 19.5px,#22a884 20.5px,#21908c 21.5px,#21908d 22.5px,#1f988b 24.5px,#26828e 26.5px,#23898d 27.5px,#24868e 28.5px,#365c8d 29.5px,#2b748e 30.5px,#26828e 31.5px,#297a8e 32.5px,#297b8e 33.5px,#2e6e8e 34.5px,#297a8e 35.5px,#21918c 36.5px,#23898d 37.5px,#46085b 38.5px,#470d60 42.5px,#48196c 44.5px,#481a6c 46.5px,#481467 47.5px,#482173 50.5px,#481a6c 52.5px,#482676 54.5px,#481d6e 55.5px,#482676 59.5px,#482374 63.5px,#481e6f 64.5px,#482172 68.5px,#48196b 69.5px,#482878 70.5px,#482475 71.5px,#482978 72.5px,#481669 73.5px,#48186a 76.5px,#471264 78.5px,#481466 81.5px,#440154 82.5px,#440154 144.5px)"></i><i style="top:90px;background:linear-gradient(90deg,#450357 0.5px,#471164 6.5px,#482173 8.5px,#482172 9.5px,#47307d 10.5px,#365c8d 12.5px,#24868e 13.5px,#26ad81 14.5px,#33b67a 16.5px,#21a586 17.5px,#25848e 18.5px,#1f9a8a 19.5px,#1e9c89 21.5px,#21908d 23.5px,#287d8e 25.5px,#1f958c 26.5px,#218f8d 27.5px,#31668e 28.5px,#375a8c 29.5px,#26828e 31.5px,#238b8d 32.5px,#2b758e 33.5px,#25838e 35.5px,#287d8e 36.5px,#46085c 37.5px,#470e61 40.5px,#481c6e 43.5px,#48186a 44.5px,#481c6e 45.5px,#481668 46.5px,#482172 48.5px,#481d6e 51.5px,#482979 52.5px,#482071 54.5px,#482777 56.5px,#482576 61.5px,#482072 63.5px,#482273 66.5px,#48196b 67.5px,#482979 68.5px,#482576 69.5px,#482979 70.5px,#481568 71.5px,#481b6d 73.5px,#471265 76.5px,#481568 77.5px,#470f62 78.5px,#471164 79.5px,#440154 80.5px,#440154 144.5px)"></i><i style="top:92px;background:linear-gradient(90deg,#450457 0.5px,#471063 6.5px,#46307e 9.5px,#46327e 10.5px,#3e4a89 11.5px,#3a548c 12.5px,#277e8e 13.5px,#24aa83 14.5px,#24aa83 16.5px,#20948c 17.5px,#287d8e 18.5px,#25838e 19.5px,#20a486 20.5px,#1f978b 21.5px,#1f988b 22.5px,#24888e 24.5px,#25ac82 25.5px,#20918c 26.5px,#3c4f8a 28.5px,#25858e 29.5px,#24878e 30.5px,#297a8e 31.5px,#2c738e 33.5px,#277e8e 35.5px,#46095d 36.5px,#46095d 37.5px,#481466 38.5px,#470f62 40.5px,#481d6f 42.5px,#481769 45.5px,#482172 46.5px,#482072 50.5px,#472c7a 51.5px,#481f71 52.5px,#482777 59.5px,#482172 61.5px,#482374 64.5px,#481a6c 65.5px,#482a79 66.5px,#482575 67.5px,#472a79 68.5px,#481568 69.5px,#481c6e 71.5px,#481466 72.5px,#481366 76.5px,#440154 77.5px,#440154 144.5px)"></i><i style="top:94px;background:linear-gradient(90deg,#450357 0.5px,#471265 5.5px,#481b6d 8.5px,#414287 9.5px,#3e4a89 12.5px,#287b8e 13.5px,#23a983 14.5px,#27ae80 15.5px,#1fa088 16.5px,#1f958b 17.5px,#287d8e 18.5px,#1f948c 19.5px,#218f8d 23.5px,#26ac81 24.5px,#1f978b 25.5px,#32648e 27.5px,#25838e 28.5px,#1f948c 29.5px,#23888e 30.5px,#228b8d 31.5px,#287c8e 32.5px,#277e8e 34.5px,#460a5d 35.5px,#460a5d 36.5px,#481467 37.5px,#471063 39.5px,#481e70 41.5px,#481a6c 44.5px,#482575 46.5px,#481d6f 48.5px,#482979 49.5px,#482172 51.5px,#482979 53.5px,#482576 58.5px,#482072 59.5px,#482777 60.5px,#482172 61.5px,#482475 62.5px,#481b6d 63.5px,#482979 64.5px,#482676 65.5px,#472b7a 66.5px,#481668 67.5px,#481d6f 69.5px,#481366 70.5px,#481668 74.5px,#440154 75.5px,#440154 144.5px)"></i><i style="top:96px;background:linear-gradient(90deg,#450357 0.5px,#481466 6.5px,#482878 8.5px,#46337f 10.5px,#3d4d8a 11.5px,#365d8d 12.5px,#24878e 13.5px,#26ac81 14.5px,#28ae80 15.5px,#1e9d89 16.5px,#1e9d89 17.5px,#24ab82 18.5px,#1f9a8a 19.5px,#25838e 20.5px,#1f9a8a 21.5px,#1fa088 22.5px,#24888e 24.5px,#287d8e 27.5px,#1f998a 28.5px,#277f8e 29.5px,#228c8d 30.5px,#20928c 33.5px,#460b5e 34.5px,#460b5e 35.5px,#48186a 36.5px,#471164 38.5px,#481f71 40.5px,#481c6e 43.5px,#482576 45.5px,#482071 47.5px,#472e7c 48.5px,#482172 49.5px,#482978 55.5px,#482172 57.5px,#482777 58.5px,#482172 59.5px,#482575 60.5px,#481c6e 61.5px,#472a79 62.5px,#472b7a 64.5px,#48176a 65.5px,#481e70 67.5px,#481568 68.5px,#48186a 70.5px,#471164 71.5px,#440154 72.5px,#440154 144.5px)"></i><i style="top:98px;background:linear-gradient(90deg,#450457 0.5px,#470d60 5.5px,#482777 8.5px,#453781 9.5px,#482777 10.5px,#3d4d8a 11.5px,#2d6f8e 12.5px,#24868e 13.5px,#22a884 14.5px,#28ae80 15.5px,#1f9e88 17.5px,#25ab82 18.5px,#1e9d89 20.5px,#2bb07e 21.5px,#1f988b 22.5px,#2a768e 23.5px,#24868e 24.5px,#1f9e89 25.5px,#20938c 27.5px,#2a788e 28.5px,#25858e 31.5px,#1f968b 32.5px,#470c5f 33.5px,#470c5f 34.5px,#481a6c 35.5px,#471265 37.5px,#482071 39.5px,#481c6e 41.5px,#482676 44.5px,#482072 45.5px,#472b7a 47.5px,#482273 48.5px,#472b7a 51.5px,#482a79 54.5px,#482374 55.5px,#482677 58.5px,#481e70 59.5px,#472b7a 60.5px,#472c7b 62.5px,#48196b 63.5px,#481e70 65.5px,#481669 67.5px,#481668 69.5px,#440154 70.5px,#440154 144.5px)"></i><i style="top:100px;background:linear-gradient(90deg,#450457 0.5px,#470c5f 4.5px,#48186a 6.5px,#481769 7.5px,#481f70 8.5px,#424286 10.5px,#3e4989 11.5px,#2c728e 13.5px,#21a785 14.5px,#29af7f 15.5px,#26ac81 16.5px,#1f9e89 17.5px,#20918c 18.5px,#38b977 19.5px,#4ac16d 20.5px,#22a784 21.5px,#277f8e 22.5px,#20948c 23.5px,#22a784 25.5px,#1e9b8a 26.5px,#21a585 27.5px,#297a8e 28.5px,#2e6f8e 30.5px,#218f8d 32.5px,#470d60 33.5px,#481c6e 34.5px,#481366 36.5px,#482072 38.5px,#481b6d 40.5px,#482777 42.5px,#482172 44.5px,#472f7d 45.5px,#482576 46.5px,#472c7b 52.5px,#482777 55.5px,#482173 57.5px,#472d7b 58.5px,#472a79 60.5px,#481b6d 61.5px,#482072 62.5px,#48176a 67.5px,#440154 68.5px,#440154 144.5px)"></i><i style="top:102px;background:linear-gradient(90deg,#450457 0.5px,#470c5f 4.5px,#48196b 7.5px,#424086 11.5px,#443a83 12.5px,#2e6d8e 13.5px,#27ae80 14.5px,#26ac81 16.5px,#1f978b 17.5px,#1f9f88 18.5px,#4dc36b 19.5px,#44bf70 20.5px,#228c8d 21.5px,#24888e 22.5px,#1fa287 23.5px,#2cb17e 24.5px,#1f948c 25.5px,#1fa287 26.5px,#1f988b 27.5px,#1fa088 28.5px,#25858e 29.5px,#2a778e 30.5px,#287c8e 31.5px,#470f61 32.5px,#481c6e 33.5px,#481567 35.5px,#482273 37.5px,#481d6e 39.5px,#482777 40.5px,#482575 43.5px,#47307d 44.5px,#482576 45.5px,#472e7c 48.5px,#482676 52.5px,#482a79 54.5px,#482374 55.5px,#472e7c 56.5px,#472b7a 58.5px,#481e70 59.5px,#482273 60.5px,#48196b 61.5px,#481b6d 63.5px,#481668 64.5px,#440154 65.5px,#440154 144.5px)"></i><i style="top:104px;background:linear-gradient(90deg,#450457 0.5px,#470d60 5.5px,#481d6f 7.5px,#482071 9.5px,#472d7c 10.5px,#472c7b 11.5px,#414387 12.5px,#26828e 13.5px,#2cb17e 14.5px,#23a884 16.5px,#1fa187 17.5px,#22a785 19.5px,#32b57a 21.5px,#1fa088 22.5px,#228d8d 23.5px,#238b8d 25.5px,#1f988b 26.5px,#1f9a8a 28.5px,#20948c 30.5px,#471063 31.5px,#481668 34.5px,#482475 37.5px,#481f71 38.5px,#482979 39.5px,#482475 41.5px,#472e7c 42.5px,#472b7a 46.5px,#472e7c 49.5px,#482777 50.5px,#472d7c 51.5px,#482677 53.5px,#472d7c 54.5px,#482979 56.5px,#482172 57.5px,#482374 58.5px,#48196c 59.5px,#481a6c 62.5px,#440154 63.5px,#440154 144.5px)"></i><i style="top:106px;background:linear-gradient(90deg,#450357 0.5px,#470e61 5.5px,#481769 8.5px,#482a79 9.5px,#472f7c 11.5px,#39558c 12.5px,#277f8e 13.5px,#29af7f 14.5px,#2ab07f 16.5px,#20a486 17.5px,#1f948c 18.5px,#1f958b 19.5px,#2db27d 20.5px,#2ab07f 22.5px,#1f9e89 23.5px,#2a788e 24.5px,#1e9d89 27.5px,#20928c 28.5px,#20928c 29.5px,#471164 30.5px,#481769 33.5px,#482676 36.5px,#482374 37.5px,#472b7a 39.5px,#482676 40.5px,#453580 41.5px,#482878 42.5px,#46317e 47.5px,#482979 48.5px,#472c7b 50.5px,#472c7b 53.5px,#48196b 59.5px,#440154 60.5px,#440154 144.5px)"></i><i style="top:108px;background:linear-gradient(90deg,#450356 0.5px,#470f62 7.5px,#482474 9.5px,#453781 10.5px,#443a83 11.5px,#2b768e 13.5px,#26ac82 14.5px,#38b977 15.5px,#34b779 16.5px,#1f988b 17.5px,#21a586 18.5px,#1f968b 19.5px,#1e9b8a 20.5px,#238a8d 22.5px,#23a984 23.5px,#1f968b 24.5px,#26818e 25.5px,#1f9a8a 26.5px,#26818e 28.5px,#471365 29.5px,#48196b 32.5px,#482676 35.5px,#472e7c 37.5px,#472b7a 39.5px,#46317e 40.5px,#46327f 45.5px,#472d7b 49.5px,#472e7c 51.5px,#482576 52.5px,#481f71 56.5px,#481a6c 57.5px,#440154 58.5px,#440154 144.5px)"></i><i style="top:110px;background:linear-gradient(90deg,#450357 0.5px,#450659 4.5px,#460a5d 6.5px,#482071 9.5px,#482071 10.5px,#423f86 11.5px,#2a778e 13.5px,#2cb27d 14.5px,#2eb37c 15.5px,#1fa287 18.5px,#1f998a 19.5px,#26818e 20.5px,#228b8d 22.5px,#29798e 23.5px,#1f9f88 24.5px,#1f988b 25.5px,#277e8e 26.5px,#2b768e 27.5px,#24878e 28.5px,#481467 29.5px,#46307e 36.5px,#482a79 37.5px,#453581 38.5px,#472c7b 39.5px,#453581 43.5px,#472c7b 46.5px,#472f7d 49.5px,#482575 50.5px,#482878 51.5px,#482172 54.5px,#481f70 55.5px,#440154 56.5px,#440154 144.5px)"></i><i style="top:112px;background:linear-gradient(90deg,#450558 0.5px,#46095c 5.5px,#471063 6.5px,#481366 9.5px,#482777 10.5px,#453580 11.5px,#3b528b 12.5px,#24868e 13.5px,#2fb47c 14.5px,#30b47c 15.5px,#23a984 16.5px,#1e9b8a 17.5px,#27ae80 18.5px,#20a586 19.5px,#25858e 20.5px,#20928c 22.5px,#287c8e 23.5px,#277e8e 24.5px,#1f978b 25.5px,#25858e 27.5px,#481669 28.5px,#481e70 29.5px,#481c6e 30.5px,#482777 32.5px,#482676 33.5px,#46317e 34.5px,#472c7a 36.5px,#443983 37.5px,#46317e 38.5px,#453681 42.5px,#47307d 44.5px,#46317e 47.5px,#482575 48.5px,#472a79 49.5px,#482172 50.5px,#481e6f 52.5px,#440154 53.5px,#440154 144.5px)"></i><i style="top:114px;background:linear-gradient(90deg,#450558 0.5px,#460c5f 5.5px,#481e70 10.5px,#453782 11.5px,#33628d 12.5px,#29798e 13.5px,#29af80 14.5px,#31b57b 15.5px,#23a884 16.5px,#22a785 18.5px,#27ad81 19.5px,#1f958b 20.5px,#21a585 21.5px,#228b8d 22.5px,#2b748e 24.5px,#2a768e 25.5px,#1f958b 26.5px,#48186a 27.5px,#482273 28.5px,#481e70 29.5px,#472a79 31.5px,#482878 32.5px,#46337f 33.5px,#443982 40.5px,#46317e 41.5px,#463480 43.5px,#463480 45.5px,#482676 46.5px,#472c7b 47.5px,#482575 48.5px,#482071 50.5px,#440154 51.5px,#440154 144.5px)"></i><i style="top:116px;background:linear-gradient(90deg,#450356 0.5px,#470d60 5.5px,#471163 6.5px,#481d6f 7.5px,#481f70 9.5px,#443a83 11.5px,#2c748e 13.5px,#24aa83 14.5px,#33b67a 15.5px,#27ad81 17.5px,#27ad81 18.5px,#1f9e89 19.5px,#1fa287 22.5px,#1f988b 23.5px,#27808e 24.5px,#2c738e 25.5px,#481a6c 26.5px,#482676 27.5px,#482071 28.5px,#472b7a 29.5px,#472c7b 31.5px,#453681 32.5px,#46317e 33.5px,#424086 34.5px,#453581 35.5px,#433c84 36.5px,#453681 43.5px,#482979 44.5px,#472f7c 45.5px,#482273 48.5px,#440154 49.5px,#440154 144.5px)"></i><i style="top:118px;background:linear-gradient(90deg,#450558 0.5px,#46085c 4.5px,#481366 6.5px,#48186b 8.5px,#46337f 10.5px,#453781 11.5px,#3e4a89 12.5px,#31668e 13.5px,#2bb17e 14.5px,#35b779 15.5px,#27ad81 17.5px,#1e9b8a 18.5px,#228b8d 20.5px,#2b768e 21.5px,#1f968b 22.5px,#1e9c89 23.5px,#24888e 24.5px,#481c6e 25.5px,#472a79 26.5px,#482273 27.5px,#46317e 29.5px,#443983 31.5px,#463480 32.5px,#424086 36.5px,#453581 40.5px,#443983 41.5px,#472d7b 42.5px,#46317e 43.5px,#482475 45.5px,#440154 46.5px,#440154 144.5px)"></i><i style="top:120px;background:linear-gradient(90deg,#450559 0.5px,#471164 7.5px,#482878 8.5px,#482475 9.5px,#472a7a 10.5px,#3f4989 11.5px,#3f4889 12.5px,#2c738e 13.5px,#32b57a 14.5px,#37b977 15.5px,#23a983 17.5px,#20a486 18.5px,#277e8e 19.5px,#23888e 20.5px,#25858e 22.5px,#287d8e 23.5px,#277f8e 24.5px,#472b7a 25.5px,#482575 26.5px,#46327f 27.5px,#424086 31.5px,#443a83 32.5px,#414287 33.5px,#424186 35.5px,#443b83 36.5px,#433d84 39.5px,#472f7d 41.5px,#482979 43.5px,#440154 44.5px,#440154 144.5px)"></i><i style="top:122px;background:linear-gradient(90deg,#450558 0.5px,#471164 6.5px,#481669 7.5px,#471365 8.5px,#482475 10.5px,#472b7a 11.5px,#375a8d 12.5px,#228e8d 13.5px,#37b878 14.5px,#3dbc74 16.5px,#34b679 17.5px,#24878e 18.5px,#29798e 20.5px,#218e8d 21.5px,#297a8e 22.5px,#277e8e 23.5px,#482172 24.5px,#482878 25.5px,#453681 26.5px,#433d85 28.5px,#443b83 29.5px,#404588 30.5px,#424186 31.5px,#404588 33.5px,#433d84 34.5px,#443a83 36.5px,#414286 37.5px,#472d7c 39.5px,#472f7d 40.5px,#440154 41.5px,#440154 144.5px)"></i><i style="top:124px;background:linear-gradient(90deg,#450457 0.5px,#46095d 4.5px,#482172 9.5px,#481568 10.5px,#482172 11.5px,#3a538b 12.5px,#228b8d 13.5px,#7bd251 14.5px,#6fce58 15.5px,#3cbb75 16.5px,#2eb37d 17.5px,#228c8d 18.5px,#238a8d 19.5px,#1f9f88 20.5px,#25838e 22.5px,#482475 23.5px,#472b7a 24.5px,#443a83 25.5px,#453781 26.5px,#414387 27.5px,#424086 29.5px,#3f4989 31.5px,#433c84 34.5px,#404588 35.5px,#472c7b 38.5px,#440154 39.5px,#440154 144.5px)"></i><i style="top:126px;background:linear-gradient(90deg,#450558 0.5px,#471164 7.5px,#481b6d 8.5px,#471365 9.5px,#482777 11.5px,#3e4b89 12.5px,#21908d 13.5px,#9fda3a 14.5px,#91d743 15.5px,#3ebc74 16.5px,#21a585 18.5px,#218f8d 19.5px,#2a778e 21.5px,#482777 22.5px,#472e7c 23.5px,#433e85 24.5px,#443a83 25.5px,#3c4f8a 27.5px,#3f4889 28.5px,#3f4989 31.5px,#423f85 32.5px,#3e4a89 33.5px,#46337f 35.5px,#46317e 36.5px,#440154 37.5px,#440154 144.5px)"></i><i style="top:128px;background:linear-gradient(90deg,#450457 0.5px,#470d60 6.5px,#481668 7.5px,#470f62 8.5px,#47307d 10.5px,#453681 11.5px,#2f6b8e 12.5px,#20928c 13.5px,#90d743 14.5px,#62ca5f 15.5px,#27ae81 17.5px,#28ae80 18.5px,#1f9a8a 19.5px,#306a8e 20.5px,#472a7a 21.5px,#424186 23.5px,#3c4f8b 28.5px,#414487 30.5px,#3c508b 31.5px,#443982 33.5px,#440154 34.5px,#440154 144.5px)"></i><i style="top:130px;background:linear-gradient(90deg,#450356 0.5px,#450558 4.5px,#481769 6.5px,#481f70 9.5px,#46307e 10.5px,#3c4f8a 11.5px,#2f6b8e 12.5px,#1f9f88 13.5px,#61ca60 14.5px,#4ac26d 16.5px,#31b57b 17.5px,#20938c 18.5px,#2c738e 19.5px,#2e6f8e 20.5px,#453781 21.5px,#3d4d8a 23.5px,#3a558c 26.5px,#3e4c8a 28.5px,#3b528b 29.5px,#433f85 30.5px,#453681 31.5px,#440154 32.5px,#440154 144.5px)"></i><i style="top:132px;background:linear-gradient(90deg,#450356 0.5px,#460a5d 4.5px,#481e6f 7.5px,#481e6f 8.5px,#482979 9.5px,#414387 10.5px,#2f6c8e 12.5px,#218f8d 13.5px,#75d054 14.5px,#4dc36b 15.5px,#58c765 16.5px,#36b878 17.5px,#228e8d 18.5px,#277e8e 19.5px,#443b83 20.5px,#3a538b 22.5px,#38598c 24.5px,#3d4e8a 27.5px,#414387 28.5px,#440154 29.5px,#440154 144.5px)"></i><i style="top:134px;background:linear-gradient(90deg,#450458 0.5px,#460c5f 4.5px,#481366 6.5px,#481567 7.5px,#463480 9.5px,#443a83 10.5px,#3b528b 11.5px,#34618d 12.5px,#218e8d 13.5px,#61ca60 14.5px,#47c06f 16.5px,#2eb37d 17.5px,#1f9a8a 18.5px,#424086 19.5px,#39568c 21.5px,#355e8d 23.5px,#37598c 24.5px,#404487 26.5px,#440154 27.5px,#440154 144.5px)"></i><i style="top:136px;background:linear-gradient(90deg,#450457 0.5px,#471063 7.5px,#47307d 10.5px,#472d7b 11.5px,#38588c 12.5px,#238a8d 13.5px,#9fda3a 14.5px,#5ec962 15.5px,#4cc26c 16.5px,#29af7f 17.5px,#3a538b 18.5px,#39568c 19.5px,#32658e 20.5px,#355f8d 22.5px,#414387 24.5px,#440154 25.5px,#440154 144.5px)"></i><i style="top:138px;background:linear-gradient(90deg,#450457 0.5px,#470d60 7.5px,#471265 8.5px,#482172 9.5px,#481f71 10.5px,#472c7b 11.5px,#3c508b 12.5px,#25838e 13.5px,#76d153 14.5px,#5fc961 15.5px,#56c667 16.5px,#2d708e 17.5px,#32668e 18.5px,#31678e 20.5px,#375a8c 21.5px,#440154 22.5px,#440154 144.5px)"></i><i style="top:140px;background:linear-gradient(90deg,#440356 0.5px,#470d60 9.5px,#481467 10.5px,#472a7a 11.5px,#3d4e8a 12.5px,#287b8e 13.5px,#7dd24f 14.5px,#66cc5d 15.5px,#24aa83 16.5px,#238a8d 17.5px,#38588c 19.5px,#440254 20.5px,#440154 144.5px)"></i><i style="top:142px;background:linear-gradient(90deg,#440255 0.5px,#460a5d 9.5px,#481a6c 11.5px,#443882 12.5px,#26818e 13.5px,#cae01f 14.5px,#6ece58 15.5px,#36b878 16.5px,#3b528b 17.5px,#481a6c 18.5px,#450559 19.5px,#440154 35.5px,#440154 144.5px)"></i><i style="top:144px;background:linear-gradient(90deg,#440254 0.5px,#46075b 8.5px,#470e61 10.5px,#48196b 11.5px,#453782 12.5px,#2a778e 13.5px,#e8e419 14.5px,#74d054 15.5px,#1fa187 16.5px,#3a538b 17.5px,#481b6d 18.5px,#450559 19.5px,#440154 33.5px,#440154 144.5px)"></i></div>
<div class="hm" style="left:45px;top:218.3px;width:144.5px;height:145.3px"><i style="top:0px;background:linear-gradient(90deg,#48196b 0.5px,#450559 1.5px,#481e6f 2.5px,#471063 5.5px,#481567 6.5px,#46075a 7.5px,#482878 9.5px,#481e70 10.5px,#463380 11.5px,#433d84 12.5px,#375a8d 13.5px,#22a785 14.5px,#2ab07f 15.5px,#24aa83 16.5px,#1e9b8a 17.5px,#23898d 18.5px,#218e8d 19.5px,#29798e 20.5px,#25848e 21.5px,#2e6e8e 25.5px,#2d718e 26.5px,#3a548c 28.5px,#414487 31.5px,#481d6f 34.5px,#470d60 35.5px,#470c5f 37.5px,#440255 47.5px,#440154 144.5px)"></i><i style="top:2px;background:linear-gradient(90deg,#48196b 0.5px,#450559 1.5px,#481e6f 2.5px,#471063 5.5px,#481567 6.5px,#46075a 7.5px,#482878 9.5px,#481e70 10.5px,#463380 11.5px,#433d84 12.5px,#375a8d 13.5px,#22a785 14.5px,#2ab07f 15.5px,#24aa83 16.5px,#1f9a8a 17.5px,#23898d 18.5px,#218e8d 19.5px,#29798e 20.5px,#25848e 21.5px,#2e6e8e 25.5px,#2d718e 26.5px,#3a548b 28.5px,#414387 31.5px,#481b6d 34.5px,#460b5e 35.5px,#470f62 36.5px,#440255 44.5px,#440154 144.5px)"></i><i style="top:4px;background:linear-gradient(90deg,#48196b 0.5px,#450559 1.5px,#481e6f 2.5px,#471063 5.5px,#481567 6.5px,#46075a 7.5px,#482878 9.5px,#481e70 10.5px,#463380 11.5px,#433d84 12.5px,#375a8d 13.5px,#22a784 14.5px,#2ab07f 15.5px,#23a983 16.5px,#1f9a8a 17.5px,#23898d 18.5px,#218e8d 19.5px,#29798e 20.5px,#25838e 21.5px,#2e6d8e 25.5px,#2d708e 26.5px,#3a538b 28.5px,#414286 31.5px,#481a6c 34.5px,#45065a 39.5px,#440154 75.5px,#440154 144.5px)"></i><i style="top:6px;background:linear-gradient(90deg,#48196b 0.5px,#450559 1.5px,#481e6f 2.5px,#471063 5.5px,#481567 6.5px,#46075a 7.5px,#482878 9.5px,#481e70 10.5px,#463380 11.5px,#433d84 12.5px,#375a8d 13.5px,#22a784 14.5px,#2bb07f 15.5px,#1f9a8a 17.5px,#23898d 18.5px,#218e8d 19.5px,#29798e 20.5px,#25838e 21.5px,#2e6d8e 25.5px,#2d708e 26.5px,#3a538b 28.5px,#424186 31.5px,#48186a 34.5px,#450558 40.5px,#440154 144.5px)"></i><i style="top:8px;background:linear-gradient(90deg,#48196b 0.5px,#450559 1.5px,#481e6f 2.5px,#471063 5.5px,#481567 6.5px,#46075a 7.5px,#482878 9.5px,#481e70 10.5px,#463380 11.5px,#433d84 12.5px,#375a8d 13.5px,#22a784 14.5px,#2bb07e 15.5px,#1f998a 17.5px,#23898e 18.5px,#218e8d 19.5px,#29798e 20.5px,#25838e 21.5px,#2e6d8e 25.5px,#2d6f8e 26.5px,#3b528b 28.5px,#424086 31.5px,#481669 34.5px,#450558 40.5px,#440154 144.5px)"></i><i style="top:10px;background:linear-gradient(90deg,#48196b 0.5px,#450559 1.5px,#481e6f 2.5px,#471063 5.5px,#481567 6.5px,#46075a 7.5px,#482878 9.5px,#481e70 10.5px,#463380 11.5px,#433d84 12.5px,#375a8d 13.5px,#22a884 14.5px,#2bb07e 15.5px,#1f998a 17.5px,#23898e 18.5px,#218e8d 19.5px,#29798e 20.5px,#25838e 21.5px,#2f6c8e 25.5px,#2e6f8e 26.5px,#3b518b 28.5px,#433e85 31.5px,#481467 34.5px,#450457 41.5px,#440154 144.5px)"></i><i style="top:12px;background:linear-gradient(90deg,#48196b 0.5px,#450559 1.5px,#481e6f 2.5px,#471063 5.5px,#481567 6.5px,#46075a 7.5px,#482878 9.5px,#481e70 10.5px,#463380 11.5px,#433d84 12.5px,#375a8d 13.5px,#22a884 14.5px,#2bb17e 15.5px,#1f998a 17.5px,#23898e 18.5px,#228e8d 19.5px,#29798e 20.5px,#25838e 21.5px,#2f6c8e 25.5px,#2e6e8e 26.5px,#3b518b 28.5px,#433d85 31.5px,#471265 34.5px,#450356 42.5px,#440154 144.5px)"></i><i style="top:14px;background:linear-gradient(90deg,#48196b 0.5px,#450559 1.5px,#481e6f 2.5px,#471063 5.5px,#481567 6.5px,#46075a 7.5px,#482878 9.5px,#481e70 10.5px,#463380 11.5px,#433c84 12.5px,#375a8c 13.5px,#22a884 14.5px,#2bb17e 15.5px,#1f988b 17.5px,#23898e 18.5px,#228e8d 19.5px,#29798e 20.5px,#26838e 21.5px,#2f6c8e 25.5px,#2e6e8e 26.5px,#3c508b 28.5px,#433c84 31.5px,#471063 34.5px,#440255 43.5px,#440154 144.5px)"></i><i style="top:16px;background:linear-gradient(90deg,#48196b 0.5px,#450559 1.5px,#481e6f 2.5px,#471063 5.5px,#481567 6.5px,#46075a 7.5px,#482878 9.5px,#481e70 10.5px,#46337f 11.5px,#433c84 12.5px,#375a8c 13.5px,#22a884 14.5px,#2bb17e 15.5px,#1f988b 17.5px,#23898e 18.5px,#228e8d 19.5px,#29798e 20.5px,#26838e 21.5px,#2f6b8e 25.5px,#2e6d8e 26.5px,#3c4f8b 28.5px,#443b83 31.5px,#481c6e 33.5px,#46085c 37.5px,#440154 56.5px,#440154 144.5px)"></i><i style="top:18px;background:linear-gradient(90deg,#48196b 0.5px,#450559 1.5px,#481e6f 2.5px,#471063 5.5px,#481567 6.5px,#46075a 7.5px,#482878 9.5px,#481e70 10.5px,#46337f 11.5px,#433c84 12.5px,#375a8c 13.5px,#22a884 14.5px,#2bb17e 15.5px,#21a685 16.5px,#23898e 18.5px,#228d8d 19.5px,#29798e 20.5px,#26838e 21.5px,#2f6b8e 25.5px,#2e6d8e 26.5px,#3c4f8a 28.5px,#443983 31.5px,#481a6c 33.5px,#450659 38.5px,#440154 84.5px,#440154 144.5px)"></i><i style="top:20px;background:linear-gradient(90deg,#48196b 0.5px,#450559 1.5px,#481e6f 2.5px,#471063 5.5px,#481567 6.5px,#46075a 7.5px,#482878 9.5px,#481e70 10.5px,#46337f 11.5px,#433c84 12.5px,#375a8c 13.5px,#23a884 14.5px,#2bb17e 15.5px,#21a585 16.5px,#23898e 18.5px,#228d8d 19.5px,#29798e 20.5px,#26828e 21.5px,#2f6a8e 25.5px,#2f6c8e 26.5px,#3d4e8a 28.5px,#453882 31.5px,#48186a 33.5px,#450659 38.5px,#440154 97.5px,#440154 144.5px)"></i><i style="top:22px;background:linear-gradient(90deg,#48196b 0.5px,#450559 1.5px,#481e6f 2.5px,#471063 5.5px,#481567 6.5px,#46075a 7.5px,#482878 9.5px,#481e70 10.5px,#46337f 11.5px,#433c84 12.5px,#375a8c 13.5px,#23a884 14.5px,#2cb17e 15.5px,#21a586 16.5px,#23898e 18.5px,#228d8d 19.5px,#29798e 20.5px,#26828e 21.5px,#306a8e 25.5px,#2f6c8e 26.5px,#3d4d8a 28.5px,#453681 31.5px,#481668 33.5px,#450458 39.5px,#440154 144.5px)"></i><i style="top:24px;background:linear-gradient(90deg,#48196b 0.5px,#450559 1.5px,#481e6f 2.5px,#471063 5.5px,#481567 6.5px,#46075a 7.5px,#482878 9.5px,#481e70 10.5px,#46337f 11.5px,#433c84 12.5px,#375a8c 13.5px,#23a984 14.5px,#2cb17e 15.5px,#20a486 16.5px,#23898e 18.5px,#228d8d 19.5px,#2a798e 20.5px,#26828e 21.5px,#30698e 25.5px,#2f6b8e 26.5px,#3d4c8a 28.5px,#453580 31.5px,#481466 33.5px,#450356 40.5px,#440154 144.5px)"></i><i style="top:26px;background:linear-gradient(90deg,#48196b 0.5px,#450559 1.5px,#481e6f 2.5px,#471063 5.5px,#481567 6.5px,#46075a 7.5px,#482878 9.5px,#481e70 10.5px,#46337f 11.5px,#433c84 12.5px,#375a8c 13.5px,#23a984 14.5px,#2cb17e 15.5px,#20a486 16.5px,#23888e 18.5px,#228d8d 19.5px,#2a798e 20.5px,#26828e 21.5px,#30698e 25.5px,#306a8e 26.5px,#3e4b8a 28.5px,#46337f 31.5px,#471264 33.5px,#450356 41.5px,#440154 144.5px)"></i><i style="top:28px;background:linear-gradient(90deg,#48196b 0.5px,#450559 1.5px,#481e6f 2.5px,#471063 5.5px,#481567 6.5px,#46075a 7.5px,#482878 9.5px,#481e70 10.5px,#46337f 11.5px,#433c84 12.5px,#375a8c 13.5px,#23a983 14.5px,#2cb17e 15.5px,#20a386 16.5px,#23888e 18.5px,#228d8d 19.5px,#2a798e 20.5px,#26828e 21.5px,#30698e 25.5px,#306a8e 26.5px,#3e4b89 28.5px,#46317e 31.5px,#470f62 33.5px,#440255 42.5px,#440154 144.5px)"></i><i style="top:30px;background:linear-gradient(90deg,#48196b 0.5px,#450559 1.5px,#481e6f 2.5px,#471063 5.5px,#481567 6.5px,#46075a 7.5px,#482878 9.5px,#481e70 10.5px,#46337f 11.5px,#433c84 12.5px,#375a8c 13.5px,#23a983 14.5px,#2cb17e 15.5px,#20a387 16.5px,#23888e 18.5px,#228d8d 19.5px,#2a788e 20.5px,#26828e 21.5px,#31688e 25.5px,#30698e 26.5px,#3e4a89 28.5px,#47307d 31.5px,#481366 33.5px,#450357 39.5px,#440154 144.5px)"></i><i style="top:32px;background:linear-gradient(90deg,#48196b 0.5px,#450559 1.5px,#481e6f 2.5px,#471063 5.5px,#481567 6.5px,#46075a 7.5px,#482878 9.5px,#481e70 10.5px,#46337f 11.5px,#433c84 12.5px,#375a8c 13.5px,#23a983 14.5px,#2cb27e 15.5px,#1fa287 16.5px,#23888e 18.5px,#228d8d 19.5px,#2a788e 20.5px,#26818e 21.5px,#31678e 25.5px,#30688e 26.5px,#3f4989 28.5px,#472e7c 31.5px,#471265 33.5px,#450357 39.5px,#440154 144.5px)"></i><i style="top:34px;background:linear-gradient(90deg,#48196b 0.5px,#450559 1.5px,#481e6f 2.5px,#471063 5.5px,#481567 6.5px,#46075a 7.5px,#482878 9.5px,#481e70 10.5px,#46337f 11.5px,#433c84 12.5px,#375a8c 13.5px,#23a983 14.5px,#2cb27d 15.5px,#1fa287 16.5px,#23888e 18.5px,#228d8d 19.5px,#2a788e 20.5px,#26818e 21.5px,#31678e 25.5px,#31678e 26.5px,#3f4888 28.5px,#472c7b 31.5px,#471164 33.5px,#450356 39.5px,#440154 144.5px)"></i><i style="top:36px;background:linear-gradient(90deg,#48196b 0.5px,#450559 1.5px,#481e6f 2.5px,#471063 5.5px,#481567 6.5px,#46075a 7.5px,#482878 9.5px,#481e70 10.5px,#46337f 11.5px,#433c84 12.5px,#375a8c 13.5px,#24aa83 14.5px,#2cb27d 15.5px,#1fa187 16.5px,#23888e 18.5px,#228d8d 19.5px,#2a788e 20.5px,#26818e 21.5px,#31668e 25.5px,#31678e 26.5px,#404788 28.5px,#482a79 31.5px,#471063 33.5px,#450356 39.5px,#440154 144.5px)"></i><i style="top:38px;background:linear-gradient(90deg,#48196b 0.5px,#450559 1.5px,#481e6f 2.5px,#471063 5.5px,#481567 6.5px,#46075a 7.5px,#482878 9.5px,#481e70 10.5px,#46337f 11.5px,#433c84 12.5px,#375a8c 13.5px,#24aa83 14.5px,#2db27d 15.5px,#1fa088 16.5px,#23888e 18.5px,#228d8d 19.5px,#2a788e 20.5px,#26818e 21.5px,#32668e 25.5px,#31668e 26.5px,#404688 28.5px,#482878 31.5px,#481769 32.5px,#450659 36.5px,#440154 76.5px,#440154 144.5px)"></i><i style="top:40px;background:linear-gradient(90deg,#48196b 0.5px,#450559 1.5px,#481e6f 2.5px,#471063 5.5px,#481567 6.5px,#46075a 7.5px,#482878 9.5px,#481e70 10.5px,#46337f 11.5px,#433c84 12.5px,#375a8c 13.5px,#24aa83 14.5px,#2db27d 15.5px,#1fa088 16.5px,#23888e 18.5px,#228d8d 19.5px,#2a788e 20.5px,#26818e 21.5px,#32658e 25.5px,#32658e 26.5px,#404487 28.5px,#482676 31.5px,#481467 32.5px,#450458 37.5px,#440154 144.5px)"></i><i style="top:42px;background:linear-gradient(90deg,#48196b 0.5px,#450559 1.5px,#481e6f 2.5px,#471063 5.5px,#481567 6.5px,#46075a 7.5px,#482878 9.5px,#481e70 10.5px,#46337f 11.5px,#433c84 12.5px,#375a8c 13.5px,#24aa83 14.5px,#2db27d 15.5px,#1f9f88 16.5px,#23888e 18.5px,#228d8d 19.5px,#2a788e 20.5px,#26808e 21.5px,#32648e 25.5px,#32648e 26.5px,#414387 28.5px,#482374 31.5px,#481366 32.5px,#450356 38.5px,#440154 144.5px)"></i><i style="top:44px;background:linear-gradient(90deg,#48196b 0.5px,#450559 1.5px,#481e6f 2.5px,#471063 5.5px,#481567 6.5px,#46075a 7.5px,#482878 9.5px,#481e70 10.5px,#46337f 11.5px,#433c84 12.5px,#375a8c 13.5px,#24aa83 14.5px,#2db27d 15.5px,#1f9f88 16.5px,#23888e 18.5px,#228d8d 19.5px,#2a788e 20.5px,#27808e 21.5px,#32648e 25.5px,#33638d 26.5px,#414287 28.5px,#482172 31.5px,#471265 32.5px,#450356 38.5px,#440154 144.5px)"></i><i style="top:46px;background:linear-gradient(90deg,#48196b 0.5px,#450559 1.5px,#481e6f 2.5px,#471063 5.5px,#481567 6.5px,#46075a 7.5px,#482878 9.5px,#481e70 10.5px,#46337f 11.5px,#433c84 12.5px,#375a8c 13.5px,#24aa82 14.5px,#2db27d 15.5px,#1f9e89 16.5px,#23888e 18.5px,#228c8d 19.5px,#2a788e 20.5px,#27808e 21.5px,#33638d 25.5px,#33628d 26.5px,#424186 28.5px,#481f70 31.5px,#471164 32.5px,#450356 38.5px,#440154 144.5px)"></i><i style="top:48px;background:linear-gradient(90deg,#48196b 0.5px,#450559 1.5px,#481e6f 2.5px,#471063 5.5px,#481567 6.5px,#46075a 7.5px,#482878 9.5px,#481e70 10.5px,#46337f 11.5px,#433c84 12.5px,#375a8c 13.5px,#25ab82 14.5px,#2db27d 15.5px,#1f9d89 16.5px,#23888e 18.5px,#228c8d 19.5px,#2a788e 20.5px,#27808e 21.5px,#33628d 25.5px,#34618d 26.5px,#423f85 28.5px,#471063 32.5px,#450356 38.5px,#440154 144.5px)"></i><i style="top:50px;background:linear-gradient(90deg,#48196b 0.5px,#450559 1.5px,#481e6f 2.5px,#471063 5.5px,#481567 6.5px,#46075a 7.5px,#482878 9.5px,#481e70 10.5px,#46337f 11.5px,#433c84 12.5px,#375a8c 13.5px,#25ab82 14.5px,#2db27d 15.5px,#1e9d89 16.5px,#23888e 18.5px,#228c8d 19.5px,#2a778e 20.5px,#277f8e 21.5px,#33628d 25.5px,#34608d 26.5px,#433e85 28.5px,#470f62 32.5px,#450356 38.5px,#440154 144.5px)"></i><i style="top:52px;background:linear-gradient(90deg,#48196b 0.5px,#450559 1.5px,#481e6f 2.5px,#471063 5.5px,#481567 6.5px,#46075a 7.5px,#482878 9.5px,#481e70 10.5px,#46337f 11.5px,#433c84 12.5px,#375a8c 13.5px,#25ab82 14.5px,#2db27d 15.5px,#1e9c89 16.5px,#23888e 18.5px,#228c8d 19.5px,#2a778e 20.5px,#277f8e 21.5px,#34618d 25.5px,#355f8d 26.5px,#433c84 28.5px,#482273 30.5px,#481466 31.5px,#450457 36.5px,#440154 144.5px)"></i><i style="top:54px;background:linear-gradient(90deg,#48196b 0.5px,#450559 1.5px,#481e6f 2.5px,#471063 5.5px,#481567 6.5px,#46075a 7.5px,#482878 9.5px,#481e70 10.5px,#46337f 11.5px,#433c84 12.5px,#375a8c 13.5px,#25ab82 14.5px,#2db27d 15.5px,#1e9c89 16.5px,#24888e 18.5px,#228c8d 19.5px,#2a778e 20.5px,#277f8e 21.5px,#34608d 25.5px,#355e8d 26.5px,#443b83 28.5px,#482071 30.5px,#470d60 32.5px,#440255 39.5px,#440154 144.5px)"></i><i style="top:56px;background:linear-gradient(90deg,#48196b 0.5px,#450559 1.5px,#481e6f 2.5px,#471063 5.5px,#481567 6.5px,#46075a 7.5px,#482878 9.5px,#481e70 10.5px,#46337f 11.5px,#433c84 12.5px,#375a8c 13.5px,#25ac82 14.5px,#2db27d 15.5px,#1e9b8a 16.5px,#24888e 18.5px,#228c8d 19.5px,#2a778e 20.5px,#277e8e 21.5px,#355f8d 25.5px,#365d8d 26.5px,#443983 28.5px,#471164 31.5px,#450357 36.5px,#440154 144.5px)"></i><i style="top:58px;background:linear-gradient(90deg,#48196b 0.5px,#450559 1.5px,#481e6f 2.5px,#471063 5.5px,#481567 6.5px,#46075a 7.5px,#482878 9.5px,#481e70 10.5px,#46337f 11.5px,#433c84 12.5px,#375a8c 13.5px,#26ac82 14.5px,#2db27d 15.5px,#1e9b8a 16.5px,#24888e 18.5px,#228c8d 19.5px,#2a778e 20.5px,#277e8e 21.5px,#355e8d 25.5px,#365b8d 26.5px,#453782 28.5px,#471063 31.5px,#450356 37.5px,#440154 144.5px)"></i><i style="top:60px;background:linear-gradient(90deg,#48196b 0.5px,#450559 1.5px,#481e6f 2.5px,#471063 5.5px,#481567 6.5px,#46075a 7.5px,#482878 9.5px,#481e70 10.5px,#46337f 11.5px,#433c84 12.5px,#375a8c 13.5px,#26ac82 14.5px,#2eb27d 15.5px,#1f9a8a 16.5px,#24888e 18.5px,#228c8d 19.5px,#2a778e 20.5px,#287e8e 21.5px,#365d8d 25.5px,#375a8c 26.5px,#453581 28.5px,#48186a 30.5px,#450559 34.5px,#440154 107.5px,#440154 144.5px)"></i><i style="top:62px;background:linear-gradient(90deg,#48196b 0.5px,#450559 1.5px,#481e6f 2.5px,#471063 5.5px,#481567 6.5px,#46075a 7.5px,#482878 9.5px,#481e70 10.5px,#46337f 11.5px,#433c84 12.5px,#375a8c 13.5px,#26ac81 14.5px,#2eb37d 15.5px,#1f998a 16.5px,#24888e 18.5px,#228b8d 19.5px,#2a768e 20.5px,#287d8e 21.5px,#365c8d 25.5px,#38598c 26.5px,#482777 29.5px,#481467 30.5px,#450457 35.5px,#440154 144.5px)"></i><i style="top:64px;background:linear-gradient(90deg,#48196b 0.5px,#450559 1.5px,#481e6f 2.5px,#471063 5.5px,#481567 6.5px,#46075a 7.5px,#482878 9.5px,#481e70 10.5px,#46337f 11.5px,#433c84 12.5px,#375a8c 13.5px,#26ac81 14.5px,#2eb37d 15.5px,#1f998a 16.5px,#24888e 18.5px,#228b8d 19.5px,#2a768e 20.5px,#287d8e 21.5px,#375b8d 25.5px,#38578c 26.5px,#46317e 28.5px,#471365 30.5px,#450357 35.5px,#440154 144.5px)"></i><i style="top:66px;background:linear-gradient(90deg,#48196b 0.5px,#450559 1.5px,#481e6f 2.5px,#471063 5.5px,#481567 6.5px,#46075a 7.5px,#482878 9.5px,#481e70 10.5px,#46337f 11.5px,#433c84 12.5px,#375a8c 13.5px,#27ad81 14.5px,#2eb37d 15.5px,#1f988b 16.5px,#24888e 18.5px,#228b8d 19.5px,#2b768e 20.5px,#287d8e 21.5px,#375a8c 25.5px,#39568c 26.5px,#472f7d 28.5px,#471264 30.5px,#450356 35.5px,#440154 144.5px)"></i><i style="top:68px;background:linear-gradient(90deg,#48196b 0.5px,#450559 1.5px,#481e6f 2.5px,#471063 5.5px,#481567 6.5px,#46075a 7.5px,#482878 9.5px,#481e70 10.5px,#46337f 11.5px,#433c84 12.5px,#375a8c 13.5px,#27ad81 14.5px,#2eb37d 15.5px,#1f988b 16.5px,#20948c 17.5px,#24888e 18.5px,#228b8d 19.5px,#2b768e 20.5px,#287c8e 21.5px,#38588c 25.5px,#3a548b 26.5px,#472d7b 28.5px,#471063 30.5px,#450356 35.5px,#440154 144.5px)"></i><i style="top:70px;background:linear-gradient(90deg,#48196b 0.5px,#450559 1.5px,#481e6f 2.5px,#471063 5.5px,#481567 6.5px,#46075a 7.5px,#482878 9.5px,#481e70 10.5px,#46337f 11.5px,#433c84 12.5px,#375a8c 13.5px,#27ad81 14.5px,#2eb37d 15.5px,#1f978b 16.5px,#20948c 17.5px,#24888e 18.5px,#238b8d 19.5px,#2b768e 20.5px,#287c8e 21.5px,#38578c 25.5px,#3b528b 26.5px,#472a79 28.5px,#470f62 30.5px,#440255 36.5px,#440154 144.5px)"></i><i style="top:72px;background:linear-gradient(90deg,#48196b 0.5px,#450559 1.5px,#481e6f 2.5px,#471063 5.5px,#481567 6.5px,#46075a 7.5px,#482878 9.5px,#481e70 10.5px,#46337f 11.5px,#433c84 12.5px,#375a8c 13.5px,#27ae80 14.5px,#2eb37d 15.5px,#1f978b 16.5px,#20948c 17.5px,#24888e 18.5px,#238a8d 19.5px,#2b758e 20.5px,#287b8e 21.5px,#3c508b 26.5px,#433e85 27.5px,#48186a 29.5px,#45065a 32.5px,#440154 58.5px,#440154 144.5px)"></i><i style="top:74px;background:linear-gradient(90deg,#48196b 0.5px,#450559 1.5px,#481e6f 2.5px,#471063 5.5px,#481567 6.5px,#46075a 7.5px,#482878 9.5px,#481e70 10.5px,#46337f 11.5px,#433c84 12.5px,#375a8c 13.5px,#28ae80 14.5px,#2eb37c 15.5px,#1f968b 16.5px,#20948c 17.5px,#24888e 18.5px,#238a8d 19.5px,#2b758e 20.5px,#297b8e 21.5px,#3c4e8a 26.5px,#433c84 27.5px,#471365 29.5px,#450458 33.5px,#440154 144.5px)"></i><i style="top:76px;background:linear-gradient(90deg,#48196b 0.5px,#450559 1.5px,#481e6f 2.5px,#471063 5.5px,#481567 6.5px,#46075a 7.5px,#482878 9.5px,#481e70 10.5px,#46337f 11.5px,#433c84 12.5px,#375a8c 13.5px,#28ae80 14.5px,#2eb37c 15.5px,#1f968b 16.5px,#20948c 17.5px,#24878e 18.5px,#238a8d 19.5px,#2b758e 20.5px,#297a8e 21.5px,#3d4c8a 26.5px,#443983 27.5px,#471164 29.5px,#450356 34.5px,#440154 144.5px)"></i><i style="top:78px;background:linear-gradient(90deg,#48196b 0.5px,#450559 1.5px,#481e6f 2.5px,#471063 5.5px,#481567 6.5px,#46075a 7.5px,#482878 9.5px,#481e70 10.5px,#46337f 11.5px,#433c84 12.5px,#375a8c 13.5px,#28af80 14.5px,#2eb37c 15.5px,#1f958b 16.5px,#20948c 17.5px,#24878e 18.5px,#238a8d 19.5px,#2b758e 20.5px,#297a8e 21.5px,#3e4989 26.5px,#453681 27.5px,#481e70 28.5px,#471063 29.5px,#450356 34.5px,#440154 144.5px)"></i><i style="top:80px;background:linear-gradient(90deg,#48196b 0.5px,#450559 1.5px,#481e6f 2.5px,#471063 5.5px,#481567 6.5px,#46075a 7.5px,#482878 9.5px,#481e70 10.5px,#46337f 11.5px,#433c84 12.5px,#375a8c 13.5px,#29af80 14.5px,#2eb37c 15.5px,#1f958c 16.5px,#20948c 17.5px,#24878e 18.5px,#23898d 19.5px,#2b748e 20.5px,#29798e 21.5px,#3f4788 26.5px,#46337f 27.5px,#481b6d 28.5px,#460a5d 30.5px,#440154 40.5px,#440154 144.5px)"></i><i style="top:82px;background:linear-gradient(90deg,#48196b 0.5px,#450559 1.5px,#481e6f 2.5px,#471063 5.5px,#481567 6.5px,#46075a 7.5px,#482878 9.5px,#481e70 10.5px,#46337f 11.5px,#433c84 12.5px,#375a8c 13.5px,#29af7f 14.5px,#2fb37c 15.5px,#20948c 16.5px,#20948c 17.5px,#24878e 18.5px,#23898d 19.5px,#2b748e 20.5px,#2a788e 21.5px,#414487 26.5px,#47307d 27.5px,#481769 28.5px,#450659 31.5px,#440154 68.5px,#440154 144.5px)"></i><i style="top:84px;background:linear-gradient(90deg,#48196b 0.5px,#450559 1.5px,#481e6f 2.5px,#471063 5.5px,#481567 6.5px,#46075a 7.5px,#482878 9.5px,#481e70 10.5px,#46337f 11.5px,#433c84 12.5px,#375a8c 13.5px,#2ab07f 14.5px,#2fb37c 15.5px,#20948c 16.5px,#20948c 17.5px,#24878e 18.5px,#23898e 19.5px,#2c748e 20.5px,#2a788e 21.5px,#424186 26.5px,#472c7b 27.5px,#471265 28.5px,#450457 32.5px,#440154 144.5px)"></i><i style="top:86px;background:linear-gradient(90deg,#48196b 0.5px,#450559 1.5px,#481e6f 2.5px,#471063 5.5px,#481567 6.5px,#46075a 7.5px,#482878 9.5px,#481e70 10.5px,#46337f 11.5px,#433c84 12.5px,#375a8c 13.5px,#2ab07f 14.5px,#2fb37c 15.5px,#20938c 16.5px,#20948c 17.5px,#24878e 18.5px,#23898e 19.5px,#2c738e 20.5px,#2a778e 21.5px,#433e85 26.5px,#471063 28.5px,#450357 32.5px,#440154 144.5px)"></i><i style="top:88px;background:linear-gradient(90deg,#48196b 0.5px,#450559 1.5px,#481e6f 2.5px,#471063 5.5px,#481567 6.5px,#46075a 7.5px,#482878 9.5px,#481e70 10.5px,#46337f 11.5px,#433c84 12.5px,#375a8c 13.5px,#2bb17e 14.5px,#2fb37c 15.5px,#20938c 16.5px,#20938c 17.5px,#24878e 18.5px,#23888e 19.5px,#2c738e 20.5px,#2a768e 21.5px,#443b83 26.5px,#470f62 28.5px,#440255 33.5px,#440154 144.5px)"></i><i style="top:90px;background:linear-gradient(90deg,#48196b 0.5px,#450559 1.5px,#481e6f 2.5px,#471063 5.5px,#481567 6.5px,#46075a 7.5px,#482878 9.5px,#481e70 10.5px,#46337f 11.5px,#433c84 12.5px,#375a8c 13.5px,#2bb17e 14.5px,#2fb47c 15.5px,#20928c 16.5px,#20938c 17.5px,#24878e 18.5px,#24888e 19.5px,#2c728e 20.5px,#2b758e 21.5px,#414387 25.5px,#453781 26.5px,#470d60 28.5px,#440255 33.5px,#440154 144.5px)"></i><i style="top:92px;background:linear-gradient(90deg,#48196b 0.5px,#450559 1.5px,#481e6f 2.5px,#471063 5.5px,#481567 6.5px,#46075a 7.5px,#482878 9.5px,#481e70 10.5px,#46337f 11.5px,#433c84 12.5px,#375a8c 13.5px,#2cb17e 14.5px,#2fb47c 15.5px,#20928c 16.5px,#20938c 17.5px,#24868e 18.5px,#24878e 19.5px,#2c728e 20.5px,#2b748e 21.5px,#424086 25.5px,#46337f 26.5px,#471365 27.5px,#450357 31.5px,#440154 144.5px)"></i><i style="top:94px;background:linear-gradient(90deg,#48196b 0.5px,#450559 1.5px,#481e6f 2.5px,#471063 5.5px,#481567 6.5px,#46075a 7.5px,#482878 9.5px,#481e70 10.5px,#46337f 11.5px,#433c84 12.5px,#375a8c 13.5px,#2db27d 14.5px,#2fb47c 15.5px,#20928c 16.5px,#20938c 17.5px,#24868e 18.5px,#24878e 19.5px,#2d718e 20.5px,#2c738e 21.5px,#433d84 25.5px,#472e7c 26.5px,#471163 27.5px,#450356 31.5px,#440154 144.5px)"></i><i style="top:96px;background:linear-gradient(90deg,#48196b 0.5px,#450559 1.5px,#481e6f 2.5px,#471063 5.5px,#481567 6.5px,#46075a 7.5px,#482878 9.5px,#481e70 10.5px,#46337f 11.5px,#433c84 12.5px,#375a8c 13.5px,#2eb37d 14.5px,#30b47c 15.5px,#20918c 16.5px,#20938c 17.5px,#24868e 18.5px,#24868e 19.5px,#2d718e 20.5px,#2c728e 21.5px,#443983 25.5px,#482979 26.5px,#470f62 27.5px,#450356 31.5px,#440154 144.5px)"></i><i style="top:98px;background:linear-gradient(90deg,#48196b 0.5px,#450559 1.5px,#481e6f 2.5px,#471063 5.5px,#481567 6.5px,#46075a 7.5px,#482878 9.5px,#481e70 10.5px,#46337f 11.5px,#433c84 12.5px,#375a8c 13.5px,#2eb37c 14.5px,#30b47b 15.5px,#20918c 16.5px,#20938c 17.5px,#24868e 18.5px,#24868e 19.5px,#2d708e 20.5px,#2d718e 21.5px,#404688 24.5px,#482374 26.5px,#470d60 27.5px,#440255 32.5px,#440154 144.5px)"></i><i style="top:100px;background:linear-gradient(90deg,#48196b 0.5px,#450559 1.5px,#481e6f 2.5px,#471063 5.5px,#481567 6.5px,#46075a 7.5px,#482878 9.5px,#481e70 10.5px,#46337f 11.5px,#433c84 12.5px,#375a8c 13.5px,#2fb47c 14.5px,#30b47b 15.5px,#20918c 16.5px,#20938c 17.5px,#24868e 18.5px,#25858e 19.5px,#2d6f8e 20.5px,#2d708e 21.5px,#414287 24.5px,#46317e 25.5px,#471265 26.5px,#450356 30.5px,#440154 144.5px)"></i><i style="top:102px;background:linear-gradient(90deg,#48196b 0.5px,#450559 1.5px,#481e6f 2.5px,#471063 5.5px,#481567 6.5px,#46075a 7.5px,#482878 9.5px,#481e70 10.5px,#46337f 11.5px,#433c84 12.5px,#375a8c 13.5px,#30b47b 14.5px,#30b47b 15.5px,#21918c 16.5px,#20938c 17.5px,#25858e 18.5px,#25858e 19.5px,#2e6e8e 20.5px,#2e6f8e 21.5px,#433f85 24.5px,#472c7b 25.5px,#471063 26.5px,#450356 30.5px,#440154 144.5px)"></i><i style="top:104px;background:linear-gradient(90deg,#48196b 0.5px,#450559 1.5px,#481e6f 2.5px,#471063 5.5px,#481567 6.5px,#46075a 7.5px,#482878 9.5px,#481e70 10.5px,#46337f 11.5px,#433c84 12.5px,#375a8c 13.5px,#32b57b 14.5px,#31b57b 15.5px,#21908c 16.5px,#20938c 17.5px,#25858e 18.5px,#25848e 19.5px,#2e6d8e 20.5px,#2e6d8e 21.5px,#443b83 24.5px,#482677 25.5px,#470e61 26.5px,#440256 30.5px,#440154 144.5px)"></i><i style="top:106px;background:linear-gradient(90deg,#48196b 0.5px,#450559 1.5px,#481e6f 2.5px,#471063 5.5px,#481567 6.5px,#46075a 7.5px,#482878 9.5px,#481e70 10.5px,#46337f 11.5px,#433c84 12.5px,#375a8c 13.5px,#33b67a 14.5px,#31b57b 15.5px,#21908c 16.5px,#20938c 17.5px,#25848e 18.5px,#25838e 19.5px,#2f6c8e 20.5px,#2f6b8e 21.5px,#3e4b8a 23.5px,#482071 25.5px,#460c5f 26.5px,#440255 31.5px,#440154 144.5px)"></i><i style="top:108px;background:linear-gradient(90deg,#48196b 0.5px,#450559 1.5px,#481e6f 2.5px,#471063 5.5px,#481567 6.5px,#46075a 7.5px,#482878 9.5px,#481e70 10.5px,#46337f 11.5px,#433c84 12.5px,#375a8c 13.5px,#34b779 14.5px,#31b57b 15.5px,#21908d 16.5px,#20928c 17.5px,#25848e 18.5px,#26828e 19.5px,#2f6b8e 20.5px,#30698e 21.5px,#3f4888 23.5px,#46317e 24.5px,#471164 25.5px,#450457 28.5px,#440154 144.5px)"></i><i style="top:110px;background:linear-gradient(90deg,#48196b 0.5px,#450559 1.5px,#481e6f 2.5px,#471063 5.5px,#481567 6.5px,#46075a 7.5px,#482878 9.5px,#481e70 10.5px,#46337f 11.5px,#433c84 12.5px,#375a8c 13.5px,#36b878 14.5px,#32b57b 15.5px,#21908d 16.5px,#20928c 17.5px,#25848e 18.5px,#26818e 19.5px,#306a8e 20.5px,#31678e 21.5px,#414387 23.5px,#472b7a 24.5px,#470f62 25.5px,#440255 29.5px,#440154 144.5px)"></i><i style="top:112px;background:linear-gradient(90deg,#48196b 0.5px,#450559 1.5px,#481e6f 2.5px,#471063 5.5px,#481567 6.5px,#46075a 7.5px,#482878 9.5px,#481e70 10.5px,#46337f 11.5px,#433c84 12.5px,#375a8c 13.5px,#37b977 14.5px,#32b57a 15.5px,#218f8d 16.5px,#20928c 17.5px,#25838e 18.5px,#27808e 19.5px,#30688e 20.5px,#32658e 21.5px,#433e85 23.5px,#470c5f 25.5px,#440255 30.5px,#440154 144.5px)"></i><i style="top:114px;background:linear-gradient(90deg,#48196b 0.5px,#450559 1.5px,#481e6f 2.5px,#471063 5.5px,#481567 6.5px,#46075a 7.5px,#482878 9.5px,#481e70 10.5px,#46337f 11.5px,#433c84 12.5px,#375a8c 13.5px,#39ba76 14.5px,#32b67a 15.5px,#218f8d 16.5px,#20928c 17.5px,#26828e 18.5px,#277f8e 19.5px,#31678e 20.5px,#33628d 21.5px,#453882 23.5px,#471265 24.5px,#450357 27.5px,#440154 144.5px)"></i><i style="top:116px;background:linear-gradient(90deg,#48186a 0.5px,#450558 1.5px,#481d6f 2.5px,#471063 5.5px,#481467 6.5px,#46075a 7.5px,#482878 9.5px,#481e70 10.5px,#46337f 11.5px,#433c84 12.5px,#375a8c 13.5px,#3bbb75 14.5px,#33b67a 15.5px,#218f8d 16.5px,#20918c 17.5px,#26828e 18.5px,#287d8e 19.5px,#32658e 20.5px,#355e8d 21.5px,#46317e 23.5px,#470f62 24.5px,#440255 28.5px,#440154 144.5px)"></i><i style="top:118px;background:linear-gradient(90deg,#481769 0.5px,#450558 1.5px,#481b6d 2.5px,#470f62 5.5px,#481366 6.5px,#46075b 7.5px,#482777 9.5px,#481e70 10.5px,#46337f 11.5px,#433c84 12.5px,#375a8c 13.5px,#3ebc74 14.5px,#33b67a 15.5px,#218f8d 16.5px,#20918c 17.5px,#26818e 18.5px,#287b8e 19.5px,#33638d 20.5px,#375b8d 21.5px,#414387 22.5px,#482978 23.5px,#460c5f 24.5px,#440255 28.5px,#440154 144.5px)"></i><i style="top:120px;background:linear-gradient(90deg,#481568 0.5px,#450558 1.5px,#48196c 2.5px,#470f61 5.5px,#471365 6.5px,#46075b 7.5px,#482576 9.5px,#481e70 10.5px,#46327f 11.5px,#433c84 12.5px,#375a8c 13.5px,#40bd72 14.5px,#34b679 15.5px,#218f8d 16.5px,#21908c 17.5px,#27808e 18.5px,#29798e 19.5px,#34608d 20.5px,#39568c 21.5px,#433c84 22.5px,#471264 23.5px,#450356 26.5px,#440154 144.5px)"></i><i style="top:122px;background:linear-gradient(90deg,#481466 0.5px,#450458 1.5px,#48186a 2.5px,#470e61 5.5px,#471264 6.5px,#46085b 7.5px,#482475 9.5px,#481e70 10.5px,#46317e 11.5px,#433c84 12.5px,#375a8c 13.5px,#43bf71 14.5px,#34b779 15.5px,#218e8d 16.5px,#21908d 17.5px,#277e8e 18.5px,#2a778e 19.5px,#365c8d 20.5px,#3c508b 21.5px,#463480 22.5px,#470e61 23.5px,#440256 26.5px,#440154 144.5px)"></i><i style="top:124px;background:linear-gradient(90deg,#471265 0.5px,#450458 1.5px,#481668 2.5px,#470d60 5.5px,#471163 6.5px,#46085b 7.5px,#482374 9.5px,#481e70 10.5px,#46317e 11.5px,#433c84 12.5px,#375a8c 13.5px,#46c06f 14.5px,#35b779 15.5px,#218e8d 16.5px,#218f8d 17.5px,#287d8e 18.5px,#2b748e 19.5px,#38588c 20.5px,#3f4989 21.5px,#482979 22.5px,#460a5e 23.5px,#440154 28.5px,#440154 144.5px)"></i><i style="top:126px;background:linear-gradient(90deg,#471163 0.5px,#450457 1.5px,#481467 2.5px,#470c5f 5.5px,#471063 6.5px,#46085c 7.5px,#482273 9.5px,#481e70 10.5px,#433c84 12.5px,#375a8c 13.5px,#4ac26d 14.5px,#35b779 15.5px,#218e8d 16.5px,#228d8d 17.5px,#297b8e 18.5px,#2d708e 19.5px,#3b528b 20.5px,#433e85 21.5px,#470f62 22.5px,#440255 25.5px,#440154 144.5px)"></i><i style="top:128px;background:linear-gradient(90deg,#470f62 0.5px,#450457 1.5px,#471265 2.5px,#460b5f 5.5px,#470f62 6.5px,#46085c 7.5px,#482072 9.5px,#481e70 10.5px,#433c84 12.5px,#375a8c 13.5px,#4ec36b 14.5px,#35b778 15.5px,#228d8d 16.5px,#238a8d 17.5px,#32658e 19.5px,#414287 20.5px,#471164 21.5px,#450357 23.5px,#440154 144.5px)"></i><i style="top:130px;background:linear-gradient(90deg,#470d60 0.5px,#450357 1.5px,#471063 2.5px,#460b5e 5.5px,#470e61 6.5px,#46095c 7.5px,#481f71 9.5px,#481e70 10.5px,#433c84 12.5px,#375a8c 13.5px,#53c568 14.5px,#35b779 15.5px,#238b8d 16.5px,#25848e 17.5px,#3a558c 19.5px,#482878 20.5px,#46075b 21.5px,#440154 27.5px,#440154 144.5px)"></i><i style="top:132px;background:linear-gradient(90deg,#460c5f 0.5px,#450357 1.5px,#470e61 2.5px,#460a5d 5.5px,#46095c 7.5px,#481e6f 9.5px,#481e70 10.5px,#433c84 12.5px,#375a8c 13.5px,#58c765 14.5px,#35b779 15.5px,#24888e 16.5px,#287c8e 17.5px,#355d8d 18.5px,#453882 19.5px,#46085b 20.5px,#440154 25.5px,#440154 144.5px)"></i><i style="top:134px;background:linear-gradient(90deg,#460a5d 0.5px,#450356 1.5px,#470c5f 2.5px,#46085b 7.5px,#481a6c 9.5px,#481a6c 10.5px,#463480 12.5px,#3c508b 13.5px,#5ec962 14.5px,#34b679 15.5px,#26838e 16.5px,#2d708e 17.5px,#414487 18.5px,#46095c 19.5px,#440154 22.5px,#440154 144.5px)"></i><i style="top:136px;background:linear-gradient(90deg,#46085b 0.5px,#450356 1.5px,#460a5d 2.5px,#45065a 7.5px,#481568 9.5px,#481668 10.5px,#472b7a 12.5px,#404487 13.5px,#65cb5e 14.5px,#32b57a 15.5px,#297b8e 16.5px,#38588c 17.5px,#460a5d 18.5px,#440154 20.5px,#440154 144.5px)"></i><i style="top:138px;background:linear-gradient(90deg,#45065a 0.5px,#440255 1.5px,#46075a 3.5px,#450558 7.5px,#481a6c 11.5px,#482273 12.5px,#453882 13.5px,#6cce59 14.5px,#2eb37d 15.5px,#30698e 16.5px,#470c5f 17.5px,#440255 18.5px,#440154 144.5px)"></i><i style="top:140px;background:linear-gradient(90deg,#450458 0.5px,#46075b 8.5px,#48186a 12.5px,#472c7a 13.5px,#75d054 14.5px,#25ab82 15.5px,#481366 16.5px,#440255 17.5px,#440154 144.5px)"></i><i style="top:142px;background:linear-gradient(90deg,#450356 0.5px,#450659 8.5px,#481567 12.5px,#482777 13.5px,#7fd34e 14.5px,#228c8d 15.5px,#440255 16.5px,#440154 144.5px)"></i><i style="top:144px;background:linear-gradient(90deg,#440254 0.5px,#460a5d 10.5px,#481567 12.5px,#482777 13.5px,#89d548 14.5px,#3a538b 15.5px,#440255 16.5px,#440154 144.5px)"></i></div>
<div class="hm" style="left:202.9px;top:218.3px;width:144.5px;height:145.3px"><i style="top:0px;background:linear-gradient(90deg,#481668 0.5px,#471265 1.5px,#450457 2.5px,#481b6d 3.5px,#460a5d 4.5px,#450558 5.5px,#482071 6.5px,#481d6f 7.5px,#470d60 8.5px,#453882 10.5px,#46317e 11.5px,#433d84 12.5px,#375a8c 13.5px,#22a884 14.5px,#26ad81 15.5px,#23a983 16.5px,#228d8d 17.5px,#26828e 18.5px,#20918c 19.5px,#26828e 20.5px,#24878e 21.5px,#297a8e 22.5px,#2a788e 23.5px,#34608d 24.5px,#31678e 26.5px,#38598c 28.5px,#414387 29.5px,#433d84 31.5px,#472a79 33.5px,#470e61 35.5px,#440254 48.5px,#440154 144.5px)"></i><i style="top:2px;background:linear-gradient(90deg,#481668 0.5px,#471265 1.5px,#450457 2.5px,#481b6d 3.5px,#460a5d 4.5px,#450558 5.5px,#482071 6.5px,#481d6f 7.5px,#470d60 8.5px,#453882 10.5px,#46317e 11.5px,#433d84 12.5px,#375a8c 13.5px,#22a884 14.5px,#26ad81 15.5px,#23a983 16.5px,#228c8d 17.5px,#26818e 18.5px,#20918c 19.5px,#26828e 20.5px,#24878e 21.5px,#297a8e 22.5px,#2a788e 23.5px,#34608d 24.5px,#31678e 26.5px,#38588c 28.5px,#414287 29.5px,#443c84 31.5px,#482978 33.5px,#460c5f 35.5px,#460c5f 37.5px,#440254 48.5px,#440154 144.5px)"></i><i style="top:4px;background:linear-gradient(90deg,#481668 0.5px,#471265 1.5px,#450457 2.5px,#481b6d 3.5px,#460a5d 4.5px,#450558 5.5px,#482071 6.5px,#481d6f 7.5px,#470d60 8.5px,#453882 10.5px,#46317e 11.5px,#433d84 12.5px,#375a8c 13.5px,#22a884 14.5px,#26ad81 15.5px,#23a984 16.5px,#228c8d 17.5px,#26818e 18.5px,#20918c 19.5px,#26818e 20.5px,#24868e 21.5px,#29798e 22.5px,#2a778e 23.5px,#34608d 24.5px,#31678e 26.5px,#38588c 28.5px,#414286 29.5px,#443b83 31.5px,#482777 33.5px,#48186b 34.5px,#450558 40.5px,#440154 144.5px)"></i><i style="top:6px;background:linear-gradient(90deg,#481668 0.5px,#471265 1.5px,#450457 2.5px,#481b6d 3.5px,#460a5d 4.5px,#450558 5.5px,#482071 6.5px,#481d6f 7.5px,#470d60 8.5px,#453882 10.5px,#46317e 11.5px,#433d84 12.5px,#375a8c 13.5px,#22a884 14.5px,#26ad81 15.5px,#23a884 16.5px,#228b8d 17.5px,#26818e 18.5px,#20918c 19.5px,#26818e 20.5px,#24868e 21.5px,#29798e 22.5px,#2a778e 23.5px,#345f8d 24.5px,#31668e 26.5px,#38578c 28.5px,#424186 29.5px,#443a83 31.5px,#482676 33.5px,#481769 34.5px,#450558 40.5px,#440154 144.5px)"></i><i style="top:8px;background:linear-gradient(90deg,#481668 0.5px,#471265 1.5px,#450457 2.5px,#481b6d 3.5px,#460a5d 4.5px,#450558 5.5px,#482071 6.5px,#481d6f 7.5px,#470d60 8.5px,#453882 10.5px,#46317e 11.5px,#433d84 12.5px,#375a8c 13.5px,#22a884 14.5px,#26ad81 15.5px,#23a884 16.5px,#228b8d 17.5px,#26818e 18.5px,#20918c 19.5px,#26818e 20.5px,#24868e 21.5px,#29798e 22.5px,#2a778e 23.5px,#355f8d 24.5px,#32668e 26.5px,#39568c 28.5px,#424086 29.5px,#443982 31.5px,#482475 33.5px,#481567 34.5px,#450457 41.5px,#440154 144.5px)"></i><i style="top:10px;background:linear-gradient(90deg,#481668 0.5px,#471265 1.5px,#450457 2.5px,#481b6d 3.5px,#460a5d 4.5px,#450558 5.5px,#482071 6.5px,#481d6f 7.5px,#470d60 8.5px,#453882 10.5px,#46317e 11.5px,#433d84 12.5px,#375a8c 13.5px,#22a884 14.5px,#26ad81 15.5px,#22a884 16.5px,#238a8d 17.5px,#26818e 18.5px,#20918c 19.5px,#26818e 20.5px,#24868e 21.5px,#29798e 22.5px,#2a778e 23.5px,#355f8d 24.5px,#32658e 26.5px,#39568c 28.5px,#424086 29.5px,#453782 31.5px,#482374 33.5px,#481366 34.5px,#450356 42.5px,#440154 144.5px)"></i><i style="top:12px;background:linear-gradient(90deg,#481668 0.5px,#471265 1.5px,#450457 2.5px,#481b6d 3.5px,#460a5d 4.5px,#450558 5.5px,#482071 6.5px,#481d6f 7.5px,#470d60 8.5px,#453882 10.5px,#46317e 11.5px,#433c84 12.5px,#375a8c 13.5px,#23a884 14.5px,#26ad81 15.5px,#22a884 16.5px,#238a8d 17.5px,#26818e 18.5px,#20918c 19.5px,#26818e 20.5px,#24868e 21.5px,#29798e 22.5px,#2a768e 23.5px,#355f8d 24.5px,#32658e 26.5px,#39558c 28.5px,#423f85 29.5px,#453681 31.5px,#482172 33.5px,#471164 34.5px,#440255 43.5px,#440154 144.5px)"></i><i style="top:14px;background:linear-gradient(90deg,#481668 0.5px,#471265 1.5px,#450457 2.5px,#481b6d 3.5px,#460a5d 4.5px,#450558 5.5px,#482071 6.5px,#481d6f 7.5px,#470d60 8.5px,#453882 10.5px,#46317e 11.5px,#433c84 12.5px,#375a8c 13.5px,#23a884 14.5px,#27ad81 15.5px,#22a884 16.5px,#238a8d 17.5px,#26818e 18.5px,#21918c 19.5px,#26818e 20.5px,#24868e 21.5px,#2a798e 22.5px,#2b768e 23.5px,#355f8d 24.5px,#32648e 26.5px,#3a548c 28.5px,#433e85 29.5px,#453580 31.5px,#482071 33.5px,#470f62 34.5px,#440255 44.5px,#440154 144.5px)"></i><i style="top:16px;background:linear-gradient(90deg,#481668 0.5px,#471265 1.5px,#450457 2.5px,#481b6d 3.5px,#460a5d 4.5px,#450558 5.5px,#482071 6.5px,#481d6f 7.5px,#470d60 8.5px,#453882 10.5px,#46317e 11.5px,#433c84 12.5px,#375a8c 13.5px,#23a884 14.5px,#27ad81 15.5px,#22a784 16.5px,#23898d 17.5px,#26818e 18.5px,#21918c 19.5px,#26818e 20.5px,#24868e 21.5px,#2a788e 22.5px,#2b768e 23.5px,#355e8d 24.5px,#32648e 26.5px,#3a548b 28.5px,#433d85 29.5px,#463480 31.5px,#481466 34.5px,#450457 40.5px,#440154 144.5px)"></i><i style="top:18px;background:linear-gradient(90deg,#481668 0.5px,#471265 1.5px,#450457 2.5px,#481b6d 3.5px,#460a5d 4.5px,#450558 5.5px,#482071 6.5px,#481d6f 7.5px,#470d60 8.5px,#453882 10.5px,#46317e 11.5px,#433c84 12.5px,#375a8c 13.5px,#23a984 14.5px,#27ad81 15.5px,#22a784 16.5px,#23898e 17.5px,#26818e 18.5px,#21918c 19.5px,#26818e 20.5px,#24868e 21.5px,#2a788e 22.5px,#2b768e 23.5px,#355e8d 24.5px,#33638d 26.5px,#3a538b 28.5px,#433d84 29.5px,#46337f 31.5px,#471365 34.5px,#450457 40.5px,#440154 144.5px)"></i><i style="top:20px;background:linear-gradient(90deg,#481668 0.5px,#471265 1.5px,#450457 2.5px,#481b6d 3.5px,#460a5d 4.5px,#450558 5.5px,#482071 6.5px,#481d6f 7.5px,#470d60 8.5px,#453882 10.5px,#46317e 11.5px,#433c84 12.5px,#375a8c 13.5px,#23a984 14.5px,#27ad81 15.5px,#22a785 16.5px,#23888e 17.5px,#26818e 18.5px,#21908c 19.5px,#26818e 20.5px,#25858e 21.5px,#2a788e 22.5px,#2b758e 23.5px,#355e8d 24.5px,#33638d 26.5px,#3b528b 28.5px,#433c84 29.5px,#46317e 31.5px,#471265 34.5px,#450357 40.5px,#440154 144.5px)"></i><i style="top:22px;background:linear-gradient(90deg,#481668 0.5px,#471265 1.5px,#450457 2.5px,#481b6d 3.5px,#460a5d 4.5px,#450558 5.5px,#482071 6.5px,#481d6f 7.5px,#470d60 8.5px,#453882 10.5px,#46317e 11.5px,#433c84 12.5px,#375a8c 13.5px,#23a984 14.5px,#27ad81 15.5px,#22a785 16.5px,#24888e 17.5px,#26818e 18.5px,#21908c 19.5px,#26818e 20.5px,#25858e 21.5px,#2a788e 22.5px,#2b758e 23.5px,#355e8d 24.5px,#33628d 26.5px,#3b518b 28.5px,#443b84 29.5px,#47307d 31.5px,#471164 34.5px,#450357 40.5px,#440154 144.5px)"></i><i style="top:24px;background:linear-gradient(90deg,#481668 0.5px,#471265 1.5px,#450457 2.5px,#481b6d 3.5px,#460a5d 4.5px,#450558 5.5px,#482071 6.5px,#481d6f 7.5px,#470d60 8.5px,#453882 10.5px,#46317e 11.5px,#433c84 12.5px,#375a8c 13.5px,#23a983 14.5px,#27ad81 15.5px,#21a685 16.5px,#24888e 17.5px,#26818e 18.5px,#21908c 19.5px,#26818e 20.5px,#25858e 21.5px,#2a788e 22.5px,#2b758e 23.5px,#355d8d 24.5px,#33628d 26.5px,#3b508b 28.5px,#443a83 29.5px,#472e7c 31.5px,#481668 33.5px,#450457 39.5px,#440154 144.5px)"></i><i style="top:26px;background:linear-gradient(90deg,#481668 0.5px,#471265 1.5px,#450457 2.5px,#481b6d 3.5px,#460a5d 4.5px,#450558 5.5px,#482071 6.5px,#481d6f 7.5px,#470d60 8.5px,#453882 10.5px,#46317e 11.5px,#433c84 12.5px,#375a8c 13.5px,#23a983 14.5px,#27ad81 15.5px,#21a685 16.5px,#24878e 17.5px,#26818e 18.5px,#21908c 19.5px,#26818e 20.5px,#25858e 21.5px,#2a778e 22.5px,#2b758e 23.5px,#365d8d 24.5px,#34618d 26.5px,#3c4f8b 28.5px,#443983 29.5px,#472d7b 31.5px,#481466 33.5px,#450457 39.5px,#440154 144.5px)"></i><i style="top:28px;background:linear-gradient(90deg,#481668 0.5px,#471265 1.5px,#450457 2.5px,#481b6d 3.5px,#460a5d 4.5px,#450558 5.5px,#482071 6.5px,#481d6f 7.5px,#470d60 8.5px,#453882 10.5px,#46317e 11.5px,#433c84 12.5px,#375a8c 13.5px,#23a983 14.5px,#27ad81 15.5px,#21a685 16.5px,#24878e 17.5px,#26818e 18.5px,#21908c 19.5px,#26818e 20.5px,#25858e 21.5px,#2a778e 22.5px,#2b748e 23.5px,#365d8d 24.5px,#34608d 26.5px,#3c4f8a 28.5px,#453882 29.5px,#472b7a 31.5px,#471164 33.5px,#440256 41.5px,#440154 144.5px)"></i><i style="top:30px;background:linear-gradient(90deg,#481668 0.5px,#471265 1.5px,#450457 2.5px,#481b6d 3.5px,#460a5d 4.5px,#450558 5.5px,#482071 6.5px,#481d6f 7.5px,#470d60 8.5px,#453882 10.5px,#46317e 11.5px,#433c84 12.5px,#375a8c 13.5px,#23a983 14.5px,#27ad81 15.5px,#21a685 16.5px,#24878e 17.5px,#26808e 18.5px,#21908c 19.5px,#26808e 20.5px,#25848e 21.5px,#2a778e 22.5px,#2b748e 23.5px,#365c8d 24.5px,#34608d 26.5px,#3d4e8a 28.5px,#453782 29.5px,#482a79 31.5px,#481366 33.5px,#450357 39.5px,#440154 144.5px)"></i><i style="top:32px;background:linear-gradient(90deg,#481668 0.5px,#471265 1.5px,#450457 2.5px,#481b6d 3.5px,#460a5d 4.5px,#450558 5.5px,#482071 6.5px,#481d6f 7.5px,#470d60 8.5px,#453882 10.5px,#46317e 11.5px,#433c84 12.5px,#375a8c 13.5px,#23a983 14.5px,#27ad81 15.5px,#21a585 16.5px,#24868e 17.5px,#26808e 18.5px,#21908c 19.5px,#26808e 20.5px,#25848e 21.5px,#2a778e 22.5px,#2c748e 23.5px,#365c8d 24.5px,#355f8d 26.5px,#3d4d8a 28.5px,#453681 29.5px,#482878 31.5px,#471265 33.5px,#450357 39.5px,#440154 144.5px)"></i><i style="top:34px;background:linear-gradient(90deg,#481668 0.5px,#471265 1.5px,#450457 2.5px,#481b6d 3.5px,#460a5d 4.5px,#450558 5.5px,#482071 6.5px,#481d6f 7.5px,#470d60 8.5px,#453882 10.5px,#46317e 11.5px,#433c84 12.5px,#375a8c 13.5px,#24aa83 14.5px,#27ad81 15.5px,#21a585 16.5px,#24868e 17.5px,#26808e 18.5px,#21908d 19.5px,#27808e 20.5px,#25848e 21.5px,#2a768e 22.5px,#2c738e 23.5px,#365c8d 24.5px,#355f8d 26.5px,#3e4c8a 28.5px,#453580 29.5px,#482677 31.5px,#470d60 34.5px,#440255 42.5px,#440154 144.5px)"></i><i style="top:36px;background:linear-gradient(90deg,#481668 0.5px,#471265 1.5px,#450457 2.5px,#481b6d 3.5px,#460a5d 4.5px,#450558 5.5px,#482071 6.5px,#481d6f 7.5px,#470d60 8.5px,#453882 10.5px,#46317e 11.5px,#433c84 12.5px,#375a8c 13.5px,#24aa83 14.5px,#27ad81 15.5px,#21a586 16.5px,#24868e 17.5px,#26808e 18.5px,#21908d 19.5px,#27808e 20.5px,#25848e 21.5px,#2a768e 22.5px,#2c738e 23.5px,#365b8d 24.5px,#355e8d 26.5px,#3e4a89 28.5px,#463480 29.5px,#482475 31.5px,#470c5f 34.5px,#440255 43.5px,#440154 144.5px)"></i><i style="top:38px;background:linear-gradient(90deg,#481668 0.5px,#471265 1.5px,#450457 2.5px,#481b6d 3.5px,#460a5d 4.5px,#450558 5.5px,#482071 6.5px,#481d6f 7.5px,#470d60 8.5px,#453882 10.5px,#46317e 11.5px,#433c84 12.5px,#375a8c 13.5px,#24aa83 14.5px,#27ad81 15.5px,#20a586 16.5px,#24858e 17.5px,#26808e 18.5px,#21908d 19.5px,#27808e 20.5px,#25848e 21.5px,#2b768e 22.5px,#2c738e 23.5px,#375b8d 24.5px,#365d8d 26.5px,#3e4989 28.5px,#46337f 29.5px,#482374 31.5px,#471062 33.5px,#440255 40.5px,#440154 144.5px)"></i><i style="top:40px;background:linear-gradient(90deg,#481668 0.5px,#471265 1.5px,#450457 2.5px,#481b6d 3.5px,#460a5d 4.5px,#450558 5.5px,#482071 6.5px,#481d6f 7.5px,#470d60 8.5px,#453882 10.5px,#46317e 11.5px,#433c84 12.5px,#375a8c 13.5px,#24aa83 14.5px,#27ad81 15.5px,#20a486 16.5px,#25858e 17.5px,#26808e 18.5px,#21908d 19.5px,#27808e 20.5px,#25838e 21.5px,#2b768e 22.5px,#2c728e 23.5px,#375b8d 24.5px,#365c8d 26.5px,#3f4889 28.5px,#46317e 29.5px,#482172 31.5px,#481366 32.5px,#450357 38.5px,#440154 144.5px)"></i><i style="top:42px;background:linear-gradient(90deg,#481668 0.5px,#471265 1.5px,#450457 2.5px,#481b6d 3.5px,#460a5d 4.5px,#450558 5.5px,#482071 6.5px,#481d6f 7.5px,#470d60 8.5px,#453882 10.5px,#46317e 11.5px,#433c84 12.5px,#375a8c 13.5px,#24aa83 14.5px,#27ad81 15.5px,#20a486 16.5px,#25858e 17.5px,#26808e 18.5px,#21908d 19.5px,#27808e 20.5px,#25838e 21.5px,#2b758e 22.5px,#2c728e 23.5px,#375a8c 24.5px,#365b8d 26.5px,#3f4788 28.5px,#46307e 29.5px,#481e70 31.5px,#470e61 33.5px,#440255 40.5px,#440154 144.5px)"></i><i style="top:44px;background:linear-gradient(90deg,#481668 0.5px,#471265 1.5px,#450457 2.5px,#481b6d 3.5px,#460a5d 4.5px,#450558 5.5px,#482071 6.5px,#481d6f 7.5px,#470d60 8.5px,#453882 10.5px,#46317e 11.5px,#433c84 12.5px,#375a8c 13.5px,#24aa83 14.5px,#27ad81 15.5px,#20a486 16.5px,#25858e 17.5px,#26808e 18.5px,#21908d 19.5px,#27808e 20.5px,#25838e 21.5px,#2b758e 22.5px,#2c718e 23.5px,#375a8c 24.5px,#375b8d 26.5px,#404688 28.5px,#472f7d 29.5px,#470d60 33.5px,#440255 41.5px,#440154 144.5px)"></i><i style="top:46px;background:linear-gradient(90deg,#481668 0.5px,#471265 1.5px,#450457 2.5px,#481b6d 3.5px,#460a5d 4.5px,#450558 5.5px,#482071 6.5px,#481d6f 7.5px,#470d60 8.5px,#453882 10.5px,#46317e 11.5px,#433c84 12.5px,#375a8c 13.5px,#24aa83 14.5px,#27ad81 15.5px,#20a486 16.5px,#25858e 17.5px,#26808e 18.5px,#218f8d 19.5px,#277f8e 20.5px,#26838e 21.5px,#2b758e 22.5px,#2d718e 23.5px,#37598c 24.5px,#375a8c 26.5px,#414487 28.5px,#472d7c 29.5px,#470c5f 33.5px,#440255 41.5px,#440154 144.5px)"></i><i style="top:48px;background:linear-gradient(90deg,#481668 0.5px,#471265 1.5px,#450457 2.5px,#481b6d 3.5px,#460a5d 4.5px,#450558 5.5px,#482071 6.5px,#481d6f 7.5px,#470d60 8.5px,#453882 10.5px,#46317e 11.5px,#433c84 12.5px,#375a8c 13.5px,#24ab82 14.5px,#27ae81 15.5px,#20a386 16.5px,#25848e 17.5px,#26808e 18.5px,#218f8d 19.5px,#277f8e 20.5px,#26828e 21.5px,#2b748e 22.5px,#2d708e 23.5px,#38598c 24.5px,#38598c 26.5px,#414387 28.5px,#472c7b 29.5px,#471063 32.5px,#450356 38.5px,#440154 144.5px)"></i><i style="top:50px;background:linear-gradient(90deg,#481668 0.5px,#471265 1.5px,#450457 2.5px,#481b6d 3.5px,#460a5d 4.5px,#450558 5.5px,#482071 6.5px,#481d6f 7.5px,#470d60 8.5px,#453882 10.5px,#46317e 11.5px,#433c84 12.5px,#375a8c 13.5px,#25ab82 14.5px,#27ae80 15.5px,#20a386 16.5px,#25848e 17.5px,#26808e 18.5px,#218f8d 19.5px,#277f8e 20.5px,#26828e 21.5px,#2b748e 22.5px,#2d708e 23.5px,#38588c 24.5px,#38588c 26.5px,#424186 28.5px,#472a79 29.5px,#470f62 32.5px,#450356 38.5px,#440154 144.5px)"></i><i style="top:52px;background:linear-gradient(90deg,#481668 0.5px,#471265 1.5px,#450457 2.5px,#481b6d 3.5px,#460a5d 4.5px,#450558 5.5px,#482071 6.5px,#481d6f 7.5px,#470d60 8.5px,#453882 10.5px,#46317e 11.5px,#433c84 12.5px,#375a8c 13.5px,#25ab82 14.5px,#27ae80 15.5px,#20a387 16.5px,#25848e 17.5px,#26808e 18.5px,#218f8d 19.5px,#277f8e 20.5px,#26828e 21.5px,#2b748e 22.5px,#2d708e 23.5px,#38588c 24.5px,#38578c 26.5px,#424086 28.5px,#482978 29.5px,#470e61 32.5px,#440255 39.5px,#440154 144.5px)"></i><i style="top:54px;background:linear-gradient(90deg,#481668 0.5px,#471265 1.5px,#450457 2.5px,#481b6d 3.5px,#460a5d 4.5px,#450558 5.5px,#482071 6.5px,#481d6f 7.5px,#470d60 8.5px,#453882 10.5px,#46317e 11.5px,#433c84 12.5px,#375a8c 13.5px,#25ab82 14.5px,#28ae80 15.5px,#20a387 16.5px,#25848e 17.5px,#26808e 18.5px,#218f8d 19.5px,#277f8e 20.5px,#26818e 21.5px,#2c738e 22.5px,#2d6f8e 23.5px,#38578c 24.5px,#39568c 26.5px,#433e85 28.5px,#482777 29.5px,#470d60 32.5px,#440255 39.5px,#440154 144.5px)"></i><i style="top:56px;background:linear-gradient(90deg,#481668 0.5px,#471265 1.5px,#450457 2.5px,#481b6d 3.5px,#460a5d 4.5px,#450558 5.5px,#482071 6.5px,#481d6f 7.5px,#470d60 8.5px,#453882 10.5px,#46317e 11.5px,#433c84 12.5px,#375a8c 13.5px,#25ab82 14.5px,#28ae80 15.5px,#20a387 16.5px,#25848e 17.5px,#26808e 18.5px,#218f8d 19.5px,#277f8e 20.5px,#26818e 21.5px,#2c738e 22.5px,#2e6e8e 23.5px,#38578c 24.5px,#39558c 26.5px,#433c84 28.5px,#482575 29.5px,#470c5f 32.5px,#440255 40.5px,#440154 144.5px)"></i><i style="top:58px;background:linear-gradient(90deg,#481668 0.5px,#471265 1.5px,#450457 2.5px,#481b6d 3.5px,#460a5d 4.5px,#450558 5.5px,#482071 6.5px,#481d6f 7.5px,#470d60 8.5px,#453882 10.5px,#46317e 11.5px,#433c84 12.5px,#375a8c 13.5px,#25ab82 14.5px,#28ae80 15.5px,#1fa287 16.5px,#25848e 17.5px,#26808e 18.5px,#218f8d 19.5px,#277e8e 20.5px,#26818e 21.5px,#2c738e 22.5px,#2e6e8e 23.5px,#39568c 24.5px,#3a538b 26.5px,#443b83 28.5px,#482374 29.5px,#460c5f 32.5px,#440254 41.5px,#440154 144.5px)"></i><i style="top:60px;background:linear-gradient(90deg,#481668 0.5px,#471265 1.5px,#450457 2.5px,#481b6d 3.5px,#460a5d 4.5px,#450558 5.5px,#482071 6.5px,#481d6f 7.5px,#470d60 8.5px,#453882 10.5px,#46317e 11.5px,#433c84 12.5px,#375a8c 13.5px,#25ac82 14.5px,#28ae80 15.5px,#1fa287 16.5px,#25838e 17.5px,#26808e 18.5px,#218e8d 19.5px,#277e8e 20.5px,#26808e 21.5px,#2c728e 22.5px,#2e6d8e 23.5px,#39568c 24.5px,#3b528b 26.5px,#443982 28.5px,#482172 29.5px,#460b5e 32.5px,#440154 42.5px,#440154 144.5px)"></i><i style="top:62px;background:linear-gradient(90deg,#481668 0.5px,#471265 1.5px,#450457 2.5px,#481b6d 3.5px,#460a5d 4.5px,#450558 5.5px,#482071 6.5px,#481d6f 7.5px,#470d60 8.5px,#453882 10.5px,#46317e 11.5px,#433c84 12.5px,#37598c 13.5px,#26ac82 14.5px,#28ae80 15.5px,#1fa287 16.5px,#25838e 17.5px,#27808e 18.5px,#218e8d 19.5px,#277e8e 20.5px,#27808e 21.5px,#2c728e 22.5px,#2e6d8e 23.5px,#39558c 24.5px,#3b518b 26.5px,#453781 28.5px,#481f70 29.5px,#470e61 31.5px,#440255 37.5px,#440154 144.5px)"></i><i style="top:64px;background:linear-gradient(90deg,#481668 0.5px,#471265 1.5px,#450457 2.5px,#481b6d 3.5px,#460a5d 4.5px,#450558 5.5px,#482071 6.5px,#481d6f 7.5px,#470d60 8.5px,#453882 10.5px,#46317e 11.5px,#433c84 12.5px,#37598c 13.5px,#26ac82 14.5px,#28ae80 15.5px,#1fa287 16.5px,#25838e 17.5px,#27808e 18.5px,#218e8d 19.5px,#277e8e 20.5px,#27808e 21.5px,#2d718e 22.5px,#2f6c8e 23.5px,#3a548c 24.5px,#3c4f8b 26.5px,#463480 28.5px,#481c6e 29.5px,#46095c 32.5px,#440154 45.5px,#440154 144.5px)"></i><i style="top:66px;background:linear-gradient(90deg,#481668 0.5px,#471265 1.5px,#450457 2.5px,#481b6d 3.5px,#460a5d 4.5px,#450558 5.5px,#482071 6.5px,#481d6f 7.5px,#470d60 8.5px,#453882 10.5px,#46317e 11.5px,#433c84 12.5px,#37598c 13.5px,#26ac81 14.5px,#28ae80 15.5px,#1fa187 16.5px,#25838e 17.5px,#27808e 18.5px,#218e8d 19.5px,#287e8e 20.5px,#277f8e 21.5px,#2d718e 22.5px,#2f6b8e 23.5px,#3a538b 24.5px,#3c4e8a 26.5px,#46327f 28.5px,#481a6c 29.5px,#450659 33.5px,#440154 72.5px,#440154 144.5px)"></i><i style="top:68px;background:linear-gradient(90deg,#481668 0.5px,#471265 1.5px,#450457 2.5px,#481b6d 3.5px,#460a5d 4.5px,#450558 5.5px,#482071 6.5px,#481d6f 7.5px,#470d60 8.5px,#453882 10.5px,#46317e 11.5px,#433c84 12.5px,#37598c 13.5px,#26ac81 14.5px,#29af80 15.5px,#1fa187 16.5px,#25838e 17.5px,#27808e 18.5px,#218e8d 19.5px,#287d8e 20.5px,#277f8e 21.5px,#2d708e 22.5px,#2f6b8e 23.5px,#3a538b 24.5px,#3d4c8a 26.5px,#47307d 28.5px,#481769 29.5px,#450559 33.5px,#440154 96.5px,#440154 144.5px)"></i><i style="top:70px;background:linear-gradient(90deg,#481668 0.5px,#471265 1.5px,#450457 2.5px,#481b6d 3.5px,#460a5d 4.5px,#450558 5.5px,#482071 6.5px,#481d6f 7.5px,#470d60 8.5px,#453882 10.5px,#46317e 11.5px,#433c84 12.5px,#37598c 13.5px,#26ad81 14.5px,#29af80 15.5px,#1fa187 16.5px,#25838e 17.5px,#27808e 18.5px,#228e8d 19.5px,#287d8e 20.5px,#277e8e 21.5px,#2d708e 22.5px,#306a8e 23.5px,#3b528b 24.5px,#3e4b89 26.5px,#472d7b 28.5px,#481467 29.5px,#450457 34.5px,#440154 144.5px)"></i><i style="top:72px;background:linear-gradient(90deg,#481668 0.5px,#471265 1.5px,#450457 2.5px,#481b6d 3.5px,#460a5d 4.5px,#450558 5.5px,#482071 6.5px,#481d6f 7.5px,#470d60 8.5px,#453882 10.5px,#46317e 11.5px,#433c84 12.5px,#37598c 13.5px,#27ad81 14.5px,#29af80 15.5px,#1fa188 16.5px,#25838e 17.5px,#27808e 18.5px,#228d8d 19.5px,#287d8e 20.5px,#277e8e 21.5px,#2d6f8e 22.5px,#30698e 23.5px,#3b518b 24.5px,#3f4989 26.5px,#472a79 28.5px,#471163 29.5px,#450356 35.5px,#440154 144.5px)"></i><i style="top:74px;background:linear-gradient(90deg,#481668 0.5px,#471265 1.5px,#450457 2.5px,#481b6d 3.5px,#460a5d 4.5px,#450558 5.5px,#482071 6.5px,#481d6f 7.5px,#470d60 8.5px,#453882 10.5px,#46317e 11.5px,#433c84 12.5px,#37598c 13.5px,#27ad81 14.5px,#29af7f 15.5px,#1fa188 16.5px,#26838e 17.5px,#27808e 18.5px,#228d8d 19.5px,#287c8e 20.5px,#287d8e 21.5px,#2e6e8e 22.5px,#30688e 23.5px,#3c508b 24.5px,#3f4788 26.5px,#482777 28.5px,#471365 29.5px,#450458 33.5px,#440154 144.5px)"></i><i style="top:76px;background:linear-gradient(90deg,#481668 0.5px,#471265 1.5px,#450457 2.5px,#481b6d 3.5px,#460a5d 4.5px,#450558 5.5px,#482071 6.5px,#481d6f 7.5px,#470d60 8.5px,#453882 10.5px,#46317e 11.5px,#433c84 12.5px,#37598c 13.5px,#27ad81 14.5px,#29af7f 15.5px,#1fa088 16.5px,#26838e 17.5px,#27808e 18.5px,#228d8d 19.5px,#287c8e 20.5px,#287d8e 21.5px,#2e6e8e 22.5px,#31678e 23.5px,#3c4f8a 24.5px,#404588 26.5px,#482475 28.5px,#471164 29.5px,#450356 34.5px,#440154 144.5px)"></i><i style="top:78px;background:linear-gradient(90deg,#481668 0.5px,#471265 1.5px,#450457 2.5px,#481b6d 3.5px,#460a5d 4.5px,#450558 5.5px,#482071 6.5px,#481d6f 7.5px,#470d60 8.5px,#453882 10.5px,#46317e 11.5px,#433c84 12.5px,#37598c 13.5px,#27ae80 14.5px,#2ab07f 15.5px,#1fa088 16.5px,#26838e 17.5px,#27808e 18.5px,#228d8d 19.5px,#287c8e 20.5px,#287c8e 21.5px,#2e6d8e 22.5px,#31668e 23.5px,#3d4e8a 24.5px,#414387 26.5px,#482072 28.5px,#471063 29.5px,#450356 34.5px,#440154 144.5px)"></i><i style="top:80px;background:linear-gradient(90deg,#481668 0.5px,#471265 1.5px,#450457 2.5px,#481b6d 3.5px,#460a5d 4.5px,#450558 5.5px,#482071 6.5px,#481d6f 7.5px,#470d60 8.5px,#453882 10.5px,#46317e 11.5px,#433c84 12.5px,#37598c 13.5px,#28ae80 14.5px,#2ab07f 15.5px,#1fa088 16.5px,#26838e 17.5px,#27808e 18.5px,#228c8d 19.5px,#287b8e 20.5px,#287c8e 21.5px,#2f6c8e 22.5px,#32658e 23.5px,#3d4d8a 24.5px,#424086 26.5px,#470f61 29.5px,#440356 34.5px,#440154 144.5px)"></i><i style="top:82px;background:linear-gradient(90deg,#481668 0.5px,#471265 1.5px,#450457 2.5px,#481b6d 3.5px,#460a5d 4.5px,#450558 5.5px,#482071 6.5px,#481d6f 7.5px,#470d60 8.5px,#453882 10.5px,#46317e 11.5px,#433c84 12.5px,#37598c 13.5px,#28ae80 14.5px,#2ab07f 15.5px,#1fa088 16.5px,#26838e 17.5px,#27808e 18.5px,#228c8d 19.5px,#297b8e 20.5px,#297b8e 21.5px,#2f6b8e 22.5px,#32648e 23.5px,#3e4b8a 24.5px,#433e85 26.5px,#48196b 28.5px,#46095c 30.5px,#440154 42.5px,#440154 144.5px)"></i><i style="top:84px;background:linear-gradient(90deg,#481668 0.5px,#471265 1.5px,#450457 2.5px,#481b6d 3.5px,#460a5d 4.5px,#450558 5.5px,#482071 6.5px,#481d6f 7.5px,#470d60 8.5px,#453882 10.5px,#46317e 11.5px,#433c84 12.5px,#37598c 13.5px,#29af80 14.5px,#2bb07e 15.5px,#1fa088 16.5px,#26838e 17.5px,#27808e 18.5px,#228c8d 19.5px,#297b8e 20.5px,#297a8e 21.5px,#33638d 23.5px,#3e4a89 24.5px,#443b84 26.5px,#482978 27.5px,#471265 28.5px,#450457 32.5px,#440154 144.5px)"></i><i style="top:86px;background:linear-gradient(90deg,#481668 0.5px,#471265 1.5px,#450457 2.5px,#481b6d 3.5px,#460a5d 4.5px,#450558 5.5px,#482071 6.5px,#481d6f 7.5px,#470d60 8.5px,#453882 10.5px,#46317e 11.5px,#433c84 12.5px,#37598c 13.5px,#29af80 14.5px,#2bb17e 15.5px,#1fa088 16.5px,#26838e 17.5px,#27808e 18.5px,#228b8d 19.5px,#297a8e 20.5px,#29798e 21.5px,#33618d 23.5px,#3f4889 24.5px,#453882 26.5px,#471063 28.5px,#450357 32.5px,#440154 144.5px)"></i><i style="top:88px;background:linear-gradient(90deg,#481668 0.5px,#471265 1.5px,#450457 2.5px,#481b6d 3.5px,#460a5d 4.5px,#450558 5.5px,#482071 6.5px,#481d6f 7.5px,#470d60 8.5px,#453882 10.5px,#46317e 11.5px,#433c84 12.5px,#37598c 13.5px,#29af7f 14.5px,#2cb17e 15.5px,#1f9f88 16.5px,#26838e 17.5px,#27808e 18.5px,#228b8d 19.5px,#297a8e 20.5px,#2a798e 21.5px,#34608d 23.5px,#404788 24.5px,#414286 25.5px,#453580 26.5px,#470f62 28.5px,#440255 33.5px,#440154 144.5px)"></i><i style="top:90px;background:linear-gradient(90deg,#481668 0.5px,#471265 1.5px,#450457 2.5px,#481b6d 3.5px,#460a5d 4.5px,#450558 5.5px,#482071 6.5px,#481d6f 7.5px,#470d60 8.5px,#453882 10.5px,#46317e 11.5px,#433c84 12.5px,#37598c 13.5px,#2ab07f 14.5px,#2cb17e 15.5px,#1f9f88 16.5px,#26838e 17.5px,#277f8e 18.5px,#238a8d 19.5px,#29798e 20.5px,#2a788e 21.5px,#355f8d 23.5px,#404588 24.5px,#423f85 25.5px,#46317e 26.5px,#470d60 28.5px,#440255 33.5px,#440154 144.5px)"></i><i style="top:92px;background:linear-gradient(90deg,#481668 0.5px,#471265 1.5px,#450457 2.5px,#481b6d 3.5px,#460a5d 4.5px,#450558 5.5px,#482071 6.5px,#481d6f 7.5px,#470d60 8.5px,#453882 10.5px,#46317e 11.5px,#433c84 12.5px,#37598c 13.5px,#2ab07f 14.5px,#2db27d 15.5px,#1f9f88 16.5px,#26838e 17.5px,#277f8e 18.5px,#238a8d 19.5px,#2a788e 20.5px,#2a778e 21.5px,#365d8d 23.5px,#414387 24.5px,#433c84 25.5px,#472d7c 26.5px,#471365 27.5px,#450357 31.5px,#440154 144.5px)"></i><i style="top:94px;background:linear-gradient(90deg,#481668 0.5px,#471265 1.5px,#450457 2.5px,#481b6d 3.5px,#460a5d 4.5px,#450558 5.5px,#482071 6.5px,#481d6f 7.5px,#470d60 8.5px,#453882 10.5px,#46317e 11.5px,#433c84 12.5px,#37598c 13.5px,#2bb17e 14.5px,#2db27d 15.5px,#1f9f88 16.5px,#26838e 17.5px,#277f8e 18.5px,#23898d 19.5px,#2a788e 20.5px,#2b768e 21.5px,#365b8d 23.5px,#424186 24.5px,#443983 25.5px,#482979 26.5px,#471163 27.5px,#450356 31.5px,#440154 144.5px)"></i><i style="top:96px;background:linear-gradient(90deg,#481668 0.5px,#471265 1.5px,#450457 2.5px,#481b6d 3.5px,#460a5d 4.5px,#450558 5.5px,#482071 6.5px,#481d6f 7.5px,#470d60 8.5px,#453882 10.5px,#46317e 11.5px,#433c84 12.5px,#37598c 13.5px,#2cb17e 14.5px,#2eb37d 15.5px,#1f9f88 16.5px,#26838e 17.5px,#277f8e 18.5px,#23898e 19.5px,#2a778e 20.5px,#2b758e 21.5px,#37598c 23.5px,#433f85 24.5px,#453681 25.5px,#470f62 27.5px,#450356 31.5px,#440154 144.5px)"></i><i style="top:98px;background:linear-gradient(90deg,#481668 0.5px,#471265 1.5px,#450457 2.5px,#481b6d 3.5px,#460a5d 4.5px,#450558 5.5px,#482071 6.5px,#481d6f 7.5px,#470d60 8.5px,#453882 10.5px,#46317e 11.5px,#433c84 12.5px,#37598c 13.5px,#2cb27e 14.5px,#2eb37c 15.5px,#1f9f88 16.5px,#26838e 17.5px,#277f8e 18.5px,#23888e 19.5px,#2a768e 20.5px,#2c738e 21.5px,#38578c 23.5px,#433c84 24.5px,#46327f 25.5px,#470d60 27.5px,#440255 32.5px,#440154 144.5px)"></i><i style="top:100px;background:linear-gradient(90deg,#481668 0.5px,#471265 1.5px,#450457 2.5px,#481b6d 3.5px,#460a5d 4.5px,#450558 5.5px,#482071 6.5px,#481d6f 7.5px,#470d60 8.5px,#453882 10.5px,#46317e 11.5px,#433c84 12.5px,#37598c 13.5px,#2db27d 14.5px,#2fb47c 15.5px,#1f9f88 16.5px,#26838e 17.5px,#277f8e 18.5px,#24888e 19.5px,#2b768e 20.5px,#2c728e 21.5px,#3a548c 23.5px,#443983 24.5px,#472e7c 25.5px,#471265 26.5px,#450356 30.5px,#440154 144.5px)"></i><i style="top:102px;background:linear-gradient(90deg,#481668 0.5px,#471265 1.5px,#450457 2.5px,#481b6d 3.5px,#460a5d 4.5px,#450558 5.5px,#482071 6.5px,#481d6f 7.5px,#470d60 8.5px,#453882 10.5px,#46317e 11.5px,#433c84 12.5px,#37598c 13.5px,#2eb37d 14.5px,#30b47c 15.5px,#1f9f88 16.5px,#26828e 17.5px,#277e8e 18.5px,#24878e 19.5px,#2b758e 20.5px,#2d718e 21.5px,#3b528b 23.5px,#453681 24.5px,#482978 25.5px,#471063 26.5px,#450356 30.5px,#440154 144.5px)"></i><i style="top:104px;background:linear-gradient(90deg,#481668 0.5px,#471265 1.5px,#450457 2.5px,#481b6d 3.5px,#460a5d 4.5px,#450558 5.5px,#482071 6.5px,#481d6f 7.5px,#470d60 8.5px,#453882 10.5px,#46317e 11.5px,#433c84 12.5px,#37598c 13.5px,#2fb37c 14.5px,#31b57b 15.5px,#1f9f88 16.5px,#26828e 17.5px,#277e8e 18.5px,#24868e 19.5px,#2c748e 20.5px,#2d6f8e 21.5px,#3c4f8a 23.5px,#46327f 24.5px,#482374 25.5px,#470e61 26.5px,#440256 30.5px,#440154 144.5px)"></i><i style="top:106px;background:linear-gradient(90deg,#481668 0.5px,#471265 1.5px,#450457 2.5px,#481b6d 3.5px,#460a5d 4.5px,#450558 5.5px,#482071 6.5px,#481d6f 7.5px,#470d60 8.5px,#453882 10.5px,#46317e 11.5px,#433c84 12.5px,#37598c 13.5px,#30b47b 14.5px,#32b57b 15.5px,#1f9f88 16.5px,#26828e 17.5px,#287e8e 18.5px,#24858e 19.5px,#2c728e 20.5px,#2e6d8e 21.5px,#3e4b8a 23.5px,#472e7c 24.5px,#460c5f 26.5px,#440255 31.5px,#440154 144.5px)"></i><i style="top:108px;background:linear-gradient(90deg,#481668 0.5px,#471265 1.5px,#450457 2.5px,#481b6d 3.5px,#460a5d 4.5px,#450558 5.5px,#482071 6.5px,#481d6f 7.5px,#470d60 8.5px,#453882 10.5px,#46317e 11.5px,#433c84 12.5px,#37598c 13.5px,#31b57b 14.5px,#32b67a 15.5px,#1f9f88 16.5px,#26828e 17.5px,#287d8e 18.5px,#25858e 19.5px,#2d718e 20.5px,#2f6b8e 21.5px,#3f4788 23.5px,#482979 24.5px,#471164 25.5px,#450457 28.5px,#440154 144.5px)"></i><i style="top:110px;background:linear-gradient(90deg,#481668 0.5px,#471265 1.5px,#450457 2.5px,#481b6d 3.5px,#460a5d 4.5px,#450558 5.5px,#482071 6.5px,#481d6f 7.5px,#470d60 8.5px,#453882 10.5px,#46317e 11.5px,#433c84 12.5px,#37598c 13.5px,#32b67a 14.5px,#33b679 15.5px,#1f9e88 16.5px,#26828e 17.5px,#287d8e 18.5px,#25838e 19.5px,#2d708e 20.5px,#30698e 21.5px,#414387 23.5px,#482475 24.5px,#470f62 25.5px,#440255 29.5px,#440154 144.5px)"></i><i style="top:112px;background:linear-gradient(90deg,#481668 0.5px,#471265 1.5px,#450457 2.5px,#481b6d 3.5px,#460a5d 4.5px,#450558 5.5px,#482071 6.5px,#481d6f 7.5px,#470d60 8.5px,#453882 10.5px,#46317e 11.5px,#433c84 12.5px,#37598c 13.5px,#34b779 14.5px,#35b779 15.5px,#1f9e89 16.5px,#26828e 17.5px,#287c8e 18.5px,#26828e 19.5px,#2e6e8e 20.5px,#31668e 21.5px,#433e85 23.5px,#481e70 24.5px,#470c5f 25.5px,#440255 30.5px,#440154 144.5px)"></i><i style="top:114px;background:linear-gradient(90deg,#481668 0.5px,#471265 1.5px,#450457 2.5px,#481b6d 3.5px,#460a5d 4.5px,#450558 5.5px,#482071 6.5px,#481d6f 7.5px,#470d60 8.5px,#453882 10.5px,#46317e 11.5px,#433c84 12.5px,#37598c 13.5px,#35b778 14.5px,#36b878 15.5px,#1f9e89 16.5px,#26828e 17.5px,#287c8e 18.5px,#26818e 19.5px,#2f6c8e 20.5px,#33648d 21.5px,#453882 23.5px,#471265 24.5px,#450357 27.5px,#440154 144.5px)"></i><i style="top:116px;background:linear-gradient(90deg,#481568 0.5px,#471264 1.5px,#450457 2.5px,#481a6c 3.5px,#460a5d 4.5px,#450558 5.5px,#481f71 6.5px,#481c6e 7.5px,#470d60 8.5px,#453882 10.5px,#46317e 11.5px,#433c84 12.5px,#37598c 13.5px,#37b877 14.5px,#37b878 15.5px,#1f9e89 16.5px,#26828e 17.5px,#287b8e 18.5px,#277f8e 19.5px,#306a8e 20.5px,#34608d 21.5px,#46317e 23.5px,#470f62 24.5px,#440255 28.5px,#440154 144.5px)"></i><i style="top:118px;background:linear-gradient(90deg,#481467 0.5px,#471163 1.5px,#450457 2.5px,#48196b 3.5px,#46095d 4.5px,#450558 5.5px,#481e70 6.5px,#481b6d 7.5px,#470d60 8.5px,#453681 10.5px,#46307e 11.5px,#433c84 12.5px,#37598c 13.5px,#39ba76 14.5px,#38b977 15.5px,#1f9e89 16.5px,#26818e 17.5px,#297a8e 18.5px,#287e8e 19.5px,#31688e 20.5px,#365c8d 21.5px,#414287 22.5px,#482978 23.5px,#460c5f 24.5px,#440255 28.5px,#440154 144.5px)"></i><i style="top:120px;background:linear-gradient(90deg,#471365 0.5px,#471062 1.5px,#450357 2.5px,#481769 3.5px,#46095c 4.5px,#450558 5.5px,#481c6e 6.5px,#481a6c 7.5px,#470d60 8.5px,#463480 10.5px,#47307d 11.5px,#433c84 12.5px,#37598c 13.5px,#3cbb75 14.5px,#3aba76 15.5px,#1f9e89 16.5px,#26818e 17.5px,#297a8e 18.5px,#287c8e 19.5px,#32658e 20.5px,#38578c 21.5px,#443b84 22.5px,#471264 23.5px,#450356 26.5px,#440154 144.5px)"></i><i style="top:122px;background:linear-gradient(90deg,#471164 0.5px,#470e61 1.5px,#450357 2.5px,#481568 3.5px,#46085c 4.5px,#450558 5.5px,#481b6d 6.5px,#48196b 7.5px,#470d60 8.5px,#46327f 10.5px,#472f7d 11.5px,#433c84 12.5px,#37598c 13.5px,#3ebc74 14.5px,#3bbb75 15.5px,#1f9e89 16.5px,#26818e 17.5px,#2a788e 18.5px,#29798e 19.5px,#3b528b 21.5px,#46337f 22.5px,#470e61 23.5px,#440256 26.5px,#440154 144.5px)"></i><i style="top:124px;background:linear-gradient(90deg,#471063 0.5px,#450357 2.5px,#481466 3.5px,#46085b 4.5px,#450558 5.5px,#48196b 6.5px,#48186a 7.5px,#470e60 8.5px,#46317e 10.5px,#472f7d 11.5px,#433c84 12.5px,#37598c 13.5px,#41be72 14.5px,#3dbb74 15.5px,#1f9e89 16.5px,#27808e 17.5px,#2a778e 18.5px,#2b768e 19.5px,#3e4a89 21.5px,#482978 22.5px,#460a5e 23.5px,#440154 28.5px,#440154 144.5px)"></i><i style="top:126px;background:linear-gradient(90deg,#470f61 0.5px,#450356 2.5px,#471265 3.5px,#46075b 4.5px,#450558 5.5px,#48186a 6.5px,#470e61 8.5px,#472f7d 10.5px,#472f7c 11.5px,#433c84 12.5px,#37598c 13.5px,#44bf70 14.5px,#3ebc74 15.5px,#1e9d89 16.5px,#277f8e 17.5px,#2c728e 19.5px,#424086 21.5px,#470f62 22.5px,#440255 25.5px,#440154 144.5px)"></i><i style="top:128px;background:linear-gradient(90deg,#470d60 0.5px,#450356 2.5px,#471163 3.5px,#450558 5.5px,#481668 6.5px,#470e61 8.5px,#472d7b 10.5px,#472e7c 11.5px,#433c84 12.5px,#37598c 13.5px,#48c16e 14.5px,#3fbd73 15.5px,#1e9b8a 16.5px,#287c8e 17.5px,#31678e 19.5px,#404688 20.5px,#471164 21.5px,#450357 23.5px,#440154 144.5px)"></i><i style="top:130px;background:linear-gradient(90deg,#460c5f 0.5px,#450356 2.5px,#470f62 3.5px,#450558 5.5px,#481467 6.5px,#470e61 8.5px,#472b7a 10.5px,#472e7c 11.5px,#433c84 12.5px,#375a8c 13.5px,#4cc36c 14.5px,#40bd72 15.5px,#1f998a 16.5px,#2a788e 17.5px,#39568c 19.5px,#472a79 20.5px,#46075b 21.5px,#440154 27.5px,#440154 144.5px)"></i><i style="top:132px;background:linear-gradient(90deg,#460a5d 0.5px,#450356 2.5px,#470d60 3.5px,#450558 5.5px,#471365 6.5px,#470e61 8.5px,#482979 10.5px,#472d7c 11.5px,#433c84 12.5px,#375a8c 13.5px,#51c469 14.5px,#41bd72 15.5px,#1f958b 16.5px,#2d718e 17.5px,#443983 19.5px,#46085b 20.5px,#440154 25.5px,#440154 144.5px)"></i><i style="top:134px;background:linear-gradient(90deg,#46085c 0.5px,#450356 2.5px,#460b5e 3.5px,#450458 5.5px,#471063 6.5px,#470c5f 8.5px,#482475 10.5px,#482777 11.5px,#463480 12.5px,#3c508b 13.5px,#57c666 14.5px,#41bd72 15.5px,#218f8d 16.5px,#31668e 17.5px,#424186 18.5px,#46095c 19.5px,#440154 22.5px,#440154 144.5px)"></i><i style="top:136px;background:linear-gradient(90deg,#46075a 0.5px,#440255 2.5px,#46095c 3.5px,#450457 5.5px,#470d60 6.5px,#460a5d 8.5px,#481e6f 10.5px,#472b7a 12.5px,#414487 13.5px,#5dc962 14.5px,#3fbc73 15.5px,#25858e 16.5px,#3b518b 17.5px,#460a5d 18.5px,#440154 20.5px,#440154 144.5px)"></i><i style="top:138px;background:linear-gradient(90deg,#450559 0.5px,#440255 2.5px,#46075a 3.5px,#450356 5.5px,#460a5d 7.5px,#46075b 8.5px,#482273 12.5px,#453882 13.5px,#64cb5e 14.5px,#39ba76 15.5px,#2c728e 16.5px,#470c5f 17.5px,#440255 18.5px,#440154 144.5px)"></i><i style="top:140px;background:linear-gradient(90deg,#450457 0.5px,#440256 5.5px,#460a5e 9.5px,#48186a 12.5px,#472b7a 13.5px,#6cce59 14.5px,#2db27d 15.5px,#481366 16.5px,#440255 17.5px,#440154 144.5px)"></i><i style="top:142px;background:linear-gradient(90deg,#450356 0.5px,#46085b 9.5px,#481567 12.5px,#482777 13.5px,#76d054 14.5px,#218f8d 15.5px,#440255 16.5px,#440154 144.5px)"></i><i style="top:144px;background:linear-gradient(90deg,#440254 0.5px,#460a5e 10.5px,#481567 12.5px,#482777 13.5px,#7fd34e 14.5px,#3b528b 15.5px,#440255 16.5px,#440154 144.5px)"></i></div>
<div class="hm" style="left:360.8px;top:218.3px;width:144.5px;height:145.3px"><i style="top:0px;background:linear-gradient(90deg,#450558 0.5px,#440154 1.5px,#460a5d 2.5px,#440154 3.5px,#450457 7.5px,#471164 8.5px,#481668 10.5px,#482273 11.5px,#414387 12.5px,#287c8e 13.5px,#25848e 15.5px,#2c738e 18.5px,#297b8e 19.5px,#218e8d 20.5px,#2d6f8e 23.5px,#2c728e 24.5px,#287c8e 25.5px,#2e6f8e 27.5px,#404688 29.5px,#414286 30.5px,#470c5f 31.5px,#470c5f 34.5px,#481668 35.5px,#453681 36.5px,#440154 37.5px,#440154 144.5px)"></i><i style="top:2px;background:linear-gradient(90deg,#450558 0.5px,#440154 1.5px,#460a5d 2.5px,#440154 3.5px,#450457 7.5px,#471164 8.5px,#481668 10.5px,#482273 11.5px,#414387 12.5px,#287d8e 13.5px,#24868e 16.5px,#25858e 17.5px,#2f6c8e 19.5px,#2c738e 20.5px,#238a8d 21.5px,#32668e 22.5px,#3d4d8a 23.5px,#32658e 24.5px,#2e6e8e 25.5px,#2e6d8e 26.5px,#32648e 27.5px,#33638d 28.5px,#414387 29.5px,#470c5f 30.5px,#481d6f 31.5px,#470c5f 32.5px,#470c5f 34.5px,#463480 35.5px,#375a8c 37.5px,#440154 38.5px,#440154 144.5px)"></i><i style="top:4px;background:linear-gradient(90deg,#450558 0.5px,#440154 1.5px,#460a5d 2.5px,#440154 3.5px,#450457 7.5px,#471164 8.5px,#481668 10.5px,#482273 11.5px,#414387 12.5px,#23888e 13.5px,#287c8e 18.5px,#26828e 19.5px,#29798e 20.5px,#34608d 21.5px,#306a8e 22.5px,#306a8e 23.5px,#375b8d 24.5px,#39578c 25.5px,#34608d 26.5px,#2a778e 27.5px,#365c8d 28.5px,#472f7d 29.5px,#481668 30.5px,#471264 31.5px,#46337f 32.5px,#471365 33.5px,#470c5f 34.5px,#3f4788 35.5px,#287d8e 36.5px,#20918c 37.5px,#440154 38.5px,#440154 144.5px)"></i><i style="top:6px;background:linear-gradient(90deg,#450558 0.5px,#440154 1.5px,#460a5d 2.5px,#440154 3.5px,#450457 7.5px,#471164 8.5px,#481668 10.5px,#482273 11.5px,#414387 12.5px,#228d8d 13.5px,#25848e 16.5px,#297b8e 18.5px,#24868e 20.5px,#2b748e 21.5px,#2b758e 22.5px,#277f8e 23.5px,#355f8d 24.5px,#3d4e8a 25.5px,#33628d 26.5px,#414487 28.5px,#433d84 29.5px,#48196c 31.5px,#482071 32.5px,#433d84 33.5px,#33638d 35.5px,#238a8d 36.5px,#440154 37.5px,#440154 144.5px)"></i><i style="top:8px;background:linear-gradient(90deg,#450558 0.5px,#440154 1.5px,#460a5d 2.5px,#440154 3.5px,#450457 7.5px,#471164 8.5px,#481668 10.5px,#482273 11.5px,#414387 12.5px,#20948c 13.5px,#25848e 14.5px,#218f8d 17.5px,#25838e 18.5px,#2d6f8e 19.5px,#29798e 20.5px,#1e9d89 21.5px,#21918c 22.5px,#32648e 23.5px,#38588c 24.5px,#34608d 25.5px,#3d4e8a 26.5px,#404588 28.5px,#46337f 29.5px,#423f85 31.5px,#423f85 32.5px,#33638d 33.5px,#287c8e 35.5px,#2c738e 36.5px,#440154 37.5px,#440154 144.5px)"></i><i style="top:10px;background:linear-gradient(90deg,#450558 0.5px,#440154 1.5px,#460a5d 2.5px,#440154 3.5px,#450457 7.5px,#471164 8.5px,#481668 10.5px,#482273 11.5px,#414387 12.5px,#23898e 13.5px,#21918c 15.5px,#297a8e 19.5px,#23888e 20.5px,#25858e 21.5px,#38578c 23.5px,#34618d 24.5px,#33628d 25.5px,#375a8c 26.5px,#404688 27.5px,#404588 28.5px,#38588c 29.5px,#424186 30.5px,#414287 31.5px,#2c738e 32.5px,#26818e 34.5px,#34608d 35.5px,#440154 36.5px,#440154 144.5px)"></i><i style="top:12px;background:linear-gradient(90deg,#450558 0.5px,#440154 1.5px,#460a5d 2.5px,#440154 3.5px,#450457 7.5px,#471164 8.5px,#481668 10.5px,#482273 11.5px,#414387 12.5px,#20918c 13.5px,#1f9e89 14.5px,#25848e 16.5px,#26818e 17.5px,#228d8d 18.5px,#21908d 19.5px,#38588c 21.5px,#404688 22.5px,#2b748e 24.5px,#27808e 25.5px,#32658e 26.5px,#424086 27.5px,#433f85 28.5px,#31678e 30.5px,#30698e 31.5px,#440154 32.5px,#2a778e 33.5px,#365c8d 34.5px,#440154 35.5px,#440154 144.5px)"></i><i style="top:14px;background:linear-gradient(90deg,#450558 0.5px,#440154 1.5px,#460a5d 2.5px,#440154 3.5px,#450457 7.5px,#471164 8.5px,#481668 10.5px,#482273 11.5px,#414387 12.5px,#1f9a8a 13.5px,#24878e 15.5px,#20928c 17.5px,#228c8d 18.5px,#375a8c 20.5px,#3f4989 21.5px,#375b8d 22.5px,#20918c 24.5px,#3b518b 27.5px,#47307d 28.5px,#3f4889 29.5px,#277e8e 30.5px,#238a8d 31.5px,#440154 32.5px,#440154 144.5px)"></i><i style="top:16px;background:linear-gradient(90deg,#450558 0.5px,#440154 1.5px,#460a5d 2.5px,#440154 3.5px,#450457 7.5px,#471164 8.5px,#481668 10.5px,#482273 11.5px,#414387 12.5px,#20928c 13.5px,#25848e 15.5px,#21908c 17.5px,#39568c 19.5px,#31678e 21.5px,#1f9a8a 23.5px,#355d8d 25.5px,#34608d 26.5px,#2e6e8e 27.5px,#33628d 29.5px,#30688e 30.5px,#440154 31.5px,#440154 144.5px)"></i><i style="top:18px;background:linear-gradient(90deg,#450558 0.5px,#440154 1.5px,#460a5d 2.5px,#440154 3.5px,#450457 7.5px,#471164 8.5px,#481668 10.5px,#482273 11.5px,#414387 12.5px,#20948c 13.5px,#24868e 14.5px,#24868e 15.5px,#2e6d8e 18.5px,#355d8d 19.5px,#34608d 20.5px,#1f9d89 21.5px,#21a785 22.5px,#2b748e 23.5px,#39558c 24.5px,#38588c 25.5px,#26808e 27.5px,#26828e 28.5px,#33638d 29.5px,#39558c 30.5px,#440154 31.5px,#440154 144.5px)"></i><i style="top:20px;background:linear-gradient(90deg,#450558 0.5px,#440154 1.5px,#460a5d 2.5px,#440154 3.5px,#450457 7.5px,#471164 8.5px,#481668 10.5px,#482273 11.5px,#414387 12.5px,#20938c 13.5px,#20918c 15.5px,#26818e 16.5px,#32648e 17.5px,#30698e 18.5px,#228b8d 20.5px,#21908d 21.5px,#277f8e 22.5px,#365d8d 23.5px,#365d8d 24.5px,#2f6b8e 25.5px,#375b8d 28.5px,#414287 29.5px,#463380 30.5px,#46337f 31.5px,#440154 32.5px,#440154 33.5px,#481a6c 34.5px,#440154 35.5px,#440154 144.5px)"></i><i style="top:22px;background:linear-gradient(90deg,#450558 0.5px,#440154 1.5px,#460a5d 2.5px,#440154 3.5px,#450457 7.5px,#471164 8.5px,#481668 10.5px,#482273 11.5px,#414387 12.5px,#21908c 13.5px,#1f9f88 14.5px,#277e8e 16.5px,#277f8e 18.5px,#20918c 19.5px,#218e8d 20.5px,#30698e 21.5px,#37598c 22.5px,#32648e 23.5px,#38578c 25.5px,#404588 26.5px,#482172 27.5px,#424086 29.5px,#481466 30.5px,#453681 31.5px,#440154 32.5px,#440154 144.5px)"></i><i style="top:24px;background:linear-gradient(90deg,#450558 0.5px,#440154 1.5px,#460a5d 2.5px,#440154 3.5px,#450457 7.5px,#471164 8.5px,#481668 10.5px,#482273 11.5px,#414387 12.5px,#238b8d 13.5px,#218e8d 14.5px,#287c8e 17.5px,#218e8d 19.5px,#277f8e 20.5px,#31668e 21.5px,#32648e 22.5px,#37598c 23.5px,#47307d 24.5px,#481b6d 25.5px,#48196c 26.5px,#482676 27.5px,#472b7a 29.5px,#424186 30.5px,#440154 31.5px,#440154 144.5px)"></i><i style="top:26px;background:linear-gradient(90deg,#450558 0.5px,#440154 1.5px,#460a5d 2.5px,#440154 3.5px,#450457 7.5px,#471164 8.5px,#481668 10.5px,#482273 11.5px,#414387 12.5px,#27808e 13.5px,#25848e 15.5px,#287d8e 16.5px,#306a8e 17.5px,#24878e 19.5px,#287d8e 20.5px,#287d8e 21.5px,#306a8e 22.5px,#433e85 23.5px,#481366 24.5px,#470c5f 25.5px,#48196b 27.5px,#471062 28.5px,#46317e 29.5px,#440154 30.5px,#440154 144.5px)"></i><i style="top:28px;background:linear-gradient(90deg,#450558 0.5px,#440154 1.5px,#460a5d 2.5px,#440154 3.5px,#450457 7.5px,#471164 8.5px,#481668 10.5px,#482273 11.5px,#414387 12.5px,#297b8e 13.5px,#25848e 15.5px,#2a788e 18.5px,#297b8e 19.5px,#23898d 20.5px,#29798e 21.5px,#3c4e8a 23.5px,#472f7d 24.5px,#48176a 25.5px,#470c5f 26.5px,#470c5f 28.5px,#3b528b 29.5px,#440154 30.5px,#440154 144.5px)"></i><i style="top:30px;background:linear-gradient(90deg,#450558 0.5px,#440154 1.5px,#460a5d 2.5px,#440154 3.5px,#450457 7.5px,#471164 8.5px,#481668 10.5px,#482273 11.5px,#414387 12.5px,#26818e 13.5px,#23888e 16.5px,#20938c 17.5px,#25848e 18.5px,#26818e 20.5px,#34608d 22.5px,#355f8d 23.5px,#39558c 24.5px,#482676 25.5px,#470c5f 26.5px,#470c5f 27.5px,#472d7b 28.5px,#440154 29.5px,#440154 144.5px)"></i><i style="top:32px;background:linear-gradient(90deg,#450558 0.5px,#440154 1.5px,#460a5d 2.5px,#440154 3.5px,#450457 7.5px,#471164 8.5px,#481668 10.5px,#482273 11.5px,#414387 12.5px,#218e8d 13.5px,#25848e 14.5px,#24888e 17.5px,#20928c 18.5px,#26818e 19.5px,#29798e 20.5px,#287e8e 21.5px,#32648e 22.5px,#38588c 23.5px,#365c8d 24.5px,#46317e 25.5px,#470c5f 26.5px,#472e7c 27.5px,#440154 28.5px,#440154 144.5px)"></i><i style="top:34px;background:linear-gradient(90deg,#450558 0.5px,#440154 1.5px,#460a5d 2.5px,#440154 3.5px,#450457 7.5px,#471164 8.5px,#481668 10.5px,#482273 11.5px,#414387 12.5px,#26808e 13.5px,#228c8d 14.5px,#25838e 16.5px,#277e8e 18.5px,#23888e 20.5px,#287c8e 22.5px,#375a8c 23.5px,#443982 24.5px,#3f4889 25.5px,#3f4788 27.5px,#440154 28.5px,#440154 29.5px,#3e4b89 30.5px,#472c7a 31.5px,#440154 32.5px,#440154 144.5px)"></i><i style="top:36px;background:linear-gradient(90deg,#450558 0.5px,#440154 1.5px,#460a5d 2.5px,#440154 3.5px,#450457 7.5px,#471164 8.5px,#481668 10.5px,#482273 11.5px,#414387 12.5px,#2a788e 13.5px,#21918c 15.5px,#228c8d 16.5px,#297b8e 17.5px,#2a778e 18.5px,#21908c 19.5px,#1f988b 20.5px,#30688e 23.5px,#3e4a89 24.5px,#463480 25.5px,#30698e 27.5px,#33638d 28.5px,#404588 29.5px,#472e7c 31.5px,#440154 32.5px,#440154 144.5px)"></i><i style="top:38px;background:linear-gradient(90deg,#450558 0.5px,#440154 1.5px,#460a5d 2.5px,#440154 3.5px,#450457 7.5px,#471164 8.5px,#481668 10.5px,#482273 11.5px,#414387 12.5px,#297b8e 13.5px,#228d8d 15.5px,#238b8d 16.5px,#297a8e 17.5px,#2a778e 18.5px,#1e9c89 20.5px,#1f948c 21.5px,#297a8e 22.5px,#306a8e 23.5px,#443b84 25.5px,#463480 26.5px,#453781 27.5px,#482575 28.5px,#470c5f 29.5px,#470c5f 30.5px,#440154 31.5px,#440154 144.5px)"></i><i style="top:40px;background:linear-gradient(90deg,#450558 0.5px,#440154 1.5px,#460a5d 2.5px,#440154 3.5px,#450457 7.5px,#471164 8.5px,#481668 10.5px,#482273 11.5px,#414387 12.5px,#218f8d 13.5px,#26828e 17.5px,#297a8e 19.5px,#1e9c89 21.5px,#25838e 22.5px,#365c8d 23.5px,#32668e 24.5px,#355f8d 25.5px,#482777 26.5px,#470c5f 27.5px,#470c5f 30.5px,#440154 31.5px,#440154 144.5px)"></i><i style="top:42px;background:linear-gradient(90deg,#450558 0.5px,#440154 1.5px,#460a5d 2.5px,#440154 3.5px,#450457 7.5px,#471164 8.5px,#481668 10.5px,#482273 11.5px,#414387 12.5px,#1f978b 13.5px,#25858e 15.5px,#24878e 16.5px,#1f9a8a 17.5px,#2a768e 20.5px,#2b758e 21.5px,#24888e 23.5px,#297a8e 24.5px,#404688 26.5px,#471264 27.5px,#470c5f 30.5px,#440154 31.5px,#440154 144.5px)"></i><i style="top:44px;background:linear-gradient(90deg,#450558 0.5px,#440154 1.5px,#460a5d 2.5px,#440154 3.5px,#450457 7.5px,#471164 8.5px,#481668 10.5px,#482273 11.5px,#414387 12.5px,#24878e 13.5px,#25858e 14.5px,#1f978b 15.5px,#1e9b8a 16.5px,#218e8d 19.5px,#26818e 20.5px,#33638d 21.5px,#2b758e 22.5px,#20928c 23.5px,#404688 27.5px,#470c5f 28.5px,#470c5f 29.5px,#482878 30.5px,#440154 31.5px,#440154 144.5px)"></i><i style="top:46px;background:linear-gradient(90deg,#450558 0.5px,#440154 1.5px,#460a5d 2.5px,#440154 3.5px,#450457 7.5px,#471164 8.5px,#481668 10.5px,#482273 11.5px,#414387 12.5px,#277f8e 13.5px,#1e9b8a 15.5px,#1f998a 16.5px,#218e8d 17.5px,#218e8d 19.5px,#277f8e 20.5px,#238b8d 21.5px,#26818e 22.5px,#30698e 23.5px,#32648e 24.5px,#2f6a8e 25.5px,#297b8e 26.5px,#404788 27.5px,#470c5f 28.5px,#48186a 29.5px,#440154 30.5px,#440154 144.5px)"></i><i style="top:48px;background:linear-gradient(90deg,#450558 0.5px,#440154 1.5px,#460a5d 2.5px,#440154 3.5px,#450457 7.5px,#471164 8.5px,#481668 10.5px,#482273 11.5px,#414387 12.5px,#24888e 13.5px,#26828e 16.5px,#24868e 17.5px,#2c738e 19.5px,#1f978b 20.5px,#20a386 21.5px,#287d8e 22.5px,#3e4a89 23.5px,#433e85 24.5px,#345f8d 25.5px,#38598c 26.5px,#3f4989 27.5px,#404588 28.5px,#440154 29.5px,#440154 144.5px)"></i><i style="top:50px;background:linear-gradient(90deg,#450558 0.5px,#440154 1.5px,#460a5d 2.5px,#440154 3.5px,#450457 7.5px,#471164 8.5px,#481668 10.5px,#482273 11.5px,#414387 12.5px,#20918c 13.5px,#25848e 14.5px,#25848e 15.5px,#2f6b8e 17.5px,#2c738e 18.5px,#228b8d 19.5px,#20928c 20.5px,#228b8d 21.5px,#31678e 22.5px,#443b83 23.5px,#404688 24.5px,#404688 25.5px,#482a79 26.5px,#443c84 27.5px,#31678e 28.5px,#440154 29.5px,#440154 144.5px)"></i><i style="top:52px;background:linear-gradient(90deg,#450558 0.5px,#440154 1.5px,#460a5d 2.5px,#440154 3.5px,#450457 7.5px,#471164 8.5px,#481668 10.5px,#482273 11.5px,#414387 12.5px,#287e8e 13.5px,#25838e 15.5px,#2c738e 16.5px,#2e6d8e 17.5px,#21908c 18.5px,#1fa287 19.5px,#297a8e 20.5px,#3d4e8a 21.5px,#443b84 22.5px,#3f4989 23.5px,#414487 24.5px,#48196b 25.5px,#481b6d 26.5px,#3a538b 27.5px,#2e6e8e 28.5px,#440154 29.5px,#440154 144.5px)"></i><i style="top:54px;background:linear-gradient(90deg,#450558 0.5px,#440154 1.5px,#460a5d 2.5px,#440154 3.5px,#450457 7.5px,#471164 8.5px,#481668 10.5px,#482273 11.5px,#414387 12.5px,#2d718e 13.5px,#25838e 14.5px,#27808e 16.5px,#1e9d89 17.5px,#1e9c89 18.5px,#21908d 19.5px,#2b748e 20.5px,#47307d 21.5px,#453681 22.5px,#39558c 23.5px,#472e7c 24.5px,#481c6e 25.5px,#404688 26.5px,#39568c 27.5px,#472c7b 28.5px,#440154 29.5px,#440154 144.5px)"></i><i style="top:56px;background:linear-gradient(90deg,#450558 0.5px,#440154 1.5px,#460a5d 2.5px,#440154 3.5px,#450457 7.5px,#471164 8.5px,#481668 10.5px,#482273 11.5px,#414387 12.5px,#2c728e 13.5px,#25838e 14.5px,#24878e 15.5px,#29af7f 16.5px,#21a685 17.5px,#238b8d 18.5px,#2c728e 19.5px,#32648e 20.5px,#2c748e 21.5px,#30698e 22.5px,#404587 23.5px,#3c4e8a 24.5px,#32658e 25.5px,#3e4a89 26.5px,#471265 27.5px,#470d60 29.5px,#433e85 30.5px,#440154 31.5px,#440154 144.5px)"></i><i style="top:58px;background:linear-gradient(90deg,#450558 0.5px,#440154 1.5px,#460a5d 2.5px,#440154 3.5px,#450457 7.5px,#471164 8.5px,#481668 10.5px,#482273 11.5px,#414387 12.5px,#2a788e 13.5px,#24868e 14.5px,#21a585 15.5px,#1fa287 17.5px,#218f8d 18.5px,#2e6d8e 19.5px,#2a778e 20.5px,#228d8d 21.5px,#30688e 23.5px,#2a788e 24.5px,#297a8e 25.5px,#443c84 26.5px,#470c5f 27.5px,#472f7d 28.5px,#34608d 29.5px,#3d4e8a 30.5px,#440154 31.5px,#440154 144.5px)"></i><i style="top:60px;background:linear-gradient(90deg,#450558 0.5px,#440154 1.5px,#460a5d 2.5px,#440154 3.5px,#450457 7.5px,#471164 8.5px,#481668 10.5px,#482273 11.5px,#414387 12.5px,#25858e 13.5px,#23898e 15.5px,#21a586 16.5px,#2bb17e 17.5px,#1f9d89 18.5px,#218e8d 19.5px,#29798e 22.5px,#228c8d 23.5px,#2a778e 24.5px,#3b518b 25.5px,#3e4c8a 26.5px,#2f6c8e 28.5px,#2e6e8e 29.5px,#375a8c 30.5px,#433e85 31.5px,#440154 32.5px,#440154 144.5px)"></i><i style="top:62px;background:linear-gradient(90deg,#450558 0.5px,#440154 1.5px,#460a5d 2.5px,#440154 3.5px,#450457 7.5px,#471164 8.5px,#481668 10.5px,#482273 11.5px,#414387 12.5px,#26828e 13.5px,#228d8d 15.5px,#28ae80 16.5px,#23a884 18.5px,#1fa287 19.5px,#25848e 20.5px,#2b768e 21.5px,#24868e 22.5px,#2a798e 23.5px,#3e4b8a 24.5px,#481f71 25.5px,#345f8d 26.5px,#1f9e88 27.5px,#24868e 28.5px,#3a538b 29.5px,#3e4a89 31.5px,#440154 32.5px,#440154 144.5px)"></i><i style="top:64px;background:linear-gradient(90deg,#450558 0.5px,#440154 1.5px,#460a5d 2.5px,#440154 3.5px,#450457 7.5px,#471164 8.5px,#481668 10.5px,#482273 11.5px,#414387 12.5px,#287e8e 13.5px,#23898e 14.5px,#1fa088 15.5px,#1f9a8a 16.5px,#22a884 17.5px,#22a785 18.5px,#24888e 20.5px,#24888e 21.5px,#2a778e 22.5px,#414286 23.5px,#482979 24.5px,#37598c 25.5px,#2c728e 26.5px,#2e6f8e 27.5px,#404588 29.5px,#2e6e8e 31.5px,#440154 32.5px,#440154 144.5px)"></i><i style="top:66px;background:linear-gradient(90deg,#450558 0.5px,#440154 1.5px,#460a5d 2.5px,#440154 3.5px,#450457 7.5px,#471164 8.5px,#481668 10.5px,#482273 11.5px,#414387 12.5px,#20a386 13.5px,#24878e 15.5px,#20918c 16.5px,#1e9c89 20.5px,#26828e 21.5px,#424086 22.5px,#46327f 23.5px,#31678e 24.5px,#26818e 25.5px,#375b8d 26.5px,#482575 27.5px,#472c7b 28.5px,#38578c 29.5px,#2c718e 30.5px,#3e4b89 32.5px,#440154 33.5px,#440154 144.5px)"></i><i style="top:68px;background:linear-gradient(90deg,#450558 0.5px,#440154 1.5px,#460a5d 2.5px,#440154 3.5px,#450457 7.5px,#471164 8.5px,#481668 10.5px,#482273 11.5px,#414487 12.5px,#20a387 13.5px,#24878e 15.5px,#26828e 16.5px,#218f8d 20.5px,#3b528b 22.5px,#2d718e 24.5px,#433d84 26.5px,#453781 27.5px,#355e8d 28.5px,#2c738e 29.5px,#3d4c8a 30.5px,#46317e 31.5px,#481567 32.5px,#440154 33.5px,#440154 144.5px)"></i><i style="top:70px;background:linear-gradient(90deg,#450558 0.5px,#440154 1.5px,#460a5d 2.5px,#440154 3.5px,#450457 7.5px,#471164 8.5px,#481668 10.5px,#482273 11.5px,#414487 12.5px,#23898d 13.5px,#228b8d 17.5px,#218e8d 18.5px,#277f8e 19.5px,#345f8d 20.5px,#2b758e 21.5px,#20938c 22.5px,#2f6b8e 23.5px,#443c84 24.5px,#3e4a89 26.5px,#2f6b8e 27.5px,#2d708e 28.5px,#365c8d 29.5px,#3a548c 30.5px,#481a6c 31.5px,#440154 32.5px,#440154 144.5px)"></i><i style="top:72px;background:linear-gradient(90deg,#450558 0.5px,#440154 1.5px,#460a5d 2.5px,#440154 3.5px,#450457 7.5px,#471164 8.5px,#481668 10.5px,#482273 11.5px,#414487 12.5px,#24868e 13.5px,#25858e 16.5px,#218f8d 17.5px,#20918c 18.5px,#29798e 19.5px,#2f6b8e 20.5px,#26818e 21.5px,#25848e 22.5px,#31668e 23.5px,#3b508b 24.5px,#414387 25.5px,#355e8d 26.5px,#30698e 27.5px,#2f6a8e 29.5px,#404688 30.5px,#440154 31.5px,#440154 144.5px)"></i><i style="top:74px;background:linear-gradient(90deg,#450558 0.5px,#440154 1.5px,#460a5d 2.5px,#440154 3.5px,#450457 7.5px,#471164 8.5px,#481668 10.5px,#482273 11.5px,#414487 12.5px,#26828e 13.5px,#24878e 15.5px,#24888e 19.5px,#20948c 20.5px,#2a778e 21.5px,#2c748e 22.5px,#25858e 23.5px,#3d4c8a 24.5px,#443c84 25.5px,#32658e 26.5px,#26818e 27.5px,#25858e 28.5px,#38588c 29.5px,#440154 30.5px,#440154 144.5px)"></i><i style="top:76px;background:linear-gradient(90deg,#450558 0.5px,#440154 1.5px,#460a5d 2.5px,#440154 3.5px,#450457 7.5px,#471164 8.5px,#481668 10.5px,#482273 11.5px,#414487 12.5px,#27808e 13.5px,#238a8d 16.5px,#25838e 17.5px,#1f9f88 19.5px,#2c728e 20.5px,#30698e 21.5px,#287c8e 22.5px,#2f6b8e 23.5px,#32658e 25.5px,#297a8e 26.5px,#1f978b 27.5px,#31668e 28.5px,#440154 29.5px,#440154 144.5px)"></i><i style="top:78px;background:linear-gradient(90deg,#450558 0.5px,#440154 1.5px,#460a5d 2.5px,#440154 3.5px,#450457 7.5px,#471164 8.5px,#481668 10.5px,#482273 11.5px,#414487 12.5px,#297b8e 13.5px,#24878e 14.5px,#23888e 15.5px,#20918c 16.5px,#22a884 17.5px,#20a486 18.5px,#297b8e 19.5px,#38578c 20.5px,#3f4989 21.5px,#3c4e8a 22.5px,#2a778e 23.5px,#1e9c8a 24.5px,#1f9f88 25.5px,#238a8d 26.5px,#404588 27.5px,#440154 28.5px,#440154 144.5px)"></i><i style="top:80px;background:linear-gradient(90deg,#450558 0.5px,#440154 1.5px,#460a5d 2.5px,#440154 3.5px,#450457 7.5px,#471164 8.5px,#481668 10.5px,#482273 11.5px,#414487 12.5px,#29798e 13.5px,#24888e 14.5px,#23898e 15.5px,#1f9f88 16.5px,#29af7f 17.5px,#26828e 18.5px,#3b518b 19.5px,#404788 21.5px,#37598c 22.5px,#26818e 23.5px,#20a386 24.5px,#25ab82 25.5px,#2f6c8e 26.5px,#470c5f 27.5px,#440154 28.5px,#440154 144.5px)"></i><i style="top:82px;background:linear-gradient(90deg,#450558 0.5px,#440154 1.5px,#460a5d 2.5px,#440154 3.5px,#450457 7.5px,#471164 8.5px,#481668 10.5px,#482273 11.5px,#414487 12.5px,#26818e 13.5px,#23898d 15.5px,#1f9f88 16.5px,#23898d 17.5px,#34618d 18.5px,#3c4e8a 19.5px,#30698e 20.5px,#2b768e 21.5px,#34618d 22.5px,#355e8d 23.5px,#27808e 24.5px,#228c8d 25.5px,#287c8e 26.5px,#440154 27.5px,#440154 144.5px)"></i><i style="top:84px;background:linear-gradient(90deg,#450558 0.5px,#440154 1.5px,#460a5d 2.5px,#440154 3.5px,#450457 7.5px,#471164 8.5px,#481668 10.5px,#482273 11.5px,#404487 12.5px,#25838e 13.5px,#238a8d 15.5px,#25858e 16.5px,#2c728e 17.5px,#2c738e 18.5px,#287d8e 19.5px,#2b758e 21.5px,#3a538b 22.5px,#423f85 23.5px,#31678e 24.5px,#1f958c 25.5px,#228c8d 26.5px,#440154 27.5px,#440154 144.5px)"></i><i style="top:86px;background:linear-gradient(90deg,#450558 0.5px,#440154 1.5px,#460a5d 2.5px,#440154 3.5px,#450457 7.5px,#471164 8.5px,#481668 10.5px,#482273 11.5px,#404487 12.5px,#25848e 13.5px,#238b8d 15.5px,#26828e 16.5px,#2d708e 17.5px,#2a778e 18.5px,#23898e 19.5px,#2b768e 20.5px,#3d4d8a 21.5px,#365c8d 22.5px,#287b8e 23.5px,#287c8e 24.5px,#38598c 25.5px,#440154 26.5px,#440154 144.5px)"></i><i style="top:88px;background:linear-gradient(90deg,#450558 0.5px,#440154 1.5px,#460a5d 2.5px,#440154 3.5px,#450457 7.5px,#471164 8.5px,#481668 10.5px,#482273 11.5px,#404587 12.5px,#238a8d 13.5px,#238a8d 15.5px,#30688e 18.5px,#34618d 20.5px,#2e6e8e 21.5px,#1f988b 22.5px,#1e9d89 23.5px,#38578c 24.5px,#471063 25.5px,#440154 27.5px,#440154 144.5px)"></i><i style="top:90px;background:linear-gradient(90deg,#450558 0.5px,#440154 1.5px,#460a5d 2.5px,#440154 3.5px,#450457 7.5px,#471164 8.5px,#481668 10.5px,#482273 11.5px,#404588 12.5px,#24868e 13.5px,#23898d 15.5px,#297a8e 16.5px,#287d8e 17.5px,#2c728e 18.5px,#3b528b 19.5px,#2f6b8e 20.5px,#1e9d89 21.5px,#1f998a 22.5px,#2d718e 23.5px,#3e4a89 24.5px,#46337f 25.5px,#440154 27.5px,#470c5f 28.5px,#404688 29.5px,#440154 30.5px,#440154 144.5px)"></i><i style="top:92px;background:linear-gradient(90deg,#450558 0.5px,#440154 1.5px,#460a5d 2.5px,#440154 3.5px,#450457 7.5px,#471164 8.5px,#481668 10.5px,#482374 11.5px,#404588 12.5px,#287d8e 13.5px,#23898e 14.5px,#26818e 17.5px,#2d718e 19.5px,#2b758e 21.5px,#33638d 24.5px,#453581 25.5px,#470c5f 26.5px,#440154 27.5px,#443982 28.5px,#440154 29.5px,#440154 144.5px)"></i><i style="top:94px;background:linear-gradient(90deg,#450558 0.5px,#440154 1.5px,#460a5d 2.5px,#440154 3.5px,#450457 7.5px,#471164 8.5px,#481668 10.5px,#482374 11.5px,#404588 12.5px,#287b8e 13.5px,#228b8d 14.5px,#24888e 17.5px,#33628d 19.5px,#39558c 20.5px,#31688e 21.5px,#2d708e 22.5px,#31678e 23.5px,#3d4c8a 24.5px,#471164 25.5px,#471164 26.5px,#3f4888 27.5px,#440154 28.5px,#440154 144.5px)"></i><i style="top:96px;background:linear-gradient(90deg,#450558 0.5px,#440154 1.5px,#460a5d 2.5px,#440154 3.5px,#450457 7.5px,#471164 8.5px,#481668 10.5px,#482374 11.5px,#404588 12.5px,#26838e 13.5px,#218e8d 14.5px,#218f8d 15.5px,#24888e 16.5px,#2b748e 17.5px,#38588c 18.5px,#3e4a89 19.5px,#2f6c8e 21.5px,#24878e 22.5px,#2e6e8e 23.5px,#482676 24.5px,#470c5f 25.5px,#470c5f 26.5px,#440154 27.5px,#440154 144.5px)"></i><i style="top:98px;background:linear-gradient(90deg,#450558 0.5px,#440154 1.5px,#46095d 2.5px,#440154 3.5px,#450457 7.5px,#471163 8.5px,#481668 10.5px,#482374 11.5px,#404588 12.5px,#228d8d 13.5px,#218e8d 15.5px,#287c8e 16.5px,#3a548c 17.5px,#414287 18.5px,#355f8d 20.5px,#277e8e 21.5px,#218e8d 22.5px,#2f6c8e 23.5px,#472c7b 24.5px,#470c5f 25.5px,#470c5f 26.5px,#440154 27.5px,#440154 144.5px)"></i><i style="top:100px;background:linear-gradient(90deg,#450458 0.5px,#440154 1.5px,#46095c 2.5px,#440154 3.5px,#450357 7.5px,#471063 8.5px,#481668 10.5px,#482374 11.5px,#404688 12.5px,#1e9b8a 13.5px,#218f8d 14.5px,#228d8d 15.5px,#375a8c 17.5px,#37598c 18.5px,#3c4e8a 19.5px,#2e6d8e 20.5px,#27808e 21.5px,#3b518b 23.5px,#46327f 24.5px,#470c5f 25.5px,#46327f 26.5px,#440154 27.5px,#440154 144.5px)"></i><i style="top:102px;background:linear-gradient(90deg,#450458 0.5px,#440154 1.5px,#46085c 2.5px,#440154 3.5px,#450357 7.5px,#471063 8.5px,#481568 10.5px,#482373 11.5px,#404688 12.5px,#218f8d 13.5px,#218e8d 15.5px,#2c738e 17.5px,#2e6d8e 18.5px,#218e8d 19.5px,#26808e 20.5px,#424086 21.5px,#482071 22.5px,#433d84 23.5px,#404788 24.5px,#404688 25.5px,#440154 26.5px,#440154 144.5px)"></i><i style="top:104px;background:linear-gradient(90deg,#450457 0.5px,#440154 1.5px,#46085b 2.5px,#440154 3.5px,#450357 7.5px,#470f62 8.5px,#481568 10.5px,#482273 11.5px,#404688 12.5px,#21908c 13.5px,#21918c 15.5px,#25848e 16.5px,#26808e 17.5px,#1fa088 18.5px,#1e9b8a 19.5px,#2d708e 20.5px,#443b84 21.5px,#481e6f 22.5px,#472e7c 23.5px,#34608d 24.5px,#27808e 25.5px,#440154 26.5px,#440154 144.5px)"></i><i style="top:106px;background:linear-gradient(90deg,#450457 0.5px,#440154 1.5px,#46085b 2.5px,#440154 3.5px,#450357 7.5px,#470f62 8.5px,#481567 10.5px,#482273 11.5px,#404688 12.5px,#1e9d89 13.5px,#1f9e89 14.5px,#238a8d 16.5px,#228d8d 17.5px,#1f988b 18.5px,#2e6d8e 20.5px,#2f6b8e 21.5px,#424086 23.5px,#32668e 24.5px,#287d8e 25.5px,#440154 26.5px,#440154 144.5px)"></i><i style="top:108px;background:linear-gradient(90deg,#450457 0.5px,#440154 1.5px,#46075b 2.5px,#440154 3.5px,#450357 7.5px,#470e61 8.5px,#481567 10.5px,#482273 11.5px,#404688 12.5px,#20948c 13.5px,#20938c 17.5px,#25858e 18.5px,#277f8e 19.5px,#25848e 20.5px,#33638d 22.5px,#31678e 23.5px,#25858e 25.5px,#440154 26.5px,#440154 144.5px)"></i><i style="top:110px;background:linear-gradient(90deg,#450457 0.5px,#440154 1.5px,#46075a 2.5px,#440154 3.5px,#450357 7.5px,#470e61 8.5px,#481467 10.5px,#482273 11.5px,#404788 12.5px,#1f9e89 13.5px,#1f958b 14.5px,#1f978b 15.5px,#22a784 16.5px,#21a785 17.5px,#24888e 19.5px,#33638d 21.5px,#31668e 22.5px,#26828e 23.5px,#228d8d 24.5px,#440154 25.5px,#440154 144.5px)"></i><i style="top:112px;background:linear-gradient(90deg,#450457 0.5px,#440154 1.5px,#46075a 2.5px,#450356 4.5px,#450357 7.5px,#470d60 8.5px,#481467 10.5px,#482273 11.5px,#404788 12.5px,#1fa287 13.5px,#20a386 14.5px,#34b679 15.5px,#31b57b 16.5px,#23a884 17.5px,#23a884 18.5px,#20948c 19.5px,#38578c 20.5px,#433d84 21.5px,#25838e 22.5px,#1f9e89 23.5px,#2f6c8e 24.5px,#440154 25.5px,#440154 144.5px)"></i><i style="top:114px;background:linear-gradient(90deg,#450357 0.5px,#440154 1.5px,#45065a 2.5px,#440356 4.5px,#450357 7.5px,#481466 10.5px,#482273 11.5px,#3f4788 12.5px,#24aa83 13.5px,#42be71 14.5px,#4ec36b 15.5px,#2bb17e 16.5px,#1fa088 17.5px,#1f9e89 18.5px,#26808e 19.5px,#375a8c 20.5px,#287c8e 22.5px,#32648e 23.5px,#440154 24.5px,#440154 144.5px)"></i><i style="top:116px;background:linear-gradient(90deg,#450356 0.5px,#450659 2.5px,#440256 4.5px,#450357 7.5px,#481466 10.5px,#482273 11.5px,#3f4788 12.5px,#45bf70 13.5px,#3bbb75 14.5px,#20a287 15.5px,#1f998a 17.5px,#2c728e 18.5px,#2b758e 19.5px,#1e9d89 20.5px,#26838e 21.5px,#472c7b 22.5px,#470c5f 23.5px,#440154 24.5px,#440154 144.5px)"></i><i style="top:118px;background:linear-gradient(90deg,#450356 0.5px,#450559 2.5px,#440255 4.5px,#450357 7.5px,#481466 10.5px,#482273 11.5px,#3f4889 12.5px,#31b57b 13.5px,#1e9c89 14.5px,#1f998a 16.5px,#306a8e 18.5px,#29798e 19.5px,#20918c 20.5px,#306a8e 21.5px,#481366 22.5px,#440154 24.5px,#440154 144.5px)"></i><i style="top:120px;background:linear-gradient(90deg,#450356 0.5px,#450357 7.5px,#481366 10.5px,#482273 11.5px,#3f4889 12.5px,#1f968b 13.5px,#1e9d89 15.5px,#26818e 18.5px,#3d4d8a 20.5px,#34618d 21.5px,#37598c 22.5px,#470f61 23.5px,#440154 24.5px,#440154 144.5px)"></i><i style="top:122px;background:linear-gradient(90deg,#450356 0.5px,#450357 7.5px,#481366 10.5px,#482374 11.5px,#3f4989 12.5px,#228d8d 13.5px,#1f9f88 14.5px,#1f9f88 15.5px,#1f968b 16.5px,#1f988b 17.5px,#25858e 18.5px,#375b8d 19.5px,#3e4a89 20.5px,#365c8d 21.5px,#33628d 22.5px,#440154 23.5px,#440154 144.5px)"></i><i style="top:124px;background:linear-gradient(90deg,#450356 0.5px,#450357 7.5px,#471365 10.5px,#482374 11.5px,#3e4989 12.5px,#218f8d 13.5px,#1fa188 14.5px,#1f9e89 16.5px,#2d718e 18.5px,#3c508b 21.5px,#39568c 22.5px,#440154 23.5px,#440154 144.5px)"></i><i style="top:126px;background:linear-gradient(90deg,#440356 0.5px,#450357 7.5px,#471365 10.5px,#482374 11.5px,#3e4a89 12.5px,#1f9e89 13.5px,#20a486 15.5px,#1f988b 16.5px,#2a788e 17.5px,#31668e 18.5px,#32648e 19.5px,#433e85 21.5px,#440154 22.5px,#440154 144.5px)"></i><i style="top:128px;background:linear-gradient(90deg,#440255 0.5px,#450357 7.5px,#471265 10.5px,#482374 11.5px,#3e4b89 12.5px,#21a685 13.5px,#21a685 15.5px,#20928c 16.5px,#24878e 17.5px,#31678e 18.5px,#453681 19.5px,#440154 21.5px,#440154 144.5px)"></i><i style="top:130px;background:linear-gradient(90deg,#440255 0.5px,#450357 7.5px,#471265 10.5px,#482374 11.5px,#3e4b8a 12.5px,#1f978b 13.5px,#22a884 14.5px,#23a983 15.5px,#1f9e89 16.5px,#24868e 17.5px,#38588c 18.5px,#481c6e 19.5px,#440154 20.5px,#440154 144.5px)"></i><i style="top:132px;background:linear-gradient(90deg,#440255 0.5px,#450357 7.5px,#471265 10.5px,#482374 11.5px,#3d4c8a 12.5px,#228d8d 13.5px,#24aa83 14.5px,#26ac81 15.5px,#1f988b 16.5px,#277f8e 17.5px,#3a548b 18.5px,#450356 19.5px,#440154 144.5px)"></i><i style="top:134px;background:linear-gradient(90deg,#440255 0.5px,#46075b 8.5px,#471264 10.5px,#482374 11.5px,#3d4d8a 12.5px,#1f978b 13.5px,#28ae80 14.5px,#28af80 15.5px,#20928c 16.5px,#2d718e 17.5px,#470f61 18.5px,#450356 19.5px,#440154 144.5px)"></i><i style="top:136px;background:linear-gradient(90deg,#440255 0.5px,#46075a 8.5px,#471264 10.5px,#482374 11.5px,#3d4e8a 12.5px,#1fa187 13.5px,#2db27d 14.5px,#2db27d 15.5px,#228c8d 16.5px,#453681 17.5px,#470f62 18.5px,#450356 19.5px,#440154 144.5px)"></i><i style="top:138px;background:linear-gradient(90deg,#440255 0.5px,#46065a 8.5px,#471164 10.5px,#482474 11.5px,#3c4f8a 12.5px,#27ad81 13.5px,#34b779 14.5px,#32b67a 15.5px,#25838e 16.5px,#453781 17.5px,#470f62 18.5px,#450356 19.5px,#440154 144.5px)"></i><i style="top:140px;background:linear-gradient(90deg,#440254 0.5px,#45065a 8.5px,#471164 10.5px,#482475 11.5px,#3c508b 12.5px,#26ac81 13.5px,#3dbc74 14.5px,#38b977 15.5px,#277f8e 16.5px,#453882 17.5px,#471063 18.5px,#450356 19.5px,#440154 144.5px)"></i><i style="top:142px;background:linear-gradient(90deg,#440154 0.5px,#450659 8.5px,#471164 10.5px,#482475 11.5px,#3b518b 12.5px,#23a983 13.5px,#43bf71 14.5px,#40bd72 15.5px,#277f8e 16.5px,#443a83 17.5px,#471063 18.5px,#450356 19.5px,#440154 144.5px)"></i><i style="top:144px;background:linear-gradient(90deg,#440154 0.5px,#46095c 9.5px,#471163 10.5px,#482475 11.5px,#3b528b 12.5px,#2cb27e 13.5px,#48c16e 14.5px,#47c06f 15.5px,#26838e 16.5px,#443b84 17.5px,#471163 18.5px,#450356 19.5px,#440154 144.5px)"></i></div>
<svg width="800" height="398" viewBox="0 0 800 398">
<defs><linearGradient id="vir" x1="0" y1="0" x2="0" y2="1"><stop offset="0" stop-color="#fde725"/><stop offset="0.0625" stop-color="#d5e21a"/><stop offset="0.125" stop-color="#abdc32"/><stop offset="0.1875" stop-color="#82d34c"/><stop offset="0.25" stop-color="#5dc963"/><stop offset="0.3125" stop-color="#3ebc74"/><stop offset="0.375" stop-color="#28ae80"/><stop offset="0.4375" stop-color="#1f9f88"/><stop offset="0.5" stop-color="#21908c"/><stop offset="0.5625" stop-color="#26818e"/><stop offset="0.625" stop-color="#2c728e"/><stop offset="0.6875" stop-color="#33638d"/><stop offset="0.75" stop-color="#3b528b"/><stop offset="0.8125" stop-color="#424086"/><stop offset="0.875" stop-color="#472d7b"/><stop offset="0.9375" stop-color="#48186a"/><stop offset="1" stop-color="#440154"/></linearGradient></defs>
<line x1="59.7" y1="162.6" x2="118.5" y2="17.3" stroke="#ff0d0d" stroke-width="1.5" stroke-dasharray="4.9 2.3"/>
<rect x="45" y="17.3" width="144.5" height="145.3" fill="none" stroke="#000" stroke-width="1.5"/>
<line x1="45" y1="162.6" x2="45" y2="168.6" stroke="#000" stroke-width="1.5" />
<text transform="translate(41.49 178.7) scale(1.1 1)" font-size="11.4">0</text>
<line x1="73.9" y1="162.6" x2="73.9" y2="168.6" stroke="#000" stroke-width="1.5" />
<text transform="translate(66.69 178.7) scale(1.1 1)" font-size="11.4">10</text>
<line x1="102.8" y1="162.6" x2="102.8" y2="168.6" stroke="#000" stroke-width="1.5" />
<text transform="translate(95.75 178.7) scale(1.1 1)" font-size="11.4">20</text>
<line x1="131.7" y1="162.6" x2="131.7" y2="168.6" stroke="#000" stroke-width="1.5" />
<text transform="translate(124.71 178.7) scale(1.1 1)" font-size="11.4">30</text>
<line x1="160.6" y1="162.6" x2="160.6" y2="168.6" stroke="#000" stroke-width="1.5" />
<text transform="translate(153.73 178.7) scale(1.1 1)" font-size="11.4">40</text>
<line x1="189.5" y1="162.6" x2="189.5" y2="168.6" stroke="#000" stroke-width="1.5" />
<text transform="translate(182.51 178.7) scale(1.1 1)" font-size="11.4">50</text>
<text transform="translate(96 193.7) scale(1.123 1)" font-size="13.5">z (µm)</text>
<line x1="39" y1="162.6" x2="45" y2="162.6" stroke="#000" stroke-width="1.5" />
<text transform="translate(29.58 166.9) scale(1.1 1)" font-size="11.4">0</text>
<line x1="39" y1="114.17" x2="45" y2="114.17" stroke="#000" stroke-width="1.5" />
<text transform="translate(15.66 118.47) scale(1.1 1)" font-size="11.4">100</text>
<line x1="39" y1="65.73" x2="45" y2="65.73" stroke="#000" stroke-width="1.5" />
<text transform="translate(15.66 70.03) scale(1.1 1)" font-size="11.4">200</text>
<line x1="39" y1="17.3" x2="45" y2="17.3" stroke="#000" stroke-width="1.5" />
<text transform="translate(15.66 21.6) scale(1.1 1)" font-size="11.4">300</text>
<text transform="translate(9.8 119.84) rotate(-90) scale(1.115 1)" font-size="13.5">Time (fs)</text>
<line x1="217.6" y1="162.6" x2="276.4" y2="17.3" stroke="#ff0d0d" stroke-width="1.5" stroke-dasharray="4.9 2.3"/>
<rect x="202.9" y="17.3" width="144.5" height="145.3" fill="none" stroke="#000" stroke-width="1.5"/>
<line x1="202.9" y1="162.6" x2="202.9" y2="168.6" stroke="#000" stroke-width="1.5" />
<text transform="translate(199.39 178.7) scale(1.1 1)" font-size="11.4">0</text>
<line x1="231.8" y1="162.6" x2="231.8" y2="168.6" stroke="#000" stroke-width="1.5" />
<text transform="translate(224.59 178.7) scale(1.1 1)" font-size="11.4">10</text>
<line x1="260.7" y1="162.6" x2="260.7" y2="168.6" stroke="#000" stroke-width="1.5" />
<text transform="translate(253.65 178.7) scale(1.1 1)" font-size="11.4">20</text>
<line x1="289.6" y1="162.6" x2="289.6" y2="168.6" stroke="#000" stroke-width="1.5" />
<text transform="translate(282.61 178.7) scale(1.1 1)" font-size="11.4">30</text>
<line x1="318.5" y1="162.6" x2="318.5" y2="168.6" stroke="#000" stroke-width="1.5" />
<text transform="translate(311.63 178.7) scale(1.1 1)" font-size="11.4">40</text>
<line x1="347.4" y1="162.6" x2="347.4" y2="168.6" stroke="#000" stroke-width="1.5" />
<text transform="translate(340.41 178.7) scale(1.1 1)" font-size="11.4">50</text>
<text transform="translate(253.9 193.7) scale(1.123 1)" font-size="13.5">z (µm)</text>
<line x1="375.5" y1="162.6" x2="434.3" y2="17.3" stroke="#ff0d0d" stroke-width="1.5" stroke-dasharray="4.9 2.3"/>
<line x1="375.5" y1="162.6" x2="505.3" y2="59.5" stroke="#ffe619" stroke-width="1.5" stroke-dasharray="4.9 2.3"/>
<rect x="360.8" y="17.3" width="144.5" height="145.3" fill="none" stroke="#000" stroke-width="1.5"/>
<line x1="360.8" y1="162.6" x2="360.8" y2="168.6" stroke="#000" stroke-width="1.5" />
<text transform="translate(357.29 178.7) scale(1.1 1)" font-size="11.4">0</text>
<line x1="389.7" y1="162.6" x2="389.7" y2="168.6" stroke="#000" stroke-width="1.5" />
<text transform="translate(382.49 178.7) scale(1.1 1)" font-size="11.4">10</text>
<line x1="418.6" y1="162.6" x2="418.6" y2="168.6" stroke="#000" stroke-width="1.5" />
<text transform="translate(411.55 178.7) scale(1.1 1)" font-size="11.4">20</text>
<line x1="447.5" y1="162.6" x2="447.5" y2="168.6" stroke="#000" stroke-width="1.5" />
<text transform="translate(440.51 178.7) scale(1.1 1)" font-size="11.4">30</text>
<line x1="476.4" y1="162.6" x2="476.4" y2="168.6" stroke="#000" stroke-width="1.5" />
<text transform="translate(469.53 178.7) scale(1.1 1)" font-size="11.4">40</text>
<line x1="505.3" y1="162.6" x2="505.3" y2="168.6" stroke="#000" stroke-width="1.5" />
<text transform="translate(498.31 178.7) scale(1.1 1)" font-size="11.4">50</text>
<text transform="translate(411.8 193.7) scale(1.123 1)" font-size="13.5">z (µm)</text>
<line x1="59.7" y1="363.6" x2="118.5" y2="218.3" stroke="#ff0d0d" stroke-width="1.5" stroke-dasharray="4.9 2.3"/>
<rect x="45" y="218.3" width="144.5" height="145.3" fill="none" stroke="#000" stroke-width="1.5"/>
<line x1="45" y1="363.6" x2="45" y2="369.6" stroke="#000" stroke-width="1.5" />
<text transform="translate(41.49 379.7) scale(1.1 1)" font-size="11.4">0</text>
<line x1="73.9" y1="363.6" x2="73.9" y2="369.6" stroke="#000" stroke-width="1.5" />
<text transform="translate(66.69 379.7) scale(1.1 1)" font-size="11.4">10</text>
<line x1="102.8" y1="363.6" x2="102.8" y2="369.6" stroke="#000" stroke-width="1.5" />
<text transform="translate(95.75 379.7) scale(1.1 1)" font-size="11.4">20</text>
<line x1="131.7" y1="363.6" x2="131.7" y2="369.6" stroke="#000" stroke-width="1.5" />
<text transform="translate(124.71 379.7) scale(1.1 1)" font-size="11.4">30</text>
<line x1="160.6" y1="363.6" x2="160.6" y2="369.6" stroke="#000" stroke-width="1.5" />
<text transform="translate(153.73 379.7) scale(1.1 1)" font-size="11.4">40</text>
<line x1="189.5" y1="363.6" x2="189.5" y2="369.6" stroke="#000" stroke-width="1.5" />
<text transform="translate(182.51 379.7) scale(1.1 1)" font-size="11.4">50</text>
<text transform="translate(96 394.7) scale(1.123 1)" font-size="13.5">z (µm)</text>
<line x1="39" y1="363.6" x2="45" y2="363.6" stroke="#000" stroke-width="1.5" />
<text transform="translate(29.58 367.9) scale(1.1 1)" font-size="11.4">0</text>
<line x1="39" y1="315.17" x2="45" y2="315.17" stroke="#000" stroke-width="1.5" />
<text transform="translate(15.66 319.47) scale(1.1 1)" font-size="11.4">100</text>
<line x1="39" y1="266.73" x2="45" y2="266.73" stroke="#000" stroke-width="1.5" />
<text transform="translate(15.66 271.03) scale(1.1 1)" font-size="11.4">200</text>
<line x1="39" y1="218.3" x2="45" y2="218.3" stroke="#000" stroke-width="1.5" />
<text transform="translate(15.66 222.6) scale(1.1 1)" font-size="11.4">300</text>
<text transform="translate(9.8 320.84) rotate(-90) scale(1.115 1)" font-size="13.5">Time (fs)</text>
<line x1="217.6" y1="363.6" x2="276.4" y2="218.3" stroke="#ff0d0d" stroke-width="1.5" stroke-dasharray="4.9 2.3"/>
<rect x="202.9" y="218.3" width="144.5" height="145.3" fill="none" stroke="#000" stroke-width="1.5"/>
<line x1="202.9" y1="363.6" x2="202.9" y2="369.6" stroke="#000" stroke-width="1.5" />
<text transform="translate(199.39 379.7) scale(1.1 1)" font-size="11.4">0</text>
<line x1="231.8" y1="363.6" x2="231.8" y2="369.6" stroke="#000" stroke-width="1.5" />
<text transform="translate(224.59 379.7) scale(1.1 1)" font-size="11.4">10</text>
<line x1="260.7" y1="363.6" x2="260.7" y2="369.6" stroke="#000" stroke-width="1.5" />
<text transform="translate(253.65 379.7) scale(1.1 1)" font-size="11.4">20</text>
<line x1="289.6" y1="363.6" x2="289.6" y2="369.6" stroke="#000" stroke-width="1.5" />
<text transform="translate(282.61 379.7) scale(1.1 1)" font-size="11.4">30</text>
<line x1="318.5" y1="363.6" x2="318.5" y2="369.6" stroke="#000" stroke-width="1.5" />
<text transform="translate(311.63 379.7) scale(1.1 1)" font-size="11.4">40</text>
<line x1="347.4" y1="363.6" x2="347.4" y2="369.6" stroke="#000" stroke-width="1.5" />
<text transform="translate(340.41 379.7) scale(1.1 1)" font-size="11.4">50</text>
<text transform="translate(253.9 394.7) scale(1.123 1)" font-size="13.5">z (µm)</text>
<line x1="375.5" y1="363.6" x2="434.3" y2="218.3" stroke="#ff0d0d" stroke-width="1.5" stroke-dasharray="4.9 2.3"/>
<line x1="375.5" y1="363.6" x2="505.3" y2="260.5" stroke="#ffe619" stroke-width="1.5" stroke-dasharray="4.9 2.3"/>
<rect x="360.8" y="218.3" width="144.5" height="145.3" fill="none" stroke="#000" stroke-width="1.5"/>
<line x1="360.8" y1="363.6" x2="360.8" y2="369.6" stroke="#000" stroke-width="1.5" />
<text transform="translate(357.29 379.7) scale(1.1 1)" font-size="11.4">0</text>
<line x1="389.7" y1="363.6" x2="389.7" y2="369.6" stroke="#000" stroke-width="1.5" />
<text transform="translate(382.49 379.7) scale(1.1 1)" font-size="11.4">10</text>
<line x1="418.6" y1="363.6" x2="418.6" y2="369.6" stroke="#000" stroke-width="1.5" />
<text transform="translate(411.55 379.7) scale(1.1 1)" font-size="11.4">20</text>
<line x1="447.5" y1="363.6" x2="447.5" y2="369.6" stroke="#000" stroke-width="1.5" />
<text transform="translate(440.51 379.7) scale(1.1 1)" font-size="11.4">30</text>
<line x1="476.4" y1="363.6" x2="476.4" y2="369.6" stroke="#000" stroke-width="1.5" />
<text transform="translate(469.53 379.7) scale(1.1 1)" font-size="11.4">40</text>
<line x1="505.3" y1="363.6" x2="505.3" y2="369.6" stroke="#000" stroke-width="1.5" />
<text transform="translate(498.31 379.7) scale(1.1 1)" font-size="11.4">50</text>
<text transform="translate(411.8 394.7) scale(1.123 1)" font-size="13.5">z (µm)</text>
<rect x="534.2" y="17.3" width="7.4" height="145.3" fill="url(#vir)" stroke="#000" stroke-width="1.5"/>
<line x1="541.6" y1="17.3" x2="547.9" y2="17.3" stroke="#000" stroke-width="1.5" />
<text transform="translate(549.81 21.9) scale(1.03 1)" font-size="11.5">10</text>
<text transform="translate(564.45 17.6) scale(1.1 1)" font-size="8">0</text>
<line x1="541.6" y1="53.62" x2="547.9" y2="53.62" stroke="#000" stroke-width="1.5" />
<text transform="translate(549.81 58.23) scale(1.03 1)" font-size="11.5">10</text>
<text transform="translate(564.32 53.92) scale(1.2 1)" font-size="8">−1</text>
<line x1="541.6" y1="89.95" x2="547.9" y2="89.95" stroke="#000" stroke-width="1.5" />
<text transform="translate(549.81 94.55) scale(1.03 1)" font-size="11.5">10</text>
<text transform="translate(564.32 90.25) scale(1.2 1)" font-size="8">−2</text>
<line x1="541.6" y1="126.28" x2="547.9" y2="126.28" stroke="#000" stroke-width="1.5" />
<text transform="translate(549.81 130.88) scale(1.03 1)" font-size="11.5">10</text>
<text transform="translate(564.32 126.58) scale(1.2 1)" font-size="8">−3</text>
<line x1="541.6" y1="162.6" x2="547.9" y2="162.6" stroke="#000" stroke-width="1.5" />
<text transform="translate(549.81 167.2) scale(1.03 1)" font-size="11.5">10</text>
<text transform="translate(564.32 162.9) scale(1.2 1)" font-size="8">−4</text>
<text transform="translate(524.4 167.61) rotate(-90) scale(1.123 1)" font-size="10.5">Probability density (arb. units)</text>
<rect x="645" y="17.3" width="144.2" height="145.3" fill="none" stroke="#000" stroke-width="1.5"/>
<path fill="none" stroke="#ff0000" stroke-width="1.9" stroke-linejoin="round" stroke-linecap="round" d="M644.8 160.7C645.2 159.3 646.2 153.3 647.0 152.6C647.8 151.9 648.6 157.0 649.5 156.3C650.4 155.6 651.7 149.2 652.6 148.3C653.5 147.4 654.3 151.5 655.1 151.1C655.9 150.7 656.8 147.6 657.6 146.1C658.4 144.6 659.3 142.3 660.1 142.3C660.9 142.3 661.7 145.0 662.6 145.9C663.5 146.8 664.6 148.1 665.6 147.6C666.6 147.1 667.6 143.1 668.6 142.9C669.6 142.7 670.6 146.2 671.7 146.6C672.8 147.0 674.0 145.3 675.2 145.6C676.4 145.9 677.7 148.1 678.7 148.3C679.7 148.5 680.4 146.6 681.2 146.9C682.0 147.2 682.9 150.1 683.7 150.1C684.5 150.1 685.3 146.9 686.2 146.9C687.1 146.9 688.2 149.4 689.2 150.1C690.2 150.8 691.3 150.8 692.3 150.9C693.3 151.0 694.4 150.4 695.3 150.6C696.2 150.8 696.7 152.4 697.8 151.9C698.9 151.4 700.5 147.7 701.8 147.6C703.0 147.5 704.2 150.9 705.3 151.1C706.4 151.3 707.4 148.6 708.3 148.6C709.2 148.6 710.0 151.4 710.9 151.3C711.8 151.2 712.9 148.0 713.9 148.3C714.9 148.6 716.0 152.7 716.9 153.1C717.8 153.5 718.6 150.7 719.5 150.6C720.4 150.5 721.2 152.2 722.0 152.3C722.8 152.4 723.6 150.8 724.5 150.9C725.4 151.0 726.7 153.0 727.6 152.9C728.5 152.8 729.2 151.0 730.1 150.6C731.0 150.2 732.1 150.5 733.1 150.6C734.1 150.7 735.2 151.8 736.1 151.1C737.0 150.4 737.7 146.8 738.6 146.6C739.5 146.4 740.6 149.9 741.6 149.9C742.6 149.9 743.6 146.2 744.6 146.6C745.6 147.0 746.8 152.2 747.7 152.3C748.6 152.4 749.2 147.2 750.2 147.3C751.2 147.4 752.7 152.9 753.7 153.1C754.7 153.3 755.3 149.0 756.2 148.6C757.1 148.2 758.2 151.1 759.2 150.6C760.2 150.1 761.2 145.3 762.2 145.3C763.2 145.3 764.2 150.6 765.3 150.6C766.4 150.6 767.9 145.4 768.8 145.3C769.7 145.2 770.0 149.7 770.8 150.1C771.5 150.5 772.3 147.2 773.3 147.6C774.3 148.0 775.7 152.2 776.8 152.6C777.9 153.0 778.6 150.4 779.8 150.1C781.0 149.8 782.7 151.2 783.8 150.9C784.9 150.6 785.5 148.4 786.4 148.3C787.2 148.2 788.5 149.8 788.9 150.1"/>
<path fill="none" stroke="#000" stroke-width="2" stroke-linejoin="round" stroke-linecap="round" d="M645.0 18.1C645.2 19.1 645.6 22.3 646.0 23.8C646.4 25.3 646.6 27.2 647.2 27.2C647.8 27.1 648.8 23.5 649.4 23.5C650.0 23.5 650.5 25.9 651.1 27.2C651.7 28.5 652.2 31.0 652.8 31.3C653.4 31.6 654.3 28.8 654.9 28.9C655.5 28.9 656.0 30.5 656.6 31.6C657.2 32.7 657.7 34.3 658.3 35.3C658.9 36.3 659.6 37.9 660.3 37.7C661.0 37.5 661.7 34.6 662.3 34.0C662.9 33.4 663.4 34.3 664.0 34.0C664.6 33.7 665.3 31.8 666.1 32.3C666.9 32.8 668.0 36.5 668.8 36.7C669.6 36.9 670.0 34.2 670.8 33.6C671.6 33.0 672.6 33.3 673.5 33.4C674.4 33.5 675.1 34.5 676.0 34.1C676.9 33.8 678.0 31.5 678.8 31.3C679.6 31.1 680.2 33.4 681.0 33.1C681.8 32.8 682.7 29.5 683.5 29.5C684.3 29.5 685.2 33.2 686.0 33.2C686.8 33.2 687.5 30.2 688.3 29.8C689.1 29.4 689.9 31.0 690.6 30.8C691.4 30.6 692.0 28.8 692.8 28.5C693.5 28.2 694.3 29.4 695.1 29.3C695.9 29.2 696.6 27.7 697.4 27.8C698.1 27.9 698.9 29.4 699.6 30.1C700.4 30.9 701.1 32.5 701.9 32.3C702.7 32.1 703.6 29.1 704.6 29.0C705.6 28.9 706.9 31.7 707.9 31.6C708.9 31.5 709.8 28.6 710.7 28.5C711.6 28.4 712.6 31.5 713.4 31.3C714.2 31.1 715.1 28.0 715.7 27.3C716.3 26.6 716.4 26.8 717.0 27.1C717.6 27.4 718.7 29.0 719.5 29.1C720.3 29.2 721.2 27.6 722.0 27.6C722.8 27.6 723.6 29.0 724.5 28.9C725.4 28.8 726.2 26.9 727.1 26.9C728.0 26.9 728.8 28.7 730.1 29.1C731.4 29.5 733.7 28.7 735.1 29.3C736.5 29.9 737.5 32.8 738.6 32.9C739.7 33.0 740.6 29.9 741.6 29.9C742.6 29.9 743.6 33.3 744.6 32.9C745.6 32.5 746.8 27.7 747.7 27.6C748.6 27.5 749.2 32.2 750.2 32.1C751.2 32.0 752.5 27.0 753.7 26.9C754.9 26.8 756.3 31.2 757.2 31.6C758.1 32.1 758.3 29.1 759.2 29.6C760.1 30.1 761.6 34.6 762.7 34.6C763.8 34.6 764.8 30.0 765.8 29.9C766.8 29.8 767.8 34.1 768.8 34.1C769.8 34.1 770.9 29.9 771.8 29.6C772.7 29.4 773.4 32.9 774.3 32.6C775.2 32.3 776.3 28.1 777.3 27.6C778.3 27.1 779.2 29.3 780.3 29.6C781.4 29.9 782.8 29.0 783.8 29.3C784.8 29.6 785.5 31.3 786.4 31.3C787.3 31.3 788.7 29.5 789.2 29.1"/>
<line x1="685.2" y1="73.8" x2="707.3" y2="73.8" stroke="#000" stroke-width="1.9" />
<text transform="translate(714.73 77.7) scale(1.06 1)" font-size="11">excitonic</text>
<line x1="685.2" y1="89.3" x2="707.3" y2="89.3" stroke="#ff0000" stroke-width="1.9" />
<text transform="translate(714.44 93.2) scale(1.06 1)" font-size="11">photonic</text>
<line x1="685.2" y1="104.8" x2="707.3" y2="104.8" stroke="#0000ff" stroke-width="1.9" />
<text transform="translate(714.73 108.7) scale(1.06 1)" font-size="11">ground state</text>
<line x1="645" y1="162.6" x2="645" y2="156.6" stroke="#000" stroke-width="1.5" />
<line x1="645" y1="17.3" x2="645" y2="23.3" stroke="#000" stroke-width="1.5" />
<text transform="translate(641.49 176.5) scale(1.1 1)" font-size="11.4">0</text>
<line x1="693.07" y1="162.6" x2="693.07" y2="156.6" stroke="#000" stroke-width="1.5" />
<line x1="693.07" y1="17.3" x2="693.07" y2="23.3" stroke="#000" stroke-width="1.5" />
<text transform="translate(682.38 176.5) scale(1.1 1)" font-size="11.4">100</text>
<line x1="741.13" y1="162.6" x2="741.13" y2="156.6" stroke="#000" stroke-width="1.5" />
<line x1="741.13" y1="17.3" x2="741.13" y2="23.3" stroke="#000" stroke-width="1.5" />
<text transform="translate(730.6 176.5) scale(1.1 1)" font-size="11.4">200</text>
<line x1="789.2" y1="162.6" x2="789.2" y2="156.6" stroke="#000" stroke-width="1.5" />
<line x1="789.2" y1="17.3" x2="789.2" y2="23.3" stroke="#000" stroke-width="1.5" />
<text transform="translate(778.73 176.5) scale(1.1 1)" font-size="11.4">300</text>
<line x1="645" y1="162.6" x2="651" y2="162.6" stroke="#000" stroke-width="1.5" />
<line x1="789.2" y1="162.6" x2="783.2" y2="162.6" stroke="#000" stroke-width="1.5" />
<text transform="translate(631.98 167) scale(1.1 1)" font-size="11.4">0</text>
<line x1="645" y1="133.54" x2="651" y2="133.54" stroke="#000" stroke-width="1.5" />
<line x1="789.2" y1="133.54" x2="783.2" y2="133.54" stroke="#000" stroke-width="1.5" />
<text transform="translate(625.02 137.94) scale(1.1 1)" font-size="11.4">20</text>
<line x1="645" y1="104.48" x2="651" y2="104.48" stroke="#000" stroke-width="1.5" />
<line x1="789.2" y1="104.48" x2="783.2" y2="104.48" stroke="#000" stroke-width="1.5" />
<text transform="translate(625.02 108.88) scale(1.1 1)" font-size="11.4">40</text>
<line x1="645" y1="75.42" x2="651" y2="75.42" stroke="#000" stroke-width="1.5" />
<line x1="789.2" y1="75.42" x2="783.2" y2="75.42" stroke="#000" stroke-width="1.5" />
<text transform="translate(625.02 79.82) scale(1.1 1)" font-size="11.4">60</text>
<line x1="645" y1="46.36" x2="651" y2="46.36" stroke="#000" stroke-width="1.5" />
<line x1="789.2" y1="46.36" x2="783.2" y2="46.36" stroke="#000" stroke-width="1.5" />
<text transform="translate(625.02 50.76) scale(1.1 1)" font-size="11.4">80</text>
<line x1="645" y1="17.3" x2="651" y2="17.3" stroke="#000" stroke-width="1.5" />
<line x1="789.2" y1="17.3" x2="783.2" y2="17.3" stroke="#000" stroke-width="1.5" />
<text transform="translate(618.06 21.7) scale(1.1 1)" font-size="11.4">100</text>
<line x1="645" y1="161.9" x2="789.2" y2="161.9" stroke="#0000ff" stroke-width="2.4"/>
<text transform="translate(688.7 190.6) scale(1.1 1)" font-size="13.5">Time (fs)</text>
<text transform="translate(612.8 137.7) rotate(-90) scale(1.085 1)" font-size="13.5">Population (%)</text>
<rect x="534.2" y="218.3" width="7.4" height="145.3" fill="url(#vir)" stroke="#000" stroke-width="1.5"/>
<line x1="541.6" y1="218.3" x2="547.9" y2="218.3" stroke="#000" stroke-width="1.5" />
<text transform="translate(549.81 222.9) scale(1.03 1)" font-size="11.5">10</text>
<text transform="translate(564.45 218.6) scale(1.1 1)" font-size="8">0</text>
<line x1="541.6" y1="254.62" x2="547.9" y2="254.62" stroke="#000" stroke-width="1.5" />
<text transform="translate(549.81 259.23) scale(1.03 1)" font-size="11.5">10</text>
<text transform="translate(564.32 254.93) scale(1.2 1)" font-size="8">−1</text>
<line x1="541.6" y1="290.95" x2="547.9" y2="290.95" stroke="#000" stroke-width="1.5" />
<text transform="translate(549.81 295.55) scale(1.03 1)" font-size="11.5">10</text>
<text transform="translate(564.32 291.25) scale(1.2 1)" font-size="8">−2</text>
<line x1="541.6" y1="327.28" x2="547.9" y2="327.28" stroke="#000" stroke-width="1.5" />
<text transform="translate(549.81 331.88) scale(1.03 1)" font-size="11.5">10</text>
<text transform="translate(564.32 327.58) scale(1.2 1)" font-size="8">−3</text>
<line x1="541.6" y1="363.6" x2="547.9" y2="363.6" stroke="#000" stroke-width="1.5" />
<text transform="translate(549.81 368.2) scale(1.03 1)" font-size="11.5">10</text>
<text transform="translate(564.32 363.9) scale(1.2 1)" font-size="8">−4</text>
<text transform="translate(524.4 368.61) rotate(-90) scale(1.123 1)" font-size="10.5">Probability density (arb. units)</text>
<rect x="645" y="218.3" width="144.2" height="145.3" fill="none" stroke="#000" stroke-width="1.5"/>
<path fill="none" stroke="#0000ff" stroke-width="1.9" stroke-linejoin="round" stroke-linecap="round" d="M645.0 362.7C645.4 362.5 646.7 362.4 647.5 361.4C648.3 360.3 649.3 358.5 650.0 356.4C650.7 354.3 651.3 350.8 651.9 348.9C652.5 347.0 652.8 346.5 653.8 345.1C654.8 343.7 656.4 342.2 657.6 340.7C658.9 339.2 659.8 337.5 661.3 336.3C662.8 335.1 664.4 334.7 666.3 333.6C668.2 332.6 670.7 331.1 672.6 330.0C674.5 328.9 676.3 327.7 677.6 326.9C678.9 326.1 678.9 325.7 680.2 325.0C681.5 324.3 683.6 323.7 685.2 322.8C686.8 321.9 687.9 320.8 690.0 319.7C692.1 318.6 695.1 317.4 698.0 316.2C700.9 315.0 704.2 314.0 707.1 312.7C710.0 311.4 712.4 310.0 715.2 308.6C718.1 307.2 721.0 305.6 724.2 304.1C727.4 302.6 731.1 300.8 734.3 299.6C737.5 298.4 740.6 298.0 743.3 296.9C746.0 295.8 747.6 294.3 750.4 293.0C753.2 291.7 757.5 290.1 760.0 289.0C762.5 287.9 763.7 287.3 765.6 286.5C767.5 285.7 769.5 284.8 771.6 284.0C773.8 283.2 776.4 282.4 778.5 281.8C780.6 281.2 782.7 280.8 784.4 280.4C786.1 280.0 788.1 279.5 788.9 279.3"/>
<path fill="none" stroke="#ff0000" stroke-width="1.9" stroke-linejoin="round" stroke-linecap="round" d="M645.0 362.0C645.2 361.0 645.9 357.1 646.3 355.8C646.7 354.6 647.1 354.0 647.5 354.5C647.9 355.0 648.4 357.8 648.8 358.9C649.2 359.9 649.5 361.9 650.0 360.8C650.5 359.8 651.3 355.2 651.9 352.6C652.5 350.0 653.2 345.5 653.8 345.1C654.4 344.7 655.2 348.6 655.7 350.1C656.2 351.6 656.4 353.5 656.9 353.9C657.4 354.3 658.2 352.2 658.8 352.6C659.4 353.0 660.0 355.6 660.7 356.4C661.4 357.2 662.4 357.5 663.2 357.6C664.0 357.7 664.9 356.9 665.7 357.0C666.5 357.1 667.4 358.4 668.2 358.3C669.0 358.2 669.9 356.1 670.7 356.4C671.5 356.7 672.4 360.2 673.2 360.2C674.1 360.2 674.6 357.0 675.8 356.4C677.0 355.8 679.1 355.9 680.2 356.4C681.4 356.9 681.7 358.9 682.7 359.5C683.7 360.1 685.1 360.1 686.4 360.2C687.6 360.3 689.2 359.6 690.2 359.9C691.2 360.1 691.7 361.6 692.6 361.7C693.5 361.8 694.8 360.3 695.9 360.3C697.0 360.3 698.0 361.9 699.2 361.7C700.4 361.5 702.0 359.4 703.1 359.4C704.2 359.4 704.7 361.7 705.7 361.7C706.7 361.7 707.9 359.4 709.0 359.4C710.1 359.4 711.1 361.6 712.3 361.7C713.5 361.8 714.5 360.2 716.2 360.0C718.0 359.8 720.6 360.0 722.8 360.3C725.0 360.6 727.2 361.6 729.4 361.7C731.6 361.8 733.7 361.0 735.9 361.0C738.1 361.0 740.6 362.1 742.5 361.7C744.4 361.3 745.9 358.4 747.1 358.4C748.3 358.4 748.7 361.5 749.7 361.7C750.7 361.9 751.6 359.9 753.0 359.7C754.4 359.5 756.5 360.4 758.2 360.7C760.0 361.0 761.8 361.8 763.5 361.7C765.2 361.6 766.7 360.4 768.7 360.3C770.7 360.2 773.1 360.8 775.3 361.0C777.5 361.2 780.1 361.9 781.9 361.7C783.6 361.5 784.7 359.7 785.8 359.7C786.9 359.7 788.0 361.4 788.4 361.7"/>
<path fill="none" stroke="#000" stroke-width="2" stroke-linejoin="round" stroke-linecap="round" d="M645.1 218.9C645.2 219.7 645.6 222.5 645.9 223.9C646.2 225.3 646.5 227.1 646.9 227.4C647.3 227.8 647.8 226.2 648.3 226.0C648.8 225.8 649.3 225.8 649.7 226.4C650.1 227.0 650.3 227.3 650.7 229.5C651.1 231.7 651.5 235.7 651.9 239.4C652.3 243.2 652.6 249.2 653.0 252.0C653.4 254.8 653.7 255.7 654.0 256.0C654.3 256.4 654.6 255.1 655.0 254.1C655.4 253.1 655.7 250.2 656.1 249.9C656.5 249.6 657.0 251.3 657.5 252.0C658.0 252.7 658.3 254.0 658.9 254.1C659.5 254.2 660.3 252.7 661.0 252.3C661.7 251.9 662.4 251.5 663.1 251.7C663.8 251.8 664.5 253.1 665.2 253.2C665.9 253.3 666.8 252.2 667.4 252.3C668.0 252.5 668.4 253.3 669.0 254.1C669.6 254.9 670.2 256.8 670.9 257.0C671.6 257.2 672.3 254.8 673.0 255.1C673.7 255.4 674.4 258.0 675.1 259.1C675.8 260.2 676.4 261.1 677.2 261.9C678.0 262.7 678.9 264.0 679.7 264.0C680.5 264.0 681.2 262.1 682.1 261.9C683.0 261.7 683.9 262.6 685.0 263.0C686.1 263.4 687.7 264.0 688.5 264.4C689.3 264.8 689.2 265.5 690.0 265.5C690.8 265.5 692.3 263.7 693.5 264.2C694.7 264.7 695.9 268.1 697.0 268.6C698.1 269.1 699.0 266.7 700.0 267.2C701.0 267.7 702.1 271.2 703.1 271.6C704.1 272.0 705.1 269.2 706.1 269.6C707.1 270.0 708.1 273.4 709.1 273.9C710.1 274.4 710.9 272.2 712.1 272.6C713.3 273.0 714.8 275.2 716.1 276.1C717.5 277.0 719.0 277.3 720.2 277.9C721.4 278.5 722.3 279.7 723.2 279.9C724.1 280.1 724.7 278.7 725.7 279.1C726.7 279.5 728.2 281.7 729.2 282.1C730.2 282.5 730.7 281.3 731.7 281.6C732.7 281.9 734.0 283.4 735.2 283.9C736.5 284.3 737.8 284.0 739.2 284.3C740.6 284.6 742.4 285.2 743.4 285.7C744.4 286.2 744.5 286.5 745.1 287.4C745.7 288.3 746.3 290.5 746.8 291.2C747.3 291.9 747.5 292.1 748.1 291.8C748.7 291.5 749.5 289.1 750.3 289.1C751.1 289.2 751.8 291.3 752.8 292.1C753.8 292.9 755.1 293.6 756.2 293.8C757.4 294.1 758.6 293.3 759.7 293.6C760.9 293.9 761.9 295.1 763.1 295.5C764.3 295.9 765.8 295.4 766.9 296.0C768.0 296.6 768.6 298.3 769.5 298.9C770.4 299.5 771.2 299.1 772.1 299.4C773.0 299.7 773.7 300.6 774.6 300.9C775.5 301.1 776.7 300.7 777.6 300.9C778.5 301.1 779.4 301.9 780.2 302.1C781.0 302.4 781.5 302.0 782.3 302.4C783.1 302.8 783.8 304.0 784.9 304.5C786.0 305.0 788.2 305.1 788.9 305.2"/>
<line x1="645" y1="363.6" x2="645" y2="357.6" stroke="#000" stroke-width="1.5" />
<line x1="645" y1="218.3" x2="645" y2="224.3" stroke="#000" stroke-width="1.5" />
<text transform="translate(641.49 377.5) scale(1.1 1)" font-size="11.4">0</text>
<line x1="693.07" y1="363.6" x2="693.07" y2="357.6" stroke="#000" stroke-width="1.5" />
<line x1="693.07" y1="218.3" x2="693.07" y2="224.3" stroke="#000" stroke-width="1.5" />
<text transform="translate(682.38 377.5) scale(1.1 1)" font-size="11.4">100</text>
<line x1="741.13" y1="363.6" x2="741.13" y2="357.6" stroke="#000" stroke-width="1.5" />
<line x1="741.13" y1="218.3" x2="741.13" y2="224.3" stroke="#000" stroke-width="1.5" />
<text transform="translate(730.6 377.5) scale(1.1 1)" font-size="11.4">200</text>
<line x1="789.2" y1="363.6" x2="789.2" y2="357.6" stroke="#000" stroke-width="1.5" />
<line x1="789.2" y1="218.3" x2="789.2" y2="224.3" stroke="#000" stroke-width="1.5" />
<text transform="translate(778.73 377.5) scale(1.1 1)" font-size="11.4">300</text>
<line x1="645" y1="363.6" x2="651" y2="363.6" stroke="#000" stroke-width="1.5" />
<line x1="789.2" y1="363.6" x2="783.2" y2="363.6" stroke="#000" stroke-width="1.5" />
<text transform="translate(631.98 368) scale(1.1 1)" font-size="11.4">0</text>
<line x1="645" y1="334.54" x2="651" y2="334.54" stroke="#000" stroke-width="1.5" />
<line x1="789.2" y1="334.54" x2="783.2" y2="334.54" stroke="#000" stroke-width="1.5" />
<text transform="translate(625.02 338.94) scale(1.1 1)" font-size="11.4">20</text>
<line x1="645" y1="305.48" x2="651" y2="305.48" stroke="#000" stroke-width="1.5" />
<line x1="789.2" y1="305.48" x2="783.2" y2="305.48" stroke="#000" stroke-width="1.5" />
<text transform="translate(625.02 309.88) scale(1.1 1)" font-size="11.4">40</text>
<line x1="645" y1="276.42" x2="651" y2="276.42" stroke="#000" stroke-width="1.5" />
<line x1="789.2" y1="276.42" x2="783.2" y2="276.42" stroke="#000" stroke-width="1.5" />
<text transform="translate(625.02 280.82) scale(1.1 1)" font-size="11.4">60</text>
<line x1="645" y1="247.36" x2="651" y2="247.36" stroke="#000" stroke-width="1.5" />
<line x1="789.2" y1="247.36" x2="783.2" y2="247.36" stroke="#000" stroke-width="1.5" />
<text transform="translate(625.02 251.76) scale(1.1 1)" font-size="11.4">80</text>
<line x1="645" y1="218.3" x2="651" y2="218.3" stroke="#000" stroke-width="1.5" />
<line x1="789.2" y1="218.3" x2="783.2" y2="218.3" stroke="#000" stroke-width="1.5" />
<text transform="translate(618.06 222.7) scale(1.1 1)" font-size="11.4">100</text>
<text transform="translate(688.7 391.6) scale(1.1 1)" font-size="13.5">Time (fs)</text>
<text transform="translate(612.8 338.7) rotate(-90) scale(1.085 1)" font-size="13.5">Population (%)</text>
<text transform="translate(10.39 9.8) scale(1.05 1)" font-size="13" font-weight="bold">a</text>
<text transform="translate(203.01 9.8) scale(1.05 1)" font-size="13" font-weight="bold">b</text>
<text transform="translate(360.75 9.8) scale(1.05 1)" font-size="13" font-weight="bold">c</text>
<text transform="translate(645.45 9.8) scale(1.05 1)" font-size="13" font-weight="bold">d</text>
<line x1="106.5" y1="139.1" x2="106.5" y2="153.9" stroke="#f4eef6" stroke-width="1.15" />
<line x1="122.5" y1="139.1" x2="122.5" y2="153.9" stroke="#f4eef6" stroke-width="1.15" />
<text transform="translate(108.77 150.6) scale(0.96 1)" font-size="15.4" fill="#ffffff">Ψ</text>
<text transform="translate(125.28 145.4) scale(1.1 1)" font-size="9.4" fill="#ffffff">2</text>
<line x1="255.3" y1="139.1" x2="255.3" y2="153.9" stroke="#f4eef6" stroke-width="1.15" />
<line x1="289.4" y1="139.1" x2="289.4" y2="153.9" stroke="#f4eef6" stroke-width="1.15" />
<text transform="translate(257.27 150.4) scale(0.96 1)" font-size="15.4" fill="#ffffff">Ψ</text>
<text transform="translate(269.37 152.8) scale(1.19 1)" font-size="9" fill="#ffffff">exc</text>
<text transform="translate(292.48 145.5) scale(1.1 1)" font-size="9.4" fill="#ffffff">2</text>
<line x1="418.5" y1="139.1" x2="418.5" y2="153.9" stroke="#f4eef6" stroke-width="1.15" />
<line x1="454.5" y1="139.1" x2="454.5" y2="153.9" stroke="#f4eef6" stroke-width="1.15" />
<text transform="translate(420.97 150.5) scale(0.96 1)" font-size="15.4" fill="#ffffff">Ψ</text>
<text transform="translate(432.77 152.5) scale(1.16 1)" font-size="9.7" fill="#ffffff">pho</text>
<text transform="translate(455.48 145.2) scale(1.1 1)" font-size="9.4" fill="#ffffff">2</text>
<text transform="translate(463.84 149.6) scale(1.13 1)" font-size="14.1" fill="#ffffff">x10</text>
<text transform="translate(10.25 210.8) scale(1.05 1)" font-size="13" font-weight="bold">e</text>
<text transform="translate(203.7 210.8) scale(1.05 1)" font-size="13" font-weight="bold">f</text>
<text transform="translate(360.75 210.8) scale(1.05 1)" font-size="13" font-weight="bold">g</text>
<text transform="translate(645.04 210.8) scale(1.05 1)" font-size="13" font-weight="bold">h</text>
<line x1="106.5" y1="340.1" x2="106.5" y2="354.9" stroke="#f4eef6" stroke-width="1.15" />
<line x1="122.5" y1="340.1" x2="122.5" y2="354.9" stroke="#f4eef6" stroke-width="1.15" />
<text transform="translate(108.77 351.6) scale(0.96 1)" font-size="15.4" fill="#ffffff">Ψ</text>
<text transform="translate(125.28 346.4) scale(1.1 1)" font-size="9.4" fill="#ffffff">2</text>
<line x1="255.3" y1="340.1" x2="255.3" y2="354.9" stroke="#f4eef6" stroke-width="1.15" />
<line x1="289.4" y1="340.1" x2="289.4" y2="354.9" stroke="#f4eef6" stroke-width="1.15" />
<text transform="translate(257.27 351.4) scale(0.96 1)" font-size="15.4" fill="#ffffff">Ψ</text>
<text transform="translate(269.37 353.8) scale(1.19 1)" font-size="9" fill="#ffffff">exc</text>
<text transform="translate(292.48 346.5) scale(1.1 1)" font-size="9.4" fill="#ffffff">2</text>
<line x1="418.5" y1="340.1" x2="418.5" y2="354.9" stroke="#f4eef6" stroke-width="1.15" />
<line x1="454.5" y1="340.1" x2="454.5" y2="354.9" stroke="#f4eef6" stroke-width="1.15" />
<text transform="translate(420.97 351.5) scale(0.96 1)" font-size="15.4" fill="#ffffff">Ψ</text>
<text transform="translate(432.77 353.5) scale(1.16 1)" font-size="9.7" fill="#ffffff">pho</text>
<text transform="translate(455.48 346.2) scale(1.1 1)" font-size="9.4" fill="#ffffff">2</text>
<text transform="translate(463.84 350.6) scale(1.13 1)" font-size="14.1" fill="#ffffff">x10</text>
</svg></body></html>
